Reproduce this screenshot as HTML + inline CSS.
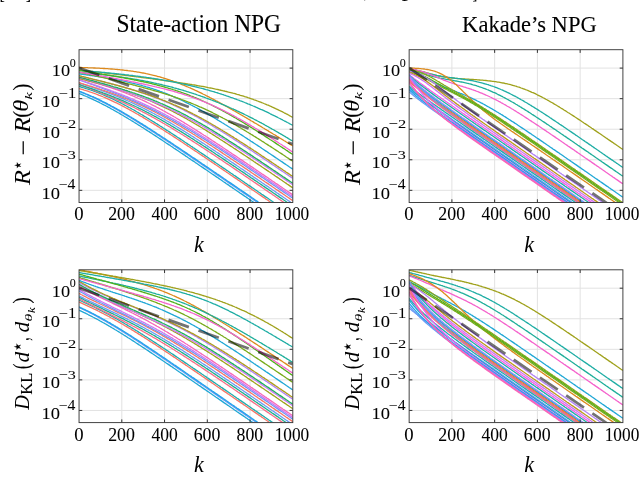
<!DOCTYPE html>
<html lang="en"><head><meta charset="utf-8"><title>NPG convergence</title>
<style>
html,body{margin:0;padding:0;background:#fff;width:640px;height:496px;overflow:hidden}
svg{display:block}
text{font-family:"Liberation Serif","DejaVu Serif",serif;fill:#000;stroke:#000;stroke-width:.15px}
.tk{font-size:16.6px}
.sup{font-size:12px}
.ti{font-size:21.5px}
.it{font-style:italic}
.rm{font-style:normal}
.grid{stroke:#e2e2e2;stroke-width:1;fill:none}
.tick{stroke:#333;stroke-width:1;fill:none}
.frame{stroke:#3a3a3a;stroke-width:.95;fill:none}
.c{fill:none;stroke-width:1.3;stroke-linejoin:round}
.dash{fill:none;stroke:#000;stroke-opacity:.55;stroke-width:2.7;stroke-dasharray:21.6 10.15}
.d2{stroke-dasharray:21.6 10.15}
</style></head><body>
<svg width="640" height="496" viewBox="0 0 640 496">
<defs><clipPath id="clip"><rect x="79.05" y="49.7" width="213.75" height="152.8"/></clipPath></defs>
<rect width="640" height="496" fill="#fff"/>

<text transform="matrix(0.4000 0 0 0.6121 -0.40 -1.51)" font-size="40" style="">[</text><text transform="matrix(0.4000 0 0 0.6121 25.80 -1.51)" font-size="40" style="">]</text><text transform="matrix(0.2833 0 0 0.3800 363.88 -1.48)" font-size="40" style="">,</text><text transform="matrix(0.6085 0 0 0.5486 401.74 -3.71)" font-size="40" style="">p</text><text transform="matrix(0.3657 0 0 0.5909 472.55 -2.10)" font-size="40" style="">]</text>
<g transform="translate(0,0)">
<path d="M121.80 49.7V202.5M164.55 49.7V202.5M207.30 49.7V202.5M250.05 49.7V202.5M79.05 68.10H292.80M79.05 98.66H292.80M79.05 129.22H292.80M79.05 159.78H292.80M79.05 190.34H292.80" class="grid"/>
<g clip-path="url(#clip)"><path class="c" stroke="#dc891c" d="M78.8 67.5L79.9 67.5L81.0 67.5L82.1 67.6L83.1 67.6L84.2 67.6L85.3 67.7L86.3 67.7L87.4 67.7L88.5 67.8L89.5 67.8L90.6 67.8L91.7 67.9L92.8 67.9L93.8 68.0L94.9 68.0L96.0 68.1L97.0 68.1L98.1 68.2L99.2 68.2L100.2 68.3L101.3 68.3L102.4 68.4L103.4 68.5L104.5 68.5L105.6 68.6L106.7 68.7L107.7 68.7L108.8 68.8L109.9 68.9L110.9 69.0L112.0 69.0L113.1 69.1L114.1 69.2L115.2 69.3L116.3 69.4L117.4 69.5L118.4 69.6L119.5 69.7L120.6 69.8L121.6 69.9L122.7 70.0L123.8 70.1L124.8 70.3L125.9 70.4L127.0 70.5L128.0 70.7L129.1 70.8L130.2 70.9L131.3 71.1L132.3 71.2L133.4 71.4L134.5 71.6L135.5 71.7L136.6 71.9L137.7 72.1L138.7 72.2L139.8 72.4L140.9 72.6L142.0 72.8L143.0 73.0L144.1 73.2L145.2 73.4L146.2 73.7L147.3 73.9L148.4 74.1L149.4 74.3L150.5 74.6L151.6 74.8L152.6 75.1L153.7 75.3L154.8 75.6L155.9 75.9L156.9 76.2L158.0 76.5L159.1 76.7L160.1 77.0L161.2 77.3L162.3 77.7L163.3 78.0L164.4 78.3L165.5 78.6L166.5 79.0L167.6 79.3L168.7 79.7L169.8 80.0L170.8 80.4L171.9 80.7L173.0 81.1L174.0 81.5L175.1 81.9L176.2 82.3L177.2 82.7L178.3 83.1L179.4 83.5L180.5 83.9L181.5 84.3L182.6 84.8L183.7 85.2L184.7 85.7L185.8 86.1L186.9 86.6L187.9 87.0L189.0 87.5L190.1 87.9L191.1 88.4L192.2 88.9L193.3 89.4L194.4 89.9L195.4 90.4L196.5 90.9L197.6 91.4L198.6 91.9L199.7 92.4L200.8 92.9L201.8 93.4L202.9 94.0L204.0 94.5L205.1 95.0L206.1 95.6L207.2 96.1L208.3 96.7L209.3 97.2L210.4 97.8L211.5 98.3L212.5 98.9L213.6 99.4L214.7 100.0L215.7 100.6L216.8 101.2L217.9 101.7L219.0 102.3L220.0 102.9L221.1 103.5L222.2 104.1L223.2 104.7L224.3 105.3L225.4 105.8L226.4 106.4L227.5 107.0L228.6 107.6L229.6 108.2L230.7 108.9L231.8 109.5L232.9 110.1L233.9 110.7L235.0 111.3L236.1 111.9L237.1 112.5L238.2 113.1L239.3 113.8L240.3 114.4L241.4 115.0L242.5 115.6L243.6 116.3L244.6 116.9L245.7 117.5L246.8 118.1L247.8 118.8L248.9 119.4L250.0 120.0L251.0 120.7L252.1 121.3L253.2 121.9L254.2 122.6L255.3 123.2L256.4 123.8L257.5 124.5L258.5 125.1L259.6 125.8L260.7 126.4L261.7 127.0L262.8 127.7L263.9 128.3L264.9 129.0L266.0 129.6L267.1 130.3L268.2 130.9L269.2 131.6L270.3 132.2L271.4 132.9L272.4 133.5L273.5 134.2L274.6 134.8L275.6 135.4L276.7 136.1L277.8 136.7L278.8 137.4L279.9 138.1L281.0 138.7L282.1 139.4L283.1 140.0L284.2 140.7L285.3 141.3L286.3 142.0L287.4 142.6L288.5 143.3L289.5 143.9L290.6 144.6L291.7 145.2L292.8 145.9"/><path class="c" stroke="#9fa11b" d="M78.8 69.8L79.9 69.9L81.0 70.1L82.1 70.2L83.1 70.3L84.2 70.4L85.3 70.6L86.3 70.7L87.4 70.8L88.5 71.0L89.5 71.1L90.6 71.2L91.7 71.3L92.8 71.5L93.8 71.6L94.9 71.7L96.0 71.8L97.0 72.0L98.1 72.1L99.2 72.2L100.2 72.4L101.3 72.5L102.4 72.6L103.4 72.7L104.5 72.9L105.6 73.0L106.7 73.1L107.7 73.3L108.8 73.4L109.9 73.5L110.9 73.6L112.0 73.8L113.1 73.9L114.1 74.0L115.2 74.2L116.3 74.3L117.4 74.4L118.4 74.5L119.5 74.7L120.6 74.8L121.6 74.9L122.7 75.1L123.8 75.2L124.8 75.3L125.9 75.5L127.0 75.6L128.0 75.7L129.1 75.9L130.2 76.0L131.3 76.1L132.3 76.3L133.4 76.4L134.5 76.5L135.5 76.7L136.6 76.8L137.7 76.9L138.7 77.1L139.8 77.2L140.9 77.3L142.0 77.5L143.0 77.6L144.1 77.8L145.2 77.9L146.2 78.0L147.3 78.2L148.4 78.3L149.4 78.4L150.5 78.6L151.6 78.7L152.6 78.9L153.7 79.0L154.8 79.2L155.9 79.3L156.9 79.4L158.0 79.6L159.1 79.7L160.1 79.9L161.2 80.0L162.3 80.2L163.3 80.3L164.4 80.5L165.5 80.6L166.5 80.8L167.6 80.9L168.7 81.1L169.8 81.2L170.8 81.4L171.9 81.5L173.0 81.7L174.0 81.8L175.1 82.0L176.2 82.1L177.2 82.3L178.3 82.5L179.4 82.6L180.5 82.8L181.5 83.0L182.6 83.1L183.7 83.3L184.7 83.4L185.8 83.6L186.9 83.8L187.9 84.0L189.0 84.1L190.1 84.3L191.1 84.5L192.2 84.7L193.3 84.8L194.4 85.0L195.4 85.2L196.5 85.4L197.6 85.6L198.6 85.8L199.7 86.0L200.8 86.1L201.8 86.3L202.9 86.5L204.0 86.7L205.1 86.9L206.1 87.1L207.2 87.3L208.3 87.6L209.3 87.8L210.4 88.0L211.5 88.2L212.5 88.4L213.6 88.6L214.7 88.9L215.7 89.1L216.8 89.3L217.9 89.5L219.0 89.8L220.0 90.0L221.1 90.3L222.2 90.5L223.2 90.8L224.3 91.0L225.4 91.3L226.4 91.5L227.5 91.8L228.6 92.1L229.6 92.3L230.7 92.6L231.8 92.9L232.9 93.2L233.9 93.4L235.0 93.7L236.1 94.0L237.1 94.3L238.2 94.6L239.3 94.9L240.3 95.3L241.4 95.6L242.5 95.9L243.6 96.2L244.6 96.6L245.7 96.9L246.8 97.2L247.8 97.6L248.9 97.9L250.0 98.3L251.0 98.7L252.1 99.0L253.2 99.4L254.2 99.8L255.3 100.2L256.4 100.6L257.5 101.0L258.5 101.4L259.6 101.8L260.7 102.2L261.7 102.6L262.8 103.0L263.9 103.5L264.9 103.9L266.0 104.3L267.1 104.8L268.2 105.2L269.2 105.7L270.3 106.2L271.4 106.6L272.4 107.1L273.5 107.6L274.6 108.1L275.6 108.6L276.7 109.1L277.8 109.6L278.8 110.1L279.9 110.6L281.0 111.2L282.1 111.7L283.1 112.2L284.2 112.8L285.3 113.3L286.3 113.9L287.4 114.4L288.5 115.0L289.5 115.6L290.6 116.2L291.7 116.8L292.8 117.3"/><path class="c" stroke="#1eada4" d="M78.8 70.4L79.9 70.5L81.0 70.5L82.1 70.6L83.1 70.7L84.2 70.8L85.3 70.9L86.3 71.0L87.4 71.1L88.5 71.1L89.5 71.2L90.6 71.3L91.7 71.4L92.8 71.5L93.8 71.6L94.9 71.7L96.0 71.8L97.0 71.9L98.1 72.0L99.2 72.1L100.2 72.2L101.3 72.3L102.4 72.3L103.4 72.4L104.5 72.5L105.6 72.6L106.7 72.8L107.7 72.9L108.8 73.0L109.9 73.1L110.9 73.2L112.0 73.3L113.1 73.4L114.1 73.5L115.2 73.6L116.3 73.7L117.4 73.8L118.4 73.9L119.5 74.1L120.6 74.2L121.6 74.3L122.7 74.4L123.8 74.5L124.8 74.7L125.9 74.8L127.0 74.9L128.0 75.0L129.1 75.2L130.2 75.3L131.3 75.4L132.3 75.5L133.4 75.7L134.5 75.8L135.5 76.0L136.6 76.1L137.7 76.2L138.7 76.4L139.8 76.5L140.9 76.7L142.0 76.8L143.0 76.9L144.1 77.1L145.2 77.2L146.2 77.4L147.3 77.6L148.4 77.7L149.4 77.9L150.5 78.0L151.6 78.2L152.6 78.4L153.7 78.5L154.8 78.7L155.9 78.9L156.9 79.0L158.0 79.2L159.1 79.4L160.1 79.6L161.2 79.7L162.3 79.9L163.3 80.1L164.4 80.3L165.5 80.5L166.5 80.7L167.6 80.9L168.7 81.1L169.8 81.3L170.8 81.5L171.9 81.7L173.0 81.9L174.0 82.1L175.1 82.3L176.2 82.5L177.2 82.7L178.3 82.9L179.4 83.1L180.5 83.4L181.5 83.6L182.6 83.8L183.7 84.1L184.7 84.3L185.8 84.5L186.9 84.8L187.9 85.0L189.0 85.3L190.1 85.5L191.1 85.8L192.2 86.0L193.3 86.3L194.4 86.5L195.4 86.8L196.5 87.0L197.6 87.3L198.6 87.6L199.7 87.9L200.8 88.1L201.8 88.4L202.9 88.7L204.0 89.0L205.1 89.3L206.1 89.6L207.2 89.9L208.3 90.2L209.3 90.5L210.4 90.8L211.5 91.1L212.5 91.4L213.6 91.7L214.7 92.0L215.7 92.4L216.8 92.7L217.9 93.0L219.0 93.4L220.0 93.7L221.1 94.0L222.2 94.4L223.2 94.7L224.3 95.1L225.4 95.4L226.4 95.8L227.5 96.2L228.6 96.5L229.6 96.9L230.7 97.3L231.8 97.6L232.9 98.0L233.9 98.4L235.0 98.8L236.1 99.2L237.1 99.6L238.2 100.0L239.3 100.4L240.3 100.8L241.4 101.2L242.5 101.6L243.6 102.0L244.6 102.5L245.7 102.9L246.8 103.3L247.8 103.8L248.9 104.2L250.0 104.6L251.0 105.1L252.1 105.5L253.2 106.0L254.2 106.4L255.3 106.9L256.4 107.4L257.5 107.8L258.5 108.3L259.6 108.8L260.7 109.3L261.7 109.7L262.8 110.2L263.9 110.7L264.9 111.2L266.0 111.7L267.1 112.2L268.2 112.7L269.2 113.2L270.3 113.8L271.4 114.3L272.4 114.8L273.5 115.3L274.6 115.8L275.6 116.4L276.7 116.9L277.8 117.5L278.8 118.0L279.9 118.5L281.0 119.1L282.1 119.6L283.1 120.2L284.2 120.8L285.3 121.3L286.3 121.9L287.4 122.5L288.5 123.0L289.5 123.6L290.6 124.2L291.7 124.8L292.8 125.4"/><path class="c" stroke="#1dae99" d="M78.8 72.4L79.9 72.5L81.0 72.6L82.1 72.7L83.1 72.8L84.2 72.8L85.3 72.9L86.3 73.0L87.4 73.1L88.5 73.2L89.5 73.3L90.6 73.4L91.7 73.5L92.8 73.6L93.8 73.7L94.9 73.9L96.0 74.0L97.0 74.1L98.1 74.2L99.2 74.3L100.2 74.4L101.3 74.5L102.4 74.7L103.4 74.8L104.5 74.9L105.6 75.0L106.7 75.1L107.7 75.3L108.8 75.4L109.9 75.5L110.9 75.7L112.0 75.8L113.1 75.9L114.1 76.1L115.2 76.2L116.3 76.4L117.4 76.5L118.4 76.7L119.5 76.8L120.6 77.0L121.6 77.1L122.7 77.3L123.8 77.4L124.8 77.6L125.9 77.8L127.0 77.9L128.0 78.1L129.1 78.3L130.2 78.4L131.3 78.6L132.3 78.8L133.4 79.0L134.5 79.1L135.5 79.3L136.6 79.5L137.7 79.7L138.7 79.9L139.8 80.1L140.9 80.3L142.0 80.5L143.0 80.7L144.1 80.9L145.2 81.1L146.2 81.3L147.3 81.5L148.4 81.7L149.4 82.0L150.5 82.2L151.6 82.4L152.6 82.6L153.7 82.9L154.8 83.1L155.9 83.3L156.9 83.6L158.0 83.8L159.1 84.0L160.1 84.3L161.2 84.5L162.3 84.8L163.3 85.1L164.4 85.3L165.5 85.6L166.5 85.8L167.6 86.1L168.7 86.4L169.8 86.7L170.8 86.9L171.9 87.2L173.0 87.5L174.0 87.8L175.1 88.1L176.2 88.4L177.2 88.7L178.3 89.0L179.4 89.3L180.5 89.6L181.5 89.9L182.6 90.2L183.7 90.5L184.7 90.8L185.8 91.2L186.9 91.5L187.9 91.8L189.0 92.2L190.1 92.5L191.1 92.8L192.2 93.2L193.3 93.5L194.4 93.9L195.4 94.2L196.5 94.6L197.6 95.0L198.6 95.3L199.7 95.7L200.8 96.1L201.8 96.4L202.9 96.8L204.0 97.2L205.1 97.6L206.1 98.0L207.2 98.4L208.3 98.8L209.3 99.2L210.4 99.6L211.5 100.0L212.5 100.4L213.6 100.8L214.7 101.2L215.7 101.7L216.8 102.1L217.9 102.5L219.0 103.0L220.0 103.4L221.1 103.8L222.2 104.3L223.2 104.7L224.3 105.2L225.4 105.6L226.4 106.1L227.5 106.6L228.6 107.0L229.6 107.5L230.7 108.0L231.8 108.5L232.9 108.9L233.9 109.4L235.0 109.9L236.1 110.4L237.1 110.9L238.2 111.4L239.3 111.9L240.3 112.4L241.4 112.9L242.5 113.4L243.6 113.9L244.6 114.5L245.7 115.0L246.8 115.5L247.8 116.0L248.9 116.6L250.0 117.1L251.0 117.7L252.1 118.2L253.2 118.7L254.2 119.3L255.3 119.9L256.4 120.4L257.5 121.0L258.5 121.5L259.6 122.1L260.7 122.7L261.7 123.2L262.8 123.8L263.9 124.4L264.9 125.0L266.0 125.6L267.1 126.2L268.2 126.8L269.2 127.4L270.3 128.0L271.4 128.6L272.4 129.2L273.5 129.8L274.6 130.4L275.6 131.0L276.7 131.6L277.8 132.2L278.8 132.9L279.9 133.5L281.0 134.1L282.1 134.7L283.1 135.4L284.2 136.0L285.3 136.6L286.3 137.3L287.4 137.9L288.5 138.6L289.5 139.2L290.6 139.9L291.7 140.5L292.8 141.2"/><path class="c" stroke="#1fa7d5" d="M78.8 93.4L79.9 93.8L81.0 94.2L82.1 94.7L83.1 95.1L84.2 95.6L85.3 96.0L86.3 96.5L87.4 96.9L88.5 97.4L89.5 97.9L90.6 98.4L91.7 98.8L92.8 99.3L93.8 99.8L94.9 100.3L96.0 100.9L97.0 101.4L98.1 101.9L99.2 102.4L100.2 103.0L101.3 103.5L102.4 104.1L103.4 104.6L104.5 105.2L105.6 105.7L106.7 106.3L107.7 106.9L108.8 107.4L109.9 108.0L110.9 108.6L112.0 109.2L113.1 109.8L114.1 110.4L115.2 111.0L116.3 111.6L117.4 112.2L118.4 112.8L119.5 113.4L120.6 114.1L121.6 114.7L122.7 115.3L123.8 116.0L124.8 116.6L125.9 117.2L127.0 117.9L128.0 118.5L129.1 119.2L130.2 119.8L131.3 120.5L132.3 121.1L133.4 121.8L134.5 122.5L135.5 123.1L136.6 123.8L137.7 124.5L138.7 125.1L139.8 125.8L140.9 126.5L142.0 127.2L143.0 127.8L144.1 128.5L145.2 129.2L146.2 129.9L147.3 130.6L148.4 131.3L149.4 131.9L150.5 132.6L151.6 133.3L152.6 134.0L153.7 134.7L154.8 135.4L155.9 136.1L156.9 136.8L158.0 137.5L159.1 138.2L160.1 138.9L161.2 139.6L162.3 140.3L163.3 141.0L164.4 141.7L165.5 142.5L166.5 143.2L167.6 143.9L168.7 144.6L169.8 145.3L170.8 146.0L171.9 146.7L173.0 147.4L174.0 148.2L175.1 148.9L176.2 149.6L177.2 150.3L178.3 151.0L179.4 151.7L180.5 152.5L181.5 153.2L182.6 153.9L183.7 154.6L184.7 155.3L185.8 156.1L186.9 156.8L187.9 157.5L189.0 158.2L190.1 158.9L191.1 159.7L192.2 160.4L193.3 161.1L194.4 161.8L195.4 162.6L196.5 163.3L197.6 164.0L198.6 164.7L199.7 165.5L200.8 166.2L201.8 166.9L202.9 167.6L204.0 168.4L205.1 169.1L206.1 169.8L207.2 170.5L208.3 171.3L209.3 172.0L210.4 172.7L211.5 173.5L212.5 174.2L213.6 174.9L214.7 175.6L215.7 176.4L216.8 177.1L217.9 177.8L219.0 178.6L220.0 179.3L221.1 180.0L222.2 180.8L223.2 181.5L224.3 182.2L225.4 182.9L226.4 183.7L227.5 184.4L228.6 185.1L229.6 185.9L230.7 186.6L231.8 187.3L232.9 188.1L233.9 188.8L235.0 189.5L236.1 190.2L237.1 191.0L238.2 191.7L239.3 192.4L240.3 193.2L241.4 193.9L242.5 194.6L243.6 195.4L244.6 196.1L245.7 196.8L246.8 197.6L247.8 198.3L248.9 199.0L250.0 199.8L251.0 200.5L252.1 201.2L253.2 202.0L254.2 202.7L255.3 203.4L256.4 204.2L257.5 204.9L258.5 205.6L259.6 206.3L260.7 207.1L261.7 207.8L262.8 208.5L263.9 209.3L264.9 210.0L266.0 210.7L267.1 211.5L268.2 212.2L269.2 212.9L270.3 213.7L271.4 214.4L272.4 215.1L273.5 215.9L274.6 216.6L275.6 217.3L276.7 218.1L277.8 218.8L278.8 219.5L279.9 220.3L281.0 221.0"/><path class="c" stroke="#6b9bf4" d="M78.8 91.4L79.9 91.8L81.0 92.2L82.1 92.7L83.1 93.1L84.2 93.5L85.3 94.0L86.3 94.4L87.4 94.9L88.5 95.3L89.5 95.8L90.6 96.3L91.7 96.7L92.8 97.2L93.8 97.7L94.9 98.2L96.0 98.7L97.0 99.2L98.1 99.7L99.2 100.3L100.2 100.8L101.3 101.3L102.4 101.9L103.4 102.4L104.5 102.9L105.6 103.5L106.7 104.1L107.7 104.6L108.8 105.2L109.9 105.8L110.9 106.3L112.0 106.9L113.1 107.5L114.1 108.1L115.2 108.7L116.3 109.3L117.4 109.9L118.4 110.5L119.5 111.1L120.6 111.8L121.6 112.4L122.7 113.0L123.8 113.6L124.8 114.3L125.9 114.9L127.0 115.5L128.0 116.2L129.1 116.8L130.2 117.5L131.3 118.1L132.3 118.8L133.4 119.4L134.5 120.1L135.5 120.7L136.6 121.4L137.7 122.1L138.7 122.7L139.8 123.4L140.9 124.1L142.0 124.8L143.0 125.4L144.1 126.1L145.2 126.8L146.2 127.5L147.3 128.2L148.4 128.8L149.4 129.5L150.5 130.2L151.6 130.9L152.6 131.6L153.7 132.3L154.8 133.0L155.9 133.7L156.9 134.4L158.0 135.1L159.1 135.8L160.1 136.5L161.2 137.2L162.3 137.9L163.3 138.6L164.4 139.3L165.5 140.0L166.5 140.7L167.6 141.4L168.7 142.1L169.8 142.8L170.8 143.6L171.9 144.3L173.0 145.0L174.0 145.7L175.1 146.4L176.2 147.1L177.2 147.8L178.3 148.6L179.4 149.3L180.5 150.0L181.5 150.7L182.6 151.4L183.7 152.1L184.7 152.9L185.8 153.6L186.9 154.3L187.9 155.0L189.0 155.7L190.1 156.5L191.1 157.2L192.2 157.9L193.3 158.6L194.4 159.4L195.4 160.1L196.5 160.8L197.6 161.5L198.6 162.3L199.7 163.0L200.8 163.7L201.8 164.4L202.9 165.2L204.0 165.9L205.1 166.6L206.1 167.3L207.2 168.1L208.3 168.8L209.3 169.5L210.4 170.3L211.5 171.0L212.5 171.7L213.6 172.4L214.7 173.2L215.7 173.9L216.8 174.6L217.9 175.4L219.0 176.1L220.0 176.8L221.1 177.5L222.2 178.3L223.2 179.0L224.3 179.7L225.4 180.5L226.4 181.2L227.5 181.9L228.6 182.7L229.6 183.4L230.7 184.1L231.8 184.8L232.9 185.6L233.9 186.3L235.0 187.0L236.1 187.8L237.1 188.5L238.2 189.2L239.3 190.0L240.3 190.7L241.4 191.4L242.5 192.2L243.6 192.9L244.6 193.6L245.7 194.3L246.8 195.1L247.8 195.8L248.9 196.5L250.0 197.3L251.0 198.0L252.1 198.7L253.2 199.5L254.2 200.2L255.3 200.9L256.4 201.7L257.5 202.4L258.5 203.1L259.6 203.9L260.7 204.6L261.7 205.3L262.8 206.1L263.9 206.8L264.9 207.5L266.0 208.3L267.1 209.0L268.2 209.7L269.2 210.5L270.3 211.2L271.4 211.9L272.4 212.7L273.5 213.4L274.6 214.1L275.6 214.9L276.7 215.6L277.8 216.3L278.8 217.1L279.9 217.8L281.0 218.5L282.1 219.2L283.1 220.0L284.2 220.7"/><path class="c" stroke="#20a3ec" d="M78.8 91.1L79.9 91.5L81.0 91.9L82.1 92.3L83.1 92.7L84.2 93.1L85.3 93.6L86.3 94.0L87.4 94.4L88.5 94.9L89.5 95.3L90.6 95.8L91.7 96.3L92.8 96.7L93.8 97.2L94.9 97.7L96.0 98.2L97.0 98.7L98.1 99.2L99.2 99.7L100.2 100.2L101.3 100.7L102.4 101.3L103.4 101.8L104.5 102.3L105.6 102.9L106.7 103.4L107.7 104.0L108.8 104.5L109.9 105.1L110.9 105.7L112.0 106.3L113.1 106.8L114.1 107.4L115.2 108.0L116.3 108.6L117.4 109.2L118.4 109.8L119.5 110.4L120.6 111.0L121.6 111.6L122.7 112.2L123.8 112.9L124.8 113.5L125.9 114.1L127.0 114.7L128.0 115.4L129.1 116.0L130.2 116.7L131.3 117.3L132.3 118.0L133.4 118.6L134.5 119.3L135.5 119.9L136.6 120.6L137.7 121.2L138.7 121.9L139.8 122.6L140.9 123.2L142.0 123.9L143.0 124.6L144.1 125.2L145.2 125.9L146.2 126.6L147.3 127.3L148.4 128.0L149.4 128.6L150.5 129.3L151.6 130.0L152.6 130.7L153.7 131.4L154.8 132.1L155.9 132.8L156.9 133.5L158.0 134.2L159.1 134.9L160.1 135.6L161.2 136.3L162.3 137.0L163.3 137.7L164.4 138.4L165.5 139.1L166.5 139.8L167.6 140.5L168.7 141.2L169.8 141.9L170.8 142.6L171.9 143.3L173.0 144.0L174.0 144.8L175.1 145.5L176.2 146.2L177.2 146.9L178.3 147.6L179.4 148.3L180.5 149.0L181.5 149.8L182.6 150.5L183.7 151.2L184.7 151.9L185.8 152.6L186.9 153.4L187.9 154.1L189.0 154.8L190.1 155.5L191.1 156.2L192.2 157.0L193.3 157.7L194.4 158.4L195.4 159.1L196.5 159.9L197.6 160.6L198.6 161.3L199.7 162.0L200.8 162.8L201.8 163.5L202.9 164.2L204.0 164.9L205.1 165.7L206.1 166.4L207.2 167.1L208.3 167.8L209.3 168.6L210.4 169.3L211.5 170.0L212.5 170.7L213.6 171.5L214.7 172.2L215.7 172.9L216.8 173.7L217.9 174.4L219.0 175.1L220.0 175.8L221.1 176.6L222.2 177.3L223.2 178.0L224.3 178.8L225.4 179.5L226.4 180.2L227.5 181.0L228.6 181.7L229.6 182.4L230.7 183.1L231.8 183.9L232.9 184.6L233.9 185.3L235.0 186.1L236.1 186.8L237.1 187.5L238.2 188.3L239.3 189.0L240.3 189.7L241.4 190.4L242.5 191.2L243.6 191.9L244.6 192.6L245.7 193.4L246.8 194.1L247.8 194.8L248.9 195.6L250.0 196.3L251.0 197.0L252.1 197.8L253.2 198.5L254.2 199.2L255.3 200.0L256.4 200.7L257.5 201.4L258.5 202.2L259.6 202.9L260.7 203.6L261.7 204.4L262.8 205.1L263.9 205.8L264.9 206.6L266.0 207.3L267.1 208.0L268.2 208.7L269.2 209.5L270.3 210.2L271.4 210.9L272.4 211.7L273.5 212.4L274.6 213.1L275.6 213.9L276.7 214.6L277.8 215.3L278.8 216.1L279.9 216.8L281.0 217.5L282.1 218.3L283.1 219.0L284.2 219.7L285.3 220.5L286.3 221.2"/><path class="c" stroke="#f77465" d="M78.8 88.5L79.9 88.8L81.0 89.1L82.1 89.4L83.1 89.7L84.2 90.1L85.3 90.4L86.3 90.7L87.4 91.0L88.5 91.4L89.5 91.8L90.6 92.1L91.7 92.5L92.8 92.9L93.8 93.2L94.9 93.6L96.0 94.0L97.0 94.4L98.1 94.8L99.2 95.3L100.2 95.7L101.3 96.1L102.4 96.5L103.4 97.0L104.5 97.4L105.6 97.9L106.7 98.4L107.7 98.8L108.8 99.3L109.9 99.8L110.9 100.3L112.0 100.8L113.1 101.3L114.1 101.8L115.2 102.3L116.3 102.8L117.4 103.4L118.4 103.9L119.5 104.4L120.6 105.0L121.6 105.5L122.7 106.1L123.8 106.6L124.8 107.2L125.9 107.8L127.0 108.3L128.0 108.9L129.1 109.5L130.2 110.1L131.3 110.7L132.3 111.3L133.4 111.9L134.5 112.5L135.5 113.1L136.6 113.7L137.7 114.3L138.7 114.9L139.8 115.6L140.9 116.2L142.0 116.8L143.0 117.4L144.1 118.1L145.2 118.7L146.2 119.4L147.3 120.0L148.4 120.7L149.4 121.3L150.5 122.0L151.6 122.6L152.6 123.3L153.7 123.9L154.8 124.6L155.9 125.3L156.9 125.9L158.0 126.6L159.1 127.3L160.1 128.0L161.2 128.6L162.3 129.3L163.3 130.0L164.4 130.7L165.5 131.4L166.5 132.1L167.6 132.8L168.7 133.4L169.8 134.1L170.8 134.8L171.9 135.5L173.0 136.2L174.0 136.9L175.1 137.6L176.2 138.3L177.2 139.0L178.3 139.7L179.4 140.4L180.5 141.1L181.5 141.8L182.6 142.5L183.7 143.2L184.7 144.0L185.8 144.7L186.9 145.4L187.9 146.1L189.0 146.8L190.1 147.5L191.1 148.2L192.2 148.9L193.3 149.7L194.4 150.4L195.4 151.1L196.5 151.8L197.6 152.5L198.6 153.2L199.7 154.0L200.8 154.7L201.8 155.4L202.9 156.1L204.0 156.8L205.1 157.6L206.1 158.3L207.2 159.0L208.3 159.7L209.3 160.4L210.4 161.2L211.5 161.9L212.5 162.6L213.6 163.3L214.7 164.1L215.7 164.8L216.8 165.5L217.9 166.2L219.0 167.0L220.0 167.7L221.1 168.4L222.2 169.1L223.2 169.9L224.3 170.6L225.4 171.3L226.4 172.1L227.5 172.8L228.6 173.5L229.6 174.2L230.7 175.0L231.8 175.7L232.9 176.4L233.9 177.2L235.0 177.9L236.1 178.6L237.1 179.3L238.2 180.1L239.3 180.8L240.3 181.5L241.4 182.3L242.5 183.0L243.6 183.7L244.6 184.4L245.7 185.2L246.8 185.9L247.8 186.6L248.9 187.4L250.0 188.1L251.0 188.8L252.1 189.6L253.2 190.3L254.2 191.0L255.3 191.8L256.4 192.5L257.5 193.2L258.5 194.0L259.6 194.7L260.7 195.4L261.7 196.1L262.8 196.9L263.9 197.6L264.9 198.3L266.0 199.1L267.1 199.8L268.2 200.5L269.2 201.3L270.3 202.0L271.4 202.7L272.4 203.5L273.5 204.2L274.6 204.9L275.6 205.7L276.7 206.4L277.8 207.1L278.8 207.9L279.9 208.6L281.0 209.3L282.1 210.1L283.1 210.8L284.2 211.5L285.3 212.3L286.3 213.0L287.4 213.7L288.5 214.4L289.5 215.2L290.6 215.9L291.7 216.6L292.8 217.4"/><path class="c" stroke="#1eacae" d="M78.8 86.4L79.9 86.7L81.0 87.0L82.1 87.3L83.1 87.6L84.2 87.9L85.3 88.3L86.3 88.6L87.4 88.9L88.5 89.3L89.5 89.6L90.6 90.0L91.7 90.4L92.8 90.7L93.8 91.1L94.9 91.5L96.0 91.9L97.0 92.3L98.1 92.7L99.2 93.2L100.2 93.6L101.3 94.0L102.4 94.5L103.4 94.9L104.5 95.4L105.6 95.8L106.7 96.3L107.7 96.8L108.8 97.2L109.9 97.7L110.9 98.2L112.0 98.7L113.1 99.2L114.1 99.7L115.2 100.2L116.3 100.8L117.4 101.3L118.4 101.8L119.5 102.4L120.6 102.9L121.6 103.5L122.7 104.0L123.8 104.6L124.8 105.1L125.9 105.7L127.0 106.3L128.0 106.9L129.1 107.5L130.2 108.0L131.3 108.6L132.3 109.2L133.4 109.8L134.5 110.4L135.5 111.0L136.6 111.7L137.7 112.3L138.7 112.9L139.8 113.5L140.9 114.2L142.0 114.8L143.0 115.4L144.1 116.1L145.2 116.7L146.2 117.3L147.3 118.0L148.4 118.6L149.4 119.3L150.5 120.0L151.6 120.6L152.6 121.3L153.7 121.9L154.8 122.6L155.9 123.3L156.9 123.9L158.0 124.6L159.1 125.3L160.1 126.0L161.2 126.6L162.3 127.3L163.3 128.0L164.4 128.7L165.5 129.4L166.5 130.1L167.6 130.8L168.7 131.4L169.8 132.1L170.8 132.8L171.9 133.5L173.0 134.2L174.0 134.9L175.1 135.6L176.2 136.3L177.2 137.0L178.3 137.7L179.4 138.4L180.5 139.1L181.5 139.8L182.6 140.5L183.7 141.3L184.7 142.0L185.8 142.7L186.9 143.4L187.9 144.1L189.0 144.8L190.1 145.5L191.1 146.2L192.2 146.9L193.3 147.7L194.4 148.4L195.4 149.1L196.5 149.8L197.6 150.5L198.6 151.2L199.7 152.0L200.8 152.7L201.8 153.4L202.9 154.1L204.0 154.8L205.1 155.6L206.1 156.3L207.2 157.0L208.3 157.7L209.3 158.5L210.4 159.2L211.5 159.9L212.5 160.6L213.6 161.3L214.7 162.1L215.7 162.8L216.8 163.5L217.9 164.2L219.0 165.0L220.0 165.7L221.1 166.4L222.2 167.2L223.2 167.9L224.3 168.6L225.4 169.3L226.4 170.1L227.5 170.8L228.6 171.5L229.6 172.2L230.7 173.0L231.8 173.7L232.9 174.4L233.9 175.2L235.0 175.9L236.1 176.6L237.1 177.4L238.2 178.1L239.3 178.8L240.3 179.5L241.4 180.3L242.5 181.0L243.6 181.7L244.6 182.5L245.7 183.2L246.8 183.9L247.8 184.7L248.9 185.4L250.0 186.1L251.0 186.8L252.1 187.6L253.2 188.3L254.2 189.0L255.3 189.8L256.4 190.5L257.5 191.2L258.5 192.0L259.6 192.7L260.7 193.4L261.7 194.2L262.8 194.9L263.9 195.6L264.9 196.4L266.0 197.1L267.1 197.8L268.2 198.5L269.2 199.3L270.3 200.0L271.4 200.7L272.4 201.5L273.5 202.2L274.6 202.9L275.6 203.7L276.7 204.4L277.8 205.1L278.8 205.9L279.9 206.6L281.0 207.3L282.1 208.1L283.1 208.8L284.2 209.5L285.3 210.3L286.3 211.0L287.4 211.7L288.5 212.5L289.5 213.2L290.6 213.9L291.7 214.7L292.8 215.4"/><path class="c" stroke="#f76e89" d="M78.8 84.6L79.9 84.9L81.0 85.3L82.1 85.7L83.1 86.1L84.2 86.5L85.3 86.9L86.3 87.3L87.4 87.7L88.5 88.1L89.5 88.5L90.6 88.9L91.7 89.3L92.8 89.7L93.8 90.2L94.9 90.6L96.0 91.0L97.0 91.4L98.1 91.8L99.2 92.2L100.2 92.7L101.3 93.1L102.4 93.5L103.4 93.9L104.5 94.4L105.6 94.8L106.7 95.3L107.7 95.7L108.8 96.1L109.9 96.6L110.9 97.0L112.0 97.5L113.1 97.9L114.1 98.4L115.2 98.9L116.3 99.3L117.4 99.8L118.4 100.3L119.5 100.7L120.6 101.2L121.6 101.7L122.7 102.2L123.8 102.7L124.8 103.2L125.9 103.7L127.0 104.2L128.0 104.7L129.1 105.2L130.2 105.7L131.3 106.2L132.3 106.7L133.4 107.2L134.5 107.7L135.5 108.3L136.6 108.8L137.7 109.3L138.7 109.9L139.8 110.4L140.9 111.0L142.0 111.5L143.0 112.1L144.1 112.6L145.2 113.2L146.2 113.7L147.3 114.3L148.4 114.9L149.4 115.4L150.5 116.0L151.6 116.6L152.6 117.2L153.7 117.8L154.8 118.4L155.9 119.0L156.9 119.6L158.0 120.2L159.1 120.8L160.1 121.4L161.2 122.0L162.3 122.6L163.3 123.2L164.4 123.8L165.5 124.5L166.5 125.1L167.6 125.7L168.7 126.4L169.8 127.0L170.8 127.6L171.9 128.3L173.0 128.9L174.0 129.6L175.1 130.2L176.2 130.9L177.2 131.5L178.3 132.2L179.4 132.8L180.5 133.5L181.5 134.2L182.6 134.8L183.7 135.5L184.7 136.2L185.8 136.8L186.9 137.5L187.9 138.2L189.0 138.9L190.1 139.5L191.1 140.2L192.2 140.9L193.3 141.6L194.4 142.3L195.4 143.0L196.5 143.6L197.6 144.3L198.6 145.0L199.7 145.7L200.8 146.4L201.8 147.1L202.9 147.8L204.0 148.5L205.1 149.2L206.1 149.9L207.2 150.6L208.3 151.3L209.3 152.0L210.4 152.7L211.5 153.4L212.5 154.1L213.6 154.8L214.7 155.5L215.7 156.3L216.8 157.0L217.9 157.7L219.0 158.4L220.0 159.1L221.1 159.8L222.2 160.5L223.2 161.2L224.3 162.0L225.4 162.7L226.4 163.4L227.5 164.1L228.6 164.8L229.6 165.5L230.7 166.3L231.8 167.0L232.9 167.7L233.9 168.4L235.0 169.1L236.1 169.9L237.1 170.6L238.2 171.3L239.3 172.0L240.3 172.8L241.4 173.5L242.5 174.2L243.6 174.9L244.6 175.7L245.7 176.4L246.8 177.1L247.8 177.8L248.9 178.6L250.0 179.3L251.0 180.0L252.1 180.7L253.2 181.5L254.2 182.2L255.3 182.9L256.4 183.6L257.5 184.4L258.5 185.1L259.6 185.8L260.7 186.6L261.7 187.3L262.8 188.0L263.9 188.7L264.9 189.5L266.0 190.2L267.1 190.9L268.2 191.7L269.2 192.4L270.3 193.1L271.4 193.8L272.4 194.6L273.5 195.3L274.6 196.0L275.6 196.8L276.7 197.5L277.8 198.2L278.8 199.0L279.9 199.7L281.0 200.4L282.1 201.2L283.1 201.9L284.2 202.6L285.3 203.3L286.3 204.1L287.4 204.8L288.5 205.5L289.5 206.3L290.6 207.0L291.7 207.7L292.8 208.5"/><path class="c" stroke="#1daf8c" d="M78.8 84.4L79.9 84.7L81.0 85.1L82.1 85.5L83.1 85.8L84.2 86.2L85.3 86.5L86.3 86.9L87.4 87.2L88.5 87.6L89.5 88.0L90.6 88.3L91.7 88.7L92.8 89.1L93.8 89.5L94.9 89.8L96.0 90.2L97.0 90.6L98.1 91.0L99.2 91.4L100.2 91.8L101.3 92.2L102.4 92.6L103.4 93.0L104.5 93.4L105.6 93.8L106.7 94.2L107.7 94.6L108.8 95.0L109.9 95.4L110.9 95.8L112.0 96.3L113.1 96.7L114.1 97.1L115.2 97.6L116.3 98.0L117.4 98.4L118.4 98.9L119.5 99.3L120.6 99.8L121.6 100.2L122.7 100.7L123.8 101.2L124.8 101.6L125.9 102.1L127.0 102.6L128.0 103.0L129.1 103.5L130.2 104.0L131.3 104.5L132.3 105.0L133.4 105.5L134.5 106.0L135.5 106.5L136.6 107.0L137.7 107.5L138.7 108.1L139.8 108.6L140.9 109.1L142.0 109.6L143.0 110.2L144.1 110.7L145.2 111.3L146.2 111.8L147.3 112.4L148.4 112.9L149.4 113.5L150.5 114.0L151.6 114.6L152.6 115.2L153.7 115.8L154.8 116.3L155.9 116.9L156.9 117.5L158.0 118.1L159.1 118.7L160.1 119.3L161.2 119.9L162.3 120.5L163.3 121.1L164.4 121.7L165.5 122.3L166.5 123.0L167.6 123.6L168.7 124.2L169.8 124.8L170.8 125.5L171.9 126.1L173.0 126.7L174.0 127.4L175.1 128.0L176.2 128.7L177.2 129.3L178.3 130.0L179.4 130.6L180.5 131.3L181.5 131.9L182.6 132.6L183.7 133.3L184.7 133.9L185.8 134.6L186.9 135.3L187.9 135.9L189.0 136.6L190.1 137.3L191.1 138.0L192.2 138.6L193.3 139.3L194.4 140.0L195.4 140.7L196.5 141.4L197.6 142.1L198.6 142.7L199.7 143.4L200.8 144.1L201.8 144.8L202.9 145.5L204.0 146.2L205.1 146.9L206.1 147.6L207.2 148.3L208.3 149.0L209.3 149.7L210.4 150.4L211.5 151.1L212.5 151.8L213.6 152.5L214.7 153.2L215.7 154.0L216.8 154.7L217.9 155.4L219.0 156.1L220.0 156.8L221.1 157.5L222.2 158.2L223.2 158.9L224.3 159.6L225.4 160.4L226.4 161.1L227.5 161.8L228.6 162.5L229.6 163.2L230.7 163.9L231.8 164.7L232.9 165.4L233.9 166.1L235.0 166.8L236.1 167.5L237.1 168.3L238.2 169.0L239.3 169.7L240.3 170.4L241.4 171.2L242.5 171.9L243.6 172.6L244.6 173.3L245.7 174.1L246.8 174.8L247.8 175.5L248.9 176.2L250.0 177.0L251.0 177.7L252.1 178.4L253.2 179.1L254.2 179.9L255.3 180.6L256.4 181.3L257.5 182.0L258.5 182.8L259.6 183.5L260.7 184.2L261.7 184.9L262.8 185.7L263.9 186.4L264.9 187.1L266.0 187.9L267.1 188.6L268.2 189.3L269.2 190.1L270.3 190.8L271.4 191.5L272.4 192.2L273.5 193.0L274.6 193.7L275.6 194.4L276.7 195.2L277.8 195.9L278.8 196.6L279.9 197.4L281.0 198.1L282.1 198.8L283.1 199.5L284.2 200.3L285.3 201.0L286.3 201.7L287.4 202.5L288.5 203.2L289.5 203.9L290.6 204.7L291.7 205.4L292.8 206.1"/><path class="c" stroke="#6b9bf4" d="M78.8 82.9L79.9 83.2L81.0 83.6L82.1 83.9L83.1 84.2L84.2 84.6L85.3 84.9L86.3 85.3L87.4 85.6L88.5 86.0L89.5 86.3L90.6 86.7L91.7 87.1L92.8 87.4L93.8 87.8L94.9 88.1L96.0 88.5L97.0 88.9L98.1 89.3L99.2 89.6L100.2 90.0L101.3 90.4L102.4 90.8L103.4 91.2L104.5 91.6L105.6 92.0L106.7 92.4L107.7 92.7L108.8 93.2L109.9 93.6L110.9 94.0L112.0 94.4L113.1 94.8L114.1 95.2L115.2 95.6L116.3 96.1L117.4 96.5L118.4 96.9L119.5 97.4L120.6 97.8L121.6 98.3L122.7 98.7L123.8 99.2L124.8 99.6L125.9 100.1L127.0 100.5L128.0 101.0L129.1 101.5L130.2 102.0L131.3 102.4L132.3 102.9L133.4 103.4L134.5 103.9L135.5 104.4L136.6 104.9L137.7 105.4L138.7 105.9L139.8 106.4L140.9 107.0L142.0 107.5L143.0 108.0L144.1 108.5L145.2 109.1L146.2 109.6L147.3 110.2L148.4 110.7L149.4 111.3L150.5 111.8L151.6 112.4L152.6 113.0L153.7 113.5L154.8 114.1L155.9 114.7L156.9 115.3L158.0 115.8L159.1 116.4L160.1 117.0L161.2 117.6L162.3 118.2L163.3 118.8L164.4 119.4L165.5 120.0L166.5 120.7L167.6 121.3L168.7 121.9L169.8 122.5L170.8 123.1L171.9 123.8L173.0 124.4L174.0 125.0L175.1 125.7L176.2 126.3L177.2 127.0L178.3 127.6L179.4 128.3L180.5 128.9L181.5 129.6L182.6 130.2L183.7 130.9L184.7 131.5L185.8 132.2L186.9 132.9L187.9 133.5L189.0 134.2L190.1 134.9L191.1 135.6L192.2 136.2L193.3 136.9L194.4 137.6L195.4 138.3L196.5 139.0L197.6 139.6L198.6 140.3L199.7 141.0L200.8 141.7L201.8 142.4L202.9 143.1L204.0 143.8L205.1 144.5L206.1 145.2L207.2 145.9L208.3 146.6L209.3 147.3L210.4 148.0L211.5 148.7L212.5 149.4L213.6 150.1L214.7 150.8L215.7 151.5L216.8 152.2L217.9 152.9L219.0 153.6L220.0 154.3L221.1 155.0L222.2 155.8L223.2 156.5L224.3 157.2L225.4 157.9L226.4 158.6L227.5 159.3L228.6 160.0L229.6 160.8L230.7 161.5L231.8 162.2L232.9 162.9L233.9 163.6L235.0 164.4L236.1 165.1L237.1 165.8L238.2 166.5L239.3 167.2L240.3 168.0L241.4 168.7L242.5 169.4L243.6 170.1L244.6 170.9L245.7 171.6L246.8 172.3L247.8 173.0L248.9 173.7L250.0 174.5L251.0 175.2L252.1 175.9L253.2 176.7L254.2 177.4L255.3 178.1L256.4 178.8L257.5 179.6L258.5 180.3L259.6 181.0L260.7 181.7L261.7 182.5L262.8 183.2L263.9 183.9L264.9 184.7L266.0 185.4L267.1 186.1L268.2 186.8L269.2 187.6L270.3 188.3L271.4 189.0L272.4 189.8L273.5 190.5L274.6 191.2L275.6 191.9L276.7 192.7L277.8 193.4L278.8 194.1L279.9 194.9L281.0 195.6L282.1 196.3L283.1 197.1L284.2 197.8L285.3 198.5L286.3 199.3L287.4 200.0L288.5 200.7L289.5 201.4L290.6 202.2L291.7 202.9L292.8 203.6"/><path class="c" stroke="#f77465" d="M78.8 82.7L79.9 83.0L81.0 83.3L82.1 83.7L83.1 84.0L84.2 84.3L85.3 84.6L86.3 84.9L87.4 85.2L88.5 85.6L89.5 85.9L90.6 86.2L91.7 86.5L92.8 86.9L93.8 87.2L94.9 87.6L96.0 87.9L97.0 88.2L98.1 88.6L99.2 88.9L100.2 89.3L101.3 89.6L102.4 90.0L103.4 90.3L104.5 90.7L105.6 91.1L106.7 91.4L107.7 91.8L108.8 92.2L109.9 92.5L110.9 92.9L112.0 93.3L113.1 93.7L114.1 94.1L115.2 94.5L116.3 94.9L117.4 95.3L118.4 95.7L119.5 96.1L120.6 96.5L121.6 96.9L122.7 97.3L123.8 97.8L124.8 98.2L125.9 98.6L127.0 99.0L128.0 99.5L129.1 99.9L130.2 100.4L131.3 100.8L132.3 101.3L133.4 101.8L134.5 102.2L135.5 102.7L136.6 103.2L137.7 103.6L138.7 104.1L139.8 104.6L140.9 105.1L142.0 105.6L143.0 106.1L144.1 106.6L145.2 107.1L146.2 107.6L147.3 108.2L148.4 108.7L149.4 109.2L150.5 109.7L151.6 110.3L152.6 110.8L153.7 111.4L154.8 111.9L155.9 112.5L156.9 113.0L158.0 113.6L159.1 114.2L160.1 114.7L161.2 115.3L162.3 115.9L163.3 116.5L164.4 117.1L165.5 117.7L166.5 118.3L167.6 118.9L168.7 119.5L169.8 120.1L170.8 120.7L171.9 121.3L173.0 121.9L174.0 122.5L175.1 123.1L176.2 123.8L177.2 124.4L178.3 125.0L179.4 125.7L180.5 126.3L181.5 126.9L182.6 127.6L183.7 128.2L184.7 128.9L185.8 129.5L186.9 130.2L187.9 130.9L189.0 131.5L190.1 132.2L191.1 132.8L192.2 133.5L193.3 134.2L194.4 134.8L195.4 135.5L196.5 136.2L197.6 136.9L198.6 137.5L199.7 138.2L200.8 138.9L201.8 139.6L202.9 140.3L204.0 141.0L205.1 141.7L206.1 142.3L207.2 143.0L208.3 143.7L209.3 144.4L210.4 145.1L211.5 145.8L212.5 146.5L213.6 147.2L214.7 147.9L215.7 148.6L216.8 149.3L217.9 150.0L219.0 150.7L220.0 151.4L221.1 152.1L222.2 152.9L223.2 153.6L224.3 154.3L225.4 155.0L226.4 155.7L227.5 156.4L228.6 157.1L229.6 157.8L230.7 158.6L231.8 159.3L232.9 160.0L233.9 160.7L235.0 161.4L236.1 162.1L237.1 162.9L238.2 163.6L239.3 164.3L240.3 165.0L241.4 165.7L242.5 166.4L243.6 167.2L244.6 167.9L245.7 168.6L246.8 169.3L247.8 170.1L248.9 170.8L250.0 171.5L251.0 172.2L252.1 173.0L253.2 173.7L254.2 174.4L255.3 175.1L256.4 175.9L257.5 176.6L258.5 177.3L259.6 178.0L260.7 178.8L261.7 179.5L262.8 180.2L263.9 180.9L264.9 181.7L266.0 182.4L267.1 183.1L268.2 183.9L269.2 184.6L270.3 185.3L271.4 186.0L272.4 186.8L273.5 187.5L274.6 188.2L275.6 189.0L276.7 189.7L277.8 190.4L278.8 191.1L279.9 191.9L281.0 192.6L282.1 193.3L283.1 194.1L284.2 194.8L285.3 195.5L286.3 196.3L287.4 197.0L288.5 197.7L289.5 198.4L290.6 199.2L291.7 199.9L292.8 200.6"/><path class="c" stroke="#6b9bf4" d="M78.8 79.8L79.9 80.2L81.0 80.6L82.1 80.9L83.1 81.3L84.2 81.7L85.3 82.1L86.3 82.4L87.4 82.8L88.5 83.2L89.5 83.6L90.6 84.0L91.7 84.3L92.8 84.7L93.8 85.1L94.9 85.5L96.0 85.9L97.0 86.3L98.1 86.7L99.2 87.1L100.2 87.5L101.3 87.9L102.4 88.3L103.4 88.7L104.5 89.1L105.6 89.5L106.7 89.9L107.7 90.3L108.8 90.7L109.9 91.1L110.9 91.5L112.0 91.9L113.1 92.3L114.1 92.7L115.2 93.2L116.3 93.6L117.4 94.0L118.4 94.4L119.5 94.9L120.6 95.3L121.6 95.7L122.7 96.2L123.8 96.6L124.8 97.0L125.9 97.5L127.0 97.9L128.0 98.4L129.1 98.8L130.2 99.3L131.3 99.8L132.3 100.2L133.4 100.7L134.5 101.2L135.5 101.6L136.6 102.1L137.7 102.6L138.7 103.1L139.8 103.5L140.9 104.0L142.0 104.5L143.0 105.0L144.1 105.5L145.2 106.0L146.2 106.5L147.3 107.0L148.4 107.6L149.4 108.1L150.5 108.6L151.6 109.1L152.6 109.6L153.7 110.2L154.8 110.7L155.9 111.2L156.9 111.8L158.0 112.3L159.1 112.9L160.1 113.4L161.2 114.0L162.3 114.6L163.3 115.1L164.4 115.7L165.5 116.3L166.5 116.8L167.6 117.4L168.7 118.0L169.8 118.6L170.8 119.2L171.9 119.8L173.0 120.4L174.0 121.0L175.1 121.6L176.2 122.2L177.2 122.8L178.3 123.4L179.4 124.0L180.5 124.6L181.5 125.2L182.6 125.9L183.7 126.5L184.7 127.1L185.8 127.8L186.9 128.4L187.9 129.0L189.0 129.7L190.1 130.3L191.1 131.0L192.2 131.6L193.3 132.3L194.4 132.9L195.4 133.6L196.5 134.2L197.6 134.9L198.6 135.6L199.7 136.2L200.8 136.9L201.8 137.6L202.9 138.2L204.0 138.9L205.1 139.6L206.1 140.3L207.2 140.9L208.3 141.6L209.3 142.3L210.4 143.0L211.5 143.7L212.5 144.4L213.6 145.1L214.7 145.7L215.7 146.4L216.8 147.1L217.9 147.8L219.0 148.5L220.0 149.2L221.1 149.9L222.2 150.6L223.2 151.3L224.3 152.0L225.4 152.7L226.4 153.4L227.5 154.1L228.6 154.8L229.6 155.6L230.7 156.3L231.8 157.0L232.9 157.7L233.9 158.4L235.0 159.1L236.1 159.8L237.1 160.5L238.2 161.2L239.3 162.0L240.3 162.7L241.4 163.4L242.5 164.1L243.6 164.8L244.6 165.5L245.7 166.3L246.8 167.0L247.8 167.7L248.9 168.4L250.0 169.1L251.0 169.9L252.1 170.6L253.2 171.3L254.2 172.0L255.3 172.7L256.4 173.5L257.5 174.2L258.5 174.9L259.6 175.6L260.7 176.4L261.7 177.1L262.8 177.8L263.9 178.5L264.9 179.3L266.0 180.0L267.1 180.7L268.2 181.4L269.2 182.2L270.3 182.9L271.4 183.6L272.4 184.3L273.5 185.1L274.6 185.8L275.6 186.5L276.7 187.3L277.8 188.0L278.8 188.7L279.9 189.4L281.0 190.2L282.1 190.9L283.1 191.6L284.2 192.4L285.3 193.1L286.3 193.8L287.4 194.5L288.5 195.3L289.5 196.0L290.6 196.7L291.7 197.5L292.8 198.2"/><path class="c" stroke="#cc76f4" d="M78.8 79.7L79.9 80.0L81.0 80.4L82.1 80.7L83.1 81.0L84.2 81.4L85.3 81.7L86.3 82.1L87.4 82.4L88.5 82.8L89.5 83.1L90.6 83.5L91.7 83.9L92.8 84.2L93.8 84.6L94.9 84.9L96.0 85.3L97.0 85.7L98.1 86.0L99.2 86.4L100.2 86.8L101.3 87.1L102.4 87.5L103.4 87.9L104.5 88.3L105.6 88.6L106.7 89.0L107.7 89.4L108.8 89.8L109.9 90.2L110.9 90.6L112.0 91.0L113.1 91.4L114.1 91.8L115.2 92.2L116.3 92.6L117.4 93.0L118.4 93.4L119.5 93.8L120.6 94.2L121.6 94.6L122.7 95.0L123.8 95.4L124.8 95.9L125.9 96.3L127.0 96.7L128.0 97.2L129.1 97.6L130.2 98.0L131.3 98.5L132.3 98.9L133.4 99.4L134.5 99.8L135.5 100.3L136.6 100.8L137.7 101.2L138.7 101.7L139.8 102.2L140.9 102.7L142.0 103.1L143.0 103.6L144.1 104.1L145.2 104.6L146.2 105.1L147.3 105.6L148.4 106.1L149.4 106.6L150.5 107.1L151.6 107.6L152.6 108.2L153.7 108.7L154.8 109.2L155.9 109.7L156.9 110.3L158.0 110.8L159.1 111.4L160.1 111.9L161.2 112.5L162.3 113.0L163.3 113.6L164.4 114.2L165.5 114.7L166.5 115.3L167.6 115.9L168.7 116.5L169.8 117.0L170.8 117.6L171.9 118.2L173.0 118.8L174.0 119.4L175.1 120.0L176.2 120.6L177.2 121.2L178.3 121.8L179.4 122.4L180.5 123.1L181.5 123.7L182.6 124.3L183.7 124.9L184.7 125.6L185.8 126.2L186.9 126.8L187.9 127.5L189.0 128.1L190.1 128.8L191.1 129.4L192.2 130.1L193.3 130.7L194.4 131.4L195.4 132.0L196.5 132.7L197.6 133.3L198.6 134.0L199.7 134.7L200.8 135.3L201.8 136.0L202.9 136.7L204.0 137.4L205.1 138.0L206.1 138.7L207.2 139.4L208.3 140.1L209.3 140.8L210.4 141.4L211.5 142.1L212.5 142.8L213.6 143.5L214.7 144.2L215.7 144.9L216.8 145.6L217.9 146.3L219.0 147.0L220.0 147.7L221.1 148.4L222.2 149.1L223.2 149.8L224.3 150.5L225.4 151.2L226.4 151.9L227.5 152.6L228.6 153.3L229.6 154.0L230.7 154.7L231.8 155.4L232.9 156.1L233.9 156.9L235.0 157.6L236.1 158.3L237.1 159.0L238.2 159.7L239.3 160.4L240.3 161.1L241.4 161.9L242.5 162.6L243.6 163.3L244.6 164.0L245.7 164.7L246.8 165.4L247.8 166.2L248.9 166.9L250.0 167.6L251.0 168.3L252.1 169.0L253.2 169.8L254.2 170.5L255.3 171.2L256.4 171.9L257.5 172.7L258.5 173.4L259.6 174.1L260.7 174.8L261.7 175.6L262.8 176.3L263.9 177.0L264.9 177.7L266.0 178.5L267.1 179.2L268.2 179.9L269.2 180.6L270.3 181.4L271.4 182.1L272.4 182.8L273.5 183.5L274.6 184.3L275.6 185.0L276.7 185.7L277.8 186.5L278.8 187.2L279.9 187.9L281.0 188.6L282.1 189.4L283.1 190.1L284.2 190.8L285.3 191.6L286.3 192.3L287.4 193.0L288.5 193.8L289.5 194.5L290.6 195.2L291.7 195.9L292.8 196.7"/><path class="c" stroke="#f667b7" d="M78.8 78.4L79.9 78.7L81.0 79.0L82.1 79.3L83.1 79.5L84.2 79.8L85.3 80.1L86.3 80.4L87.4 80.7L88.5 81.0L89.5 81.3L90.6 81.6L91.7 81.9L92.8 82.2L93.8 82.5L94.9 82.8L96.0 83.1L97.0 83.4L98.1 83.7L99.2 84.0L100.2 84.3L101.3 84.7L102.4 85.0L103.4 85.3L104.5 85.7L105.6 86.0L106.7 86.3L107.7 86.7L108.8 87.0L109.9 87.4L110.9 87.7L112.0 88.1L113.1 88.4L114.1 88.8L115.2 89.2L116.3 89.6L117.4 89.9L118.4 90.3L119.5 90.7L120.6 91.1L121.6 91.5L122.7 91.9L123.8 92.3L124.8 92.7L125.9 93.1L127.0 93.6L128.0 94.0L129.1 94.4L130.2 94.8L131.3 95.3L132.3 95.7L133.4 96.2L134.5 96.6L135.5 97.1L136.6 97.5L137.7 98.0L138.7 98.5L139.8 99.0L140.9 99.5L142.0 99.9L143.0 100.4L144.1 100.9L145.2 101.4L146.2 101.9L147.3 102.5L148.4 103.0L149.4 103.5L150.5 104.0L151.6 104.6L152.6 105.1L153.7 105.6L154.8 106.2L155.9 106.7L156.9 107.3L158.0 107.8L159.1 108.4L160.1 109.0L161.2 109.5L162.3 110.1L163.3 110.7L164.4 111.3L165.5 111.9L166.5 112.5L167.6 113.1L168.7 113.7L169.8 114.3L170.8 114.9L171.9 115.5L173.0 116.1L174.0 116.7L175.1 117.3L176.2 118.0L177.2 118.6L178.3 119.2L179.4 119.9L180.5 120.5L181.5 121.1L182.6 121.8L183.7 122.4L184.7 123.1L185.8 123.7L186.9 124.4L187.9 125.0L189.0 125.7L190.1 126.4L191.1 127.0L192.2 127.7L193.3 128.4L194.4 129.0L195.4 129.7L196.5 130.4L197.6 131.1L198.6 131.7L199.7 132.4L200.8 133.1L201.8 133.8L202.9 134.5L204.0 135.2L205.1 135.8L206.1 136.5L207.2 137.2L208.3 137.9L209.3 138.6L210.4 139.3L211.5 140.0L212.5 140.7L213.6 141.4L214.7 142.1L215.7 142.8L216.8 143.5L217.9 144.2L219.0 144.9L220.0 145.6L221.1 146.3L222.2 147.0L223.2 147.8L224.3 148.5L225.4 149.2L226.4 149.9L227.5 150.6L228.6 151.3L229.6 152.0L230.7 152.7L231.8 153.5L232.9 154.2L233.9 154.9L235.0 155.6L236.1 156.3L237.1 157.0L238.2 157.8L239.3 158.5L240.3 159.2L241.4 159.9L242.5 160.6L243.6 161.4L244.6 162.1L245.7 162.8L246.8 163.5L247.8 164.3L248.9 165.0L250.0 165.7L251.0 166.4L252.1 167.1L253.2 167.9L254.2 168.6L255.3 169.3L256.4 170.1L257.5 170.8L258.5 171.5L259.6 172.2L260.7 173.0L261.7 173.7L262.8 174.4L263.9 175.1L264.9 175.9L266.0 176.6L267.1 177.3L268.2 178.0L269.2 178.8L270.3 179.5L271.4 180.2L272.4 181.0L273.5 181.7L274.6 182.4L275.6 183.2L276.7 183.9L277.8 184.6L278.8 185.3L279.9 186.1L281.0 186.8L282.1 187.5L283.1 188.3L284.2 189.0L285.3 189.7L286.3 190.5L287.4 191.2L288.5 191.9L289.5 192.6L290.6 193.4L291.7 194.1L292.8 194.8"/><path class="c" stroke="#9fa11b" d="M78.8 78.3L79.9 78.6L81.0 78.8L82.1 79.1L83.1 79.4L84.2 79.6L85.3 79.9L86.3 80.2L87.4 80.5L88.5 80.8L89.5 81.0L90.6 81.3L91.7 81.6L92.8 81.9L93.8 82.2L94.9 82.5L96.0 82.7L97.0 83.0L98.1 83.3L99.2 83.6L100.2 83.9L101.3 84.2L102.4 84.5L103.4 84.8L104.5 85.1L105.6 85.4L106.7 85.7L107.7 86.0L108.8 86.4L109.9 86.7L110.9 87.0L112.0 87.3L113.1 87.6L114.1 88.0L115.2 88.3L116.3 88.6L117.4 88.9L118.4 89.3L119.5 89.6L120.6 90.0L121.6 90.3L122.7 90.7L123.8 91.0L124.8 91.4L125.9 91.7L127.0 92.1L128.0 92.4L129.1 92.8L130.2 93.2L131.3 93.6L132.3 93.9L133.4 94.3L134.5 94.7L135.5 95.1L136.6 95.5L137.7 95.9L138.7 96.3L139.8 96.7L140.9 97.1L142.0 97.5L143.0 97.9L144.1 98.4L145.2 98.8L146.2 99.2L147.3 99.7L148.4 100.1L149.4 100.5L150.5 101.0L151.6 101.5L152.6 101.9L153.7 102.4L154.8 102.8L155.9 103.3L156.9 103.8L158.0 104.3L159.1 104.8L160.1 105.3L161.2 105.8L162.3 106.3L163.3 106.8L164.4 107.3L165.5 107.8L166.5 108.3L167.6 108.8L168.7 109.4L169.8 109.9L170.8 110.4L171.9 111.0L173.0 111.5L174.0 112.1L175.1 112.6L176.2 113.2L177.2 113.8L178.3 114.3L179.4 114.9L180.5 115.5L181.5 116.1L182.6 116.7L183.7 117.3L184.7 117.8L185.8 118.4L186.9 119.0L187.9 119.7L189.0 120.3L190.1 120.9L191.1 121.5L192.2 122.1L193.3 122.7L194.4 123.4L195.4 124.0L196.5 124.6L197.6 125.3L198.6 125.9L199.7 126.5L200.8 127.2L201.8 127.8L202.9 128.5L204.0 129.1L205.1 129.8L206.1 130.4L207.2 131.1L208.3 131.8L209.3 132.4L210.4 133.1L211.5 133.8L212.5 134.4L213.6 135.1L214.7 135.8L215.7 136.5L216.8 137.1L217.9 137.8L219.0 138.5L220.0 139.2L221.1 139.9L222.2 140.5L223.2 141.2L224.3 141.9L225.4 142.6L226.4 143.3L227.5 144.0L228.6 144.7L229.6 145.4L230.7 146.1L231.8 146.8L232.9 147.5L233.9 148.2L235.0 148.9L236.1 149.6L237.1 150.3L238.2 151.0L239.3 151.7L240.3 152.4L241.4 153.1L242.5 153.9L243.6 154.6L244.6 155.3L245.7 156.0L246.8 156.7L247.8 157.4L248.9 158.1L250.0 158.8L251.0 159.6L252.1 160.3L253.2 161.0L254.2 161.7L255.3 162.4L256.4 163.2L257.5 163.9L258.5 164.6L259.6 165.3L260.7 166.0L261.7 166.8L262.8 167.5L263.9 168.2L264.9 168.9L266.0 169.6L267.1 170.4L268.2 171.1L269.2 171.8L270.3 172.5L271.4 173.3L272.4 174.0L273.5 174.7L274.6 175.4L275.6 176.2L276.7 176.9L277.8 177.6L278.8 178.3L279.9 179.1L281.0 179.8L282.1 180.5L283.1 181.3L284.2 182.0L285.3 182.7L286.3 183.4L287.4 184.2L288.5 184.9L289.5 185.6L290.6 186.4L291.7 187.1L292.8 187.8"/><path class="c" stroke="#cc76f4" d="M78.8 77.2L79.9 77.5L81.0 77.8L82.1 78.1L83.1 78.5L84.2 78.8L85.3 79.1L86.3 79.4L87.4 79.7L88.5 80.0L89.5 80.3L90.6 80.6L91.7 81.0L92.8 81.3L93.8 81.6L94.9 81.9L96.0 82.2L97.0 82.5L98.1 82.9L99.2 83.2L100.2 83.5L101.3 83.8L102.4 84.1L103.4 84.5L104.5 84.8L105.6 85.1L106.7 85.5L107.7 85.8L108.8 86.1L109.9 86.5L110.9 86.8L112.0 87.1L113.1 87.5L114.1 87.8L115.2 88.1L116.3 88.5L117.4 88.8L118.4 89.2L119.5 89.5L120.6 89.9L121.6 90.2L122.7 90.6L123.8 90.9L124.8 91.3L125.9 91.6L127.0 92.0L128.0 92.4L129.1 92.7L130.2 93.1L131.3 93.5L132.3 93.8L133.4 94.2L134.5 94.6L135.5 95.0L136.6 95.4L137.7 95.8L138.7 96.1L139.8 96.5L140.9 96.9L142.0 97.3L143.0 97.7L144.1 98.1L145.2 98.6L146.2 99.0L147.3 99.4L148.4 99.8L149.4 100.2L150.5 100.6L151.6 101.1L152.6 101.5L153.7 101.9L154.8 102.4L155.9 102.8L156.9 103.3L158.0 103.7L159.1 104.2L160.1 104.6L161.2 105.1L162.3 105.6L163.3 106.0L164.4 106.5L165.5 107.0L166.5 107.5L167.6 108.0L168.7 108.5L169.8 109.0L170.8 109.5L171.9 110.0L173.0 110.5L174.0 111.0L175.1 111.5L176.2 112.0L177.2 112.6L178.3 113.1L179.4 113.6L180.5 114.2L181.5 114.7L182.6 115.3L183.7 115.8L184.7 116.4L185.8 116.9L186.9 117.5L187.9 118.1L189.0 118.6L190.1 119.2L191.1 119.8L192.2 120.4L193.3 121.0L194.4 121.5L195.4 122.1L196.5 122.7L197.6 123.3L198.6 123.9L199.7 124.6L200.8 125.2L201.8 125.8L202.9 126.4L204.0 127.0L205.1 127.6L206.1 128.3L207.2 128.9L208.3 129.5L209.3 130.2L210.4 130.8L211.5 131.5L212.5 132.1L213.6 132.8L214.7 133.4L215.7 134.1L216.8 134.7L217.9 135.4L219.0 136.0L220.0 136.7L221.1 137.4L222.2 138.0L223.2 138.7L224.3 139.4L225.4 140.0L226.4 140.7L227.5 141.4L228.6 142.1L229.6 142.8L230.7 143.4L231.8 144.1L232.9 144.8L233.9 145.5L235.0 146.2L236.1 146.9L237.1 147.6L238.2 148.3L239.3 149.0L240.3 149.7L241.4 150.4L242.5 151.1L243.6 151.8L244.6 152.5L245.7 153.2L246.8 153.9L247.8 154.6L248.9 155.3L250.0 156.0L251.0 156.7L252.1 157.4L253.2 158.1L254.2 158.8L255.3 159.5L256.4 160.2L257.5 160.9L258.5 161.7L259.6 162.4L260.7 163.1L261.7 163.8L262.8 164.5L263.9 165.2L264.9 166.0L266.0 166.7L267.1 167.4L268.2 168.1L269.2 168.8L270.3 169.5L271.4 170.3L272.4 171.0L273.5 171.7L274.6 172.4L275.6 173.2L276.7 173.9L277.8 174.6L278.8 175.3L279.9 176.0L281.0 176.8L282.1 177.5L283.1 178.2L284.2 178.9L285.3 179.7L286.3 180.4L287.4 181.1L288.5 181.8L289.5 182.6L290.6 183.3L291.7 184.0L292.8 184.8"/><path class="c" stroke="#1cb25c" d="M78.8 77.1L79.9 77.3L81.0 77.6L82.1 77.9L83.1 78.2L84.2 78.5L85.3 78.7L86.3 79.0L87.4 79.3L88.5 79.6L89.5 79.9L90.6 80.2L91.7 80.5L92.8 80.7L93.8 81.0L94.9 81.3L96.0 81.6L97.0 81.9L98.1 82.2L99.2 82.5L100.2 82.8L101.3 83.1L102.4 83.4L103.4 83.7L104.5 84.0L105.6 84.3L106.7 84.6L107.7 84.9L108.8 85.2L109.9 85.5L110.9 85.8L112.0 86.1L113.1 86.5L114.1 86.8L115.2 87.1L116.3 87.4L117.4 87.7L118.4 88.1L119.5 88.4L120.6 88.7L121.6 89.0L122.7 89.4L123.8 89.7L124.8 90.1L125.9 90.4L127.0 90.7L128.0 91.1L129.1 91.4L130.2 91.8L131.3 92.1L132.3 92.5L133.4 92.9L134.5 93.2L135.5 93.6L136.6 94.0L137.7 94.3L138.7 94.7L139.8 95.1L140.9 95.5L142.0 95.8L143.0 96.2L144.1 96.6L145.2 97.0L146.2 97.4L147.3 97.8L148.4 98.2L149.4 98.7L150.5 99.1L151.6 99.5L152.6 99.9L153.7 100.3L154.8 100.8L155.9 101.2L156.9 101.7L158.0 102.1L159.1 102.5L160.1 103.0L161.2 103.5L162.3 103.9L163.3 104.4L164.4 104.9L165.5 105.3L166.5 105.8L167.6 106.3L168.7 106.8L169.8 107.3L170.8 107.8L171.9 108.3L173.0 108.8L174.0 109.3L175.1 109.8L176.2 110.4L177.2 110.9L178.3 111.4L179.4 111.9L180.5 112.5L181.5 113.0L182.6 113.6L183.7 114.1L184.7 114.7L185.8 115.2L186.9 115.8L187.9 116.4L189.0 117.0L190.1 117.5L191.1 118.1L192.2 118.7L193.3 119.3L194.4 119.9L195.4 120.5L196.5 121.1L197.6 121.7L198.6 122.3L199.7 122.9L200.8 123.5L201.8 124.1L202.9 124.8L204.0 125.4L205.1 126.0L206.1 126.6L207.2 127.3L208.3 127.9L209.3 128.5L210.4 129.2L211.5 129.8L212.5 130.5L213.6 131.1L214.7 131.8L215.7 132.4L216.8 133.1L217.9 133.8L219.0 134.4L220.0 135.1L221.1 135.8L222.2 136.4L223.2 137.1L224.3 137.8L225.4 138.5L226.4 139.1L227.5 139.8L228.6 140.5L229.6 141.2L230.7 141.9L231.8 142.5L232.9 143.2L233.9 143.9L235.0 144.6L236.1 145.3L237.1 146.0L238.2 146.7L239.3 147.4L240.3 148.1L241.4 148.8L242.5 149.5L243.6 150.2L244.6 150.9L245.7 151.6L246.8 152.3L247.8 153.0L248.9 153.7L250.0 154.4L251.0 155.1L252.1 155.8L253.2 156.6L254.2 157.3L255.3 158.0L256.4 158.7L257.5 159.4L258.5 160.1L259.6 160.8L260.7 161.5L261.7 162.3L262.8 163.0L263.9 163.7L264.9 164.4L266.0 165.1L267.1 165.9L268.2 166.6L269.2 167.3L270.3 168.0L271.4 168.7L272.4 169.5L273.5 170.2L274.6 170.9L275.6 171.6L276.7 172.3L277.8 173.1L278.8 173.8L279.9 174.5L281.0 175.2L282.1 176.0L283.1 176.7L284.2 177.4L285.3 178.1L286.3 178.9L287.4 179.6L288.5 180.3L289.5 181.0L290.6 181.8L291.7 182.5L292.8 183.2"/><path class="c" stroke="#b283f4" d="M78.8 75.9L79.9 76.2L81.0 76.4L82.1 76.7L83.1 76.9L84.2 77.1L85.3 77.4L86.3 77.7L87.4 77.9L88.5 78.2L89.5 78.4L90.6 78.7L91.7 78.9L92.8 79.2L93.8 79.4L94.9 79.7L96.0 80.0L97.0 80.2L98.1 80.5L99.2 80.7L100.2 81.0L101.3 81.3L102.4 81.5L103.4 81.8L104.5 82.1L105.6 82.3L106.7 82.6L107.7 82.9L108.8 83.2L109.9 83.4L110.9 83.7L112.0 84.0L113.1 84.3L114.1 84.6L115.2 84.9L116.3 85.2L117.4 85.4L118.4 85.7L119.5 86.0L120.6 86.3L121.6 86.6L122.7 86.9L123.8 87.2L124.8 87.5L125.9 87.8L127.0 88.2L128.0 88.5L129.1 88.8L130.2 89.1L131.3 89.4L132.3 89.8L133.4 90.1L134.5 90.4L135.5 90.7L136.6 91.1L137.7 91.4L138.7 91.8L139.8 92.1L140.9 92.5L142.0 92.8L143.0 93.2L144.1 93.5L145.2 93.9L146.2 94.3L147.3 94.7L148.4 95.0L149.4 95.4L150.5 95.8L151.6 96.2L152.6 96.6L153.7 97.0L154.8 97.4L155.9 97.8L156.9 98.2L158.0 98.6L159.1 99.0L160.1 99.5L161.2 99.9L162.3 100.3L163.3 100.8L164.4 101.2L165.5 101.7L166.5 102.1L167.6 102.6L168.7 103.0L169.8 103.5L170.8 104.0L171.9 104.5L173.0 104.9L174.0 105.4L175.1 105.9L176.2 106.4L177.2 106.9L178.3 107.4L179.4 107.9L180.5 108.5L181.5 109.0L182.6 109.5L183.7 110.0L184.7 110.6L185.8 111.1L186.9 111.7L187.9 112.2L189.0 112.8L190.1 113.3L191.1 113.9L192.2 114.4L193.3 115.0L194.4 115.6L195.4 116.2L196.5 116.7L197.6 117.3L198.6 117.9L199.7 118.5L200.8 119.1L201.8 119.7L202.9 120.3L204.0 120.9L205.1 121.6L206.1 122.2L207.2 122.8L208.3 123.4L209.3 124.0L210.4 124.7L211.5 125.3L212.5 125.9L213.6 126.6L214.7 127.2L215.7 127.9L216.8 128.5L217.9 129.2L219.0 129.8L220.0 130.5L221.1 131.1L222.2 131.8L223.2 132.5L224.3 133.1L225.4 133.8L226.4 134.5L227.5 135.1L228.6 135.8L229.6 136.5L230.7 137.2L231.8 137.8L232.9 138.5L233.9 139.2L235.0 139.9L236.1 140.6L237.1 141.3L238.2 141.9L239.3 142.6L240.3 143.3L241.4 144.0L242.5 144.7L243.6 145.4L244.6 146.1L245.7 146.8L246.8 147.5L247.8 148.2L248.9 148.9L250.0 149.6L251.0 150.3L252.1 151.0L253.2 151.7L254.2 152.4L255.3 153.2L256.4 153.9L257.5 154.6L258.5 155.3L259.6 156.0L260.7 156.7L261.7 157.4L262.8 158.1L263.9 158.8L264.9 159.6L266.0 160.3L267.1 161.0L268.2 161.7L269.2 162.4L270.3 163.2L271.4 163.9L272.4 164.6L273.5 165.3L274.6 166.0L275.6 166.8L276.7 167.5L277.8 168.2L278.8 168.9L279.9 169.6L281.0 170.4L282.1 171.1L283.1 171.8L284.2 172.5L285.3 173.3L286.3 174.0L287.4 174.7L288.5 175.4L289.5 176.2L290.6 176.9L291.7 177.6L292.8 178.3"/><path class="c" stroke="#ae9d1b" d="M78.8 75.7L79.9 75.9L81.0 76.2L82.1 76.5L83.1 76.7L84.2 77.0L85.3 77.2L86.3 77.5L87.4 77.7L88.5 78.0L89.5 78.3L90.6 78.5L91.7 78.8L92.8 79.1L93.8 79.3L94.9 79.6L96.0 79.8L97.0 80.1L98.1 80.4L99.2 80.7L100.2 80.9L101.3 81.2L102.4 81.5L103.4 81.7L104.5 82.0L105.6 82.3L106.7 82.6L107.7 82.8L108.8 83.1L109.9 83.4L110.9 83.7L112.0 84.0L113.1 84.2L114.1 84.5L115.2 84.8L116.3 85.1L117.4 85.4L118.4 85.7L119.5 86.0L120.6 86.3L121.6 86.6L122.7 86.9L123.8 87.2L124.8 87.5L125.9 87.8L127.0 88.1L128.0 88.4L129.1 88.7L130.2 89.0L131.3 89.3L132.3 89.7L133.4 90.0L134.5 90.3L135.5 90.6L136.6 91.0L137.7 91.3L138.7 91.6L139.8 92.0L140.9 92.3L142.0 92.7L143.0 93.0L144.1 93.4L145.2 93.7L146.2 94.1L147.3 94.4L148.4 94.8L149.4 95.2L150.5 95.5L151.6 95.9L152.6 96.3L153.7 96.7L154.8 97.1L155.9 97.5L156.9 97.8L158.0 98.2L159.1 98.7L160.1 99.1L161.2 99.5L162.3 99.9L163.3 100.3L164.4 100.7L165.5 101.2L166.5 101.6L167.6 102.0L168.7 102.5L169.8 102.9L170.8 103.4L171.9 103.8L173.0 104.3L174.0 104.8L175.1 105.2L176.2 105.7L177.2 106.2L178.3 106.7L179.4 107.2L180.5 107.7L181.5 108.2L182.6 108.7L183.7 109.2L184.7 109.7L185.8 110.2L186.9 110.7L187.9 111.3L189.0 111.8L190.1 112.3L191.1 112.9L192.2 113.4L193.3 114.0L194.4 114.5L195.4 115.1L196.5 115.6L197.6 116.2L198.6 116.8L199.7 117.4L200.8 117.9L201.8 118.5L202.9 119.1L204.0 119.7L205.1 120.3L206.1 120.9L207.2 121.5L208.3 122.1L209.3 122.7L210.4 123.3L211.5 124.0L212.5 124.6L213.6 125.2L214.7 125.8L215.7 126.5L216.8 127.1L217.9 127.7L219.0 128.4L220.0 129.0L221.1 129.7L222.2 130.3L223.2 131.0L224.3 131.6L225.4 132.3L226.4 132.9L227.5 133.6L228.6 134.2L229.6 134.9L230.7 135.6L231.8 136.2L232.9 136.9L233.9 137.6L235.0 138.3L236.1 138.9L237.1 139.6L238.2 140.3L239.3 141.0L240.3 141.7L241.4 142.4L242.5 143.0L243.6 143.7L244.6 144.4L245.7 145.1L246.8 145.8L247.8 146.5L248.9 147.2L250.0 147.9L251.0 148.6L252.1 149.3L253.2 150.0L254.2 150.7L255.3 151.4L256.4 152.1L257.5 152.8L258.5 153.5L259.6 154.2L260.7 154.9L261.7 155.7L262.8 156.4L263.9 157.1L264.9 157.8L266.0 158.5L267.1 159.2L268.2 159.9L269.2 160.6L270.3 161.4L271.4 162.1L272.4 162.8L273.5 163.5L274.6 164.2L275.6 164.9L276.7 165.7L277.8 166.4L278.8 167.1L279.9 167.8L281.0 168.5L282.1 169.3L283.1 170.0L284.2 170.7L285.3 171.4L286.3 172.2L287.4 172.9L288.5 173.6L289.5 174.3L290.6 175.1L291.7 175.8L292.8 176.5"/><path class="c" stroke="#1fa7d5" d="M78.8 73.9L79.9 74.0L81.0 74.1L82.1 74.3L83.1 74.4L84.2 74.6L85.3 74.7L86.3 74.9L87.4 75.0L88.5 75.2L89.5 75.3L90.6 75.5L91.7 75.6L92.8 75.8L93.8 75.9L94.9 76.1L96.0 76.3L97.0 76.4L98.1 76.6L99.2 76.8L100.2 76.9L101.3 77.1L102.4 77.3L103.4 77.4L104.5 77.6L105.6 77.8L106.7 78.0L107.7 78.1L108.8 78.3L109.9 78.5L110.9 78.7L112.0 78.9L113.1 79.1L114.1 79.3L115.2 79.5L116.3 79.7L117.4 79.9L118.4 80.1L119.5 80.3L120.6 80.5L121.6 80.7L122.7 80.9L123.8 81.2L124.8 81.4L125.9 81.6L127.0 81.8L128.0 82.1L129.1 82.3L130.2 82.6L131.3 82.8L132.3 83.1L133.4 83.3L134.5 83.6L135.5 83.9L136.6 84.1L137.7 84.4L138.7 84.7L139.8 85.0L140.9 85.2L142.0 85.5L143.0 85.8L144.1 86.1L145.2 86.4L146.2 86.8L147.3 87.1L148.4 87.4L149.4 87.7L150.5 88.1L151.6 88.4L152.6 88.7L153.7 89.1L154.8 89.4L155.9 89.8L156.9 90.2L158.0 90.5L159.1 90.9L160.1 91.3L161.2 91.7L162.3 92.1L163.3 92.5L164.4 92.9L165.5 93.3L166.5 93.7L167.6 94.2L168.7 94.6L169.8 95.0L170.8 95.5L171.9 95.9L173.0 96.4L174.0 96.8L175.1 97.3L176.2 97.8L177.2 98.2L178.3 98.7L179.4 99.2L180.5 99.7L181.5 100.2L182.6 100.7L183.7 101.2L184.7 101.8L185.8 102.3L186.9 102.8L187.9 103.3L189.0 103.9L190.1 104.4L191.1 105.0L192.2 105.5L193.3 106.1L194.4 106.6L195.4 107.2L196.5 107.8L197.6 108.4L198.6 108.9L199.7 109.5L200.8 110.1L201.8 110.7L202.9 111.3L204.0 111.9L205.1 112.5L206.1 113.1L207.2 113.7L208.3 114.4L209.3 115.0L210.4 115.6L211.5 116.2L212.5 116.9L213.6 117.5L214.7 118.1L215.7 118.8L216.8 119.4L217.9 120.1L219.0 120.7L220.0 121.4L221.1 122.0L222.2 122.7L223.2 123.3L224.3 124.0L225.4 124.7L226.4 125.3L227.5 126.0L228.6 126.7L229.6 127.3L230.7 128.0L231.8 128.7L232.9 129.4L233.9 130.1L235.0 130.7L236.1 131.4L237.1 132.1L238.2 132.8L239.3 133.5L240.3 134.2L241.4 134.9L242.5 135.6L243.6 136.3L244.6 137.0L245.7 137.7L246.8 138.4L247.8 139.1L248.9 139.8L250.0 140.5L251.0 141.2L252.1 141.9L253.2 142.6L254.2 143.3L255.3 144.0L256.4 144.7L257.5 145.4L258.5 146.1L259.6 146.8L260.7 147.5L261.7 148.3L262.8 149.0L263.9 149.7L264.9 150.4L266.0 151.1L267.1 151.8L268.2 152.6L269.2 153.3L270.3 154.0L271.4 154.7L272.4 155.4L273.5 156.1L274.6 156.9L275.6 157.6L276.7 158.3L277.8 159.0L278.8 159.8L279.9 160.5L281.0 161.2L282.1 161.9L283.1 162.6L284.2 163.4L285.3 164.1L286.3 164.8L287.4 165.5L288.5 166.3L289.5 167.0L290.6 167.7L291.7 168.4L292.8 169.2"/><path class="c" stroke="#77ab1b" d="M78.8 72.0L79.9 72.3L81.0 72.5L82.1 72.8L83.1 73.0L84.2 73.2L85.3 73.5L86.3 73.7L87.4 74.0L88.5 74.2L89.5 74.5L90.6 74.7L91.7 75.0L92.8 75.2L93.8 75.4L94.9 75.7L96.0 75.9L97.0 76.2L98.1 76.4L99.2 76.7L100.2 76.9L101.3 77.2L102.4 77.4L103.4 77.7L104.5 77.9L105.6 78.2L106.7 78.4L107.7 78.7L108.8 78.9L109.9 79.2L110.9 79.4L112.0 79.7L113.1 80.0L114.1 80.2L115.2 80.5L116.3 80.7L117.4 81.0L118.4 81.2L119.5 81.5L120.6 81.8L121.6 82.0L122.7 82.3L123.8 82.5L124.8 82.8L125.9 83.1L127.0 83.3L128.0 83.6L129.1 83.9L130.2 84.1L131.3 84.4L132.3 84.7L133.4 85.0L134.5 85.2L135.5 85.5L136.6 85.8L137.7 86.1L138.7 86.4L139.8 86.6L140.9 86.9L142.0 87.2L143.0 87.5L144.1 87.8L145.2 88.1L146.2 88.4L147.3 88.7L148.4 89.0L149.4 89.2L150.5 89.5L151.6 89.9L152.6 90.2L153.7 90.5L154.8 90.8L155.9 91.1L156.9 91.4L158.0 91.7L159.1 92.0L160.1 92.4L161.2 92.7L162.3 93.0L163.3 93.3L164.4 93.7L165.5 94.0L166.5 94.3L167.6 94.7L168.7 95.0L169.8 95.4L170.8 95.7L171.9 96.1L173.0 96.5L174.0 96.8L175.1 97.2L176.2 97.6L177.2 97.9L178.3 98.3L179.4 98.7L180.5 99.1L181.5 99.5L182.6 99.9L183.7 100.3L184.7 100.7L185.8 101.1L186.9 101.5L187.9 101.9L189.0 102.3L190.1 102.7L191.1 103.2L192.2 103.6L193.3 104.0L194.4 104.5L195.4 104.9L196.5 105.4L197.6 105.8L198.6 106.3L199.7 106.8L200.8 107.2L201.8 107.7L202.9 108.2L204.0 108.7L205.1 109.2L206.1 109.7L207.2 110.2L208.3 110.7L209.3 111.2L210.4 111.7L211.5 112.2L212.5 112.7L213.6 113.3L214.7 113.8L215.7 114.3L216.8 114.9L217.9 115.4L219.0 116.0L220.0 116.5L221.1 117.1L222.2 117.6L223.2 118.2L224.3 118.8L225.4 119.4L226.4 119.9L227.5 120.5L228.6 121.1L229.6 121.7L230.7 122.3L231.8 122.9L232.9 123.5L233.9 124.1L235.0 124.7L236.1 125.3L237.1 126.0L238.2 126.6L239.3 127.2L240.3 127.8L241.4 128.5L242.5 129.1L243.6 129.7L244.6 130.4L245.7 131.0L246.8 131.7L247.8 132.3L248.9 133.0L250.0 133.6L251.0 134.3L252.1 134.9L253.2 135.6L254.2 136.3L255.3 136.9L256.4 137.6L257.5 138.3L258.5 138.9L259.6 139.6L260.7 140.3L261.7 141.0L262.8 141.6L263.9 142.3L264.9 143.0L266.0 143.7L267.1 144.4L268.2 145.1L269.2 145.8L270.3 146.4L271.4 147.1L272.4 147.8L273.5 148.5L274.6 149.2L275.6 149.9L276.7 150.6L277.8 151.3L278.8 152.0L279.9 152.7L281.0 153.4L282.1 154.1L283.1 154.8L284.2 155.5L285.3 156.3L286.3 157.0L287.4 157.7L288.5 158.4L289.5 159.1L290.6 159.8L291.7 160.5L292.8 161.2"/><path class="c" stroke="#50b11b" d="M78.8 70.4L79.9 70.6L81.0 70.7L82.1 70.9L83.1 71.1L84.2 71.2L85.3 71.4L86.3 71.6L87.4 71.7L88.5 71.9L89.5 72.1L90.6 72.3L91.7 72.4L92.8 72.6L93.8 72.8L94.9 72.9L96.0 73.1L97.0 73.3L98.1 73.5L99.2 73.6L100.2 73.8L101.3 74.0L102.4 74.2L103.4 74.3L104.5 74.5L105.6 74.7L106.7 74.9L107.7 75.1L108.8 75.2L109.9 75.4L110.9 75.6L112.0 75.8L113.1 76.0L114.1 76.2L115.2 76.3L116.3 76.5L117.4 76.7L118.4 76.9L119.5 77.1L120.6 77.3L121.6 77.5L122.7 77.7L123.8 77.9L124.8 78.1L125.9 78.3L127.0 78.5L128.0 78.7L129.1 78.9L130.2 79.1L131.3 79.3L132.3 79.5L133.4 79.7L134.5 80.0L135.5 80.2L136.6 80.4L137.7 80.6L138.7 80.8L139.8 81.1L140.9 81.3L142.0 81.5L143.0 81.7L144.1 82.0L145.2 82.2L146.2 82.5L147.3 82.7L148.4 82.9L149.4 83.2L150.5 83.4L151.6 83.7L152.6 84.0L153.7 84.2L154.8 84.5L155.9 84.7L156.9 85.0L158.0 85.3L159.1 85.6L160.1 85.9L161.2 86.1L162.3 86.4L163.3 86.7L164.4 87.0L165.5 87.3L166.5 87.6L167.6 87.9L168.7 88.3L169.8 88.6L170.8 88.9L171.9 89.2L173.0 89.6L174.0 89.9L175.1 90.2L176.2 90.6L177.2 90.9L178.3 91.3L179.4 91.7L180.5 92.0L181.5 92.4L182.6 92.8L183.7 93.2L184.7 93.5L185.8 93.9L186.9 94.3L187.9 94.7L189.0 95.1L190.1 95.6L191.1 96.0L192.2 96.4L193.3 96.8L194.4 97.3L195.4 97.7L196.5 98.2L197.6 98.6L198.6 99.1L199.7 99.5L200.8 100.0L201.8 100.5L202.9 101.0L204.0 101.5L205.1 102.0L206.1 102.4L207.2 103.0L208.3 103.5L209.3 104.0L210.4 104.5L211.5 105.0L212.5 105.5L213.6 106.1L214.7 106.6L215.7 107.2L216.8 107.7L217.9 108.3L219.0 108.8L220.0 109.4L221.1 109.9L222.2 110.5L223.2 111.1L224.3 111.7L225.4 112.3L226.4 112.9L227.5 113.4L228.6 114.0L229.6 114.6L230.7 115.2L231.8 115.9L232.9 116.5L233.9 117.1L235.0 117.7L236.1 118.3L237.1 119.0L238.2 119.6L239.3 120.2L240.3 120.9L241.4 121.5L242.5 122.1L243.6 122.8L244.6 123.4L245.7 124.1L246.8 124.7L247.8 125.4L248.9 126.0L250.0 126.7L251.0 127.4L252.1 128.0L253.2 128.7L254.2 129.4L255.3 130.0L256.4 130.7L257.5 131.4L258.5 132.1L259.6 132.8L260.7 133.4L261.7 134.1L262.8 134.8L263.9 135.5L264.9 136.2L266.0 136.9L267.1 137.6L268.2 138.3L269.2 139.0L270.3 139.7L271.4 140.3L272.4 141.0L273.5 141.7L274.6 142.4L275.6 143.1L276.7 143.9L277.8 144.6L278.8 145.3L279.9 146.0L281.0 146.7L282.1 147.4L283.1 148.1L284.2 148.8L285.3 149.5L286.3 150.2L287.4 150.9L288.5 151.7L289.5 152.4L290.6 153.1L291.7 153.8L292.8 154.5"/><path class="c" stroke="#f562cc" d="M78.8 72.0L79.9 72.2L81.0 72.4L82.1 72.6L83.1 72.8L84.2 73.0L85.3 73.1L86.3 73.3L87.4 73.5L88.5 73.7L89.5 73.9L90.6 74.1L91.7 74.3L92.8 74.4L93.8 74.6L94.9 74.8L96.0 75.0L97.0 75.2L98.1 75.4L99.2 75.6L100.2 75.8L101.3 76.0L102.4 76.2L103.4 76.3L104.5 76.5L105.6 76.7L106.7 76.9L107.7 77.1L108.8 77.3L109.9 77.5L110.9 77.7L112.0 77.9L113.1 78.1L114.1 78.3L115.2 78.5L116.3 78.7L117.4 78.9L118.4 79.1L119.5 79.3L120.6 79.5L121.6 79.7L122.7 79.9L123.8 80.1L124.8 80.3L125.9 80.5L127.0 80.7L128.0 80.9L129.1 81.1L130.2 81.3L131.3 81.6L132.3 81.8L133.4 82.0L134.5 82.2L135.5 82.4L136.6 82.6L137.7 82.8L138.7 83.1L139.8 83.3L140.9 83.5L142.0 83.7L143.0 84.0L144.1 84.2L145.2 84.4L146.2 84.7L147.3 84.9L148.4 85.1L149.4 85.4L150.5 85.6L151.6 85.8L152.6 86.1L153.7 86.3L154.8 86.6L155.9 86.8L156.9 87.1L158.0 87.3L159.1 87.6L160.1 87.9L161.2 88.1L162.3 88.4L163.3 88.7L164.4 88.9L165.5 89.2L166.5 89.5L167.6 89.8L168.7 90.0L169.8 90.3L170.8 90.6L171.9 90.9L173.0 91.2L174.0 91.5L175.1 91.8L176.2 92.1L177.2 92.4L178.3 92.8L179.4 93.1L180.5 93.4L181.5 93.7L182.6 94.1L183.7 94.4L184.7 94.8L185.8 95.1L186.9 95.5L187.9 95.8L189.0 96.2L190.1 96.5L191.1 96.9L192.2 97.3L193.3 97.7L194.4 98.0L195.4 98.4L196.5 98.8L197.6 99.2L198.6 99.6L199.7 100.0L200.8 100.5L201.8 100.9L202.9 101.3L204.0 101.7L205.1 102.2L206.1 102.6L207.2 103.1L208.3 103.5L209.3 104.0L210.4 104.4L211.5 104.9L212.5 105.4L213.6 105.9L214.7 106.3L215.7 106.8L216.8 107.3L217.9 107.8L219.0 108.3L220.0 108.8L221.1 109.4L222.2 109.9L223.2 110.4L224.3 110.9L225.4 111.5L226.4 112.0L227.5 112.6L228.6 113.1L229.6 113.7L230.7 114.2L231.8 114.8L232.9 115.3L233.9 115.9L235.0 116.5L236.1 117.1L237.1 117.7L238.2 118.3L239.3 118.8L240.3 119.4L241.4 120.0L242.5 120.6L243.6 121.3L244.6 121.9L245.7 122.5L246.8 123.1L247.8 123.7L248.9 124.4L250.0 125.0L251.0 125.6L252.1 126.3L253.2 126.9L254.2 127.5L255.3 128.2L256.4 128.8L257.5 129.5L258.5 130.1L259.6 130.8L260.7 131.4L261.7 132.1L262.8 132.8L263.9 133.4L264.9 134.1L266.0 134.8L267.1 135.4L268.2 136.1L269.2 136.8L270.3 137.5L271.4 138.2L272.4 138.8L273.5 139.5L274.6 140.2L275.6 140.9L276.7 141.6L277.8 142.3L278.8 143.0L279.9 143.7L281.0 144.3L282.1 145.0L283.1 145.7L284.2 146.4L285.3 147.1L286.3 147.8L287.4 148.5L288.5 149.2L289.5 149.9L290.6 150.7L291.7 151.4L292.8 152.1"/><path class="dash" d="M78.8 67.8L292.8 144.1"/></g>
<path d="M121.80 202.5v-3.2M121.80 49.7v3.2M164.55 202.5v-3.2M164.55 49.7v3.2M207.30 202.5v-3.2M207.30 49.7v3.2M250.05 202.5v-3.2M250.05 49.7v3.2M79.05 68.10h3.2M292.80 68.10h-3.2M79.05 98.66h3.2M292.80 98.66h-3.2M79.05 129.22h3.2M292.80 129.22h-3.2M79.05 159.78h3.2M292.80 159.78h-3.2M79.05 190.34h3.2M292.80 190.34h-3.2" class="tick"/>
<rect x="79.05" y="49.7" width="213.75" height="152.8" class="frame"/>
<text transform="matrix(0.4676 0 0 0.4561 74.22 220.44)" font-size="40" style="">0</text>
<text transform="matrix(0.4458 0 0 0.4561 108.22 220.44)" font-size="40" style="">200</text>
<text transform="matrix(0.4381 0 0 0.4561 151.42 220.44)" font-size="40" style="">400</text>
<text transform="matrix(0.4458 0 0 0.4561 193.72 220.44)" font-size="40" style="">600</text>
<text transform="matrix(0.4439 0 0 0.4561 236.58 220.44)" font-size="40" style="">800</text>
<text transform="matrix(0.4320 0 0 0.4561 274.64 220.44)" font-size="40" style="">1000</text>
<text transform="matrix(0.4571 0 0 0.4411 51.80 76.44)" font-size="40" style="">10</text>
<text transform="matrix(0.3000 0 0 0.3327 69.65 67.17)" font-size="40" style="">0</text>
<text transform="matrix(0.4629 0 0 0.4411 41.48 107.00)" font-size="40" style="">10</text>
<text transform="matrix(0.4105 0 0 0.3390 58.68 97.81)" font-size="40" style="">−1</text>
<text transform="matrix(0.4629 0 0 0.4411 41.48 137.56)" font-size="40" style="">10</text>
<text transform="matrix(0.4105 0 0 0.3358 58.68 128.37)" font-size="40" style="">−2</text>
<text transform="matrix(0.4629 0 0 0.4411 41.48 168.12)" font-size="40" style="">10</text>
<text transform="matrix(0.4026 0 0 0.3327 58.69 158.85)" font-size="40" style="">−3</text>
<text transform="matrix(0.4629 0 0 0.4411 41.48 198.68)" font-size="40" style="">10</text>
<text transform="matrix(0.3925 0 0 0.3390 58.72 189.49)" font-size="40" style="">−4</text>
<text transform="matrix(0.5529 0 0 0.5838 194.11 251.70)" font-size="40" style="font-style:italic;stroke:none;">k</text>
<text transform="matrix(0.5859 0 0 0.6224 116.49 31.79)" font-size="40" style="">State-action NPG</text>
<g transform="rotate(-90)"><text transform="matrix(0.6083 0 0 0.5867 -184.95 30.00)" font-size="40" style="font-style:italic;stroke:none;">R</text><text transform="matrix(0.3800 0 0 0.4772 -170.10 23.56)" font-size="40" style="">⋆</text><text transform="matrix(0.6973 0 0 0.6000 -155.39 31.35)" font-size="40" style="">−</text><text transform="matrix(0.6292 0 0 0.5867 -132.84 30.00)" font-size="40" style="font-style:italic;stroke:none;">R</text><text transform="matrix(0.4976 0 0 0.5903 -117.57 29.18)" font-size="40" style="">(</text><text transform="matrix(0.6090 0 0 0.5204 -111.72 28.47)" font-size="40" style="font-style:italic;stroke:none;">θ</text><text transform="matrix(0.4324 0 0 0.2432 -99.74 31.95)" font-size="40" style="font-style:italic;stroke:none;">k</text><text transform="matrix(0.5463 0 0 0.5903 -90.78 29.18)" font-size="40" style="">)</text></g>
</g>
<g transform="translate(330.1,0)">
<path d="M121.80 49.7V202.5M164.55 49.7V202.5M207.30 49.7V202.5M250.05 49.7V202.5M79.05 68.10H292.80M79.05 98.66H292.80M79.05 129.22H292.80M79.05 159.78H292.80M79.05 190.34H292.80" class="grid"/>
<g clip-path="url(#clip)"><path class="c" stroke="#9fa11b" d="M78.8 69.1L79.9 69.2L81.0 69.3L82.1 69.5L83.1 69.7L84.2 69.8L85.3 70.0L86.3 70.2L87.4 70.5L88.5 70.7L89.5 70.9L90.6 71.2L91.7 71.5L92.8 71.7L93.8 72.0L94.9 72.3L96.0 72.6L97.0 72.9L98.1 73.2L99.2 73.5L100.2 73.8L101.3 74.1L102.4 74.4L103.4 74.7L104.5 75.0L105.6 75.3L106.7 75.5L107.7 75.8L108.8 76.0L109.9 76.2L110.9 76.5L112.0 76.7L113.1 76.8L114.1 77.0L115.2 77.2L116.3 77.4L117.4 77.5L118.4 77.6L119.5 77.8L120.6 77.9L121.6 78.0L122.7 78.1L123.8 78.2L124.8 78.3L125.9 78.4L127.0 78.5L128.0 78.6L129.1 78.6L130.2 78.7L131.3 78.8L132.3 78.9L133.4 78.9L134.5 79.0L135.5 79.1L136.6 79.1L137.7 79.2L138.7 79.2L139.8 79.3L140.9 79.4L142.0 79.4L143.0 79.5L144.1 79.6L145.2 79.7L146.2 79.7L147.3 79.8L148.4 79.9L149.4 80.0L150.5 80.1L151.6 80.1L152.6 80.2L153.7 80.3L154.8 80.4L155.9 80.5L156.9 80.6L158.0 80.8L159.1 80.9L160.1 81.0L161.2 81.1L162.3 81.3L163.3 81.4L164.4 81.6L165.5 81.7L166.5 81.9L167.6 82.1L168.7 82.2L169.8 82.4L170.8 82.6L171.9 82.8L173.0 83.0L174.0 83.2L175.1 83.5L176.2 83.7L177.2 83.9L178.3 84.2L179.4 84.4L180.5 84.7L181.5 85.0L182.6 85.3L183.7 85.6L184.7 85.9L185.8 86.2L186.9 86.6L187.9 86.9L189.0 87.2L190.1 87.6L191.1 88.0L192.2 88.4L193.3 88.8L194.4 89.2L195.4 89.6L196.5 90.0L197.6 90.4L198.6 90.9L199.7 91.3L200.8 91.8L201.8 92.3L202.9 92.7L204.0 93.2L205.1 93.7L206.1 94.2L207.2 94.8L208.3 95.3L209.3 95.8L210.4 96.4L211.5 96.9L212.5 97.5L213.6 98.0L214.7 98.6L215.7 99.2L216.8 99.8L217.9 100.4L219.0 101.0L220.0 101.6L221.1 102.2L222.2 102.8L223.2 103.4L224.3 104.1L225.4 104.7L226.4 105.3L227.5 106.0L228.6 106.6L229.6 107.3L230.7 108.0L231.8 108.6L232.9 109.3L233.9 110.0L235.0 110.6L236.1 111.3L237.1 112.0L238.2 112.7L239.3 113.3L240.3 114.0L241.4 114.7L242.5 115.4L243.6 116.1L244.6 116.8L245.7 117.5L246.8 118.2L247.8 118.9L248.9 119.6L250.0 120.3L251.0 121.0L252.1 121.8L253.2 122.5L254.2 123.2L255.3 123.9L256.4 124.6L257.5 125.3L258.5 126.1L259.6 126.8L260.7 127.5L261.7 128.2L262.8 128.9L263.9 129.7L264.9 130.4L266.0 131.1L267.1 131.9L268.2 132.6L269.2 133.3L270.3 134.0L271.4 134.8L272.4 135.5L273.5 136.2L274.6 137.0L275.6 137.7L276.7 138.4L277.8 139.2L278.8 139.9L279.9 140.6L281.0 141.4L282.1 142.1L283.1 142.8L284.2 143.6L285.3 144.3L286.3 145.0L287.4 145.8L288.5 146.5L289.5 147.2L290.6 148.0L291.7 148.7L292.8 149.5"/><path class="c" stroke="#1eada4" d="M78.8 69.3L79.9 69.4L81.0 69.6L82.1 69.8L83.1 69.9L84.2 70.1L85.3 70.3L86.3 70.5L87.4 70.8L88.5 71.0L89.5 71.2L90.6 71.5L91.7 71.7L92.8 72.0L93.8 72.3L94.9 72.5L96.0 72.8L97.0 73.1L98.1 73.4L99.2 73.6L100.2 73.9L101.3 74.2L102.4 74.4L103.4 74.7L104.5 74.9L105.6 75.1L106.7 75.4L107.7 75.6L108.8 75.8L109.9 76.0L110.9 76.2L112.0 76.3L113.1 76.5L114.1 76.7L115.2 76.9L116.3 77.0L117.4 77.2L118.4 77.3L119.5 77.5L120.6 77.6L121.6 77.7L122.7 77.9L123.8 78.0L124.8 78.2L125.9 78.3L127.0 78.4L128.0 78.6L129.1 78.7L130.2 78.9L131.3 79.0L132.3 79.2L133.4 79.3L134.5 79.5L135.5 79.6L136.6 79.8L137.7 80.0L138.7 80.2L139.8 80.4L140.9 80.5L142.0 80.7L143.0 80.9L144.1 81.2L145.2 81.4L146.2 81.6L147.3 81.9L148.4 82.1L149.4 82.4L150.5 82.6L151.6 82.9L152.6 83.2L153.7 83.5L154.8 83.8L155.9 84.1L156.9 84.4L158.0 84.7L159.1 85.1L160.1 85.4L161.2 85.8L162.3 86.1L163.3 86.5L164.4 86.9L165.5 87.3L166.5 87.7L167.6 88.2L168.7 88.6L169.8 89.0L170.8 89.5L171.9 89.9L173.0 90.4L174.0 90.9L175.1 91.4L176.2 91.9L177.2 92.4L178.3 92.9L179.4 93.4L180.5 94.0L181.5 94.5L182.6 95.1L183.7 95.6L184.7 96.2L185.8 96.7L186.9 97.3L187.9 97.9L189.0 98.5L190.1 99.1L191.1 99.7L192.2 100.3L193.3 100.9L194.4 101.6L195.4 102.2L196.5 102.8L197.6 103.5L198.6 104.1L199.7 104.8L200.8 105.4L201.8 106.1L202.9 106.7L204.0 107.4L205.1 108.1L206.1 108.7L207.2 109.4L208.3 110.1L209.3 110.8L210.4 111.5L211.5 112.1L212.5 112.8L213.6 113.5L214.7 114.2L215.7 114.9L216.8 115.6L217.9 116.3L219.0 117.0L220.0 117.7L221.1 118.4L222.2 119.2L223.2 119.9L224.3 120.6L225.4 121.3L226.4 122.0L227.5 122.7L228.6 123.4L229.6 124.2L230.7 124.9L231.8 125.6L232.9 126.3L233.9 127.1L235.0 127.8L236.1 128.5L237.1 129.2L238.2 130.0L239.3 130.7L240.3 131.4L241.4 132.1L242.5 132.9L243.6 133.6L244.6 134.3L245.7 135.1L246.8 135.8L247.8 136.5L248.9 137.3L250.0 138.0L251.0 138.7L252.1 139.5L253.2 140.2L254.2 140.9L255.3 141.7L256.4 142.4L257.5 143.1L258.5 143.9L259.6 144.6L260.7 145.3L261.7 146.1L262.8 146.8L263.9 147.6L264.9 148.3L266.0 149.0L267.1 149.8L268.2 150.5L269.2 151.2L270.3 152.0L271.4 152.7L272.4 153.5L273.5 154.2L274.6 154.9L275.6 155.7L276.7 156.4L277.8 157.2L278.8 157.9L279.9 158.6L281.0 159.4L282.1 160.1L283.1 160.8L284.2 161.6L285.3 162.3L286.3 163.1L287.4 163.8L288.5 164.5L289.5 165.3L290.6 166.0L291.7 166.8L292.8 167.5"/><path class="c" stroke="#1dae99" d="M78.8 70.0L79.9 70.2L81.0 70.4L82.1 70.7L83.1 70.9L84.2 71.2L85.3 71.4L86.3 71.7L87.4 72.0L88.5 72.3L89.5 72.6L90.6 72.9L91.7 73.2L92.8 73.5L93.8 73.9L94.9 74.2L96.0 74.5L97.0 74.8L98.1 75.1L99.2 75.4L100.2 75.7L101.3 76.0L102.4 76.3L103.4 76.6L104.5 76.9L105.6 77.1L106.7 77.4L107.7 77.6L108.8 77.8L109.9 78.1L110.9 78.3L112.0 78.5L113.1 78.7L114.1 78.9L115.2 79.1L116.3 79.3L117.4 79.5L118.4 79.7L119.5 79.9L120.6 80.0L121.6 80.2L122.7 80.4L123.8 80.6L124.8 80.8L125.9 81.0L127.0 81.2L128.0 81.4L129.1 81.6L130.2 81.8L131.3 82.0L132.3 82.2L133.4 82.4L134.5 82.7L135.5 82.9L136.6 83.2L137.7 83.4L138.7 83.7L139.8 83.9L140.9 84.2L142.0 84.5L143.0 84.8L144.1 85.1L145.2 85.4L146.2 85.7L147.3 86.1L148.4 86.4L149.4 86.8L150.5 87.1L151.6 87.5L152.6 87.9L153.7 88.3L154.8 88.7L155.9 89.1L156.9 89.5L158.0 89.9L159.1 90.4L160.1 90.8L161.2 91.3L162.3 91.8L163.3 92.3L164.4 92.7L165.5 93.2L166.5 93.7L167.6 94.3L168.7 94.8L169.8 95.3L170.8 95.9L171.9 96.4L173.0 97.0L174.0 97.5L175.1 98.1L176.2 98.7L177.2 99.3L178.3 99.9L179.4 100.5L180.5 101.1L181.5 101.7L182.6 102.3L183.7 102.9L184.7 103.5L185.8 104.2L186.9 104.8L187.9 105.5L189.0 106.1L190.1 106.8L191.1 107.4L192.2 108.1L193.3 108.7L194.4 109.4L195.4 110.1L196.5 110.8L197.6 111.4L198.6 112.1L199.7 112.8L200.8 113.5L201.8 114.2L202.9 114.9L204.0 115.6L205.1 116.3L206.1 117.0L207.2 117.7L208.3 118.4L209.3 119.1L210.4 119.8L211.5 120.5L212.5 121.2L213.6 121.9L214.7 122.6L215.7 123.3L216.8 124.1L217.9 124.8L219.0 125.5L220.0 126.2L221.1 126.9L222.2 127.7L223.2 128.4L224.3 129.1L225.4 129.8L226.4 130.6L227.5 131.3L228.6 132.0L229.6 132.7L230.7 133.5L231.8 134.2L232.9 134.9L233.9 135.7L235.0 136.4L236.1 137.1L237.1 137.9L238.2 138.6L239.3 139.3L240.3 140.1L241.4 140.8L242.5 141.5L243.6 142.3L244.6 143.0L245.7 143.7L246.8 144.5L247.8 145.2L248.9 145.9L250.0 146.7L251.0 147.4L252.1 148.2L253.2 148.9L254.2 149.6L255.3 150.4L256.4 151.1L257.5 151.8L258.5 152.6L259.6 153.3L260.7 154.1L261.7 154.8L262.8 155.5L263.9 156.3L264.9 157.0L266.0 157.8L267.1 158.5L268.2 159.2L269.2 160.0L270.3 160.7L271.4 161.4L272.4 162.2L273.5 162.9L274.6 163.7L275.6 164.4L276.7 165.1L277.8 165.9L278.8 166.6L279.9 167.4L281.0 168.1L282.1 168.8L283.1 169.6L284.2 170.3L285.3 171.1L286.3 171.8L287.4 172.5L288.5 173.3L289.5 174.0L290.6 174.8L291.7 175.5L292.8 176.2"/><path class="c" stroke="#f562cc" d="M78.8 69.0L79.9 69.1L81.0 69.2L82.1 69.4L83.1 69.5L84.2 69.7L85.3 69.9L86.3 70.1L87.4 70.3L88.5 70.6L89.5 70.8L90.6 71.1L91.7 71.4L92.8 71.7L93.8 72.1L94.9 72.4L96.0 72.8L97.0 73.2L98.1 73.6L99.2 74.0L100.2 74.4L101.3 74.8L102.4 75.3L103.4 75.7L104.5 76.2L105.6 76.7L106.7 77.1L107.7 77.6L108.8 78.0L109.9 78.5L110.9 79.0L112.0 79.4L113.1 79.8L114.1 80.3L115.2 80.7L116.3 81.1L117.4 81.5L118.4 81.9L119.5 82.3L120.6 82.7L121.6 83.0L122.7 83.4L123.8 83.7L124.8 84.1L125.9 84.4L127.0 84.8L128.0 85.1L129.1 85.4L130.2 85.8L131.3 86.1L132.3 86.4L133.4 86.8L134.5 87.1L135.5 87.4L136.6 87.8L137.7 88.1L138.7 88.5L139.8 88.8L140.9 89.2L142.0 89.6L143.0 89.9L144.1 90.3L145.2 90.7L146.2 91.1L147.3 91.5L148.4 91.9L149.4 92.4L150.5 92.8L151.6 93.2L152.6 93.7L153.7 94.1L154.8 94.6L155.9 95.1L156.9 95.5L158.0 96.0L159.1 96.5L160.1 97.0L161.2 97.5L162.3 98.1L163.3 98.6L164.4 99.1L165.5 99.7L166.5 100.2L167.6 100.8L168.7 101.4L169.8 101.9L170.8 102.5L171.9 103.1L173.0 103.7L174.0 104.3L175.1 104.9L176.2 105.5L177.2 106.2L178.3 106.8L179.4 107.4L180.5 108.0L181.5 108.7L182.6 109.3L183.7 110.0L184.7 110.6L185.8 111.3L186.9 112.0L187.9 112.6L189.0 113.3L190.1 114.0L191.1 114.6L192.2 115.3L193.3 116.0L194.4 116.7L195.4 117.4L196.5 118.1L197.6 118.8L198.6 119.5L199.7 120.2L200.8 120.9L201.8 121.6L202.9 122.3L204.0 123.0L205.1 123.7L206.1 124.4L207.2 125.1L208.3 125.8L209.3 126.5L210.4 127.2L211.5 128.0L212.5 128.7L213.6 129.4L214.7 130.1L215.7 130.8L216.8 131.6L217.9 132.3L219.0 133.0L220.0 133.7L221.1 134.5L222.2 135.2L223.2 135.9L224.3 136.6L225.4 137.4L226.4 138.1L227.5 138.8L228.6 139.6L229.6 140.3L230.7 141.0L231.8 141.8L232.9 142.5L233.9 143.2L235.0 144.0L236.1 144.7L237.1 145.4L238.2 146.2L239.3 146.9L240.3 147.6L241.4 148.4L242.5 149.1L243.6 149.8L244.6 150.6L245.7 151.3L246.8 152.1L247.8 152.8L248.9 153.5L250.0 154.3L251.0 155.0L252.1 155.7L253.2 156.5L254.2 157.2L255.3 158.0L256.4 158.7L257.5 159.4L258.5 160.2L259.6 160.9L260.7 161.6L261.7 162.4L262.8 163.1L263.9 163.9L264.9 164.6L266.0 165.3L267.1 166.1L268.2 166.8L269.2 167.6L270.3 168.3L271.4 169.0L272.4 169.8L273.5 170.5L274.6 171.3L275.6 172.0L276.7 172.7L277.8 173.5L278.8 174.2L279.9 175.0L281.0 175.7L282.1 176.4L283.1 177.2L284.2 177.9L285.3 178.7L286.3 179.4L287.4 180.1L288.5 180.9L289.5 181.6L290.6 182.4L291.7 183.1L292.8 183.8"/><path class="c" stroke="#1fa7d5" d="M78.8 70.8L79.9 71.1L81.0 71.4L82.1 71.7L83.1 72.1L84.2 72.4L85.3 72.8L86.3 73.2L87.4 73.7L88.5 74.1L89.5 74.6L90.6 75.1L91.7 75.6L92.8 76.1L93.8 76.7L94.9 77.2L96.0 77.8L97.0 78.4L98.1 78.9L99.2 79.5L100.2 80.1L101.3 80.6L102.4 81.2L103.4 81.7L104.5 82.3L105.6 82.8L106.7 83.4L107.7 83.9L108.8 84.4L109.9 84.9L110.9 85.4L112.0 85.9L113.1 86.3L114.1 86.8L115.2 87.2L116.3 87.7L117.4 88.1L118.4 88.6L119.5 89.0L120.6 89.4L121.6 89.9L122.7 90.3L123.8 90.7L124.8 91.1L125.9 91.5L127.0 92.0L128.0 92.4L129.1 92.8L130.2 93.3L131.3 93.7L132.3 94.1L133.4 94.6L134.5 95.0L135.5 95.5L136.6 96.0L137.7 96.4L138.7 96.9L139.8 97.4L140.9 97.9L142.0 98.4L143.0 98.9L144.1 99.4L145.2 99.9L146.2 100.4L147.3 101.0L148.4 101.5L149.4 102.0L150.5 102.6L151.6 103.2L152.6 103.7L153.7 104.3L154.8 104.9L155.9 105.5L156.9 106.1L158.0 106.7L159.1 107.3L160.1 107.9L161.2 108.5L162.3 109.1L163.3 109.7L164.4 110.4L165.5 111.0L166.5 111.7L167.6 112.3L168.7 113.0L169.8 113.6L170.8 114.3L171.9 114.9L173.0 115.6L174.0 116.3L175.1 116.9L176.2 117.6L177.2 118.3L178.3 119.0L179.4 119.7L180.5 120.4L181.5 121.1L182.6 121.7L183.7 122.4L184.7 123.1L185.8 123.8L186.9 124.5L187.9 125.3L189.0 126.0L190.1 126.7L191.1 127.4L192.2 128.1L193.3 128.8L194.4 129.5L195.4 130.2L196.5 130.9L197.6 131.7L198.6 132.4L199.7 133.1L200.8 133.8L201.8 134.6L202.9 135.3L204.0 136.0L205.1 136.7L206.1 137.5L207.2 138.2L208.3 138.9L209.3 139.6L210.4 140.4L211.5 141.1L212.5 141.8L213.6 142.6L214.7 143.3L215.7 144.0L216.8 144.8L217.9 145.5L219.0 146.2L220.0 147.0L221.1 147.7L222.2 148.4L223.2 149.2L224.3 149.9L225.4 150.6L226.4 151.4L227.5 152.1L228.6 152.8L229.6 153.6L230.7 154.3L231.8 155.0L232.9 155.8L233.9 156.5L235.0 157.3L236.1 158.0L237.1 158.7L238.2 159.5L239.3 160.2L240.3 160.9L241.4 161.7L242.5 162.4L243.6 163.2L244.6 163.9L245.7 164.6L246.8 165.4L247.8 166.1L248.9 166.9L250.0 167.6L251.0 168.3L252.1 169.1L253.2 169.8L254.2 170.6L255.3 171.3L256.4 172.0L257.5 172.8L258.5 173.5L259.6 174.3L260.7 175.0L261.7 175.7L262.8 176.5L263.9 177.2L264.9 178.0L266.0 178.7L267.1 179.4L268.2 180.2L269.2 180.9L270.3 181.7L271.4 182.4L272.4 183.1L273.5 183.9L274.6 184.6L275.6 185.4L276.7 186.1L277.8 186.8L278.8 187.6L279.9 188.3L281.0 189.1L282.1 189.8L283.1 190.5L284.2 191.3L285.3 192.0L286.3 192.8L287.4 193.5L288.5 194.2L289.5 195.0L290.6 195.7L291.7 196.5L292.8 197.2"/><path class="c" stroke="#dc891c" d="M78.8 68.0L79.9 68.1L81.0 68.1L82.1 68.1L83.1 68.2L84.2 68.2L85.3 68.3L86.3 68.4L87.4 68.4L88.5 68.5L89.5 68.6L90.6 68.7L91.7 68.8L92.8 68.9L93.8 69.0L94.9 69.2L96.0 69.3L97.0 69.5L98.1 69.7L99.2 69.9L100.2 70.1L101.3 70.4L102.4 70.6L103.4 70.9L104.5 71.2L105.6 71.6L106.7 72.0L107.7 72.4L108.8 72.8L109.9 73.3L110.9 73.8L112.0 74.4L113.1 75.0L114.1 75.6L115.2 76.2L116.3 76.9L117.4 77.7L118.4 78.4L119.5 79.2L120.6 80.1L121.6 80.9L122.7 81.8L123.8 82.7L124.8 83.7L125.9 84.6L127.0 85.6L128.0 86.6L129.1 87.7L130.2 88.7L131.3 89.7L132.3 90.8L133.4 91.9L134.5 92.9L135.5 94.0L136.6 95.0L137.7 96.1L138.7 97.2L139.8 98.2L140.9 99.3L142.0 100.3L143.0 101.3L144.1 102.3L145.2 103.3L146.2 104.3L147.3 105.3L148.4 106.3L149.4 107.2L150.5 108.1L151.6 109.1L152.6 110.0L153.7 110.9L154.8 111.7L155.9 112.6L156.9 113.5L158.0 114.3L159.1 115.1L160.1 116.0L161.2 116.8L162.3 117.6L163.3 118.4L164.4 119.2L165.5 120.0L166.5 120.7L167.6 121.5L168.7 122.3L169.8 123.0L170.8 123.8L171.9 124.5L173.0 125.3L174.0 126.0L175.1 126.8L176.2 127.5L177.2 128.2L178.3 129.0L179.4 129.7L180.5 130.4L181.5 131.2L182.6 131.9L183.7 132.6L184.7 133.4L185.8 134.1L186.9 134.8L187.9 135.5L189.0 136.3L190.1 137.0L191.1 137.7L192.2 138.4L193.3 139.2L194.4 139.9L195.4 140.6L196.5 141.3L197.6 142.1L198.6 142.8L199.7 143.5L200.8 144.3L201.8 145.0L202.9 145.7L204.0 146.4L205.1 147.2L206.1 147.9L207.2 148.6L208.3 149.4L209.3 150.1L210.4 150.8L211.5 151.6L212.5 152.3L213.6 153.0L214.7 153.8L215.7 154.5L216.8 155.2L217.9 156.0L219.0 156.7L220.0 157.4L221.1 158.2L222.2 158.9L223.2 159.7L224.3 160.4L225.4 161.1L226.4 161.9L227.5 162.6L228.6 163.3L229.6 164.1L230.7 164.8L231.8 165.5L232.9 166.3L233.9 167.0L235.0 167.8L236.1 168.5L237.1 169.2L238.2 170.0L239.3 170.7L240.3 171.5L241.4 172.2L242.5 172.9L243.6 173.7L244.6 174.4L245.7 175.1L246.8 175.9L247.8 176.6L248.9 177.4L250.0 178.1L251.0 178.8L252.1 179.6L253.2 180.3L254.2 181.1L255.3 181.8L256.4 182.5L257.5 183.3L258.5 184.0L259.6 184.8L260.7 185.5L261.7 186.2L262.8 187.0L263.9 187.7L264.9 188.5L266.0 189.2L267.1 189.9L268.2 190.7L269.2 191.4L270.3 192.2L271.4 192.9L272.4 193.6L273.5 194.4L274.6 195.1L275.6 195.9L276.7 196.6L277.8 197.4L278.8 198.1L279.9 198.8L281.0 199.6L282.1 200.3L283.1 201.1L284.2 201.8L285.3 202.5L286.3 203.3L287.4 204.0L288.5 204.8L289.5 205.5L290.6 206.2L291.7 207.0L292.8 207.7"/><path class="c" stroke="#8ea61b" d="M78.8 69.6L79.9 69.8L81.0 69.9L82.1 70.2L83.1 70.4L84.2 70.6L85.3 70.9L86.3 71.2L87.4 71.5L88.5 71.8L89.5 72.2L90.6 72.5L91.7 72.9L92.8 73.4L93.8 73.8L94.9 74.3L96.0 74.8L97.0 75.3L98.1 75.8L99.2 76.4L100.2 77.0L101.3 77.5L102.4 78.1L103.4 78.8L104.5 79.4L105.6 80.0L106.7 80.7L107.7 81.3L108.8 81.9L109.9 82.6L110.9 83.2L112.0 83.9L113.1 84.5L114.1 85.2L115.2 85.8L116.3 86.5L117.4 87.1L118.4 87.7L119.5 88.4L120.6 89.0L121.6 89.6L122.7 90.2L123.8 90.8L124.8 91.4L125.9 92.0L127.0 92.6L128.0 93.2L129.1 93.8L130.2 94.4L131.3 95.0L132.3 95.6L133.4 96.2L134.5 96.9L135.5 97.5L136.6 98.1L137.7 98.7L138.7 99.3L139.8 99.9L140.9 100.5L142.0 101.1L143.0 101.8L144.1 102.4L145.2 103.0L146.2 103.6L147.3 104.3L148.4 104.9L149.4 105.6L150.5 106.2L151.6 106.9L152.6 107.5L153.7 108.2L154.8 108.8L155.9 109.5L156.9 110.2L158.0 110.8L159.1 111.5L160.1 112.2L161.2 112.9L162.3 113.5L163.3 114.2L164.4 114.9L165.5 115.6L166.5 116.3L167.6 117.0L168.7 117.7L169.8 118.4L170.8 119.1L171.9 119.8L173.0 120.5L174.0 121.2L175.1 121.9L176.2 122.6L177.2 123.3L178.3 124.0L179.4 124.7L180.5 125.5L181.5 126.2L182.6 126.9L183.7 127.6L184.7 128.3L185.8 129.0L186.9 129.8L187.9 130.5L189.0 131.2L190.1 131.9L191.1 132.7L192.2 133.4L193.3 134.1L194.4 134.8L195.4 135.6L196.5 136.3L197.6 137.0L198.6 137.8L199.7 138.5L200.8 139.2L201.8 140.0L202.9 140.7L204.0 141.4L205.1 142.2L206.1 142.9L207.2 143.6L208.3 144.4L209.3 145.1L210.4 145.8L211.5 146.6L212.5 147.3L213.6 148.0L214.7 148.8L215.7 149.5L216.8 150.2L217.9 151.0L219.0 151.7L220.0 152.5L221.1 153.2L222.2 153.9L223.2 154.7L224.3 155.4L225.4 156.1L226.4 156.9L227.5 157.6L228.6 158.4L229.6 159.1L230.7 159.8L231.8 160.6L232.9 161.3L233.9 162.1L235.0 162.8L236.1 163.5L237.1 164.3L238.2 165.0L239.3 165.7L240.3 166.5L241.4 167.2L242.5 168.0L243.6 168.7L244.6 169.4L245.7 170.2L246.8 170.9L247.8 171.7L248.9 172.4L250.0 173.1L251.0 173.9L252.1 174.6L253.2 175.4L254.2 176.1L255.3 176.8L256.4 177.6L257.5 178.3L258.5 179.1L259.6 179.8L260.7 180.5L261.7 181.3L262.8 182.0L263.9 182.8L264.9 183.5L266.0 184.3L267.1 185.0L268.2 185.7L269.2 186.5L270.3 187.2L271.4 188.0L272.4 188.7L273.5 189.4L274.6 190.2L275.6 190.9L276.7 191.7L277.8 192.4L278.8 193.1L279.9 193.9L281.0 194.6L282.1 195.4L283.1 196.1L284.2 196.8L285.3 197.6L286.3 198.3L287.4 199.1L288.5 199.8L289.5 200.5L290.6 201.3L291.7 202.0L292.8 202.8"/><path class="c" stroke="#50b11b" d="M78.8 70.5L79.9 70.8L81.0 71.0L82.1 71.3L83.1 71.6L84.2 72.0L85.3 72.3L86.3 72.7L87.4 73.1L88.5 73.5L89.5 74.0L90.6 74.5L91.7 74.9L92.8 75.5L93.8 76.0L94.9 76.5L96.0 77.1L97.0 77.6L98.1 78.2L99.2 78.8L100.2 79.4L101.3 80.0L102.4 80.6L103.4 81.2L104.5 81.8L105.6 82.4L106.7 83.0L107.7 83.6L108.8 84.2L109.9 84.8L110.9 85.4L112.0 86.0L113.1 86.6L114.1 87.2L115.2 87.8L116.3 88.3L117.4 88.9L118.4 89.5L119.5 90.0L120.6 90.6L121.6 91.2L122.7 91.7L123.8 92.3L124.8 92.9L125.9 93.4L127.0 94.0L128.0 94.6L129.1 95.1L130.2 95.7L131.3 96.3L132.3 96.9L133.4 97.4L134.5 98.0L135.5 98.6L136.6 99.2L137.7 99.8L138.7 100.4L139.8 101.0L140.9 101.6L142.0 102.2L143.0 102.8L144.1 103.5L145.2 104.1L146.2 104.7L147.3 105.4L148.4 106.0L149.4 106.6L150.5 107.3L151.6 107.9L152.6 108.6L153.7 109.3L154.8 109.9L155.9 110.6L156.9 111.3L158.0 111.9L159.1 112.6L160.1 113.3L161.2 114.0L162.3 114.6L163.3 115.3L164.4 116.0L165.5 116.7L166.5 117.4L167.6 118.1L168.7 118.8L169.8 119.5L170.8 120.2L171.9 120.9L173.0 121.6L174.0 122.3L175.1 123.0L176.2 123.7L177.2 124.5L178.3 125.2L179.4 125.9L180.5 126.6L181.5 127.3L182.6 128.0L183.7 128.8L184.7 129.5L185.8 130.2L186.9 130.9L187.9 131.6L189.0 132.4L190.1 133.1L191.1 133.8L192.2 134.6L193.3 135.3L194.4 136.0L195.4 136.7L196.5 137.5L197.6 138.2L198.6 138.9L199.7 139.7L200.8 140.4L201.8 141.1L202.9 141.9L204.0 142.6L205.1 143.3L206.1 144.1L207.2 144.8L208.3 145.5L209.3 146.3L210.4 147.0L211.5 147.7L212.5 148.5L213.6 149.2L214.7 149.9L215.7 150.7L216.8 151.4L217.9 152.2L219.0 152.9L220.0 153.6L221.1 154.4L222.2 155.1L223.2 155.8L224.3 156.6L225.4 157.3L226.4 158.1L227.5 158.8L228.6 159.5L229.6 160.3L230.7 161.0L231.8 161.8L232.9 162.5L233.9 163.2L235.0 164.0L236.1 164.7L237.1 165.5L238.2 166.2L239.3 166.9L240.3 167.7L241.4 168.4L242.5 169.2L243.6 169.9L244.6 170.6L245.7 171.4L246.8 172.1L247.8 172.9L248.9 173.6L250.0 174.3L251.0 175.1L252.1 175.8L253.2 176.6L254.2 177.3L255.3 178.0L256.4 178.8L257.5 179.5L258.5 180.3L259.6 181.0L260.7 181.7L261.7 182.5L262.8 183.2L263.9 184.0L264.9 184.7L266.0 185.4L267.1 186.2L268.2 186.9L269.2 187.7L270.3 188.4L271.4 189.1L272.4 189.9L273.5 190.6L274.6 191.4L275.6 192.1L276.7 192.8L277.8 193.6L278.8 194.3L279.9 195.1L281.0 195.8L282.1 196.5L283.1 197.3L284.2 198.0L285.3 198.8L286.3 199.5L287.4 200.3L288.5 201.0L289.5 201.7L290.6 202.5L291.7 203.2L292.8 204.0"/><path class="c" stroke="#77ab1b" d="M78.8 71.4L79.9 71.7L81.0 72.1L82.1 72.4L83.1 72.8L84.2 73.2L85.3 73.6L86.3 74.1L87.4 74.6L88.5 75.0L89.5 75.5L90.6 76.0L91.7 76.6L92.8 77.1L93.8 77.7L94.9 78.2L96.0 78.8L97.0 79.4L98.1 79.9L99.2 80.5L100.2 81.1L101.3 81.7L102.4 82.3L103.4 82.8L104.5 83.4L105.6 84.0L106.7 84.5L107.7 85.1L108.8 85.7L109.9 86.2L110.9 86.8L112.0 87.3L113.1 87.9L114.1 88.4L115.2 88.9L116.3 89.5L117.4 90.0L118.4 90.6L119.5 91.1L120.6 91.6L121.6 92.2L122.7 92.7L123.8 93.3L124.8 93.8L125.9 94.4L127.0 94.9L128.0 95.5L129.1 96.1L130.2 96.6L131.3 97.2L132.3 97.8L133.4 98.4L134.5 98.9L135.5 99.5L136.6 100.1L137.7 100.7L138.7 101.3L139.8 101.9L140.9 102.6L142.0 103.2L143.0 103.8L144.1 104.4L145.2 105.1L146.2 105.7L147.3 106.3L148.4 107.0L149.4 107.6L150.5 108.3L151.6 109.0L152.6 109.6L153.7 110.3L154.8 110.9L155.9 111.6L156.9 112.3L158.0 113.0L159.1 113.7L160.1 114.3L161.2 115.0L162.3 115.7L163.3 116.4L164.4 117.1L165.5 117.8L166.5 118.5L167.6 119.2L168.7 119.9L169.8 120.6L170.8 121.3L171.9 122.0L173.0 122.7L174.0 123.4L175.1 124.1L176.2 124.9L177.2 125.6L178.3 126.3L179.4 127.0L180.5 127.7L181.5 128.5L182.6 129.2L183.7 129.9L184.7 130.6L185.8 131.3L186.9 132.1L187.9 132.8L189.0 133.5L190.1 134.3L191.1 135.0L192.2 135.7L193.3 136.4L194.4 137.2L195.4 137.9L196.5 138.6L197.6 139.4L198.6 140.1L199.7 140.8L200.8 141.6L201.8 142.3L202.9 143.0L204.0 143.8L205.1 144.5L206.1 145.2L207.2 146.0L208.3 146.7L209.3 147.4L210.4 148.2L211.5 148.9L212.5 149.6L213.6 150.4L214.7 151.1L215.7 151.9L216.8 152.6L217.9 153.3L219.0 154.1L220.0 154.8L221.1 155.5L222.2 156.3L223.2 157.0L224.3 157.8L225.4 158.5L226.4 159.2L227.5 160.0L228.6 160.7L229.6 161.5L230.7 162.2L231.8 162.9L232.9 163.7L233.9 164.4L235.0 165.2L236.1 165.9L237.1 166.6L238.2 167.4L239.3 168.1L240.3 168.9L241.4 169.6L242.5 170.3L243.6 171.1L244.6 171.8L245.7 172.6L246.8 173.3L247.8 174.0L248.9 174.8L250.0 175.5L251.0 176.3L252.1 177.0L253.2 177.7L254.2 178.5L255.3 179.2L256.4 180.0L257.5 180.7L258.5 181.4L259.6 182.2L260.7 182.9L261.7 183.7L262.8 184.4L263.9 185.1L264.9 185.9L266.0 186.6L267.1 187.4L268.2 188.1L269.2 188.8L270.3 189.6L271.4 190.3L272.4 191.1L273.5 191.8L274.6 192.5L275.6 193.3L276.7 194.0L277.8 194.8L278.8 195.5L279.9 196.3L281.0 197.0L282.1 197.7L283.1 198.5L284.2 199.2L285.3 200.0L286.3 200.7L287.4 201.4L288.5 202.2L289.5 202.9L290.6 203.7L291.7 204.4L292.8 205.1"/><path class="c" stroke="#b283f4" d="M78.8 70.8L79.9 71.1L81.0 71.3L82.1 71.6L83.1 71.9L84.2 72.2L85.3 72.6L86.3 73.0L87.4 73.4L88.5 73.8L89.5 74.3L90.6 74.8L91.7 75.3L92.8 75.8L93.8 76.4L94.9 77.0L96.0 77.6L97.0 78.3L98.1 79.0L99.2 79.7L100.2 80.4L101.3 81.1L102.4 81.9L103.4 82.6L104.5 83.4L105.6 84.2L106.7 85.0L107.7 85.8L108.8 86.6L109.9 87.5L110.9 88.3L112.0 89.1L113.1 90.0L114.1 90.8L115.2 91.6L116.3 92.5L117.4 93.3L118.4 94.1L119.5 95.0L120.6 95.8L121.6 96.6L122.7 97.4L123.8 98.2L124.8 99.1L125.9 99.9L127.0 100.7L128.0 101.5L129.1 102.3L130.2 103.1L131.3 103.8L132.3 104.6L133.4 105.4L134.5 106.2L135.5 107.0L136.6 107.8L137.7 108.5L138.7 109.3L139.8 110.1L140.9 110.8L142.0 111.6L143.0 112.4L144.1 113.1L145.2 113.9L146.2 114.6L147.3 115.4L148.4 116.2L149.4 116.9L150.5 117.7L151.6 118.4L152.6 119.2L153.7 119.9L154.8 120.7L155.9 121.4L156.9 122.2L158.0 122.9L159.1 123.7L160.1 124.4L161.2 125.2L162.3 125.9L163.3 126.7L164.4 127.4L165.5 128.2L166.5 128.9L167.6 129.7L168.7 130.4L169.8 131.1L170.8 131.9L171.9 132.6L173.0 133.4L174.0 134.1L175.1 134.9L176.2 135.6L177.2 136.3L178.3 137.1L179.4 137.8L180.5 138.6L181.5 139.3L182.6 140.1L183.7 140.8L184.7 141.5L185.8 142.3L186.9 143.0L187.9 143.8L189.0 144.5L190.1 145.3L191.1 146.0L192.2 146.7L193.3 147.5L194.4 148.2L195.4 149.0L196.5 149.7L197.6 150.5L198.6 151.2L199.7 151.9L200.8 152.7L201.8 153.4L202.9 154.2L204.0 154.9L205.1 155.6L206.1 156.4L207.2 157.1L208.3 157.9L209.3 158.6L210.4 159.3L211.5 160.1L212.5 160.8L213.6 161.6L214.7 162.3L215.7 163.1L216.8 163.8L217.9 164.5L219.0 165.3L220.0 166.0L221.1 166.8L222.2 167.5L223.2 168.2L224.3 169.0L225.4 169.7L226.4 170.5L227.5 171.2L228.6 171.9L229.6 172.7L230.7 173.4L231.8 174.2L232.9 174.9L233.9 175.7L235.0 176.4L236.1 177.1L237.1 177.9L238.2 178.6L239.3 179.4L240.3 180.1L241.4 180.8L242.5 181.6L243.6 182.3L244.6 183.1L245.7 183.8L246.8 184.5L247.8 185.3L248.9 186.0L250.0 186.8L251.0 187.5L252.1 188.2L253.2 189.0L254.2 189.7L255.3 190.5L256.4 191.2L257.5 192.0L258.5 192.7L259.6 193.4L260.7 194.2L261.7 194.9L262.8 195.7L263.9 196.4L264.9 197.1L266.0 197.9L267.1 198.6L268.2 199.4L269.2 200.1L270.3 200.8L271.4 201.6L272.4 202.3L273.5 203.1L274.6 203.8L275.6 204.5L276.7 205.3L277.8 206.0L278.8 206.8L279.9 207.5L281.0 208.2L282.1 209.0L283.1 209.7L284.2 210.5L285.3 211.2L286.3 212.0L287.4 212.7L288.5 213.4L289.5 214.2L290.6 214.9L291.7 215.7L292.8 216.4"/><path class="c" stroke="#bb981c" d="M78.8 72.3L79.9 72.7L81.0 73.0L82.1 73.4L83.1 73.9L84.2 74.3L85.3 74.8L86.3 75.3L87.4 75.8L88.5 76.4L89.5 76.9L90.6 77.5L91.7 78.2L92.8 78.8L93.8 79.5L94.9 80.2L96.0 80.9L97.0 81.6L98.1 82.4L99.2 83.2L100.2 83.9L101.3 84.7L102.4 85.5L103.4 86.3L104.5 87.1L105.6 88.0L106.7 88.8L107.7 89.6L108.8 90.4L109.9 91.2L110.9 92.1L112.0 92.9L113.1 93.7L114.1 94.5L115.2 95.4L116.3 96.2L117.4 97.0L118.4 97.8L119.5 98.6L120.6 99.4L121.6 100.2L122.7 101.0L123.8 101.8L124.8 102.6L125.9 103.4L127.0 104.2L128.0 104.9L129.1 105.7L130.2 106.5L131.3 107.3L132.3 108.1L133.4 108.8L134.5 109.6L135.5 110.4L136.6 111.1L137.7 111.9L138.7 112.7L139.8 113.4L140.9 114.2L142.0 114.9L143.0 115.7L144.1 116.4L145.2 117.2L146.2 118.0L147.3 118.7L148.4 119.5L149.4 120.2L150.5 121.0L151.6 121.7L152.6 122.5L153.7 123.2L154.8 124.0L155.9 124.7L156.9 125.5L158.0 126.2L159.1 127.0L160.1 127.7L161.2 128.5L162.3 129.2L163.3 129.9L164.4 130.7L165.5 131.4L166.5 132.2L167.6 132.9L168.7 133.7L169.8 134.4L170.8 135.2L171.9 135.9L173.0 136.6L174.0 137.4L175.1 138.1L176.2 138.9L177.2 139.6L178.3 140.4L179.4 141.1L180.5 141.8L181.5 142.6L182.6 143.3L183.7 144.1L184.7 144.8L185.8 145.6L186.9 146.3L187.9 147.0L189.0 147.8L190.1 148.5L191.1 149.3L192.2 150.0L193.3 150.7L194.4 151.5L195.4 152.2L196.5 153.0L197.6 153.7L198.6 154.5L199.7 155.2L200.8 155.9L201.8 156.7L202.9 157.4L204.0 158.2L205.1 158.9L206.1 159.6L207.2 160.4L208.3 161.1L209.3 161.9L210.4 162.6L211.5 163.3L212.5 164.1L213.6 164.8L214.7 165.6L215.7 166.3L216.8 167.1L217.9 167.8L219.0 168.5L220.0 169.3L221.1 170.0L222.2 170.8L223.2 171.5L224.3 172.2L225.4 173.0L226.4 173.7L227.5 174.5L228.6 175.2L229.6 175.9L230.7 176.7L231.8 177.4L232.9 178.2L233.9 178.9L235.0 179.7L236.1 180.4L237.1 181.1L238.2 181.9L239.3 182.6L240.3 183.4L241.4 184.1L242.5 184.8L243.6 185.6L244.6 186.3L245.7 187.1L246.8 187.8L247.8 188.5L248.9 189.3L250.0 190.0L251.0 190.8L252.1 191.5L253.2 192.2L254.2 193.0L255.3 193.7L256.4 194.5L257.5 195.2L258.5 196.0L259.6 196.7L260.7 197.4L261.7 198.2L262.8 198.9L263.9 199.7L264.9 200.4L266.0 201.1L267.1 201.9L268.2 202.6L269.2 203.4L270.3 204.1L271.4 204.8L272.4 205.6L273.5 206.3L274.6 207.1L275.6 207.8L276.7 208.5L277.8 209.3L278.8 210.0L279.9 210.8L281.0 211.5L282.1 212.2L283.1 213.0L284.2 213.7L285.3 214.5L286.3 215.2L287.4 216.0L288.5 216.7L289.5 217.4L290.6 218.2L291.7 218.9L292.8 219.7"/><path class="c" stroke="#cc76f4" d="M78.8 73.2L79.9 73.7L81.0 74.1L82.1 74.5L83.1 75.0L84.2 75.5L85.3 76.1L86.3 76.6L87.4 77.2L88.5 77.9L89.5 78.5L90.6 79.2L91.7 79.9L92.8 80.6L93.8 81.3L94.9 82.0L96.0 82.8L97.0 83.6L98.1 84.4L99.2 85.2L100.2 86.0L101.3 86.8L102.4 87.6L103.4 88.4L104.5 89.3L105.6 90.1L106.7 90.9L107.7 91.8L108.8 92.6L109.9 93.4L110.9 94.2L112.0 95.1L113.1 95.9L114.1 96.7L115.2 97.5L116.3 98.4L117.4 99.2L118.4 100.0L119.5 100.8L120.6 101.6L121.6 102.4L122.7 103.2L123.8 104.0L124.8 104.8L125.9 105.6L127.0 106.4L128.0 107.1L129.1 107.9L130.2 108.7L131.3 109.5L132.3 110.2L133.4 111.0L134.5 111.8L135.5 112.6L136.6 113.3L137.7 114.1L138.7 114.9L139.8 115.6L140.9 116.4L142.0 117.1L143.0 117.9L144.1 118.6L145.2 119.4L146.2 120.2L147.3 120.9L148.4 121.7L149.4 122.4L150.5 123.2L151.6 123.9L152.6 124.7L153.7 125.4L154.8 126.2L155.9 126.9L156.9 127.7L158.0 128.4L159.1 129.2L160.1 129.9L161.2 130.7L162.3 131.4L163.3 132.2L164.4 132.9L165.5 133.6L166.5 134.4L167.6 135.1L168.7 135.9L169.8 136.6L170.8 137.4L171.9 138.1L173.0 138.9L174.0 139.6L175.1 140.3L176.2 141.1L177.2 141.8L178.3 142.6L179.4 143.3L180.5 144.1L181.5 144.8L182.6 145.5L183.7 146.3L184.7 147.0L185.8 147.8L186.9 148.5L187.9 149.3L189.0 150.0L190.1 150.7L191.1 151.5L192.2 152.2L193.3 153.0L194.4 153.7L195.4 154.4L196.5 155.2L197.6 155.9L198.6 156.7L199.7 157.4L200.8 158.2L201.8 158.9L202.9 159.6L204.0 160.4L205.1 161.1L206.1 161.9L207.2 162.6L208.3 163.3L209.3 164.1L210.4 164.8L211.5 165.6L212.5 166.3L213.6 167.1L214.7 167.8L215.7 168.5L216.8 169.3L217.9 170.0L219.0 170.8L220.0 171.5L221.1 172.2L222.2 173.0L223.2 173.7L224.3 174.5L225.4 175.2L226.4 175.9L227.5 176.7L228.6 177.4L229.6 178.2L230.7 178.9L231.8 179.7L232.9 180.4L233.9 181.1L235.0 181.9L236.1 182.6L237.1 183.4L238.2 184.1L239.3 184.8L240.3 185.6L241.4 186.3L242.5 187.1L243.6 187.8L244.6 188.5L245.7 189.3L246.8 190.0L247.8 190.8L248.9 191.5L250.0 192.2L251.0 193.0L252.1 193.7L253.2 194.5L254.2 195.2L255.3 196.0L256.4 196.7L257.5 197.4L258.5 198.2L259.6 198.9L260.7 199.7L261.7 200.4L262.8 201.1L263.9 201.9L264.9 202.6L266.0 203.4L267.1 204.1L268.2 204.8L269.2 205.6L270.3 206.3L271.4 207.1L272.4 207.8L273.5 208.5L274.6 209.3L275.6 210.0L276.7 210.8L277.8 211.5L278.8 212.2L279.9 213.0L281.0 213.7L282.1 214.5L283.1 215.2L284.2 216.0L285.3 216.7L286.3 217.4L287.4 218.2L288.5 218.9L289.5 219.7L290.6 220.4L291.7 221.1"/><path class="c" stroke="#f55de4" d="M78.8 74.5L79.9 75.3L81.0 76.2L82.1 77.0L83.1 77.8L84.2 78.7L85.3 79.5L86.3 80.3L87.4 81.1L88.5 81.9L89.5 82.7L90.6 83.5L91.7 84.3L92.8 85.1L93.8 85.8L94.9 86.6L96.0 87.4L97.0 88.2L98.1 88.9L99.2 89.7L100.2 90.5L101.3 91.2L102.4 92.0L103.4 92.8L104.5 93.5L105.6 94.3L106.7 95.0L107.7 95.8L108.8 96.5L109.9 97.3L110.9 98.0L112.0 98.8L113.1 99.5L114.1 100.3L115.2 101.0L116.3 101.8L117.4 102.5L118.4 103.3L119.5 104.0L120.6 104.8L121.6 105.5L122.7 106.3L123.8 107.0L124.8 107.7L125.9 108.5L127.0 109.2L128.0 110.0L129.1 110.7L130.2 111.5L131.3 112.2L132.3 113.0L133.4 113.7L134.5 114.4L135.5 115.2L136.6 115.9L137.7 116.7L138.7 117.4L139.8 118.2L140.9 118.9L142.0 119.6L143.0 120.4L144.1 121.1L145.2 121.9L146.2 122.6L147.3 123.3L148.4 124.1L149.4 124.8L150.5 125.6L151.6 126.3L152.6 127.0L153.7 127.8L154.8 128.5L155.9 129.3L156.9 130.0L158.0 130.8L159.1 131.5L160.1 132.2L161.2 133.0L162.3 133.7L163.3 134.5L164.4 135.2L165.5 135.9L166.5 136.7L167.6 137.4L168.7 138.2L169.8 138.9L170.8 139.6L171.9 140.4L173.0 141.1L174.0 141.9L175.1 142.6L176.2 143.4L177.2 144.1L178.3 144.8L179.4 145.6L180.5 146.3L181.5 147.1L182.6 147.8L183.7 148.5L184.7 149.3L185.8 150.0L186.9 150.8L187.9 151.5L189.0 152.2L190.1 153.0L191.1 153.7L192.2 154.5L193.3 155.2L194.4 155.9L195.4 156.7L196.5 157.4L197.6 158.2L198.6 158.9L199.7 159.7L200.8 160.4L201.8 161.1L202.9 161.9L204.0 162.6L205.1 163.4L206.1 164.1L207.2 164.8L208.3 165.6L209.3 166.3L210.4 167.1L211.5 167.8L212.5 168.5L213.6 169.3L214.7 170.0L215.7 170.8L216.8 171.5L217.9 172.2L219.0 173.0L220.0 173.7L221.1 174.5L222.2 175.2L223.2 175.9L224.3 176.7L225.4 177.4L226.4 178.2L227.5 178.9L228.6 179.7L229.6 180.4L230.7 181.1L231.8 181.9L232.9 182.6L233.9 183.4L235.0 184.1L236.1 184.8L237.1 185.6L238.2 186.3L239.3 187.1L240.3 187.8L241.4 188.5L242.5 189.3L243.6 190.0L244.6 190.8L245.7 191.5L246.8 192.2L247.8 193.0L248.9 193.7L250.0 194.5L251.0 195.2L252.1 196.0L253.2 196.7L254.2 197.4L255.3 198.2L256.4 198.9L257.5 199.7L258.5 200.4L259.6 201.1L260.7 201.9L261.7 202.6L262.8 203.4L263.9 204.1L264.9 204.8L266.0 205.6L267.1 206.3L268.2 207.1L269.2 207.8L270.3 208.5L271.4 209.3L272.4 210.0L273.5 210.8L274.6 211.5L275.6 212.2L276.7 213.0L277.8 213.7L278.8 214.5L279.9 215.2L281.0 216.0L282.1 216.7L283.1 217.4L284.2 218.2L285.3 218.9L286.3 219.7L287.4 220.4L288.5 221.1"/><path class="c" stroke="#1eada4" d="M78.8 75.4L79.9 76.3L81.0 77.2L82.1 78.1L83.1 79.0L84.2 79.9L85.3 80.8L86.3 81.7L87.4 82.5L88.5 83.4L89.5 84.2L90.6 85.1L91.7 85.9L92.8 86.7L93.8 87.5L94.9 88.3L96.0 89.1L97.0 89.9L98.1 90.7L99.2 91.5L100.2 92.3L101.3 93.1L102.4 93.9L103.4 94.6L104.5 95.4L105.6 96.2L106.7 96.9L107.7 97.7L108.8 98.5L109.9 99.2L110.9 100.0L112.0 100.8L113.1 101.5L114.1 102.3L115.2 103.0L116.3 103.8L117.4 104.5L118.4 105.3L119.5 106.0L120.6 106.8L121.6 107.5L122.7 108.3L123.8 109.0L124.8 109.8L125.9 110.5L127.0 111.3L128.0 112.0L129.1 112.8L130.2 113.5L131.3 114.3L132.3 115.0L133.4 115.8L134.5 116.5L135.5 117.2L136.6 118.0L137.7 118.7L138.7 119.5L139.8 120.2L140.9 121.0L142.0 121.7L143.0 122.4L144.1 123.2L145.2 123.9L146.2 124.7L147.3 125.4L148.4 126.2L149.4 126.9L150.5 127.6L151.6 128.4L152.6 129.1L153.7 129.9L154.8 130.6L155.9 131.3L156.9 132.1L158.0 132.8L159.1 133.6L160.1 134.3L161.2 135.1L162.3 135.8L163.3 136.5L164.4 137.3L165.5 138.0L166.5 138.8L167.6 139.5L168.7 140.2L169.8 141.0L170.8 141.7L171.9 142.5L173.0 143.2L174.0 143.9L175.1 144.7L176.2 145.4L177.2 146.2L178.3 146.9L179.4 147.6L180.5 148.4L181.5 149.1L182.6 149.9L183.7 150.6L184.7 151.4L185.8 152.1L186.9 152.8L187.9 153.6L189.0 154.3L190.1 155.1L191.1 155.8L192.2 156.5L193.3 157.3L194.4 158.0L195.4 158.8L196.5 159.5L197.6 160.2L198.6 161.0L199.7 161.7L200.8 162.5L201.8 163.2L202.9 163.9L204.0 164.7L205.1 165.4L206.1 166.2L207.2 166.9L208.3 167.7L209.3 168.4L210.4 169.1L211.5 169.9L212.5 170.6L213.6 171.4L214.7 172.1L215.7 172.8L216.8 173.6L217.9 174.3L219.0 175.1L220.0 175.8L221.1 176.5L222.2 177.3L223.2 178.0L224.3 178.8L225.4 179.5L226.4 180.2L227.5 181.0L228.6 181.7L229.6 182.5L230.7 183.2L231.8 183.9L232.9 184.7L233.9 185.4L235.0 186.2L236.1 186.9L237.1 187.7L238.2 188.4L239.3 189.1L240.3 189.9L241.4 190.6L242.5 191.4L243.6 192.1L244.6 192.8L245.7 193.6L246.8 194.3L247.8 195.1L248.9 195.8L250.0 196.5L251.0 197.3L252.1 198.0L253.2 198.8L254.2 199.5L255.3 200.2L256.4 201.0L257.5 201.7L258.5 202.5L259.6 203.2L260.7 204.0L261.7 204.7L262.8 205.4L263.9 206.2L264.9 206.9L266.0 207.7L267.1 208.4L268.2 209.1L269.2 209.9L270.3 210.6L271.4 211.4L272.4 212.1L273.5 212.8L274.6 213.6L275.6 214.3L276.7 215.1L277.8 215.8L278.8 216.5L279.9 217.3L281.0 218.0L282.1 218.8L283.1 219.5L284.2 220.3L285.3 221.0"/><path class="c" stroke="#958df4" d="M78.8 76.9L79.9 77.9L81.0 78.9L82.1 79.9L83.1 80.8L84.2 81.8L85.3 82.7L86.3 83.6L87.4 84.5L88.5 85.4L89.5 86.3L90.6 87.2L91.7 88.1L92.8 88.9L93.8 89.8L94.9 90.6L96.0 91.4L97.0 92.3L98.1 93.1L99.2 93.9L100.2 94.7L101.3 95.5L102.4 96.3L103.4 97.1L104.5 97.9L105.6 98.7L106.7 99.5L107.7 100.2L108.8 101.0L109.9 101.8L110.9 102.6L112.0 103.3L113.1 104.1L114.1 104.9L115.2 105.6L116.3 106.4L117.4 107.1L118.4 107.9L119.5 108.6L120.6 109.4L121.6 110.2L122.7 110.9L123.8 111.7L124.8 112.4L125.9 113.2L127.0 113.9L128.0 114.7L129.1 115.4L130.2 116.2L131.3 116.9L132.3 117.7L133.4 118.4L134.5 119.1L135.5 119.9L136.6 120.6L137.7 121.4L138.7 122.1L139.8 122.9L140.9 123.6L142.0 124.4L143.0 125.1L144.1 125.8L145.2 126.6L146.2 127.3L147.3 128.1L148.4 128.8L149.4 129.6L150.5 130.3L151.6 131.0L152.6 131.8L153.7 132.5L154.8 133.3L155.9 134.0L156.9 134.7L158.0 135.5L159.1 136.2L160.1 137.0L161.2 137.7L162.3 138.5L163.3 139.2L164.4 139.9L165.5 140.7L166.5 141.4L167.6 142.2L168.7 142.9L169.8 143.6L170.8 144.4L171.9 145.1L173.0 145.9L174.0 146.6L175.1 147.4L176.2 148.1L177.2 148.8L178.3 149.6L179.4 150.3L180.5 151.1L181.5 151.8L182.6 152.5L183.7 153.3L184.7 154.0L185.8 154.8L186.9 155.5L187.9 156.2L189.0 157.0L190.1 157.7L191.1 158.5L192.2 159.2L193.3 159.9L194.4 160.7L195.4 161.4L196.5 162.2L197.6 162.9L198.6 163.7L199.7 164.4L200.8 165.1L201.8 165.9L202.9 166.6L204.0 167.4L205.1 168.1L206.1 168.8L207.2 169.6L208.3 170.3L209.3 171.1L210.4 171.8L211.5 172.5L212.5 173.3L213.6 174.0L214.7 174.8L215.7 175.5L216.8 176.2L217.9 177.0L219.0 177.7L220.0 178.5L221.1 179.2L222.2 179.9L223.2 180.7L224.3 181.4L225.4 182.2L226.4 182.9L227.5 183.7L228.6 184.4L229.6 185.1L230.7 185.9L231.8 186.6L232.9 187.4L233.9 188.1L235.0 188.8L236.1 189.6L237.1 190.3L238.2 191.1L239.3 191.8L240.3 192.5L241.4 193.3L242.5 194.0L243.6 194.8L244.6 195.5L245.7 196.2L246.8 197.0L247.8 197.7L248.9 198.5L250.0 199.2L251.0 200.0L252.1 200.7L253.2 201.4L254.2 202.2L255.3 202.9L256.4 203.7L257.5 204.4L258.5 205.1L259.6 205.9L260.7 206.6L261.7 207.4L262.8 208.1L263.9 208.8L264.9 209.6L266.0 210.3L267.1 211.1L268.2 211.8L269.2 212.5L270.3 213.3L271.4 214.0L272.4 214.8L273.5 215.5L274.6 216.3L275.6 217.0L276.7 217.7L277.8 218.5L278.8 219.2L279.9 220.0L281.0 220.7"/><path class="c" stroke="#20a3ec" d="M78.8 78.4L79.9 79.4L81.0 80.4L82.1 81.4L83.1 82.3L84.2 83.3L85.3 84.2L86.3 85.1L87.4 86.0L88.5 86.9L89.5 87.8L90.6 88.6L91.7 89.5L92.8 90.3L93.8 91.2L94.9 92.0L96.0 92.8L97.0 93.7L98.1 94.5L99.2 95.3L100.2 96.1L101.3 96.9L102.4 97.7L103.4 98.5L104.5 99.3L105.6 100.0L106.7 100.8L107.7 101.6L108.8 102.4L109.9 103.1L110.9 103.9L112.0 104.7L113.1 105.4L114.1 106.2L115.2 107.0L116.3 107.7L117.4 108.5L118.4 109.2L119.5 110.0L120.6 110.7L121.6 111.5L122.7 112.3L123.8 113.0L124.8 113.8L125.9 114.5L127.0 115.3L128.0 116.0L129.1 116.8L130.2 117.5L131.3 118.2L132.3 119.0L133.4 119.7L134.5 120.5L135.5 121.2L136.6 122.0L137.7 122.7L138.7 123.5L139.8 124.2L140.9 124.9L142.0 125.7L143.0 126.4L144.1 127.2L145.2 127.9L146.2 128.7L147.3 129.4L148.4 130.1L149.4 130.9L150.5 131.6L151.6 132.4L152.6 133.1L153.7 133.9L154.8 134.6L155.9 135.3L156.9 136.1L158.0 136.8L159.1 137.6L160.1 138.3L161.2 139.0L162.3 139.8L163.3 140.5L164.4 141.3L165.5 142.0L166.5 142.8L167.6 143.5L168.7 144.2L169.8 145.0L170.8 145.7L171.9 146.5L173.0 147.2L174.0 147.9L175.1 148.7L176.2 149.4L177.2 150.2L178.3 150.9L179.4 151.6L180.5 152.4L181.5 153.1L182.6 153.9L183.7 154.6L184.7 155.4L185.8 156.1L186.9 156.8L187.9 157.6L189.0 158.3L190.1 159.1L191.1 159.8L192.2 160.5L193.3 161.3L194.4 162.0L195.4 162.8L196.5 163.5L197.6 164.2L198.6 165.0L199.7 165.7L200.8 166.5L201.8 167.2L202.9 167.9L204.0 168.7L205.1 169.4L206.1 170.2L207.2 170.9L208.3 171.7L209.3 172.4L210.4 173.1L211.5 173.9L212.5 174.6L213.6 175.4L214.7 176.1L215.7 176.8L216.8 177.6L217.9 178.3L219.0 179.1L220.0 179.8L221.1 180.5L222.2 181.3L223.2 182.0L224.3 182.8L225.4 183.5L226.4 184.2L227.5 185.0L228.6 185.7L229.6 186.5L230.7 187.2L231.8 188.0L232.9 188.7L233.9 189.4L235.0 190.2L236.1 190.9L237.1 191.7L238.2 192.4L239.3 193.1L240.3 193.9L241.4 194.6L242.5 195.4L243.6 196.1L244.6 196.8L245.7 197.6L246.8 198.3L247.8 199.1L248.9 199.8L250.0 200.5L251.0 201.3L252.1 202.0L253.2 202.8L254.2 203.5L255.3 204.2L256.4 205.0L257.5 205.7L258.5 206.5L259.6 207.2L260.7 208.0L261.7 208.7L262.8 209.4L263.9 210.2L264.9 210.9L266.0 211.7L267.1 212.4L268.2 213.1L269.2 213.9L270.3 214.6L271.4 215.4L272.4 216.1L273.5 216.8L274.6 217.6L275.6 218.3L276.7 219.1L277.8 219.8L278.8 220.5L279.9 221.3"/><path class="c" stroke="#f37a1c" d="M78.8 81.5L79.9 82.4L81.0 83.2L82.1 84.1L83.1 84.9L84.2 85.8L85.3 86.6L86.3 87.4L87.4 88.2L88.5 89.0L89.5 89.8L90.6 90.6L91.7 91.4L92.8 92.2L93.8 93.0L94.9 93.8L96.0 94.6L97.0 95.4L98.1 96.1L99.2 96.9L100.2 97.7L101.3 98.4L102.4 99.2L103.4 100.0L104.5 100.7L105.6 101.5L106.7 102.3L107.7 103.0L108.8 103.8L109.9 104.5L110.9 105.3L112.0 106.0L113.1 106.8L114.1 107.5L115.2 108.3L116.3 109.0L117.4 109.8L118.4 110.5L119.5 111.3L120.6 112.0L121.6 112.8L122.7 113.5L123.8 114.3L124.8 115.0L125.9 115.7L127.0 116.5L128.0 117.2L129.1 118.0L130.2 118.7L131.3 119.5L132.3 120.2L133.4 121.0L134.5 121.7L135.5 122.4L136.6 123.2L137.7 123.9L138.7 124.7L139.8 125.4L140.9 126.2L142.0 126.9L143.0 127.6L144.1 128.4L145.2 129.1L146.2 129.9L147.3 130.6L148.4 131.3L149.4 132.1L150.5 132.8L151.6 133.6L152.6 134.3L153.7 135.0L154.8 135.8L155.9 136.5L156.9 137.3L158.0 138.0L159.1 138.8L160.1 139.5L161.2 140.2L162.3 141.0L163.3 141.7L164.4 142.5L165.5 143.2L166.5 143.9L167.6 144.7L168.7 145.4L169.8 146.2L170.8 146.9L171.9 147.6L173.0 148.4L174.0 149.1L175.1 149.9L176.2 150.6L177.2 151.4L178.3 152.1L179.4 152.8L180.5 153.6L181.5 154.3L182.6 155.1L183.7 155.8L184.7 156.5L185.8 157.3L186.9 158.0L187.9 158.8L189.0 159.5L190.1 160.2L191.1 161.0L192.2 161.7L193.3 162.5L194.4 163.2L195.4 163.9L196.5 164.7L197.6 165.4L198.6 166.2L199.7 166.9L200.8 167.7L201.8 168.4L202.9 169.1L204.0 169.9L205.1 170.6L206.1 171.4L207.2 172.1L208.3 172.8L209.3 173.6L210.4 174.3L211.5 175.1L212.5 175.8L213.6 176.5L214.7 177.3L215.7 178.0L216.8 178.8L217.9 179.5L219.0 180.2L220.0 181.0L221.1 181.7L222.2 182.5L223.2 183.2L224.3 183.9L225.4 184.7L226.4 185.4L227.5 186.2L228.6 186.9L229.6 187.7L230.7 188.4L231.8 189.1L232.9 189.9L233.9 190.6L235.0 191.4L236.1 192.1L237.1 192.8L238.2 193.6L239.3 194.3L240.3 195.1L241.4 195.8L242.5 196.5L243.6 197.3L244.6 198.0L245.7 198.8L246.8 199.5L247.8 200.2L248.9 201.0L250.0 201.7L251.0 202.5L252.1 203.2L253.2 204.0L254.2 204.7L255.3 205.4L256.4 206.2L257.5 206.9L258.5 207.7L259.6 208.4L260.7 209.1L261.7 209.9L262.8 210.6L263.9 211.4L264.9 212.1L266.0 212.8L267.1 213.6L268.2 214.3L269.2 215.1L270.3 215.8L271.4 216.5L272.4 217.3L273.5 218.0L274.6 218.8L275.6 219.5L276.7 220.3L277.8 221.0"/><path class="c" stroke="#f77465" d="M78.8 79.2L79.9 80.3L81.0 81.4L82.1 82.4L83.1 83.4L84.2 84.4L85.3 85.4L86.3 86.4L87.4 87.4L88.5 88.3L89.5 89.2L90.6 90.2L91.7 91.1L92.8 92.0L93.8 92.8L94.9 93.7L96.0 94.6L97.0 95.4L98.1 96.3L99.2 97.1L100.2 98.0L101.3 98.8L102.4 99.6L103.4 100.4L104.5 101.2L105.6 102.0L106.7 102.8L107.7 103.6L108.8 104.4L109.9 105.2L110.9 106.0L112.0 106.8L113.1 107.5L114.1 108.3L115.2 109.1L116.3 109.8L117.4 110.6L118.4 111.4L119.5 112.1L120.6 112.9L121.6 113.7L122.7 114.4L123.8 115.2L124.8 115.9L125.9 116.7L127.0 117.4L128.0 118.2L129.1 118.9L130.2 119.7L131.3 120.4L132.3 121.2L133.4 121.9L134.5 122.7L135.5 123.4L136.6 124.2L137.7 124.9L138.7 125.7L139.8 126.4L140.9 127.2L142.0 127.9L143.0 128.6L144.1 129.4L145.2 130.1L146.2 130.9L147.3 131.6L148.4 132.4L149.4 133.1L150.5 133.8L151.6 134.6L152.6 135.3L153.7 136.1L154.8 136.8L155.9 137.6L156.9 138.3L158.0 139.0L159.1 139.8L160.1 140.5L161.2 141.3L162.3 142.0L163.3 142.8L164.4 143.5L165.5 144.2L166.5 145.0L167.6 145.7L168.7 146.5L169.8 147.2L170.8 147.9L171.9 148.7L173.0 149.4L174.0 150.2L175.1 150.9L176.2 151.6L177.2 152.4L178.3 153.1L179.4 153.9L180.5 154.6L181.5 155.4L182.6 156.1L183.7 156.8L184.7 157.6L185.8 158.3L186.9 159.1L187.9 159.8L189.0 160.5L190.1 161.3L191.1 162.0L192.2 162.8L193.3 163.5L194.4 164.2L195.4 165.0L196.5 165.7L197.6 166.5L198.6 167.2L199.7 167.9L200.8 168.7L201.8 169.4L202.9 170.2L204.0 170.9L205.1 171.7L206.1 172.4L207.2 173.1L208.3 173.9L209.3 174.6L210.4 175.4L211.5 176.1L212.5 176.8L213.6 177.6L214.7 178.3L215.7 179.1L216.8 179.8L217.9 180.5L219.0 181.3L220.0 182.0L221.1 182.8L222.2 183.5L223.2 184.2L224.3 185.0L225.4 185.7L226.4 186.5L227.5 187.2L228.6 188.0L229.6 188.7L230.7 189.4L231.8 190.2L232.9 190.9L233.9 191.7L235.0 192.4L236.1 193.1L237.1 193.9L238.2 194.6L239.3 195.4L240.3 196.1L241.4 196.8L242.5 197.6L243.6 198.3L244.6 199.1L245.7 199.8L246.8 200.5L247.8 201.3L248.9 202.0L250.0 202.8L251.0 203.5L252.1 204.2L253.2 205.0L254.2 205.7L255.3 206.5L256.4 207.2L257.5 208.0L258.5 208.7L259.6 209.4L260.7 210.2L261.7 210.9L262.8 211.7L263.9 212.4L264.9 213.1L266.0 213.9L267.1 214.6L268.2 215.4L269.2 216.1L270.3 216.8L271.4 217.6L272.4 218.3L273.5 219.1L274.6 219.8L275.6 220.5L276.7 221.3"/><path class="c" stroke="#6b9bf4" d="M78.8 74.5L79.9 75.8L81.0 77.1L82.1 78.4L83.1 79.7L84.2 81.0L85.3 82.2L86.3 83.4L87.4 84.6L88.5 85.8L89.5 86.9L90.6 88.0L91.7 89.1L92.8 90.2L93.8 91.3L94.9 92.3L96.0 93.3L97.0 94.4L98.1 95.3L99.2 96.3L100.2 97.3L101.3 98.2L102.4 99.2L103.4 100.1L104.5 101.0L105.6 101.9L106.7 102.8L107.7 103.6L108.8 104.5L109.9 105.4L110.9 106.2L112.0 107.0L113.1 107.9L114.1 108.7L115.2 109.5L116.3 110.3L117.4 111.1L118.4 111.9L119.5 112.7L120.6 113.5L121.6 114.3L122.7 115.1L123.8 115.9L124.8 116.7L125.9 117.5L127.0 118.2L128.0 119.0L129.1 119.8L130.2 120.5L131.3 121.3L132.3 122.1L133.4 122.8L134.5 123.6L135.5 124.3L136.6 125.1L137.7 125.9L138.7 126.6L139.8 127.4L140.9 128.1L142.0 128.9L143.0 129.6L144.1 130.4L145.2 131.1L146.2 131.9L147.3 132.6L148.4 133.4L149.4 134.1L150.5 134.8L151.6 135.6L152.6 136.3L153.7 137.1L154.8 137.8L155.9 138.6L156.9 139.3L158.0 140.1L159.1 140.8L160.1 141.5L161.2 142.3L162.3 143.0L163.3 143.8L164.4 144.5L165.5 145.3L166.5 146.0L167.6 146.7L168.7 147.5L169.8 148.2L170.8 149.0L171.9 149.7L173.0 150.5L174.0 151.2L175.1 151.9L176.2 152.7L177.2 153.4L178.3 154.2L179.4 154.9L180.5 155.6L181.5 156.4L182.6 157.1L183.7 157.9L184.7 158.6L185.8 159.4L186.9 160.1L187.9 160.8L189.0 161.6L190.1 162.3L191.1 163.1L192.2 163.8L193.3 164.5L194.4 165.3L195.4 166.0L196.5 166.8L197.6 167.5L198.6 168.2L199.7 169.0L200.8 169.7L201.8 170.5L202.9 171.2L204.0 171.9L205.1 172.7L206.1 173.4L207.2 174.2L208.3 174.9L209.3 175.7L210.4 176.4L211.5 177.1L212.5 177.9L213.6 178.6L214.7 179.4L215.7 180.1L216.8 180.8L217.9 181.6L219.0 182.3L220.0 183.1L221.1 183.8L222.2 184.5L223.2 185.3L224.3 186.0L225.4 186.8L226.4 187.5L227.5 188.2L228.6 189.0L229.6 189.7L230.7 190.5L231.8 191.2L232.9 192.0L233.9 192.7L235.0 193.4L236.1 194.2L237.1 194.9L238.2 195.7L239.3 196.4L240.3 197.1L241.4 197.9L242.5 198.6L243.6 199.4L244.6 200.1L245.7 200.8L246.8 201.6L247.8 202.3L248.9 203.1L250.0 203.8L251.0 204.5L252.1 205.3L253.2 206.0L254.2 206.8L255.3 207.5L256.4 208.2L257.5 209.0L258.5 209.7L259.6 210.5L260.7 211.2L261.7 212.0L262.8 212.7L263.9 213.4L264.9 214.2L266.0 214.9L267.1 215.7L268.2 216.4L269.2 217.1L270.3 217.9L271.4 218.6L272.4 219.4L273.5 220.1L274.6 220.8"/><path class="c" stroke="#f76e89" d="M78.8 80.0L79.9 81.1L81.0 82.2L82.1 83.2L83.1 84.3L84.2 85.3L85.3 86.3L86.3 87.3L87.4 88.3L88.5 89.2L89.5 90.2L90.6 91.1L91.7 92.0L92.8 93.0L93.8 93.9L94.9 94.7L96.0 95.6L97.0 96.5L98.1 97.3L99.2 98.2L100.2 99.0L101.3 99.9L102.4 100.7L103.4 101.5L104.5 102.3L105.6 103.1L106.7 103.9L107.7 104.7L108.8 105.5L109.9 106.3L110.9 107.1L112.0 107.9L113.1 108.7L114.1 109.4L115.2 110.2L116.3 111.0L117.4 111.8L118.4 112.5L119.5 113.3L120.6 114.1L121.6 114.8L122.7 115.6L123.8 116.3L124.8 117.1L125.9 117.8L127.0 118.6L128.0 119.4L129.1 120.1L130.2 120.9L131.3 121.6L132.3 122.4L133.4 123.1L134.5 123.9L135.5 124.6L136.6 125.4L137.7 126.1L138.7 126.8L139.8 127.6L140.9 128.3L142.0 129.1L143.0 129.8L144.1 130.6L145.2 131.3L146.2 132.1L147.3 132.8L148.4 133.5L149.4 134.3L150.5 135.0L151.6 135.8L152.6 136.5L153.7 137.3L154.8 138.0L155.9 138.7L156.9 139.5L158.0 140.2L159.1 141.0L160.1 141.7L161.2 142.5L162.3 143.2L163.3 143.9L164.4 144.7L165.5 145.4L166.5 146.2L167.6 146.9L168.7 147.6L169.8 148.4L170.8 149.1L171.9 149.9L173.0 150.6L174.0 151.3L175.1 152.1L176.2 152.8L177.2 153.6L178.3 154.3L179.4 155.1L180.5 155.8L181.5 156.5L182.6 157.3L183.7 158.0L184.7 158.8L185.8 159.5L186.9 160.2L187.9 161.0L189.0 161.7L190.1 162.5L191.1 163.2L192.2 163.9L193.3 164.7L194.4 165.4L195.4 166.2L196.5 166.9L197.6 167.7L198.6 168.4L199.7 169.1L200.8 169.9L201.8 170.6L202.9 171.4L204.0 172.1L205.1 172.8L206.1 173.6L207.2 174.3L208.3 175.1L209.3 175.8L210.4 176.5L211.5 177.3L212.5 178.0L213.6 178.8L214.7 179.5L215.7 180.2L216.8 181.0L217.9 181.7L219.0 182.5L220.0 183.2L221.1 183.9L222.2 184.7L223.2 185.4L224.3 186.2L225.4 186.9L226.4 187.7L227.5 188.4L228.6 189.1L229.6 189.9L230.7 190.6L231.8 191.4L232.9 192.1L233.9 192.8L235.0 193.6L236.1 194.3L237.1 195.1L238.2 195.8L239.3 196.5L240.3 197.3L241.4 198.0L242.5 198.8L243.6 199.5L244.6 200.2L245.7 201.0L246.8 201.7L247.8 202.5L248.9 203.2L250.0 204.0L251.0 204.7L252.1 205.4L253.2 206.2L254.2 206.9L255.3 207.7L256.4 208.4L257.5 209.1L258.5 209.9L259.6 210.6L260.7 211.4L261.7 212.1L262.8 212.8L263.9 213.6L264.9 214.3L266.0 215.1L267.1 215.8L268.2 216.5L269.2 217.3L270.3 218.0L271.4 218.8L272.4 219.5L273.5 220.3L274.6 221.0"/><path class="c" stroke="#1eacae" d="M78.8 86.1L79.9 86.9L81.0 87.7L82.1 88.5L83.1 89.4L84.2 90.2L85.3 91.0L86.3 91.7L87.4 92.5L88.5 93.3L89.5 94.1L90.6 94.9L91.7 95.7L92.8 96.4L93.8 97.2L94.9 98.0L96.0 98.7L97.0 99.5L98.1 100.3L99.2 101.0L100.2 101.8L101.3 102.6L102.4 103.3L103.4 104.1L104.5 104.8L105.6 105.6L106.7 106.3L107.7 107.1L108.8 107.8L109.9 108.6L110.9 109.3L112.0 110.1L113.1 110.8L114.1 111.6L115.2 112.3L116.3 113.1L117.4 113.8L118.4 114.6L119.5 115.3L120.6 116.0L121.6 116.8L122.7 117.5L123.8 118.3L124.8 119.0L125.9 119.8L127.0 120.5L128.0 121.3L129.1 122.0L130.2 122.7L131.3 123.5L132.3 124.2L133.4 125.0L134.5 125.7L135.5 126.4L136.6 127.2L137.7 127.9L138.7 128.7L139.8 129.4L140.9 130.2L142.0 130.9L143.0 131.6L144.1 132.4L145.2 133.1L146.2 133.9L147.3 134.6L148.4 135.3L149.4 136.1L150.5 136.8L151.6 137.6L152.6 138.3L153.7 139.1L154.8 139.8L155.9 140.5L156.9 141.3L158.0 142.0L159.1 142.8L160.1 143.5L161.2 144.2L162.3 145.0L163.3 145.7L164.4 146.5L165.5 147.2L166.5 147.9L167.6 148.7L168.7 149.4L169.8 150.2L170.8 150.9L171.9 151.6L173.0 152.4L174.0 153.1L175.1 153.9L176.2 154.6L177.2 155.4L178.3 156.1L179.4 156.8L180.5 157.6L181.5 158.3L182.6 159.1L183.7 159.8L184.7 160.5L185.8 161.3L186.9 162.0L187.9 162.8L189.0 163.5L190.1 164.2L191.1 165.0L192.2 165.7L193.3 166.5L194.4 167.2L195.4 167.9L196.5 168.7L197.6 169.4L198.6 170.2L199.7 170.9L200.8 171.7L201.8 172.4L202.9 173.1L204.0 173.9L205.1 174.6L206.1 175.4L207.2 176.1L208.3 176.8L209.3 177.6L210.4 178.3L211.5 179.1L212.5 179.8L213.6 180.5L214.7 181.3L215.7 182.0L216.8 182.8L217.9 183.5L219.0 184.2L220.0 185.0L221.1 185.7L222.2 186.5L223.2 187.2L224.3 188.0L225.4 188.7L226.4 189.4L227.5 190.2L228.6 190.9L229.6 191.7L230.7 192.4L231.8 193.1L232.9 193.9L233.9 194.6L235.0 195.4L236.1 196.1L237.1 196.8L238.2 197.6L239.3 198.3L240.3 199.1L241.4 199.8L242.5 200.5L243.6 201.3L244.6 202.0L245.7 202.8L246.8 203.5L247.8 204.2L248.9 205.0L250.0 205.7L251.0 206.5L252.1 207.2L253.2 208.0L254.2 208.7L255.3 209.4L256.4 210.2L257.5 210.9L258.5 211.7L259.6 212.4L260.7 213.1L261.7 213.9L262.8 214.6L263.9 215.4L264.9 216.1L266.0 216.8L267.1 217.6L268.2 218.3L269.2 219.1L270.3 219.8L271.4 220.5L272.4 221.3"/><path class="c" stroke="#6b9bf4" d="M78.8 89.1L79.9 89.9L81.0 90.7L82.1 91.5L83.1 92.2L84.2 93.0L85.3 93.8L86.3 94.5L87.4 95.3L88.5 96.0L89.5 96.8L90.6 97.6L91.7 98.3L92.8 99.1L93.8 99.8L94.9 100.6L96.0 101.3L97.0 102.1L98.1 102.8L99.2 103.5L100.2 104.3L101.3 105.0L102.4 105.8L103.4 106.5L104.5 107.2L105.6 108.0L106.7 108.7L107.7 109.5L108.8 110.2L109.9 110.9L110.9 111.7L112.0 112.4L113.1 113.1L114.1 113.9L115.2 114.6L116.3 115.3L117.4 116.1L118.4 116.8L119.5 117.6L120.6 118.3L121.6 119.0L122.7 119.8L123.8 120.5L124.8 121.2L125.9 122.0L127.0 122.7L128.0 123.4L129.1 124.2L130.2 124.9L131.3 125.7L132.3 126.4L133.4 127.1L134.5 127.9L135.5 128.6L136.6 129.3L137.7 130.1L138.7 130.8L139.8 131.6L140.9 132.3L142.0 133.0L143.0 133.8L144.1 134.5L145.2 135.2L146.2 136.0L147.3 136.7L148.4 137.5L149.4 138.2L150.5 138.9L151.6 139.7L152.6 140.4L153.7 141.2L154.8 141.9L155.9 142.6L156.9 143.4L158.0 144.1L159.1 144.9L160.1 145.6L161.2 146.3L162.3 147.1L163.3 147.8L164.4 148.6L165.5 149.3L166.5 150.0L167.6 150.8L168.7 151.5L169.8 152.3L170.8 153.0L171.9 153.7L173.0 154.5L174.0 155.2L175.1 156.0L176.2 156.7L177.2 157.4L178.3 158.2L179.4 158.9L180.5 159.7L181.5 160.4L182.6 161.1L183.7 161.9L184.7 162.6L185.8 163.4L186.9 164.1L187.9 164.8L189.0 165.6L190.1 166.3L191.1 167.1L192.2 167.8L193.3 168.5L194.4 169.3L195.4 170.0L196.5 170.8L197.6 171.5L198.6 172.2L199.7 173.0L200.8 173.7L201.8 174.5L202.9 175.2L204.0 176.0L205.1 176.7L206.1 177.4L207.2 178.2L208.3 178.9L209.3 179.7L210.4 180.4L211.5 181.1L212.5 181.9L213.6 182.6L214.7 183.4L215.7 184.1L216.8 184.8L217.9 185.6L219.0 186.3L220.0 187.1L221.1 187.8L222.2 188.5L223.2 189.3L224.3 190.0L225.4 190.8L226.4 191.5L227.5 192.2L228.6 193.0L229.6 193.7L230.7 194.5L231.8 195.2L232.9 196.0L233.9 196.7L235.0 197.4L236.1 198.2L237.1 198.9L238.2 199.7L239.3 200.4L240.3 201.1L241.4 201.9L242.5 202.6L243.6 203.4L244.6 204.1L245.7 204.8L246.8 205.6L247.8 206.3L248.9 207.1L250.0 207.8L251.0 208.5L252.1 209.3L253.2 210.0L254.2 210.8L255.3 211.5L256.4 212.3L257.5 213.0L258.5 213.7L259.6 214.5L260.7 215.2L261.7 216.0L262.8 216.7L263.9 217.4L264.9 218.2L266.0 218.9L267.1 219.7L268.2 220.4L269.2 221.1"/><path class="c" stroke="#1fa7d5" d="M78.8 87.3L79.9 88.3L81.0 89.2L82.1 90.2L83.1 91.1L84.2 92.0L85.3 92.9L86.3 93.8L87.4 94.7L88.5 95.5L89.5 96.4L90.6 97.3L91.7 98.1L92.8 98.9L93.8 99.8L94.9 100.6L96.0 101.4L97.0 102.2L98.1 103.0L99.2 103.8L100.2 104.6L101.3 105.4L102.4 106.2L103.4 107.0L104.5 107.8L105.6 108.5L106.7 109.3L107.7 110.1L108.8 110.9L109.9 111.6L110.9 112.4L112.0 113.2L113.1 113.9L114.1 114.7L115.2 115.4L116.3 116.2L117.4 117.0L118.4 117.7L119.5 118.5L120.6 119.2L121.6 120.0L122.7 120.7L123.8 121.5L124.8 122.2L125.9 123.0L127.0 123.7L128.0 124.5L129.1 125.2L130.2 126.0L131.3 126.7L132.3 127.4L133.4 128.2L134.5 128.9L135.5 129.7L136.6 130.4L137.7 131.2L138.7 131.9L139.8 132.7L140.9 133.4L142.0 134.1L143.0 134.9L144.1 135.6L145.2 136.4L146.2 137.1L147.3 137.9L148.4 138.6L149.4 139.3L150.5 140.1L151.6 140.8L152.6 141.6L153.7 142.3L154.8 143.0L155.9 143.8L156.9 144.5L158.0 145.3L159.1 146.0L160.1 146.8L161.2 147.5L162.3 148.2L163.3 149.0L164.4 149.7L165.5 150.5L166.5 151.2L167.6 151.9L168.7 152.7L169.8 153.4L170.8 154.2L171.9 154.9L173.0 155.6L174.0 156.4L175.1 157.1L176.2 157.9L177.2 158.6L178.3 159.4L179.4 160.1L180.5 160.8L181.5 161.6L182.6 162.3L183.7 163.1L184.7 163.8L185.8 164.5L186.9 165.3L187.9 166.0L189.0 166.8L190.1 167.5L191.1 168.2L192.2 169.0L193.3 169.7L194.4 170.5L195.4 171.2L196.5 171.9L197.6 172.7L198.6 173.4L199.7 174.2L200.8 174.9L201.8 175.7L202.9 176.4L204.0 177.1L205.1 177.9L206.1 178.6L207.2 179.4L208.3 180.1L209.3 180.8L210.4 181.6L211.5 182.3L212.5 183.1L213.6 183.8L214.7 184.5L215.7 185.3L216.8 186.0L217.9 186.8L219.0 187.5L220.0 188.2L221.1 189.0L222.2 189.7L223.2 190.5L224.3 191.2L225.4 192.0L226.4 192.7L227.5 193.4L228.6 194.2L229.6 194.9L230.7 195.7L231.8 196.4L232.9 197.1L233.9 197.9L235.0 198.6L236.1 199.4L237.1 200.1L238.2 200.8L239.3 201.6L240.3 202.3L241.4 203.1L242.5 203.8L243.6 204.5L244.6 205.3L245.7 206.0L246.8 206.8L247.8 207.5L248.9 208.2L250.0 209.0L251.0 209.7L252.1 210.5L253.2 211.2L254.2 212.0L255.3 212.7L256.4 213.4L257.5 214.2L258.5 214.9L259.6 215.7L260.7 216.4L261.7 217.1L262.8 217.9L263.9 218.6L264.9 219.4L266.0 220.1L267.1 220.8"/><path class="c" stroke="#e863f4" d="M78.8 76.9L79.9 78.4L81.0 79.9L82.1 81.3L83.1 82.7L84.2 84.1L85.3 85.5L86.3 86.8L87.4 88.2L88.5 89.5L89.5 90.8L90.6 92.0L91.7 93.3L92.8 94.5L93.8 95.7L94.9 96.8L96.0 98.0L97.0 99.1L98.1 100.2L99.2 101.3L100.2 102.3L101.3 103.4L102.4 104.4L103.4 105.4L104.5 106.4L105.6 107.4L106.7 108.4L107.7 109.3L108.8 110.2L109.9 111.2L110.9 112.1L112.0 113.0L113.1 113.9L114.1 114.7L115.2 115.6L116.3 116.5L117.4 117.3L118.4 118.1L119.5 119.0L120.6 119.8L121.6 120.6L122.7 121.4L123.8 122.3L124.8 123.1L125.9 123.9L127.0 124.6L128.0 125.4L129.1 126.2L130.2 127.0L131.3 127.8L132.3 128.6L133.4 129.3L134.5 130.1L135.5 130.9L136.6 131.6L137.7 132.4L138.7 133.2L139.8 133.9L140.9 134.7L142.0 135.4L143.0 136.2L144.1 137.0L145.2 137.7L146.2 138.5L147.3 139.2L148.4 140.0L149.4 140.7L150.5 141.5L151.6 142.2L152.6 143.0L153.7 143.7L154.8 144.5L155.9 145.2L156.9 146.0L158.0 146.7L159.1 147.4L160.1 148.2L161.2 148.9L162.3 149.7L163.3 150.4L164.4 151.2L165.5 151.9L166.5 152.7L167.6 153.4L168.7 154.1L169.8 154.9L170.8 155.6L171.9 156.4L173.0 157.1L174.0 157.9L175.1 158.6L176.2 159.3L177.2 160.1L178.3 160.8L179.4 161.6L180.5 162.3L181.5 163.0L182.6 163.8L183.7 164.5L184.7 165.3L185.8 166.0L186.9 166.8L187.9 167.5L189.0 168.2L190.1 169.0L191.1 169.7L192.2 170.5L193.3 171.2L194.4 171.9L195.4 172.7L196.5 173.4L197.6 174.2L198.6 174.9L199.7 175.7L200.8 176.4L201.8 177.1L202.9 177.9L204.0 178.6L205.1 179.4L206.1 180.1L207.2 180.8L208.3 181.6L209.3 182.3L210.4 183.1L211.5 183.8L212.5 184.5L213.6 185.3L214.7 186.0L215.7 186.8L216.8 187.5L217.9 188.2L219.0 189.0L220.0 189.7L221.1 190.5L222.2 191.2L223.2 192.0L224.3 192.7L225.4 193.4L226.4 194.2L227.5 194.9L228.6 195.7L229.6 196.4L230.7 197.1L231.8 197.9L232.9 198.6L233.9 199.4L235.0 200.1L236.1 200.8L237.1 201.6L238.2 202.3L239.3 203.1L240.3 203.8L241.4 204.5L242.5 205.3L243.6 206.0L244.6 206.8L245.7 207.5L246.8 208.2L247.8 209.0L248.9 209.7L250.0 210.5L251.0 211.2L252.1 212.0L253.2 212.7L254.2 213.4L255.3 214.2L256.4 214.9L257.5 215.7L258.5 216.4L259.6 217.1L260.7 217.9L261.7 218.6L262.8 219.4L263.9 220.1L264.9 220.8"/><path class="c" stroke="#20a3ec" d="M78.8 89.7L79.9 90.7L81.0 91.6L82.1 92.6L83.1 93.5L84.2 94.4L85.3 95.3L86.3 96.2L87.4 97.0L88.5 97.9L89.5 98.7L90.6 99.6L91.7 100.4L92.8 101.2L93.8 102.1L94.9 102.9L96.0 103.7L97.0 104.5L98.1 105.3L99.2 106.1L100.2 106.9L101.3 107.7L102.4 108.5L103.4 109.2L104.5 110.0L105.6 110.8L106.7 111.6L107.7 112.3L108.8 113.1L109.9 113.9L110.9 114.6L112.0 115.4L113.1 116.2L114.1 116.9L115.2 117.7L116.3 118.4L117.4 119.2L118.4 119.9L119.5 120.7L120.6 121.4L121.6 122.2L122.7 122.9L123.8 123.7L124.8 124.4L125.9 125.2L127.0 125.9L128.0 126.7L129.1 127.4L130.2 128.2L131.3 128.9L132.3 129.7L133.4 130.4L134.5 131.2L135.5 131.9L136.6 132.6L137.7 133.4L138.7 134.1L139.8 134.9L140.9 135.6L142.0 136.4L143.0 137.1L144.1 137.9L145.2 138.6L146.2 139.3L147.3 140.1L148.4 140.8L149.4 141.6L150.5 142.3L151.6 143.0L152.6 143.8L153.7 144.5L154.8 145.3L155.9 146.0L156.9 146.8L158.0 147.5L159.1 148.2L160.1 149.0L161.2 149.7L162.3 150.5L163.3 151.2L164.4 151.9L165.5 152.7L166.5 153.4L167.6 154.2L168.7 154.9L169.8 155.6L170.8 156.4L171.9 157.1L173.0 157.9L174.0 158.6L175.1 159.4L176.2 160.1L177.2 160.8L178.3 161.6L179.4 162.3L180.5 163.1L181.5 163.8L182.6 164.5L183.7 165.3L184.7 166.0L185.8 166.8L186.9 167.5L187.9 168.2L189.0 169.0L190.1 169.7L191.1 170.5L192.2 171.2L193.3 171.9L194.4 172.7L195.4 173.4L196.5 174.2L197.6 174.9L198.6 175.7L199.7 176.4L200.8 177.1L201.8 177.9L202.9 178.6L204.0 179.4L205.1 180.1L206.1 180.8L207.2 181.6L208.3 182.3L209.3 183.1L210.4 183.8L211.5 184.5L212.5 185.3L213.6 186.0L214.7 186.8L215.7 187.5L216.8 188.2L217.9 189.0L219.0 189.7L220.0 190.5L221.1 191.2L222.2 192.0L223.2 192.7L224.3 193.4L225.4 194.2L226.4 194.9L227.5 195.7L228.6 196.4L229.6 197.1L230.7 197.9L231.8 198.6L232.9 199.4L233.9 200.1L235.0 200.8L236.1 201.6L237.1 202.3L238.2 203.1L239.3 203.8L240.3 204.5L241.4 205.3L242.5 206.0L243.6 206.8L244.6 207.5L245.7 208.2L246.8 209.0L247.8 209.7L248.9 210.5L250.0 211.2L251.0 212.0L252.1 212.7L253.2 213.4L254.2 214.2L255.3 214.9L256.4 215.7L257.5 216.4L258.5 217.1L259.6 217.9L260.7 218.6L261.7 219.4L262.8 220.1L263.9 220.8"/><path class="c" stroke="#6b9bf4" d="M78.8 91.8L79.9 92.6L81.0 93.5L82.1 94.4L83.1 95.3L84.2 96.1L85.3 96.9L86.3 97.8L87.4 98.6L88.5 99.4L89.5 100.2L90.6 101.1L91.7 101.9L92.8 102.7L93.8 103.5L94.9 104.2L96.0 105.0L97.0 105.8L98.1 106.6L99.2 107.4L100.2 108.1L101.3 108.9L102.4 109.7L103.4 110.5L104.5 111.2L105.6 112.0L106.7 112.7L107.7 113.5L108.8 114.3L109.9 115.0L110.9 115.8L112.0 116.5L113.1 117.3L114.1 118.0L115.2 118.8L116.3 119.5L117.4 120.3L118.4 121.0L119.5 121.8L120.6 122.5L121.6 123.3L122.7 124.0L123.8 124.8L124.8 125.5L125.9 126.3L127.0 127.0L128.0 127.7L129.1 128.5L130.2 129.2L131.3 130.0L132.3 130.7L133.4 131.5L134.5 132.2L135.5 133.0L136.6 133.7L137.7 134.4L138.7 135.2L139.8 135.9L140.9 136.7L142.0 137.4L143.0 138.2L144.1 138.9L145.2 139.6L146.2 140.4L147.3 141.1L148.4 141.9L149.4 142.6L150.5 143.3L151.6 144.1L152.6 144.8L153.7 145.6L154.8 146.3L155.9 147.1L156.9 147.8L158.0 148.5L159.1 149.3L160.1 150.0L161.2 150.8L162.3 151.5L163.3 152.2L164.4 153.0L165.5 153.7L166.5 154.5L167.6 155.2L168.7 155.9L169.8 156.7L170.8 157.4L171.9 158.2L173.0 158.9L174.0 159.6L175.1 160.4L176.2 161.1L177.2 161.9L178.3 162.6L179.4 163.4L180.5 164.1L181.5 164.8L182.6 165.6L183.7 166.3L184.7 167.1L185.8 167.8L186.9 168.5L187.9 169.3L189.0 170.0L190.1 170.8L191.1 171.5L192.2 172.2L193.3 173.0L194.4 173.7L195.4 174.5L196.5 175.2L197.6 175.9L198.6 176.7L199.7 177.4L200.8 178.2L201.8 178.9L202.9 179.7L204.0 180.4L205.1 181.1L206.1 181.9L207.2 182.6L208.3 183.4L209.3 184.1L210.4 184.8L211.5 185.6L212.5 186.3L213.6 187.1L214.7 187.8L215.7 188.5L216.8 189.3L217.9 190.0L219.0 190.8L220.0 191.5L221.1 192.2L222.2 193.0L223.2 193.7L224.3 194.5L225.4 195.2L226.4 196.0L227.5 196.7L228.6 197.4L229.6 198.2L230.7 198.9L231.8 199.7L232.9 200.4L233.9 201.1L235.0 201.9L236.1 202.6L237.1 203.4L238.2 204.1L239.3 204.8L240.3 205.6L241.4 206.3L242.5 207.1L243.6 207.8L244.6 208.5L245.7 209.3L246.8 210.0L247.8 210.8L248.9 211.5L250.0 212.2L251.0 213.0L252.1 213.7L253.2 214.5L254.2 215.2L255.3 216.0L256.4 216.7L257.5 217.4L258.5 218.2L259.6 218.9L260.7 219.7L261.7 220.4L262.8 221.1"/><path class="c" stroke="#f562cc" d="M78.8 83.0L79.9 84.4L81.0 85.7L82.1 87.1L83.1 88.4L84.2 89.7L85.3 90.9L86.3 92.1L87.4 93.3L88.5 94.5L89.5 95.7L90.6 96.8L91.7 98.0L92.8 99.1L93.8 100.1L94.9 101.2L96.0 102.3L97.0 103.3L98.1 104.3L99.2 105.3L100.2 106.2L101.3 107.2L102.4 108.2L103.4 109.1L104.5 110.0L105.6 110.9L106.7 111.8L107.7 112.7L108.8 113.6L109.9 114.4L110.9 115.3L112.0 116.1L113.1 117.0L114.1 117.8L115.2 118.6L116.3 119.5L117.4 120.3L118.4 121.1L119.5 121.9L120.6 122.7L121.6 123.5L122.7 124.3L123.8 125.0L124.8 125.8L125.9 126.6L127.0 127.4L128.0 128.2L129.1 128.9L130.2 129.7L131.3 130.5L132.3 131.2L133.4 132.0L134.5 132.7L135.5 133.5L136.6 134.3L137.7 135.0L138.7 135.8L139.8 136.5L140.9 137.3L142.0 138.0L143.0 138.8L144.1 139.5L145.2 140.3L146.2 141.0L147.3 141.8L148.4 142.5L149.4 143.3L150.5 144.0L151.6 144.8L152.6 145.5L153.7 146.3L154.8 147.0L155.9 147.8L156.9 148.5L158.0 149.2L159.1 150.0L160.1 150.7L161.2 151.5L162.3 152.2L163.3 153.0L164.4 153.7L165.5 154.4L166.5 155.2L167.6 155.9L168.7 156.7L169.8 157.4L170.8 158.2L171.9 158.9L173.0 159.6L174.0 160.4L175.1 161.1L176.2 161.9L177.2 162.6L178.3 163.3L179.4 164.1L180.5 164.8L181.5 165.6L182.6 166.3L183.7 167.1L184.7 167.8L185.8 168.5L186.9 169.3L187.9 170.0L189.0 170.8L190.1 171.5L191.1 172.2L192.2 173.0L193.3 173.7L194.4 174.5L195.4 175.2L196.5 175.9L197.6 176.7L198.6 177.4L199.7 178.2L200.8 178.9L201.8 179.7L202.9 180.4L204.0 181.1L205.1 181.9L206.1 182.6L207.2 183.4L208.3 184.1L209.3 184.8L210.4 185.6L211.5 186.3L212.5 187.1L213.6 187.8L214.7 188.5L215.7 189.3L216.8 190.0L217.9 190.8L219.0 191.5L220.0 192.2L221.1 193.0L222.2 193.7L223.2 194.5L224.3 195.2L225.4 196.0L226.4 196.7L227.5 197.4L228.6 198.2L229.6 198.9L230.7 199.7L231.8 200.4L232.9 201.1L233.9 201.9L235.0 202.6L236.1 203.4L237.1 204.1L238.2 204.8L239.3 205.6L240.3 206.3L241.4 207.1L242.5 207.8L243.6 208.5L244.6 209.3L245.7 210.0L246.8 210.8L247.8 211.5L248.9 212.2L250.0 213.0L251.0 213.7L252.1 214.5L253.2 215.2L254.2 216.0L255.3 216.7L256.4 217.4L257.5 218.2L258.5 218.9L259.6 219.7L260.7 220.4L261.7 221.1"/><path class="c" stroke="#f667b7" d="M78.8 81.5L79.9 82.9L81.0 84.4L82.1 85.8L83.1 87.2L84.2 88.5L85.3 89.9L86.3 91.2L87.4 92.5L88.5 93.7L89.5 95.0L90.6 96.2L91.7 97.4L92.8 98.6L93.8 99.7L94.9 100.9L96.0 102.0L97.0 103.1L98.1 104.1L99.2 105.2L100.2 106.2L101.3 107.3L102.4 108.3L103.4 109.2L104.5 110.2L105.6 111.2L106.7 112.1L107.7 113.0L108.8 113.9L109.9 114.8L110.9 115.7L112.0 116.6L113.1 117.5L114.1 118.3L115.2 119.2L116.3 120.0L117.4 120.9L118.4 121.7L119.5 122.5L120.6 123.3L121.6 124.1L122.7 125.0L123.8 125.8L124.8 126.6L125.9 127.3L127.0 128.1L128.0 128.9L129.1 129.7L130.2 130.5L131.3 131.2L132.3 132.0L133.4 132.8L134.5 133.6L135.5 134.3L136.6 135.1L137.7 135.9L138.7 136.6L139.8 137.4L140.9 138.1L142.0 138.9L143.0 139.6L144.1 140.4L145.2 141.1L146.2 141.9L147.3 142.6L148.4 143.4L149.4 144.1L150.5 144.9L151.6 145.6L152.6 146.4L153.7 147.1L154.8 147.9L155.9 148.6L156.9 149.4L158.0 150.1L159.1 150.9L160.1 151.6L161.2 152.4L162.3 153.1L163.3 153.8L164.4 154.6L165.5 155.3L166.5 156.1L167.6 156.8L168.7 157.6L169.8 158.3L170.8 159.0L171.9 159.8L173.0 160.5L174.0 161.3L175.1 162.0L176.2 162.8L177.2 163.5L178.3 164.2L179.4 165.0L180.5 165.7L181.5 166.5L182.6 167.2L183.7 167.9L184.7 168.7L185.8 169.4L186.9 170.2L187.9 170.9L189.0 171.6L190.1 172.4L191.1 173.1L192.2 173.9L193.3 174.6L194.4 175.4L195.4 176.1L196.5 176.8L197.6 177.6L198.6 178.3L199.7 179.1L200.8 179.8L201.8 180.5L202.9 181.3L204.0 182.0L205.1 182.8L206.1 183.5L207.2 184.2L208.3 185.0L209.3 185.7L210.4 186.5L211.5 187.2L212.5 187.9L213.6 188.7L214.7 189.4L215.7 190.2L216.8 190.9L217.9 191.7L219.0 192.4L220.0 193.1L221.1 193.9L222.2 194.6L223.2 195.4L224.3 196.1L225.4 196.8L226.4 197.6L227.5 198.3L228.6 199.1L229.6 199.8L230.7 200.5L231.8 201.3L232.9 202.0L233.9 202.8L235.0 203.5L236.1 204.2L237.1 205.0L238.2 205.7L239.3 206.5L240.3 207.2L241.4 208.0L242.5 208.7L243.6 209.4L244.6 210.2L245.7 210.9L246.8 211.7L247.8 212.4L248.9 213.1L250.0 213.9L251.0 214.6L252.1 215.4L253.2 216.1L254.2 216.8L255.3 217.6L256.4 218.3L257.5 219.1L258.5 219.8L259.6 220.5L260.7 221.3"/><path class="dash d2" d="M78.8 67.8L292.8 214.1"/></g>
<path d="M121.80 202.5v-3.2M121.80 49.7v3.2M164.55 202.5v-3.2M164.55 49.7v3.2M207.30 202.5v-3.2M207.30 49.7v3.2M250.05 202.5v-3.2M250.05 49.7v3.2M79.05 68.10h3.2M292.80 68.10h-3.2M79.05 98.66h3.2M292.80 98.66h-3.2M79.05 129.22h3.2M292.80 129.22h-3.2M79.05 159.78h3.2M292.80 159.78h-3.2M79.05 190.34h3.2M292.80 190.34h-3.2" class="tick"/>
<rect x="79.05" y="49.7" width="213.75" height="152.8" class="frame"/>
<text transform="matrix(0.4676 0 0 0.4561 74.22 220.44)" font-size="40" style="">0</text>
<text transform="matrix(0.4458 0 0 0.4561 108.22 220.44)" font-size="40" style="">200</text>
<text transform="matrix(0.4381 0 0 0.4561 151.42 220.44)" font-size="40" style="">400</text>
<text transform="matrix(0.4458 0 0 0.4561 193.72 220.44)" font-size="40" style="">600</text>
<text transform="matrix(0.4439 0 0 0.4561 236.58 220.44)" font-size="40" style="">800</text>
<text transform="matrix(0.4320 0 0 0.4561 274.64 220.44)" font-size="40" style="">1000</text>
<text transform="matrix(0.4571 0 0 0.4411 51.80 76.44)" font-size="40" style="">10</text>
<text transform="matrix(0.3000 0 0 0.3327 69.65 67.17)" font-size="40" style="">0</text>
<text transform="matrix(0.4629 0 0 0.4411 41.48 107.00)" font-size="40" style="">10</text>
<text transform="matrix(0.4105 0 0 0.3390 58.68 97.81)" font-size="40" style="">−1</text>
<text transform="matrix(0.4629 0 0 0.4411 41.48 137.56)" font-size="40" style="">10</text>
<text transform="matrix(0.4105 0 0 0.3358 58.68 128.37)" font-size="40" style="">−2</text>
<text transform="matrix(0.4629 0 0 0.4411 41.48 168.12)" font-size="40" style="">10</text>
<text transform="matrix(0.4026 0 0 0.3327 58.69 158.85)" font-size="40" style="">−3</text>
<text transform="matrix(0.4629 0 0 0.4411 41.48 198.68)" font-size="40" style="">10</text>
<text transform="matrix(0.3925 0 0 0.3390 58.72 189.49)" font-size="40" style="">−4</text>
<text transform="matrix(0.5529 0 0 0.5838 194.11 251.70)" font-size="40" style="font-style:italic;stroke:none;">k</text>
<text transform="matrix(0.5638 0 0 0.5625 132.00 31.81)" font-size="40" style="">Kakade’s NPG</text>
<g transform="rotate(-90)"><text transform="matrix(0.6083 0 0 0.5867 -184.95 30.00)" font-size="40" style="font-style:italic;stroke:none;">R</text><text transform="matrix(0.3800 0 0 0.4772 -170.10 23.56)" font-size="40" style="">⋆</text><text transform="matrix(0.6973 0 0 0.6000 -155.39 31.35)" font-size="40" style="">−</text><text transform="matrix(0.6292 0 0 0.5867 -132.84 30.00)" font-size="40" style="font-style:italic;stroke:none;">R</text><text transform="matrix(0.4976 0 0 0.5903 -117.57 29.18)" font-size="40" style="">(</text><text transform="matrix(0.6090 0 0 0.5204 -111.72 28.47)" font-size="40" style="font-style:italic;stroke:none;">θ</text><text transform="matrix(0.4324 0 0 0.2432 -99.74 31.95)" font-size="40" style="font-style:italic;stroke:none;">k</text><text transform="matrix(0.5463 0 0 0.5903 -90.78 29.18)" font-size="40" style="">)</text></g>
</g>
<g transform="translate(0,220.1)">
<path d="M121.80 49.7V202.5M164.55 49.7V202.5M207.30 49.7V202.5M250.05 49.7V202.5M79.05 68.10H292.80M79.05 98.66H292.80M79.05 129.22H292.80M79.05 159.78H292.80M79.05 190.34H292.80" class="grid"/>
<g clip-path="url(#clip)"><path class="c" stroke="#dc891c" d="M78.8 49.5L79.9 49.7L81.0 49.9L82.1 50.1L83.1 50.3L84.2 50.5L85.3 50.8L86.3 51.0L87.4 51.2L88.5 51.4L89.5 51.6L90.6 51.8L91.7 52.0L92.8 52.3L93.8 52.5L94.9 52.7L96.0 52.9L97.0 53.1L98.1 53.4L99.2 53.6L100.2 53.8L101.3 54.0L102.4 54.3L103.4 54.5L104.5 54.7L105.6 54.9L106.7 55.2L107.7 55.4L108.8 55.6L109.9 55.9L110.9 56.1L112.0 56.3L113.1 56.6L114.1 56.8L115.2 57.1L116.3 57.3L117.4 57.6L118.4 57.8L119.5 58.1L120.6 58.3L121.6 58.6L122.7 58.8L123.8 59.1L124.8 59.4L125.9 59.6L127.0 59.9L128.0 60.2L129.1 60.4L130.2 60.7L131.3 61.0L132.3 61.3L133.4 61.6L134.5 61.9L135.5 62.2L136.6 62.5L137.7 62.8L138.7 63.1L139.8 63.4L140.9 63.7L142.0 64.0L143.0 64.3L144.1 64.6L145.2 65.0L146.2 65.3L147.3 65.6L148.4 66.0L149.4 66.3L150.5 66.7L151.6 67.1L152.6 67.4L153.7 67.8L154.8 68.2L155.9 68.5L156.9 68.9L158.0 69.3L159.1 69.7L160.1 70.1L161.2 70.5L162.3 70.9L163.3 71.3L164.4 71.8L165.5 72.2L166.5 72.6L167.6 73.1L168.7 73.5L169.8 74.0L170.8 74.4L171.9 74.9L173.0 75.4L174.0 75.8L175.1 76.3L176.2 76.8L177.2 77.3L178.3 77.8L179.4 78.3L180.5 78.8L181.5 79.3L182.6 79.8L183.7 80.4L184.7 80.9L185.8 81.4L186.9 82.0L187.9 82.5L189.0 83.1L190.1 83.6L191.1 84.2L192.2 84.8L193.3 85.3L194.4 85.9L195.4 86.5L196.5 87.1L197.6 87.7L198.6 88.3L199.7 88.9L200.8 89.5L201.8 90.1L202.9 90.7L204.0 91.3L205.1 91.9L206.1 92.5L207.2 93.2L208.3 93.8L209.3 94.4L210.4 95.1L211.5 95.7L212.5 96.3L213.6 97.0L214.7 97.6L215.7 98.3L216.8 98.9L217.9 99.6L219.0 100.2L220.0 100.9L221.1 101.6L222.2 102.2L223.2 102.9L224.3 103.6L225.4 104.2L226.4 104.9L227.5 105.6L228.6 106.2L229.6 106.9L230.7 107.6L231.8 108.3L232.9 109.0L233.9 109.6L235.0 110.3L236.1 111.0L237.1 111.7L238.2 112.4L239.3 113.1L240.3 113.8L241.4 114.5L242.5 115.1L243.6 115.8L244.6 116.5L245.7 117.2L246.8 117.9L247.8 118.6L248.9 119.3L250.0 120.0L251.0 120.7L252.1 121.4L253.2 122.1L254.2 122.8L255.3 123.5L256.4 124.2L257.5 124.9L258.5 125.6L259.6 126.3L260.7 127.0L261.7 127.7L262.8 128.4L263.9 129.2L264.9 129.9L266.0 130.6L267.1 131.3L268.2 132.0L269.2 132.7L270.3 133.4L271.4 134.1L272.4 134.8L273.5 135.5L274.6 136.2L275.6 136.9L276.7 137.6L277.8 138.4L278.8 139.1L279.9 139.8L281.0 140.5L282.1 141.2L283.1 141.9L284.2 142.6L285.3 143.3L286.3 144.0L287.4 144.8L288.5 145.5L289.5 146.2L290.6 146.9L291.7 147.6L292.8 148.3"/><path class="c" stroke="#9fa11b" d="M78.8 50.4L79.9 50.6L81.0 50.8L82.1 51.0L83.1 51.1L84.2 51.3L85.3 51.5L86.3 51.6L87.4 51.8L88.5 52.0L89.5 52.2L90.6 52.3L91.7 52.5L92.8 52.7L93.8 52.9L94.9 53.0L96.0 53.2L97.0 53.4L98.1 53.6L99.2 53.7L100.2 53.9L101.3 54.1L102.4 54.3L103.4 54.4L104.5 54.6L105.6 54.8L106.7 55.0L107.7 55.2L108.8 55.3L109.9 55.5L110.9 55.7L112.0 55.9L113.1 56.1L114.1 56.2L115.2 56.4L116.3 56.6L117.4 56.8L118.4 57.0L119.5 57.2L120.6 57.3L121.6 57.5L122.7 57.7L123.8 57.9L124.8 58.1L125.9 58.3L127.0 58.5L128.0 58.6L129.1 58.8L130.2 59.0L131.3 59.2L132.3 59.4L133.4 59.6L134.5 59.8L135.5 60.0L136.6 60.2L137.7 60.4L138.7 60.6L139.8 60.8L140.9 61.0L142.0 61.2L143.0 61.4L144.1 61.6L145.2 61.8L146.2 62.0L147.3 62.2L148.4 62.4L149.4 62.6L150.5 62.8L151.6 63.0L152.6 63.2L153.7 63.5L154.8 63.7L155.9 63.9L156.9 64.1L158.0 64.3L159.1 64.5L160.1 64.8L161.2 65.0L162.3 65.2L163.3 65.4L164.4 65.7L165.5 65.9L166.5 66.1L167.6 66.4L168.7 66.6L169.8 66.8L170.8 67.1L171.9 67.3L173.0 67.6L174.0 67.8L175.1 68.0L176.2 68.3L177.2 68.5L178.3 68.8L179.4 69.1L180.5 69.3L181.5 69.6L182.6 69.8L183.7 70.1L184.7 70.4L185.8 70.6L186.9 70.9L187.9 71.2L189.0 71.5L190.1 71.8L191.1 72.0L192.2 72.3L193.3 72.6L194.4 72.9L195.4 73.2L196.5 73.5L197.6 73.8L198.6 74.1L199.7 74.4L200.8 74.7L201.8 75.1L202.9 75.4L204.0 75.7L205.1 76.0L206.1 76.4L207.2 76.7L208.3 77.0L209.3 77.4L210.4 77.7L211.5 78.1L212.5 78.4L213.6 78.8L214.7 79.1L215.7 79.5L216.8 79.9L217.9 80.3L219.0 80.6L220.0 81.0L221.1 81.4L222.2 81.8L223.2 82.2L224.3 82.6L225.4 83.0L226.4 83.4L227.5 83.8L228.6 84.3L229.6 84.7L230.7 85.1L231.8 85.5L232.9 86.0L233.9 86.4L235.0 86.9L236.1 87.3L237.1 87.8L238.2 88.3L239.3 88.7L240.3 89.2L241.4 89.7L242.5 90.2L243.6 90.6L244.6 91.1L245.7 91.6L246.8 92.1L247.8 92.7L248.9 93.2L250.0 93.7L251.0 94.2L252.1 94.7L253.2 95.3L254.2 95.8L255.3 96.4L256.4 96.9L257.5 97.5L258.5 98.0L259.6 98.6L260.7 99.2L261.7 99.7L262.8 100.3L263.9 100.9L264.9 101.5L266.0 102.1L267.1 102.7L268.2 103.3L269.2 103.9L270.3 104.5L271.4 105.1L272.4 105.7L273.5 106.4L274.6 107.0L275.6 107.6L276.7 108.3L277.8 108.9L278.8 109.6L279.9 110.2L281.0 110.9L282.1 111.5L283.1 112.2L284.2 112.9L285.3 113.5L286.3 114.2L287.4 114.9L288.5 115.6L289.5 116.3L290.6 117.0L291.7 117.7L292.8 118.4"/><path class="c" stroke="#1eada4" d="M78.8 52.4L79.9 52.6L81.0 52.8L82.1 53.0L83.1 53.2L84.2 53.3L85.3 53.5L86.3 53.7L87.4 53.9L88.5 54.1L89.5 54.3L90.6 54.4L91.7 54.6L92.8 54.8L93.8 55.0L94.9 55.2L96.0 55.4L97.0 55.5L98.1 55.7L99.2 55.9L100.2 56.1L101.3 56.3L102.4 56.5L103.4 56.6L104.5 56.8L105.6 57.0L106.7 57.2L107.7 57.4L108.8 57.6L109.9 57.8L110.9 57.9L112.0 58.1L113.1 58.3L114.1 58.5L115.2 58.7L116.3 58.9L117.4 59.1L118.4 59.3L119.5 59.4L120.6 59.6L121.6 59.8L122.7 60.0L123.8 60.2L124.8 60.4L125.9 60.6L127.0 60.8L128.0 61.0L129.1 61.2L130.2 61.4L131.3 61.6L132.3 61.7L133.4 61.9L134.5 62.1L135.5 62.3L136.6 62.5L137.7 62.7L138.7 62.9L139.8 63.1L140.9 63.3L142.0 63.5L143.0 63.7L144.1 64.0L145.2 64.2L146.2 64.4L147.3 64.6L148.4 64.8L149.4 65.0L150.5 65.2L151.6 65.4L152.6 65.6L153.7 65.9L154.8 66.1L155.9 66.3L156.9 66.5L158.0 66.8L159.1 67.0L160.1 67.2L161.2 67.4L162.3 67.7L163.3 67.9L164.4 68.2L165.5 68.4L166.5 68.6L167.6 68.9L168.7 69.1L169.8 69.4L170.8 69.7L171.9 69.9L173.0 70.2L174.0 70.4L175.1 70.7L176.2 71.0L177.2 71.3L178.3 71.6L179.4 71.8L180.5 72.1L181.5 72.4L182.6 72.7L183.7 73.0L184.7 73.3L185.8 73.6L186.9 74.0L187.9 74.3L189.0 74.6L190.1 74.9L191.1 75.3L192.2 75.6L193.3 76.0L194.4 76.3L195.4 76.7L196.5 77.1L197.6 77.4L198.6 77.8L199.7 78.2L200.8 78.6L201.8 79.0L202.9 79.4L204.0 79.8L205.1 80.2L206.1 80.6L207.2 81.0L208.3 81.4L209.3 81.9L210.4 82.3L211.5 82.8L212.5 83.2L213.6 83.7L214.7 84.1L215.7 84.6L216.8 85.1L217.9 85.6L219.0 86.0L220.0 86.5L221.1 87.0L222.2 87.5L223.2 88.0L224.3 88.5L225.4 89.1L226.4 89.6L227.5 90.1L228.6 90.6L229.6 91.2L230.7 91.7L231.8 92.2L232.9 92.8L233.9 93.3L235.0 93.9L236.1 94.5L237.1 95.0L238.2 95.6L239.3 96.1L240.3 96.7L241.4 97.3L242.5 97.9L243.6 98.5L244.6 99.0L245.7 99.6L246.8 100.2L247.8 100.8L248.9 101.4L250.0 102.0L251.0 102.6L252.1 103.2L253.2 103.8L254.2 104.4L255.3 105.0L256.4 105.6L257.5 106.2L258.5 106.8L259.6 107.5L260.7 108.1L261.7 108.7L262.8 109.3L263.9 109.9L264.9 110.6L266.0 111.2L267.1 111.8L268.2 112.4L269.2 113.1L270.3 113.7L271.4 114.3L272.4 114.9L273.5 115.6L274.6 116.2L275.6 116.8L276.7 117.5L277.8 118.1L278.8 118.7L279.9 119.4L281.0 120.0L282.1 120.6L283.1 121.3L284.2 121.9L285.3 122.5L286.3 123.2L287.4 123.8L288.5 124.5L289.5 125.1L290.6 125.7L291.7 126.4L292.8 127.0"/><path class="c" stroke="#1dae99" d="M78.8 55.9L79.9 56.1L81.0 56.3L82.1 56.5L83.1 56.7L84.2 56.9L85.3 57.2L86.3 57.4L87.4 57.6L88.5 57.8L89.5 58.0L90.6 58.2L91.7 58.5L92.8 58.7L93.8 58.9L94.9 59.1L96.0 59.3L97.0 59.6L98.1 59.8L99.2 60.0L100.2 60.2L101.3 60.4L102.4 60.7L103.4 60.9L104.5 61.1L105.6 61.3L106.7 61.6L107.7 61.8L108.8 62.0L109.9 62.3L110.9 62.5L112.0 62.7L113.1 63.0L114.1 63.2L115.2 63.4L116.3 63.7L117.4 63.9L118.4 64.1L119.5 64.4L120.6 64.6L121.6 64.9L122.7 65.1L123.8 65.4L124.8 65.6L125.9 65.9L127.0 66.1L128.0 66.4L129.1 66.6L130.2 66.9L131.3 67.1L132.3 67.4L133.4 67.6L134.5 67.9L135.5 68.2L136.6 68.4L137.7 68.7L138.7 69.0L139.8 69.3L140.9 69.5L142.0 69.8L143.0 70.1L144.1 70.4L145.2 70.7L146.2 70.9L147.3 71.2L148.4 71.5L149.4 71.8L150.5 72.1L151.6 72.4L152.6 72.7L153.7 73.0L154.8 73.3L155.9 73.7L156.9 74.0L158.0 74.3L159.1 74.6L160.1 74.9L161.2 75.3L162.3 75.6L163.3 75.9L164.4 76.3L165.5 76.6L166.5 77.0L167.6 77.3L168.7 77.7L169.8 78.1L170.8 78.4L171.9 78.8L173.0 79.2L174.0 79.5L175.1 79.9L176.2 80.3L177.2 80.7L178.3 81.1L179.4 81.5L180.5 81.9L181.5 82.3L182.6 82.7L183.7 83.1L184.7 83.5L185.8 83.9L186.9 84.4L187.9 84.8L189.0 85.2L190.1 85.7L191.1 86.1L192.2 86.6L193.3 87.0L194.4 87.5L195.4 88.0L196.5 88.4L197.6 88.9L198.6 89.4L199.7 89.8L200.8 90.3L201.8 90.8L202.9 91.3L204.0 91.8L205.1 92.3L206.1 92.8L207.2 93.3L208.3 93.8L209.3 94.4L210.4 94.9L211.5 95.4L212.5 95.9L213.6 96.5L214.7 97.0L215.7 97.5L216.8 98.1L217.9 98.6L219.0 99.2L220.0 99.7L221.1 100.3L222.2 100.9L223.2 101.4L224.3 102.0L225.4 102.6L226.4 103.1L227.5 103.7L228.6 104.3L229.6 104.9L230.7 105.4L231.8 106.0L232.9 106.6L233.9 107.2L235.0 107.8L236.1 108.4L237.1 109.0L238.2 109.6L239.3 110.2L240.3 110.8L241.4 111.4L242.5 112.0L243.6 112.7L244.6 113.3L245.7 113.9L246.8 114.5L247.8 115.1L248.9 115.7L250.0 116.4L251.0 117.0L252.1 117.6L253.2 118.3L254.2 118.9L255.3 119.5L256.4 120.1L257.5 120.8L258.5 121.4L259.6 122.1L260.7 122.7L261.7 123.3L262.8 124.0L263.9 124.6L264.9 125.3L266.0 125.9L267.1 126.6L268.2 127.2L269.2 127.8L270.3 128.5L271.4 129.1L272.4 129.8L273.5 130.4L274.6 131.1L275.6 131.7L276.7 132.4L277.8 133.1L278.8 133.7L279.9 134.4L281.0 135.0L282.1 135.7L283.1 136.3L284.2 137.0L285.3 137.7L286.3 138.3L287.4 139.0L288.5 139.6L289.5 140.3L290.6 141.0L291.7 141.6L292.8 142.3"/><path class="c" stroke="#1fa7d5" d="M78.8 90.1L79.9 90.5L81.0 91.0L82.1 91.5L83.1 92.0L84.2 92.6L85.3 93.1L86.3 93.6L87.4 94.1L88.5 94.7L89.5 95.2L90.6 95.8L91.7 96.3L92.8 96.9L93.8 97.4L94.9 98.0L96.0 98.6L97.0 99.1L98.1 99.7L99.2 100.3L100.2 100.9L101.3 101.5L102.4 102.1L103.4 102.7L104.5 103.3L105.6 103.9L106.7 104.5L107.7 105.1L108.8 105.8L109.9 106.4L110.9 107.0L112.0 107.7L113.1 108.3L114.1 108.9L115.2 109.6L116.3 110.2L117.4 110.9L118.4 111.5L119.5 112.2L120.6 112.9L121.6 113.5L122.7 114.2L123.8 114.9L124.8 115.5L125.9 116.2L127.0 116.9L128.0 117.6L129.1 118.2L130.2 118.9L131.3 119.6L132.3 120.3L133.4 121.0L134.5 121.7L135.5 122.4L136.6 123.1L137.7 123.8L138.7 124.5L139.8 125.2L140.9 125.9L142.0 126.6L143.0 127.3L144.1 128.0L145.2 128.7L146.2 129.4L147.3 130.1L148.4 130.8L149.4 131.5L150.5 132.3L151.6 133.0L152.6 133.7L153.7 134.4L154.8 135.1L155.9 135.9L156.9 136.6L158.0 137.3L159.1 138.0L160.1 138.7L161.2 139.5L162.3 140.2L163.3 140.9L164.4 141.6L165.5 142.4L166.5 143.1L167.6 143.8L168.7 144.5L169.8 145.3L170.8 146.0L171.9 146.7L173.0 147.5L174.0 148.2L175.1 148.9L176.2 149.7L177.2 150.4L178.3 151.1L179.4 151.9L180.5 152.6L181.5 153.3L182.6 154.0L183.7 154.8L184.7 155.5L185.8 156.3L186.9 157.0L187.9 157.7L189.0 158.5L190.1 159.2L191.1 159.9L192.2 160.7L193.3 161.4L194.4 162.1L195.4 162.9L196.5 163.6L197.6 164.3L198.6 165.1L199.7 165.8L200.8 166.5L201.8 167.3L202.9 168.0L204.0 168.8L205.1 169.5L206.1 170.2L207.2 171.0L208.3 171.7L209.3 172.4L210.4 173.2L211.5 173.9L212.5 174.6L213.6 175.4L214.7 176.1L215.7 176.9L216.8 177.6L217.9 178.3L219.0 179.1L220.0 179.8L221.1 180.5L222.2 181.3L223.2 182.0L224.3 182.8L225.4 183.5L226.4 184.2L227.5 185.0L228.6 185.7L229.6 186.4L230.7 187.2L231.8 187.9L232.9 188.6L233.9 189.4L235.0 190.1L236.1 190.9L237.1 191.6L238.2 192.3L239.3 193.1L240.3 193.8L241.4 194.5L242.5 195.3L243.6 196.0L244.6 196.7L245.7 197.5L246.8 198.2L247.8 199.0L248.9 199.7L250.0 200.4L251.0 201.2L252.1 201.9L253.2 202.6L254.2 203.4L255.3 204.1L256.4 204.8L257.5 205.6L258.5 206.3L259.6 207.1L260.7 207.8L261.7 208.5L262.8 209.3L263.9 210.0L264.9 210.7L266.0 211.5L267.1 212.2L268.2 212.9L269.2 213.7L270.3 214.4L271.4 215.2L272.4 215.9L273.5 216.6L274.6 217.4L275.6 218.1L276.7 218.8L277.8 219.6L278.8 220.3L279.9 221.0"/><path class="c" stroke="#6b9bf4" d="M78.8 87.3L79.9 87.8L81.0 88.3L82.1 88.8L83.1 89.3L84.2 89.8L85.3 90.3L86.3 90.9L87.4 91.4L88.5 91.9L89.5 92.5L90.6 93.0L91.7 93.6L92.8 94.1L93.8 94.7L94.9 95.3L96.0 95.8L97.0 96.4L98.1 97.0L99.2 97.6L100.2 98.2L101.3 98.8L102.4 99.4L103.4 100.0L104.5 100.6L105.6 101.2L106.7 101.8L107.7 102.4L108.8 103.1L109.9 103.7L110.9 104.3L112.0 105.0L113.1 105.6L114.1 106.2L115.2 106.9L116.3 107.5L117.4 108.2L118.4 108.8L119.5 109.5L120.6 110.2L121.6 110.8L122.7 111.5L123.8 112.2L124.8 112.8L125.9 113.5L127.0 114.2L128.0 114.9L129.1 115.6L130.2 116.2L131.3 116.9L132.3 117.6L133.4 118.3L134.5 119.0L135.5 119.7L136.6 120.4L137.7 121.1L138.7 121.8L139.8 122.5L140.9 123.2L142.0 123.9L143.0 124.6L144.1 125.3L145.2 126.0L146.2 126.8L147.3 127.5L148.4 128.2L149.4 128.9L150.5 129.6L151.6 130.3L152.6 131.0L153.7 131.8L154.8 132.5L155.9 133.2L156.9 133.9L158.0 134.7L159.1 135.4L160.1 136.1L161.2 136.8L162.3 137.6L163.3 138.3L164.4 139.0L165.5 139.7L166.5 140.5L167.6 141.2L168.7 141.9L169.8 142.7L170.8 143.4L171.9 144.1L173.0 144.8L174.0 145.6L175.1 146.3L176.2 147.0L177.2 147.8L178.3 148.5L179.4 149.2L180.5 150.0L181.5 150.7L182.6 151.4L183.7 152.2L184.7 152.9L185.8 153.7L186.9 154.4L187.9 155.1L189.0 155.9L190.1 156.6L191.1 157.3L192.2 158.1L193.3 158.8L194.4 159.5L195.4 160.3L196.5 161.0L197.6 161.8L198.6 162.5L199.7 163.2L200.8 164.0L201.8 164.7L202.9 165.4L204.0 166.2L205.1 166.9L206.1 167.7L207.2 168.4L208.3 169.1L209.3 169.9L210.4 170.6L211.5 171.3L212.5 172.1L213.6 172.8L214.7 173.6L215.7 174.3L216.8 175.0L217.9 175.8L219.0 176.5L220.0 177.2L221.1 178.0L222.2 178.7L223.2 179.5L224.3 180.2L225.4 180.9L226.4 181.7L227.5 182.4L228.6 183.2L229.6 183.9L230.7 184.6L231.8 185.4L232.9 186.1L233.9 186.8L235.0 187.6L236.1 188.3L237.1 189.1L238.2 189.8L239.3 190.5L240.3 191.3L241.4 192.0L242.5 192.7L243.6 193.5L244.6 194.2L245.7 195.0L246.8 195.7L247.8 196.4L248.9 197.2L250.0 197.9L251.0 198.6L252.1 199.4L253.2 200.1L254.2 200.9L255.3 201.6L256.4 202.3L257.5 203.1L258.5 203.8L259.6 204.5L260.7 205.3L261.7 206.0L262.8 206.7L263.9 207.5L264.9 208.2L266.0 209.0L267.1 209.7L268.2 210.4L269.2 211.2L270.3 211.9L271.4 212.6L272.4 213.4L273.5 214.1L274.6 214.8L275.6 215.6L276.7 216.3L277.8 217.1L278.8 217.8L279.9 218.5L281.0 219.3L282.1 220.0L283.1 220.7"/><path class="c" stroke="#20a3ec" d="M78.8 86.7L79.9 87.2L81.0 87.7L82.1 88.2L83.1 88.7L84.2 89.2L85.3 89.7L86.3 90.2L87.4 90.7L88.5 91.3L89.5 91.8L90.6 92.3L91.7 92.9L92.8 93.4L93.8 94.0L94.9 94.5L96.0 95.1L97.0 95.7L98.1 96.2L99.2 96.8L100.2 97.4L101.3 98.0L102.4 98.6L103.4 99.2L104.5 99.8L105.6 100.4L106.7 101.0L107.7 101.6L108.8 102.2L109.9 102.8L110.9 103.5L112.0 104.1L113.1 104.7L114.1 105.4L115.2 106.0L116.3 106.7L117.4 107.3L118.4 108.0L119.5 108.6L120.6 109.3L121.6 109.9L122.7 110.6L123.8 111.3L124.8 111.9L125.9 112.6L127.0 113.3L128.0 113.9L129.1 114.6L130.2 115.3L131.3 116.0L132.3 116.7L133.4 117.4L134.5 118.1L135.5 118.8L136.6 119.4L137.7 120.1L138.7 120.8L139.8 121.5L140.9 122.2L142.0 122.9L143.0 123.7L144.1 124.4L145.2 125.1L146.2 125.8L147.3 126.5L148.4 127.2L149.4 127.9L150.5 128.6L151.6 129.3L152.6 130.1L153.7 130.8L154.8 131.5L155.9 132.2L156.9 132.9L158.0 133.7L159.1 134.4L160.1 135.1L161.2 135.8L162.3 136.6L163.3 137.3L164.4 138.0L165.5 138.7L166.5 139.5L167.6 140.2L168.7 140.9L169.8 141.7L170.8 142.4L171.9 143.1L173.0 143.9L174.0 144.6L175.1 145.3L176.2 146.0L177.2 146.8L178.3 147.5L179.4 148.2L180.5 149.0L181.5 149.7L182.6 150.4L183.7 151.2L184.7 151.9L185.8 152.7L186.9 153.4L187.9 154.1L189.0 154.9L190.1 155.6L191.1 156.3L192.2 157.1L193.3 157.8L194.4 158.5L195.4 159.3L196.5 160.0L197.6 160.8L198.6 161.5L199.7 162.2L200.8 163.0L201.8 163.7L202.9 164.4L204.0 165.2L205.1 165.9L206.1 166.7L207.2 167.4L208.3 168.1L209.3 168.9L210.4 169.6L211.5 170.3L212.5 171.1L213.6 171.8L214.7 172.6L215.7 173.3L216.8 174.0L217.9 174.8L219.0 175.5L220.0 176.3L221.1 177.0L222.2 177.7L223.2 178.5L224.3 179.2L225.4 179.9L226.4 180.7L227.5 181.4L228.6 182.2L229.6 182.9L230.7 183.6L231.8 184.4L232.9 185.1L233.9 185.8L235.0 186.6L236.1 187.3L237.1 188.1L238.2 188.8L239.3 189.5L240.3 190.3L241.4 191.0L242.5 191.7L243.6 192.5L244.6 193.2L245.7 194.0L246.8 194.7L247.8 195.4L248.9 196.2L250.0 196.9L251.0 197.6L252.1 198.4L253.2 199.1L254.2 199.9L255.3 200.6L256.4 201.3L257.5 202.1L258.5 202.8L259.6 203.5L260.7 204.3L261.7 205.0L262.8 205.8L263.9 206.5L264.9 207.2L266.0 208.0L267.1 208.7L268.2 209.4L269.2 210.2L270.3 210.9L271.4 211.6L272.4 212.4L273.5 213.1L274.6 213.9L275.6 214.6L276.7 215.3L277.8 216.1L278.8 216.8L279.9 217.5L281.0 218.3L282.1 219.0L283.1 219.7L284.2 220.5L285.3 221.2"/><path class="c" stroke="#f77465" d="M78.8 81.8L79.9 82.3L81.0 82.8L82.1 83.3L83.1 83.7L84.2 84.2L85.3 84.7L86.3 85.2L87.4 85.7L88.5 86.2L89.5 86.7L90.6 87.2L91.7 87.7L92.8 88.3L93.8 88.8L94.9 89.3L96.0 89.8L97.0 90.3L98.1 90.9L99.2 91.4L100.2 92.0L101.3 92.5L102.4 93.1L103.4 93.6L104.5 94.2L105.6 94.7L106.7 95.3L107.7 95.9L108.8 96.4L109.9 97.0L110.9 97.6L112.0 98.2L113.1 98.8L114.1 99.4L115.2 100.0L116.3 100.6L117.4 101.2L118.4 101.8L119.5 102.4L120.6 103.0L121.6 103.6L122.7 104.2L123.8 104.9L124.8 105.5L125.9 106.1L127.0 106.8L128.0 107.4L129.1 108.0L130.2 108.7L131.3 109.3L132.3 110.0L133.4 110.6L134.5 111.3L135.5 112.0L136.6 112.6L137.7 113.3L138.7 114.0L139.8 114.6L140.9 115.3L142.0 116.0L143.0 116.7L144.1 117.3L145.2 118.0L146.2 118.7L147.3 119.4L148.4 120.1L149.4 120.8L150.5 121.5L151.6 122.1L152.6 122.8L153.7 123.5L154.8 124.2L155.9 124.9L156.9 125.6L158.0 126.3L159.1 127.0L160.1 127.7L161.2 128.5L162.3 129.2L163.3 129.9L164.4 130.6L165.5 131.3L166.5 132.0L167.6 132.7L168.7 133.4L169.8 134.1L170.8 134.9L171.9 135.6L173.0 136.3L174.0 137.0L175.1 137.7L176.2 138.4L177.2 139.2L178.3 139.9L179.4 140.6L180.5 141.3L181.5 142.1L182.6 142.8L183.7 143.5L184.7 144.2L185.8 145.0L186.9 145.7L187.9 146.4L189.0 147.1L190.1 147.9L191.1 148.6L192.2 149.3L193.3 150.0L194.4 150.8L195.4 151.5L196.5 152.2L197.6 153.0L198.6 153.7L199.7 154.4L200.8 155.1L201.8 155.9L202.9 156.6L204.0 157.3L205.1 158.1L206.1 158.8L207.2 159.5L208.3 160.3L209.3 161.0L210.4 161.7L211.5 162.5L212.5 163.2L213.6 163.9L214.7 164.7L215.7 165.4L216.8 166.1L217.9 166.9L219.0 167.6L220.0 168.3L221.1 169.1L222.2 169.8L223.2 170.5L224.3 171.3L225.4 172.0L226.4 172.7L227.5 173.5L228.6 174.2L229.6 174.9L230.7 175.7L231.8 176.4L232.9 177.1L233.9 177.9L235.0 178.6L236.1 179.3L237.1 180.1L238.2 180.8L239.3 181.5L240.3 182.3L241.4 183.0L242.5 183.7L243.6 184.5L244.6 185.2L245.7 185.9L246.8 186.7L247.8 187.4L248.9 188.1L250.0 188.9L251.0 189.6L252.1 190.3L253.2 191.1L254.2 191.8L255.3 192.5L256.4 193.3L257.5 194.0L258.5 194.8L259.6 195.5L260.7 196.2L261.7 197.0L262.8 197.7L263.9 198.4L264.9 199.2L266.0 199.9L267.1 200.6L268.2 201.4L269.2 202.1L270.3 202.8L271.4 203.6L272.4 204.3L273.5 205.0L274.6 205.8L275.6 206.5L276.7 207.2L277.8 208.0L278.8 208.7L279.9 209.4L281.0 210.2L282.1 210.9L283.1 211.6L284.2 212.4L285.3 213.1L286.3 213.8L287.4 214.6L288.5 215.3L289.5 216.0L290.6 216.8L291.7 217.5L292.8 218.2"/><path class="c" stroke="#1eacae" d="M78.8 80.0L79.9 80.4L81.0 80.9L82.1 81.4L83.1 81.9L84.2 82.4L85.3 82.9L86.3 83.3L87.4 83.8L88.5 84.3L89.5 84.8L90.6 85.3L91.7 85.9L92.8 86.4L93.8 86.9L94.9 87.4L96.0 87.9L97.0 88.5L98.1 89.0L99.2 89.5L100.2 90.1L101.3 90.6L102.4 91.1L103.4 91.7L104.5 92.3L105.6 92.8L106.7 93.4L107.7 93.9L108.8 94.5L109.9 95.1L110.9 95.7L112.0 96.3L113.1 96.8L114.1 97.4L115.2 98.0L116.3 98.6L117.4 99.2L118.4 99.8L119.5 100.4L120.6 101.1L121.6 101.7L122.7 102.3L123.8 102.9L124.8 103.6L125.9 104.2L127.0 104.8L128.0 105.5L129.1 106.1L130.2 106.7L131.3 107.4L132.3 108.0L133.4 108.7L134.5 109.4L135.5 110.0L136.6 110.7L137.7 111.3L138.7 112.0L139.8 112.7L140.9 113.4L142.0 114.0L143.0 114.7L144.1 115.4L145.2 116.1L146.2 116.7L147.3 117.4L148.4 118.1L149.4 118.8L150.5 119.5L151.6 120.2L152.6 120.9L153.7 121.6L154.8 122.3L155.9 123.0L156.9 123.7L158.0 124.4L159.1 125.1L160.1 125.8L161.2 126.5L162.3 127.2L163.3 127.9L164.4 128.6L165.5 129.3L166.5 130.0L167.6 130.7L168.7 131.5L169.8 132.2L170.8 132.9L171.9 133.6L173.0 134.3L174.0 135.0L175.1 135.8L176.2 136.5L177.2 137.2L178.3 137.9L179.4 138.6L180.5 139.4L181.5 140.1L182.6 140.8L183.7 141.5L184.7 142.3L185.8 143.0L186.9 143.7L187.9 144.4L189.0 145.2L190.1 145.9L191.1 146.6L192.2 147.3L193.3 148.1L194.4 148.8L195.4 149.5L196.5 150.3L197.6 151.0L198.6 151.7L199.7 152.4L200.8 153.2L201.8 153.9L202.9 154.6L204.0 155.4L205.1 156.1L206.1 156.8L207.2 157.6L208.3 158.3L209.3 159.0L210.4 159.8L211.5 160.5L212.5 161.2L213.6 162.0L214.7 162.7L215.7 163.4L216.8 164.1L217.9 164.9L219.0 165.6L220.0 166.3L221.1 167.1L222.2 167.8L223.2 168.5L224.3 169.3L225.4 170.0L226.4 170.7L227.5 171.5L228.6 172.2L229.6 172.9L230.7 173.7L231.8 174.4L232.9 175.1L233.9 175.9L235.0 176.6L236.1 177.4L237.1 178.1L238.2 178.8L239.3 179.6L240.3 180.3L241.4 181.0L242.5 181.8L243.6 182.5L244.6 183.2L245.7 184.0L246.8 184.7L247.8 185.4L248.9 186.2L250.0 186.9L251.0 187.6L252.1 188.4L253.2 189.1L254.2 189.8L255.3 190.6L256.4 191.3L257.5 192.0L258.5 192.8L259.6 193.5L260.7 194.2L261.7 195.0L262.8 195.7L263.9 196.4L264.9 197.2L266.0 197.9L267.1 198.6L268.2 199.4L269.2 200.1L270.3 200.8L271.4 201.6L272.4 202.3L273.5 203.0L274.6 203.8L275.6 204.5L276.7 205.2L277.8 206.0L278.8 206.7L279.9 207.5L281.0 208.2L282.1 208.9L283.1 209.7L284.2 210.4L285.3 211.1L286.3 211.9L287.4 212.6L288.5 213.3L289.5 214.1L290.6 214.8L291.7 215.5L292.8 216.3"/><path class="c" stroke="#f76e89" d="M78.8 78.4L79.9 79.0L81.0 79.6L82.1 80.1L83.1 80.7L84.2 81.2L85.3 81.8L86.3 82.3L87.4 82.9L88.5 83.4L89.5 84.0L90.6 84.5L91.7 85.0L92.8 85.6L93.8 86.1L94.9 86.7L96.0 87.2L97.0 87.7L98.1 88.3L99.2 88.8L100.2 89.3L101.3 89.8L102.4 90.4L103.4 90.9L104.5 91.4L105.6 92.0L106.7 92.5L107.7 93.0L108.8 93.6L109.9 94.1L110.9 94.6L112.0 95.2L113.1 95.7L114.1 96.2L115.2 96.8L116.3 97.3L117.4 97.9L118.4 98.4L119.5 98.9L120.6 99.5L121.6 100.0L122.7 100.6L123.8 101.1L124.8 101.7L125.9 102.2L127.0 102.8L128.0 103.4L129.1 103.9L130.2 104.5L131.3 105.0L132.3 105.6L133.4 106.2L134.5 106.7L135.5 107.3L136.6 107.9L137.7 108.5L138.7 109.1L139.8 109.6L140.9 110.2L142.0 110.8L143.0 111.4L144.1 112.0L145.2 112.6L146.2 113.2L147.3 113.8L148.4 114.4L149.4 115.0L150.5 115.6L151.6 116.2L152.6 116.9L153.7 117.5L154.8 118.1L155.9 118.7L156.9 119.3L158.0 120.0L159.1 120.6L160.1 121.2L161.2 121.9L162.3 122.5L163.3 123.2L164.4 123.8L165.5 124.5L166.5 125.1L167.6 125.8L168.7 126.4L169.8 127.1L170.8 127.7L171.9 128.4L173.0 129.1L174.0 129.7L175.1 130.4L176.2 131.1L177.2 131.7L178.3 132.4L179.4 133.1L180.5 133.8L181.5 134.4L182.6 135.1L183.7 135.8L184.7 136.5L185.8 137.2L186.9 137.9L187.9 138.5L189.0 139.2L190.1 139.9L191.1 140.6L192.2 141.3L193.3 142.0L194.4 142.7L195.4 143.4L196.5 144.1L197.6 144.8L198.6 145.5L199.7 146.2L200.8 146.9L201.8 147.6L202.9 148.3L204.0 149.0L205.1 149.8L206.1 150.5L207.2 151.2L208.3 151.9L209.3 152.6L210.4 153.3L211.5 154.0L212.5 154.7L213.6 155.5L214.7 156.2L215.7 156.9L216.8 157.6L217.9 158.3L219.0 159.0L220.0 159.8L221.1 160.5L222.2 161.2L223.2 161.9L224.3 162.6L225.4 163.4L226.4 164.1L227.5 164.8L228.6 165.5L229.6 166.3L230.7 167.0L231.8 167.7L232.9 168.4L233.9 169.2L235.0 169.9L236.1 170.6L237.1 171.3L238.2 172.1L239.3 172.8L240.3 173.5L241.4 174.2L242.5 175.0L243.6 175.7L244.6 176.4L245.7 177.2L246.8 177.9L247.8 178.6L248.9 179.3L250.0 180.1L251.0 180.8L252.1 181.5L253.2 182.3L254.2 183.0L255.3 183.7L256.4 184.5L257.5 185.2L258.5 185.9L259.6 186.6L260.7 187.4L261.7 188.1L262.8 188.8L263.9 189.6L264.9 190.3L266.0 191.0L267.1 191.8L268.2 192.5L269.2 193.2L270.3 194.0L271.4 194.7L272.4 195.4L273.5 196.2L274.6 196.9L275.6 197.6L276.7 198.3L277.8 199.1L278.8 199.8L279.9 200.5L281.0 201.3L282.1 202.0L283.1 202.7L284.2 203.5L285.3 204.2L286.3 204.9L287.4 205.7L288.5 206.4L289.5 207.1L290.6 207.9L291.7 208.6L292.8 209.3"/><path class="c" stroke="#1daf8c" d="M78.8 76.9L79.9 77.5L81.0 78.0L82.1 78.6L83.1 79.1L84.2 79.7L85.3 80.2L86.3 80.8L87.4 81.3L88.5 81.8L89.5 82.4L90.6 82.9L91.7 83.4L92.8 83.9L93.8 84.5L94.9 85.0L96.0 85.5L97.0 86.0L98.1 86.6L99.2 87.1L100.2 87.6L101.3 88.1L102.4 88.6L103.4 89.2L104.5 89.7L105.6 90.2L106.7 90.7L107.7 91.2L108.8 91.7L109.9 92.3L110.9 92.8L112.0 93.3L113.1 93.8L114.1 94.4L115.2 94.9L116.3 95.4L117.4 95.9L118.4 96.5L119.5 97.0L120.6 97.5L121.6 98.1L122.7 98.6L123.8 99.1L124.8 99.7L125.9 100.2L127.0 100.8L128.0 101.3L129.1 101.8L130.2 102.4L131.3 103.0L132.3 103.5L133.4 104.1L134.5 104.6L135.5 105.2L136.6 105.8L137.7 106.3L138.7 106.9L139.8 107.5L140.9 108.1L142.0 108.6L143.0 109.2L144.1 109.8L145.2 110.4L146.2 111.0L147.3 111.6L148.4 112.2L149.4 112.8L150.5 113.4L151.6 114.0L152.6 114.6L153.7 115.2L154.8 115.8L155.9 116.5L156.9 117.1L158.0 117.7L159.1 118.3L160.1 119.0L161.2 119.6L162.3 120.2L163.3 120.9L164.4 121.5L165.5 122.2L166.5 122.8L167.6 123.4L168.7 124.1L169.8 124.8L170.8 125.4L171.9 126.1L173.0 126.7L174.0 127.4L175.1 128.1L176.2 128.7L177.2 129.4L178.3 130.1L179.4 130.7L180.5 131.4L181.5 132.1L182.6 132.8L183.7 133.5L184.7 134.1L185.8 134.8L186.9 135.5L187.9 136.2L189.0 136.9L190.1 137.6L191.1 138.3L192.2 139.0L193.3 139.7L194.4 140.4L195.4 141.1L196.5 141.8L197.6 142.5L198.6 143.2L199.7 143.9L200.8 144.6L201.8 145.3L202.9 146.0L204.0 146.7L205.1 147.4L206.1 148.1L207.2 148.8L208.3 149.5L209.3 150.2L210.4 150.9L211.5 151.7L212.5 152.4L213.6 153.1L214.7 153.8L215.7 154.5L216.8 155.2L217.9 156.0L219.0 156.7L220.0 157.4L221.1 158.1L222.2 158.8L223.2 159.6L224.3 160.3L225.4 161.0L226.4 161.7L227.5 162.4L228.6 163.2L229.6 163.9L230.7 164.6L231.8 165.3L232.9 166.1L233.9 166.8L235.0 167.5L236.1 168.2L237.1 169.0L238.2 169.7L239.3 170.4L240.3 171.2L241.4 171.9L242.5 172.6L243.6 173.3L244.6 174.1L245.7 174.8L246.8 175.5L247.8 176.3L248.9 177.0L250.0 177.7L251.0 178.4L252.1 179.2L253.2 179.9L254.2 180.6L255.3 181.4L256.4 182.1L257.5 182.8L258.5 183.6L259.6 184.3L260.7 185.0L261.7 185.7L262.8 186.5L263.9 187.2L264.9 187.9L266.0 188.7L267.1 189.4L268.2 190.1L269.2 190.9L270.3 191.6L271.4 192.3L272.4 193.1L273.5 193.8L274.6 194.5L275.6 195.3L276.7 196.0L277.8 196.7L278.8 197.5L279.9 198.2L281.0 198.9L282.1 199.7L283.1 200.4L284.2 201.1L285.3 201.9L286.3 202.6L287.4 203.3L288.5 204.1L289.5 204.8L290.6 205.5L291.7 206.3L292.8 207.0"/><path class="c" stroke="#6b9bf4" d="M78.8 75.7L79.9 76.2L81.0 76.8L82.1 77.3L83.1 77.8L84.2 78.4L85.3 78.9L86.3 79.4L87.4 79.9L88.5 80.4L89.5 80.9L90.6 81.5L91.7 82.0L92.8 82.5L93.8 83.0L94.9 83.5L96.0 84.0L97.0 84.5L98.1 85.0L99.2 85.5L100.2 86.0L101.3 86.5L102.4 87.0L103.4 87.5L104.5 88.0L105.6 88.5L106.7 89.0L107.7 89.5L108.8 90.0L109.9 90.6L110.9 91.1L112.0 91.6L113.1 92.1L114.1 92.6L115.2 93.1L116.3 93.6L117.4 94.1L118.4 94.6L119.5 95.2L120.6 95.7L121.6 96.2L122.7 96.7L123.8 97.2L124.8 97.8L125.9 98.3L127.0 98.8L128.0 99.4L129.1 99.9L130.2 100.4L131.3 101.0L132.3 101.5L133.4 102.1L134.5 102.6L135.5 103.2L136.6 103.7L137.7 104.3L138.7 104.8L139.8 105.4L140.9 106.0L142.0 106.6L143.0 107.1L144.1 107.7L145.2 108.3L146.2 108.9L147.3 109.5L148.4 110.0L149.4 110.6L150.5 111.2L151.6 111.8L152.6 112.4L153.7 113.0L154.8 113.6L155.9 114.3L156.9 114.9L158.0 115.5L159.1 116.1L160.1 116.7L161.2 117.4L162.3 118.0L163.3 118.6L164.4 119.2L165.5 119.9L166.5 120.5L167.6 121.2L168.7 121.8L169.8 122.5L170.8 123.1L171.9 123.8L173.0 124.4L174.0 125.1L175.1 125.7L176.2 126.4L177.2 127.1L178.3 127.7L179.4 128.4L180.5 129.1L181.5 129.7L182.6 130.4L183.7 131.1L184.7 131.8L185.8 132.5L186.9 133.1L187.9 133.8L189.0 134.5L190.1 135.2L191.1 135.9L192.2 136.6L193.3 137.3L194.4 138.0L195.4 138.7L196.5 139.4L197.6 140.0L198.6 140.7L199.7 141.4L200.8 142.2L201.8 142.9L202.9 143.6L204.0 144.3L205.1 145.0L206.1 145.7L207.2 146.4L208.3 147.1L209.3 147.8L210.4 148.5L211.5 149.2L212.5 149.9L213.6 150.7L214.7 151.4L215.7 152.1L216.8 152.8L217.9 153.5L219.0 154.2L220.0 155.0L221.1 155.7L222.2 156.4L223.2 157.1L224.3 157.8L225.4 158.6L226.4 159.3L227.5 160.0L228.6 160.7L229.6 161.4L230.7 162.2L231.8 162.9L232.9 163.6L233.9 164.3L235.0 165.1L236.1 165.8L237.1 166.5L238.2 167.2L239.3 168.0L240.3 168.7L241.4 169.4L242.5 170.1L243.6 170.9L244.6 171.6L245.7 172.3L246.8 173.1L247.8 173.8L248.9 174.5L250.0 175.2L251.0 176.0L252.1 176.7L253.2 177.4L254.2 178.2L255.3 178.9L256.4 179.6L257.5 180.3L258.5 181.1L259.6 181.8L260.7 182.5L261.7 183.3L262.8 184.0L263.9 184.7L264.9 185.5L266.0 186.2L267.1 186.9L268.2 187.7L269.2 188.4L270.3 189.1L271.4 189.9L272.4 190.6L273.5 191.3L274.6 192.0L275.6 192.8L276.7 193.5L277.8 194.2L278.8 195.0L279.9 195.7L281.0 196.4L282.1 197.2L283.1 197.9L284.2 198.6L285.3 199.4L286.3 200.1L287.4 200.8L288.5 201.6L289.5 202.3L290.6 203.0L291.7 203.8L292.8 204.5"/><path class="c" stroke="#f77465" d="M78.8 73.2L79.9 73.8L81.0 74.4L82.1 74.9L83.1 75.5L84.2 76.0L85.3 76.6L86.3 77.1L87.4 77.7L88.5 78.2L89.5 78.7L90.6 79.2L91.7 79.8L92.8 80.3L93.8 80.8L94.9 81.3L96.0 81.8L97.0 82.4L98.1 82.9L99.2 83.4L100.2 83.9L101.3 84.4L102.4 84.9L103.4 85.4L104.5 85.9L105.6 86.4L106.7 86.9L107.7 87.4L108.8 87.9L109.9 88.4L110.9 88.9L112.0 89.4L113.1 89.9L114.1 90.4L115.2 91.0L116.3 91.5L117.4 92.0L118.4 92.5L119.5 93.0L120.6 93.5L121.6 94.0L122.7 94.5L123.8 95.0L124.8 95.6L125.9 96.1L127.0 96.6L128.0 97.1L129.1 97.6L130.2 98.2L131.3 98.7L132.3 99.2L133.4 99.8L134.5 100.3L135.5 100.8L136.6 101.4L137.7 101.9L138.7 102.5L139.8 103.0L140.9 103.6L142.0 104.1L143.0 104.7L144.1 105.3L145.2 105.8L146.2 106.4L147.3 107.0L148.4 107.6L149.4 108.1L150.5 108.7L151.6 109.3L152.6 109.9L153.7 110.5L154.8 111.1L155.9 111.7L156.9 112.3L158.0 112.9L159.1 113.5L160.1 114.1L161.2 114.7L162.3 115.3L163.3 116.0L164.4 116.6L165.5 117.2L166.5 117.8L167.6 118.5L168.7 119.1L169.8 119.7L170.8 120.4L171.9 121.0L173.0 121.7L174.0 122.3L175.1 123.0L176.2 123.6L177.2 124.3L178.3 124.9L179.4 125.6L180.5 126.3L181.5 126.9L182.6 127.6L183.7 128.3L184.7 128.9L185.8 129.6L186.9 130.3L187.9 131.0L189.0 131.6L190.1 132.3L191.1 133.0L192.2 133.7L193.3 134.4L194.4 135.1L195.4 135.8L196.5 136.4L197.6 137.1L198.6 137.8L199.7 138.5L200.8 139.2L201.8 139.9L202.9 140.6L204.0 141.3L205.1 142.0L206.1 142.7L207.2 143.4L208.3 144.1L209.3 144.9L210.4 145.6L211.5 146.3L212.5 147.0L213.6 147.7L214.7 148.4L215.7 149.1L216.8 149.8L217.9 150.5L219.0 151.3L220.0 152.0L221.1 152.7L222.2 153.4L223.2 154.1L224.3 154.8L225.4 155.6L226.4 156.3L227.5 157.0L228.6 157.7L229.6 158.4L230.7 159.2L231.8 159.9L232.9 160.6L233.9 161.3L235.0 162.1L236.1 162.8L237.1 163.5L238.2 164.2L239.3 165.0L240.3 165.7L241.4 166.4L242.5 167.1L243.6 167.9L244.6 168.6L245.7 169.3L246.8 170.0L247.8 170.8L248.9 171.5L250.0 172.2L251.0 173.0L252.1 173.7L253.2 174.4L254.2 175.1L255.3 175.9L256.4 176.6L257.5 177.3L258.5 178.1L259.6 178.8L260.7 179.5L261.7 180.3L262.8 181.0L263.9 181.7L264.9 182.5L266.0 183.2L267.1 183.9L268.2 184.6L269.2 185.4L270.3 186.1L271.4 186.8L272.4 187.6L273.5 188.3L274.6 189.0L275.6 189.8L276.7 190.5L277.8 191.2L278.8 192.0L279.9 192.7L281.0 193.4L282.1 194.2L283.1 194.9L284.2 195.6L285.3 196.4L286.3 197.1L287.4 197.8L288.5 198.6L289.5 199.3L290.6 200.0L291.7 200.8L292.8 201.5"/><path class="c" stroke="#6b9bf4" d="M78.8 70.8L79.9 71.4L81.0 72.0L82.1 72.6L83.1 73.2L84.2 73.8L85.3 74.4L86.3 75.0L87.4 75.6L88.5 76.2L89.5 76.8L90.6 77.3L91.7 77.9L92.8 78.5L93.8 79.0L94.9 79.6L96.0 80.2L97.0 80.7L98.1 81.3L99.2 81.8L100.2 82.4L101.3 82.9L102.4 83.4L103.4 84.0L104.5 84.5L105.6 85.1L106.7 85.6L107.7 86.1L108.8 86.7L109.9 87.2L110.9 87.7L112.0 88.3L113.1 88.8L114.1 89.3L115.2 89.8L116.3 90.4L117.4 90.9L118.4 91.4L119.5 91.9L120.6 92.5L121.6 93.0L122.7 93.5L123.8 94.0L124.8 94.6L125.9 95.1L127.0 95.6L128.0 96.2L129.1 96.7L130.2 97.2L131.3 97.8L132.3 98.3L133.4 98.8L134.5 99.4L135.5 99.9L136.6 100.4L137.7 101.0L138.7 101.5L139.8 102.1L140.9 102.6L142.0 103.2L143.0 103.7L144.1 104.3L145.2 104.8L146.2 105.4L147.3 106.0L148.4 106.5L149.4 107.1L150.5 107.6L151.6 108.2L152.6 108.8L153.7 109.4L154.8 109.9L155.9 110.5L156.9 111.1L158.0 111.7L159.1 112.3L160.1 112.9L161.2 113.5L162.3 114.1L163.3 114.7L164.4 115.3L165.5 115.9L166.5 116.5L167.6 117.1L168.7 117.7L169.8 118.3L170.8 118.9L171.9 119.5L173.0 120.2L174.0 120.8L175.1 121.4L176.2 122.1L177.2 122.7L178.3 123.3L179.4 124.0L180.5 124.6L181.5 125.3L182.6 125.9L183.7 126.6L184.7 127.2L185.8 127.9L186.9 128.5L187.9 129.2L189.0 129.8L190.1 130.5L191.1 131.2L192.2 131.8L193.3 132.5L194.4 133.2L195.4 133.8L196.5 134.5L197.6 135.2L198.6 135.9L199.7 136.6L200.8 137.2L201.8 137.9L202.9 138.6L204.0 139.3L205.1 140.0L206.1 140.7L207.2 141.4L208.3 142.1L209.3 142.8L210.4 143.5L211.5 144.2L212.5 144.8L213.6 145.5L214.7 146.3L215.7 147.0L216.8 147.7L217.9 148.4L219.0 149.1L220.0 149.8L221.1 150.5L222.2 151.2L223.2 151.9L224.3 152.6L225.4 153.3L226.4 154.0L227.5 154.7L228.6 155.5L229.6 156.2L230.7 156.9L231.8 157.6L232.9 158.3L233.9 159.0L235.0 159.8L236.1 160.5L237.1 161.2L238.2 161.9L239.3 162.6L240.3 163.4L241.4 164.1L242.5 164.8L243.6 165.5L244.6 166.2L245.7 167.0L246.8 167.7L247.8 168.4L248.9 169.1L250.0 169.9L251.0 170.6L252.1 171.3L253.2 172.0L254.2 172.8L255.3 173.5L256.4 174.2L257.5 175.0L258.5 175.7L259.6 176.4L260.7 177.1L261.7 177.9L262.8 178.6L263.9 179.3L264.9 180.0L266.0 180.8L267.1 181.5L268.2 182.2L269.2 183.0L270.3 183.7L271.4 184.4L272.4 185.2L273.5 185.9L274.6 186.6L275.6 187.3L276.7 188.1L277.8 188.8L278.8 189.5L279.9 190.3L281.0 191.0L282.1 191.7L283.1 192.5L284.2 193.2L285.3 193.9L286.3 194.7L287.4 195.4L288.5 196.1L289.5 196.9L290.6 197.6L291.7 198.3L292.8 199.0"/><path class="c" stroke="#cc76f4" d="M78.8 69.3L79.9 69.9L81.0 70.5L82.1 71.1L83.1 71.7L84.2 72.3L85.3 72.9L86.3 73.5L87.4 74.1L88.5 74.7L89.5 75.3L90.6 75.8L91.7 76.4L92.8 77.0L93.8 77.5L94.9 78.1L96.0 78.6L97.0 79.2L98.1 79.7L99.2 80.3L100.2 80.8L101.3 81.4L102.4 81.9L103.4 82.4L104.5 83.0L105.6 83.5L106.7 84.0L107.7 84.6L108.8 85.1L109.9 85.6L110.9 86.1L112.0 86.7L113.1 87.2L114.1 87.7L115.2 88.2L116.3 88.8L117.4 89.3L118.4 89.8L119.5 90.3L120.6 90.8L121.6 91.4L122.7 91.9L123.8 92.4L124.8 92.9L125.9 93.5L127.0 94.0L128.0 94.5L129.1 95.0L130.2 95.6L131.3 96.1L132.3 96.6L133.4 97.1L134.5 97.7L135.5 98.2L136.6 98.8L137.7 99.3L138.7 99.8L139.8 100.4L140.9 100.9L142.0 101.5L143.0 102.0L144.1 102.6L145.2 103.1L146.2 103.7L147.3 104.2L148.4 104.8L149.4 105.4L150.5 105.9L151.6 106.5L152.6 107.1L153.7 107.6L154.8 108.2L155.9 108.8L156.9 109.4L158.0 110.0L159.1 110.6L160.1 111.1L161.2 111.7L162.3 112.3L163.3 112.9L164.4 113.5L165.5 114.1L166.5 114.8L167.6 115.4L168.7 116.0L169.8 116.6L170.8 117.2L171.9 117.8L173.0 118.5L174.0 119.1L175.1 119.7L176.2 120.4L177.2 121.0L178.3 121.6L179.4 122.3L180.5 122.9L181.5 123.6L182.6 124.2L183.7 124.9L184.7 125.5L185.8 126.2L186.9 126.8L187.9 127.5L189.0 128.2L190.1 128.8L191.1 129.5L192.2 130.2L193.3 130.8L194.4 131.5L195.4 132.2L196.5 132.9L197.6 133.6L198.6 134.2L199.7 134.9L200.8 135.6L201.8 136.3L202.9 137.0L204.0 137.7L205.1 138.4L206.1 139.1L207.2 139.7L208.3 140.4L209.3 141.1L210.4 141.8L211.5 142.5L212.5 143.2L213.6 143.9L214.7 144.6L215.7 145.3L216.8 146.1L217.9 146.8L219.0 147.5L220.0 148.2L221.1 148.9L222.2 149.6L223.2 150.3L224.3 151.0L225.4 151.7L226.4 152.4L227.5 153.2L228.6 153.9L229.6 154.6L230.7 155.3L231.8 156.0L232.9 156.7L233.9 157.5L235.0 158.2L236.1 158.9L237.1 159.6L238.2 160.3L239.3 161.1L240.3 161.8L241.4 162.5L242.5 163.2L243.6 164.0L244.6 164.7L245.7 165.4L246.8 166.1L247.8 166.9L248.9 167.6L250.0 168.3L251.0 169.0L252.1 169.8L253.2 170.5L254.2 171.2L255.3 171.9L256.4 172.7L257.5 173.4L258.5 174.1L259.6 174.9L260.7 175.6L261.7 176.3L262.8 177.0L263.9 177.8L264.9 178.5L266.0 179.2L267.1 180.0L268.2 180.7L269.2 181.4L270.3 182.1L271.4 182.9L272.4 183.6L273.5 184.3L274.6 185.1L275.6 185.8L276.7 186.5L277.8 187.3L278.8 188.0L279.9 188.7L281.0 189.5L282.1 190.2L283.1 190.9L284.2 191.7L285.3 192.4L286.3 193.1L287.4 193.9L288.5 194.6L289.5 195.3L290.6 196.0L291.7 196.8L292.8 197.5"/><path class="c" stroke="#f667b7" d="M78.8 66.2L79.9 66.8L81.0 67.4L82.1 68.0L83.1 68.6L84.2 69.2L85.3 69.7L86.3 70.3L87.4 70.8L88.5 71.4L89.5 72.0L90.6 72.5L91.7 73.0L92.8 73.6L93.8 74.1L94.9 74.7L96.0 75.2L97.0 75.7L98.1 76.2L99.2 76.8L100.2 77.3L101.3 77.8L102.4 78.3L103.4 78.8L104.5 79.4L105.6 79.9L106.7 80.4L107.7 80.9L108.8 81.4L109.9 81.9L110.9 82.4L112.0 82.9L113.1 83.5L114.1 84.0L115.2 84.5L116.3 85.0L117.4 85.5L118.4 86.0L119.5 86.5L120.6 87.1L121.6 87.6L122.7 88.1L123.8 88.6L124.8 89.2L125.9 89.7L127.0 90.2L128.0 90.7L129.1 91.3L130.2 91.8L131.3 92.3L132.3 92.9L133.4 93.4L134.5 94.0L135.5 94.5L136.6 95.1L137.7 95.6L138.7 96.2L139.8 96.7L140.9 97.3L142.0 97.8L143.0 98.4L144.1 99.0L145.2 99.6L146.2 100.1L147.3 100.7L148.4 101.3L149.4 101.9L150.5 102.5L151.6 103.1L152.6 103.7L153.7 104.3L154.8 104.9L155.9 105.5L156.9 106.1L158.0 106.7L159.1 107.3L160.1 107.9L161.2 108.5L162.3 109.2L163.3 109.8L164.4 110.4L165.5 111.1L166.5 111.7L167.6 112.3L168.7 113.0L169.8 113.6L170.8 114.3L171.9 114.9L173.0 115.6L174.0 116.2L175.1 116.9L176.2 117.5L177.2 118.2L178.3 118.9L179.4 119.5L180.5 120.2L181.5 120.9L182.6 121.5L183.7 122.2L184.7 122.9L185.8 123.6L186.9 124.2L187.9 124.9L189.0 125.6L190.1 126.3L191.1 127.0L192.2 127.7L193.3 128.4L194.4 129.1L195.4 129.8L196.5 130.5L197.6 131.2L198.6 131.9L199.7 132.6L200.8 133.3L201.8 134.0L202.9 134.7L204.0 135.4L205.1 136.1L206.1 136.8L207.2 137.5L208.3 138.2L209.3 138.9L210.4 139.6L211.5 140.3L212.5 141.0L213.6 141.8L214.7 142.5L215.7 143.2L216.8 143.9L217.9 144.6L219.0 145.3L220.0 146.1L221.1 146.8L222.2 147.5L223.2 148.2L224.3 148.9L225.4 149.7L226.4 150.4L227.5 151.1L228.6 151.8L229.6 152.6L230.7 153.3L231.8 154.0L232.9 154.7L233.9 155.5L235.0 156.2L236.1 156.9L237.1 157.6L238.2 158.4L239.3 159.1L240.3 159.8L241.4 160.5L242.5 161.3L243.6 162.0L244.6 162.7L245.7 163.5L246.8 164.2L247.8 164.9L248.9 165.6L250.0 166.4L251.0 167.1L252.1 167.8L253.2 168.6L254.2 169.3L255.3 170.0L256.4 170.8L257.5 171.5L258.5 172.2L259.6 173.0L260.7 173.7L261.7 174.4L262.8 175.1L263.9 175.9L264.9 176.6L266.0 177.3L267.1 178.1L268.2 178.8L269.2 179.5L270.3 180.3L271.4 181.0L272.4 181.7L273.5 182.5L274.6 183.2L275.6 183.9L276.7 184.7L277.8 185.4L278.8 186.1L279.9 186.9L281.0 187.6L282.1 188.3L283.1 189.1L284.2 189.8L285.3 190.5L286.3 191.3L287.4 192.0L288.5 192.7L289.5 193.5L290.6 194.2L291.7 194.9L292.8 195.7"/><path class="c" stroke="#9fa11b" d="M78.8 65.3L79.9 65.9L81.0 66.5L82.1 67.1L83.1 67.7L84.2 68.3L85.3 68.9L86.3 69.4L87.4 70.0L88.5 70.6L89.5 71.1L90.6 71.7L91.7 72.2L92.8 72.8L93.8 73.3L94.9 73.8L96.0 74.3L97.0 74.9L98.1 75.4L99.2 75.9L100.2 76.4L101.3 76.9L102.4 77.4L103.4 77.9L104.5 78.4L105.6 78.9L106.7 79.4L107.7 79.9L108.8 80.4L109.9 80.9L110.9 81.3L112.0 81.8L113.1 82.3L114.1 82.8L115.2 83.3L116.3 83.7L117.4 84.2L118.4 84.7L119.5 85.2L120.6 85.6L121.6 86.1L122.7 86.6L123.8 87.1L124.8 87.5L125.9 88.0L127.0 88.5L128.0 89.0L129.1 89.4L130.2 89.9L131.3 90.4L132.3 90.9L133.4 91.3L134.5 91.8L135.5 92.3L136.6 92.8L137.7 93.3L138.7 93.8L139.8 94.3L140.9 94.8L142.0 95.3L143.0 95.8L144.1 96.3L145.2 96.8L146.2 97.3L147.3 97.8L148.4 98.3L149.4 98.8L150.5 99.3L151.6 99.8L152.6 100.4L153.7 100.9L154.8 101.4L155.9 101.9L156.9 102.5L158.0 103.0L159.1 103.6L160.1 104.1L161.2 104.6L162.3 105.2L163.3 105.8L164.4 106.3L165.5 106.9L166.5 107.4L167.6 108.0L168.7 108.6L169.8 109.2L170.8 109.7L171.9 110.3L173.0 110.9L174.0 111.5L175.1 112.1L176.2 112.7L177.2 113.3L178.3 113.9L179.4 114.5L180.5 115.1L181.5 115.7L182.6 116.4L183.7 117.0L184.7 117.6L185.8 118.2L186.9 118.9L187.9 119.5L189.0 120.1L190.1 120.8L191.1 121.4L192.2 122.0L193.3 122.7L194.4 123.3L195.4 124.0L196.5 124.6L197.6 125.3L198.6 126.0L199.7 126.6L200.8 127.3L201.8 128.0L202.9 128.6L204.0 129.3L205.1 130.0L206.1 130.6L207.2 131.3L208.3 132.0L209.3 132.7L210.4 133.4L211.5 134.0L212.5 134.7L213.6 135.4L214.7 136.1L215.7 136.8L216.8 137.5L217.9 138.2L219.0 138.9L220.0 139.6L221.1 140.3L222.2 141.0L223.2 141.7L224.3 142.4L225.4 143.1L226.4 143.8L227.5 144.5L228.6 145.2L229.6 145.9L230.7 146.6L231.8 147.3L232.9 148.0L233.9 148.7L235.0 149.5L236.1 150.2L237.1 150.9L238.2 151.6L239.3 152.3L240.3 153.0L241.4 153.8L242.5 154.5L243.6 155.2L244.6 155.9L245.7 156.6L246.8 157.3L247.8 158.1L248.9 158.8L250.0 159.5L251.0 160.2L252.1 161.0L253.2 161.7L254.2 162.4L255.3 163.1L256.4 163.9L257.5 164.6L258.5 165.3L259.6 166.0L260.7 166.8L261.7 167.5L262.8 168.2L263.9 168.9L264.9 169.7L266.0 170.4L267.1 171.1L268.2 171.8L269.2 172.6L270.3 173.3L271.4 174.0L272.4 174.8L273.5 175.5L274.6 176.2L275.6 176.9L276.7 177.7L277.8 178.4L278.8 179.1L279.9 179.9L281.0 180.6L282.1 181.3L283.1 182.1L284.2 182.8L285.3 183.5L286.3 184.2L287.4 185.0L288.5 185.7L289.5 186.4L290.6 187.2L291.7 187.9L292.8 188.6"/><path class="c" stroke="#cc76f4" d="M78.8 64.7L79.9 65.3L81.0 66.0L82.1 66.6L83.1 67.2L84.2 67.8L85.3 68.4L86.3 69.0L87.4 69.6L88.5 70.2L89.5 70.8L90.6 71.3L91.7 71.9L92.8 72.5L93.8 73.0L94.9 73.6L96.0 74.1L97.0 74.7L98.1 75.2L99.2 75.7L100.2 76.3L101.3 76.8L102.4 77.3L103.4 77.8L104.5 78.3L105.6 78.8L106.7 79.4L107.7 79.9L108.8 80.4L109.9 80.9L110.9 81.4L112.0 81.8L113.1 82.3L114.1 82.8L115.2 83.3L116.3 83.8L117.4 84.3L118.4 84.8L119.5 85.2L120.6 85.7L121.6 86.2L122.7 86.7L123.8 87.1L124.8 87.6L125.9 88.1L127.0 88.6L128.0 89.0L129.1 89.5L130.2 90.0L131.3 90.4L132.3 90.9L133.4 91.4L134.5 91.9L135.5 92.3L136.6 92.8L137.7 93.3L138.7 93.7L139.8 94.2L140.9 94.7L142.0 95.2L143.0 95.7L144.1 96.1L145.2 96.6L146.2 97.1L147.3 97.6L148.4 98.1L149.4 98.6L150.5 99.0L151.6 99.5L152.6 100.0L153.7 100.5L154.8 101.0L155.9 101.5L156.9 102.0L158.0 102.5L159.1 103.0L160.1 103.6L161.2 104.1L162.3 104.6L163.3 105.1L164.4 105.6L165.5 106.1L166.5 106.7L167.6 107.2L168.7 107.7L169.8 108.3L170.8 108.8L171.9 109.4L173.0 109.9L174.0 110.5L175.1 111.0L176.2 111.6L177.2 112.1L178.3 112.7L179.4 113.3L180.5 113.8L181.5 114.4L182.6 115.0L183.7 115.6L184.7 116.2L185.8 116.7L186.9 117.3L187.9 117.9L189.0 118.5L190.1 119.1L191.1 119.7L192.2 120.3L193.3 120.9L194.4 121.6L195.4 122.2L196.5 122.8L197.6 123.4L198.6 124.0L199.7 124.7L200.8 125.3L201.8 125.9L202.9 126.6L204.0 127.2L205.1 127.9L206.1 128.5L207.2 129.2L208.3 129.8L209.3 130.5L210.4 131.1L211.5 131.8L212.5 132.4L213.6 133.1L214.7 133.8L215.7 134.4L216.8 135.1L217.9 135.8L219.0 136.4L220.0 137.1L221.1 137.8L222.2 138.5L223.2 139.2L224.3 139.8L225.4 140.5L226.4 141.2L227.5 141.9L228.6 142.6L229.6 143.3L230.7 144.0L231.8 144.7L232.9 145.4L233.9 146.1L235.0 146.8L236.1 147.5L237.1 148.2L238.2 148.9L239.3 149.6L240.3 150.3L241.4 151.0L242.5 151.7L243.6 152.4L244.6 153.1L245.7 153.8L246.8 154.5L247.8 155.2L248.9 155.9L250.0 156.6L251.0 157.4L252.1 158.1L253.2 158.8L254.2 159.5L255.3 160.2L256.4 160.9L257.5 161.7L258.5 162.4L259.6 163.1L260.7 163.8L261.7 164.5L262.8 165.3L263.9 166.0L264.9 166.7L266.0 167.4L267.1 168.1L268.2 168.9L269.2 169.6L270.3 170.3L271.4 171.0L272.4 171.8L273.5 172.5L274.6 173.2L275.6 173.9L276.7 174.7L277.8 175.4L278.8 176.1L279.9 176.8L281.0 177.6L282.1 178.3L283.1 179.0L284.2 179.8L285.3 180.5L286.3 181.2L287.4 181.9L288.5 182.7L289.5 183.4L290.6 184.1L291.7 184.9L292.8 185.6"/><path class="c" stroke="#1cb25c" d="M78.8 64.1L79.9 64.7L81.0 65.3L82.1 65.9L83.1 66.5L84.2 67.1L85.3 67.7L86.3 68.3L87.4 68.9L88.5 69.4L89.5 70.0L90.6 70.5L91.7 71.1L92.8 71.6L93.8 72.2L94.9 72.7L96.0 73.2L97.0 73.7L98.1 74.3L99.2 74.8L100.2 75.3L101.3 75.8L102.4 76.3L103.4 76.8L104.5 77.3L105.6 77.8L106.7 78.3L107.7 78.7L108.8 79.2L109.9 79.7L110.9 80.2L112.0 80.7L113.1 81.1L114.1 81.6L115.2 82.1L116.3 82.5L117.4 83.0L118.4 83.5L119.5 83.9L120.6 84.4L121.6 84.8L122.7 85.3L123.8 85.8L124.8 86.2L125.9 86.7L127.0 87.1L128.0 87.6L129.1 88.1L130.2 88.5L131.3 89.0L132.3 89.4L133.4 89.9L134.5 90.3L135.5 90.8L136.6 91.3L137.7 91.7L138.7 92.2L139.8 92.7L140.9 93.1L142.0 93.6L143.0 94.1L144.1 94.5L145.2 95.0L146.2 95.5L147.3 95.9L148.4 96.4L149.4 96.9L150.5 97.4L151.6 97.9L152.6 98.4L153.7 98.8L154.8 99.3L155.9 99.8L156.9 100.3L158.0 100.8L159.1 101.3L160.1 101.8L161.2 102.3L162.3 102.9L163.3 103.4L164.4 103.9L165.5 104.4L166.5 104.9L167.6 105.5L168.7 106.0L169.8 106.5L170.8 107.1L171.9 107.6L173.0 108.2L174.0 108.7L175.1 109.3L176.2 109.8L177.2 110.4L178.3 111.0L179.4 111.5L180.5 112.1L181.5 112.7L182.6 113.3L183.7 113.8L184.7 114.4L185.8 115.0L186.9 115.6L187.9 116.2L189.0 116.8L190.1 117.4L191.1 118.0L192.2 118.6L193.3 119.2L194.4 119.9L195.4 120.5L196.5 121.1L197.6 121.7L198.6 122.4L199.7 123.0L200.8 123.6L201.8 124.3L202.9 124.9L204.0 125.5L205.1 126.2L206.1 126.8L207.2 127.5L208.3 128.2L209.3 128.8L210.4 129.5L211.5 130.1L212.5 130.8L213.6 131.5L214.7 132.1L215.7 132.8L216.8 133.5L217.9 134.1L219.0 134.8L220.0 135.5L221.1 136.2L222.2 136.9L223.2 137.5L224.3 138.2L225.4 138.9L226.4 139.6L227.5 140.3L228.6 141.0L229.6 141.7L230.7 142.4L231.8 143.1L232.9 143.8L233.9 144.5L235.0 145.2L236.1 145.9L237.1 146.6L238.2 147.3L239.3 148.0L240.3 148.7L241.4 149.4L242.5 150.1L243.6 150.8L244.6 151.5L245.7 152.2L246.8 152.9L247.8 153.7L248.9 154.4L250.0 155.1L251.0 155.8L252.1 156.5L253.2 157.2L254.2 157.9L255.3 158.7L256.4 159.4L257.5 160.1L258.5 160.8L259.6 161.5L260.7 162.3L261.7 163.0L262.8 163.7L263.9 164.4L264.9 165.2L266.0 165.9L267.1 166.6L268.2 167.3L269.2 168.0L270.3 168.8L271.4 169.5L272.4 170.2L273.5 170.9L274.6 171.7L275.6 172.4L276.7 173.1L277.8 173.9L278.8 174.6L279.9 175.3L281.0 176.0L282.1 176.8L283.1 177.5L284.2 178.2L285.3 178.9L286.3 179.7L287.4 180.4L288.5 181.1L289.5 181.9L290.6 182.6L291.7 183.3L292.8 184.1"/><path class="c" stroke="#b283f4" d="M78.8 62.3L79.9 62.9L81.0 63.5L82.1 64.0L83.1 64.6L84.2 65.2L85.3 65.8L86.3 66.3L87.4 66.9L88.5 67.4L89.5 68.0L90.6 68.5L91.7 69.0L92.8 69.6L93.8 70.1L94.9 70.6L96.0 71.1L97.0 71.6L98.1 72.1L99.2 72.6L100.2 73.1L101.3 73.6L102.4 74.0L103.4 74.5L104.5 75.0L105.6 75.5L106.7 75.9L107.7 76.4L108.8 76.9L109.9 77.3L110.9 77.8L112.0 78.2L113.1 78.7L114.1 79.1L115.2 79.6L116.3 80.0L117.4 80.4L118.4 80.9L119.5 81.3L120.6 81.7L121.6 82.2L122.7 82.6L123.8 83.0L124.8 83.5L125.9 83.9L127.0 84.3L128.0 84.8L129.1 85.2L130.2 85.6L131.3 86.1L132.3 86.5L133.4 86.9L134.5 87.4L135.5 87.8L136.6 88.2L137.7 88.7L138.7 89.1L139.8 89.5L140.9 90.0L142.0 90.4L143.0 90.8L144.1 91.3L145.2 91.7L146.2 92.2L147.3 92.6L148.4 93.1L149.4 93.5L150.5 94.0L151.6 94.4L152.6 94.9L153.7 95.4L154.8 95.8L155.9 96.3L156.9 96.8L158.0 97.3L159.1 97.7L160.1 98.2L161.2 98.7L162.3 99.2L163.3 99.7L164.4 100.2L165.5 100.7L166.5 101.2L167.6 101.7L168.7 102.2L169.8 102.7L170.8 103.2L171.9 103.7L173.0 104.2L174.0 104.8L175.1 105.3L176.2 105.8L177.2 106.4L178.3 106.9L179.4 107.5L180.5 108.0L181.5 108.6L182.6 109.1L183.7 109.7L184.7 110.3L185.8 110.8L186.9 111.4L187.9 112.0L189.0 112.6L190.1 113.1L191.1 113.7L192.2 114.3L193.3 114.9L194.4 115.5L195.4 116.1L196.5 116.7L197.6 117.3L198.6 118.0L199.7 118.6L200.8 119.2L201.8 119.8L202.9 120.4L204.0 121.1L205.1 121.7L206.1 122.3L207.2 123.0L208.3 123.6L209.3 124.3L210.4 124.9L211.5 125.6L212.5 126.2L213.6 126.9L214.7 127.5L215.7 128.2L216.8 128.8L217.9 129.5L219.0 130.2L220.0 130.8L221.1 131.5L222.2 132.2L223.2 132.9L224.3 133.5L225.4 134.2L226.4 134.9L227.5 135.6L228.6 136.3L229.6 137.0L230.7 137.6L231.8 138.3L232.9 139.0L233.9 139.7L235.0 140.4L236.1 141.1L237.1 141.8L238.2 142.5L239.3 143.2L240.3 143.9L241.4 144.6L242.5 145.3L243.6 146.0L244.6 146.7L245.7 147.4L246.8 148.1L247.8 148.8L248.9 149.6L250.0 150.3L251.0 151.0L252.1 151.7L253.2 152.4L254.2 153.1L255.3 153.8L256.4 154.5L257.5 155.3L258.5 156.0L259.6 156.7L260.7 157.4L261.7 158.1L262.8 158.9L263.9 159.6L264.9 160.3L266.0 161.0L267.1 161.7L268.2 162.5L269.2 163.2L270.3 163.9L271.4 164.6L272.4 165.3L273.5 166.1L274.6 166.8L275.6 167.5L276.7 168.2L277.8 169.0L278.8 169.7L279.9 170.4L281.0 171.2L282.1 171.9L283.1 172.6L284.2 173.3L285.3 174.1L286.3 174.8L287.4 175.5L288.5 176.2L289.5 177.0L290.6 177.7L291.7 178.4L292.8 179.2"/><path class="c" stroke="#ae9d1b" d="M78.8 61.0L79.9 61.7L81.0 62.3L82.1 62.9L83.1 63.5L84.2 64.1L85.3 64.7L86.3 65.3L87.4 65.9L88.5 66.5L89.5 67.1L90.6 67.6L91.7 68.2L92.8 68.7L93.8 69.3L94.9 69.8L96.0 70.3L97.0 70.8L98.1 71.4L99.2 71.9L100.2 72.4L101.3 72.9L102.4 73.4L103.4 73.9L104.5 74.4L105.6 74.9L106.7 75.3L107.7 75.8L108.8 76.3L109.9 76.8L110.9 77.2L112.0 77.7L113.1 78.2L114.1 78.6L115.2 79.1L116.3 79.5L117.4 80.0L118.4 80.4L119.5 80.9L120.6 81.3L121.6 81.8L122.7 82.2L123.8 82.6L124.8 83.1L125.9 83.5L127.0 83.9L128.0 84.4L129.1 84.8L130.2 85.2L131.3 85.7L132.3 86.1L133.4 86.5L134.5 87.0L135.5 87.4L136.6 87.8L137.7 88.3L138.7 88.7L139.8 89.1L140.9 89.6L142.0 90.0L143.0 90.4L144.1 90.9L145.2 91.3L146.2 91.8L147.3 92.2L148.4 92.6L149.4 93.1L150.5 93.5L151.6 94.0L152.6 94.4L153.7 94.9L154.8 95.3L155.9 95.8L156.9 96.3L158.0 96.7L159.1 97.2L160.1 97.6L161.2 98.1L162.3 98.6L163.3 99.1L164.4 99.5L165.5 100.0L166.5 100.5L167.6 101.0L168.7 101.5L169.8 102.0L170.8 102.5L171.9 103.0L173.0 103.5L174.0 104.0L175.1 104.5L176.2 105.0L177.2 105.6L178.3 106.1L179.4 106.6L180.5 107.1L181.5 107.7L182.6 108.2L183.7 108.8L184.7 109.3L185.8 109.9L186.9 110.4L187.9 111.0L189.0 111.5L190.1 112.1L191.1 112.7L192.2 113.2L193.3 113.8L194.4 114.4L195.4 115.0L196.5 115.6L197.6 116.2L198.6 116.8L199.7 117.4L200.8 118.0L201.8 118.6L202.9 119.2L204.0 119.8L205.1 120.4L206.1 121.0L207.2 121.6L208.3 122.3L209.3 122.9L210.4 123.5L211.5 124.2L212.5 124.8L213.6 125.4L214.7 126.1L215.7 126.7L216.8 127.4L217.9 128.0L219.0 128.7L220.0 129.4L221.1 130.0L222.2 130.7L223.2 131.3L224.3 132.0L225.4 132.7L226.4 133.3L227.5 134.0L228.6 134.7L229.6 135.4L230.7 136.0L231.8 136.7L232.9 137.4L233.9 138.1L235.0 138.8L236.1 139.5L237.1 140.2L238.2 140.8L239.3 141.5L240.3 142.2L241.4 142.9L242.5 143.6L243.6 144.3L244.6 145.0L245.7 145.7L246.8 146.4L247.8 147.1L248.9 147.8L250.0 148.5L251.0 149.2L252.1 150.0L253.2 150.7L254.2 151.4L255.3 152.1L256.4 152.8L257.5 153.5L258.5 154.2L259.6 154.9L260.7 155.6L261.7 156.4L262.8 157.1L263.9 157.8L264.9 158.5L266.0 159.2L267.1 159.9L268.2 160.7L269.2 161.4L270.3 162.1L271.4 162.8L272.4 163.5L273.5 164.3L274.6 165.0L275.6 165.7L276.7 166.4L277.8 167.2L278.8 167.9L279.9 168.6L281.0 169.3L282.1 170.1L283.1 170.8L284.2 171.5L285.3 172.2L286.3 173.0L287.4 173.7L288.5 174.4L289.5 175.1L290.6 175.9L291.7 176.6L292.8 177.3"/><path class="c" stroke="#1fa7d5" d="M78.8 60.1L79.9 60.5L81.0 61.0L82.1 61.4L83.1 61.8L84.2 62.2L85.3 62.6L86.3 63.0L87.4 63.4L88.5 63.8L89.5 64.2L90.6 64.6L91.7 65.0L92.8 65.3L93.8 65.7L94.9 66.1L96.0 66.5L97.0 66.8L98.1 67.2L99.2 67.6L100.2 67.9L101.3 68.3L102.4 68.6L103.4 69.0L104.5 69.4L105.6 69.7L106.7 70.1L107.7 70.4L108.8 70.8L109.9 71.1L110.9 71.5L112.0 71.8L113.1 72.2L114.1 72.5L115.2 72.9L116.3 73.2L117.4 73.6L118.4 73.9L119.5 74.2L120.6 74.6L121.6 74.9L122.7 75.3L123.8 75.6L124.8 76.0L125.9 76.3L127.0 76.7L128.0 77.1L129.1 77.4L130.2 77.8L131.3 78.1L132.3 78.5L133.4 78.8L134.5 79.2L135.5 79.6L136.6 79.9L137.7 80.3L138.7 80.7L139.8 81.1L140.9 81.5L142.0 81.8L143.0 82.2L144.1 82.6L145.2 83.0L146.2 83.4L147.3 83.8L148.4 84.2L149.4 84.6L150.5 85.0L151.6 85.4L152.6 85.9L153.7 86.3L154.8 86.7L155.9 87.1L156.9 87.6L158.0 88.0L159.1 88.5L160.1 88.9L161.2 89.4L162.3 89.8L163.3 90.3L164.4 90.8L165.5 91.2L166.5 91.7L167.6 92.2L168.7 92.7L169.8 93.2L170.8 93.7L171.9 94.2L173.0 94.7L174.0 95.2L175.1 95.7L176.2 96.2L177.2 96.8L178.3 97.3L179.4 97.8L180.5 98.4L181.5 98.9L182.6 99.5L183.7 100.0L184.7 100.6L185.8 101.1L186.9 101.7L187.9 102.3L189.0 102.8L190.1 103.4L191.1 104.0L192.2 104.6L193.3 105.2L194.4 105.8L195.4 106.4L196.5 107.0L197.6 107.6L198.6 108.2L199.7 108.8L200.8 109.5L201.8 110.1L202.9 110.7L204.0 111.3L205.1 112.0L206.1 112.6L207.2 113.3L208.3 113.9L209.3 114.6L210.4 115.2L211.5 115.9L212.5 116.5L213.6 117.2L214.7 117.8L215.7 118.5L216.8 119.2L217.9 119.8L219.0 120.5L220.0 121.2L221.1 121.9L222.2 122.5L223.2 123.2L224.3 123.9L225.4 124.6L226.4 125.3L227.5 126.0L228.6 126.6L229.6 127.3L230.7 128.0L231.8 128.7L232.9 129.4L233.9 130.1L235.0 130.8L236.1 131.5L237.1 132.2L238.2 132.9L239.3 133.6L240.3 134.3L241.4 135.0L242.5 135.8L243.6 136.5L244.6 137.2L245.7 137.9L246.8 138.6L247.8 139.3L248.9 140.0L250.0 140.7L251.0 141.5L252.1 142.2L253.2 142.9L254.2 143.6L255.3 144.3L256.4 145.1L257.5 145.8L258.5 146.5L259.6 147.2L260.7 147.9L261.7 148.7L262.8 149.4L263.9 150.1L264.9 150.8L266.0 151.6L267.1 152.3L268.2 153.0L269.2 153.7L270.3 154.5L271.4 155.2L272.4 155.9L273.5 156.7L274.6 157.4L275.6 158.1L276.7 158.8L277.8 159.6L278.8 160.3L279.9 161.0L281.0 161.8L282.1 162.5L283.1 163.2L284.2 163.9L285.3 164.7L286.3 165.4L287.4 166.1L288.5 166.9L289.5 167.6L290.6 168.3L291.7 169.1L292.8 169.8"/><path class="c" stroke="#77ab1b" d="M78.8 57.3L79.9 57.6L81.0 58.0L82.1 58.3L83.1 58.6L84.2 58.9L85.3 59.2L86.3 59.6L87.4 59.9L88.5 60.2L89.5 60.5L90.6 60.9L91.7 61.2L92.8 61.5L93.8 61.8L94.9 62.1L96.0 62.5L97.0 62.8L98.1 63.1L99.2 63.4L100.2 63.8L101.3 64.1L102.4 64.4L103.4 64.8L104.5 65.1L105.6 65.4L106.7 65.7L107.7 66.1L108.8 66.4L109.9 66.7L110.9 67.1L112.0 67.4L113.1 67.7L114.1 68.1L115.2 68.4L116.3 68.7L117.4 69.1L118.4 69.4L119.5 69.8L120.6 70.1L121.6 70.4L122.7 70.8L123.8 71.1L124.8 71.5L125.9 71.8L127.0 72.2L128.0 72.5L129.1 72.9L130.2 73.2L131.3 73.6L132.3 73.9L133.4 74.3L134.5 74.7L135.5 75.0L136.6 75.4L137.7 75.7L138.7 76.1L139.8 76.5L140.9 76.9L142.0 77.2L143.0 77.6L144.1 78.0L145.2 78.4L146.2 78.7L147.3 79.1L148.4 79.5L149.4 79.9L150.5 80.3L151.6 80.7L152.6 81.1L153.7 81.5L154.8 81.9L155.9 82.3L156.9 82.7L158.0 83.2L159.1 83.6L160.1 84.0L161.2 84.4L162.3 84.9L163.3 85.3L164.4 85.7L165.5 86.2L166.5 86.6L167.6 87.1L168.7 87.5L169.8 88.0L170.8 88.4L171.9 88.9L173.0 89.4L174.0 89.9L175.1 90.3L176.2 90.8L177.2 91.3L178.3 91.8L179.4 92.3L180.5 92.8L181.5 93.3L182.6 93.8L183.7 94.3L184.7 94.9L185.8 95.4L186.9 95.9L187.9 96.4L189.0 97.0L190.1 97.5L191.1 98.1L192.2 98.6L193.3 99.2L194.4 99.8L195.4 100.3L196.5 100.9L197.6 101.5L198.6 102.0L199.7 102.6L200.8 103.2L201.8 103.8L202.9 104.4L204.0 105.0L205.1 105.6L206.1 106.2L207.2 106.8L208.3 107.4L209.3 108.1L210.4 108.7L211.5 109.3L212.5 109.9L213.6 110.6L214.7 111.2L215.7 111.8L216.8 112.5L217.9 113.1L219.0 113.8L220.0 114.4L221.1 115.1L222.2 115.7L223.2 116.4L224.3 117.1L225.4 117.7L226.4 118.4L227.5 119.1L228.6 119.7L229.6 120.4L230.7 121.1L231.8 121.8L232.9 122.4L233.9 123.1L235.0 123.8L236.1 124.5L237.1 125.2L238.2 125.9L239.3 126.6L240.3 127.2L241.4 127.9L242.5 128.6L243.6 129.3L244.6 130.0L245.7 130.7L246.8 131.4L247.8 132.1L248.9 132.8L250.0 133.5L251.0 134.2L252.1 134.9L253.2 135.6L254.2 136.4L255.3 137.1L256.4 137.8L257.5 138.5L258.5 139.2L259.6 139.9L260.7 140.6L261.7 141.3L262.8 142.0L263.9 142.8L264.9 143.5L266.0 144.2L267.1 144.9L268.2 145.6L269.2 146.3L270.3 147.1L271.4 147.8L272.4 148.5L273.5 149.2L274.6 149.9L275.6 150.7L276.7 151.4L277.8 152.1L278.8 152.8L279.9 153.5L281.0 154.3L282.1 155.0L283.1 155.7L284.2 156.4L285.3 157.2L286.3 157.9L287.4 158.6L288.5 159.3L289.5 160.0L290.6 160.8L291.7 161.5L292.8 162.2"/><path class="c" stroke="#50b11b" d="M78.8 53.9L79.9 54.2L81.0 54.5L82.1 54.8L83.1 55.1L84.2 55.4L85.3 55.7L86.3 56.0L87.4 56.3L88.5 56.6L89.5 56.9L90.6 57.2L91.7 57.5L92.8 57.8L93.8 58.1L94.9 58.4L96.0 58.7L97.0 59.0L98.1 59.2L99.2 59.5L100.2 59.8L101.3 60.1L102.4 60.4L103.4 60.7L104.5 61.0L105.6 61.3L106.7 61.6L107.7 61.9L108.8 62.2L109.9 62.5L110.9 62.8L112.0 63.1L113.1 63.4L114.1 63.7L115.2 64.0L116.3 64.3L117.4 64.6L118.4 64.9L119.5 65.2L120.6 65.5L121.6 65.8L122.7 66.1L123.8 66.4L124.8 66.7L125.9 67.0L127.0 67.3L128.0 67.7L129.1 68.0L130.2 68.3L131.3 68.6L132.3 68.9L133.4 69.2L134.5 69.5L135.5 69.8L136.6 70.1L137.7 70.5L138.7 70.8L139.8 71.1L140.9 71.4L142.0 71.7L143.0 72.1L144.1 72.4L145.2 72.7L146.2 73.0L147.3 73.4L148.4 73.7L149.4 74.0L150.5 74.4L151.6 74.7L152.6 75.0L153.7 75.4L154.8 75.7L155.9 76.1L156.9 76.4L158.0 76.8L159.1 77.1L160.1 77.5L161.2 77.8L162.3 78.2L163.3 78.6L164.4 79.0L165.5 79.3L166.5 79.7L167.6 80.1L168.7 80.5L169.8 80.9L170.8 81.3L171.9 81.7L173.0 82.1L174.0 82.5L175.1 82.9L176.2 83.3L177.2 83.8L178.3 84.2L179.4 84.6L180.5 85.1L181.5 85.5L182.6 86.0L183.7 86.4L184.7 86.9L185.8 87.4L186.9 87.9L187.9 88.4L189.0 88.8L190.1 89.3L191.1 89.9L192.2 90.4L193.3 90.9L194.4 91.4L195.4 91.9L196.5 92.5L197.6 93.0L198.6 93.6L199.7 94.1L200.8 94.7L201.8 95.3L202.9 95.9L204.0 96.4L205.1 97.0L206.1 97.6L207.2 98.2L208.3 98.8L209.3 99.4L210.4 100.1L211.5 100.7L212.5 101.3L213.6 102.0L214.7 102.6L215.7 103.2L216.8 103.9L217.9 104.5L219.0 105.2L220.0 105.9L221.1 106.5L222.2 107.2L223.2 107.9L224.3 108.5L225.4 109.2L226.4 109.9L227.5 110.6L228.6 111.3L229.6 112.0L230.7 112.7L231.8 113.4L232.9 114.1L233.9 114.8L235.0 115.5L236.1 116.2L237.1 116.9L238.2 117.6L239.3 118.4L240.3 119.1L241.4 119.8L242.5 120.5L243.6 121.2L244.6 122.0L245.7 122.7L246.8 123.4L247.8 124.2L248.9 124.9L250.0 125.6L251.0 126.4L252.1 127.1L253.2 127.8L254.2 128.6L255.3 129.3L256.4 130.0L257.5 130.8L258.5 131.5L259.6 132.3L260.7 133.0L261.7 133.8L262.8 134.5L263.9 135.2L264.9 136.0L266.0 136.7L267.1 137.5L268.2 138.2L269.2 139.0L270.3 139.7L271.4 140.5L272.4 141.2L273.5 142.0L274.6 142.7L275.6 143.5L276.7 144.2L277.8 145.0L278.8 145.7L279.9 146.5L281.0 147.2L282.1 148.0L283.1 148.7L284.2 149.5L285.3 150.2L286.3 151.0L287.4 151.7L288.5 152.5L289.5 153.2L290.6 154.0L291.7 154.7L292.8 155.5"/><path class="c" stroke="#f562cc" d="M78.8 58.5L79.9 58.8L81.0 59.1L82.1 59.3L83.1 59.6L84.2 59.9L85.3 60.2L86.3 60.5L87.4 60.8L88.5 61.1L89.5 61.4L90.6 61.6L91.7 61.9L92.8 62.2L93.8 62.5L94.9 62.8L96.0 63.1L97.0 63.4L98.1 63.7L99.2 64.0L100.2 64.3L101.3 64.5L102.4 64.8L103.4 65.1L104.5 65.4L105.6 65.7L106.7 66.0L107.7 66.3L108.8 66.6L109.9 66.9L110.9 67.2L112.0 67.5L113.1 67.7L114.1 68.0L115.2 68.3L116.3 68.6L117.4 68.9L118.4 69.2L119.5 69.5L120.6 69.8L121.6 70.1L122.7 70.4L123.8 70.7L124.8 71.0L125.9 71.3L127.0 71.6L128.0 71.9L129.1 72.2L130.2 72.5L131.3 72.8L132.3 73.1L133.4 73.4L134.5 73.7L135.5 74.0L136.6 74.3L137.7 74.6L138.7 74.9L139.8 75.2L140.9 75.5L142.0 75.8L143.0 76.1L144.1 76.5L145.2 76.8L146.2 77.1L147.3 77.4L148.4 77.7L149.4 78.0L150.5 78.3L151.6 78.7L152.6 79.0L153.7 79.3L154.8 79.6L155.9 80.0L156.9 80.3L158.0 80.6L159.1 81.0L160.1 81.3L161.2 81.6L162.3 82.0L163.3 82.3L164.4 82.7L165.5 83.0L166.5 83.4L167.6 83.7L168.7 84.1L169.8 84.4L170.8 84.8L171.9 85.2L173.0 85.5L174.0 85.9L175.1 86.3L176.2 86.7L177.2 87.1L178.3 87.5L179.4 87.8L180.5 88.2L181.5 88.6L182.6 89.1L183.7 89.5L184.7 89.9L185.8 90.3L186.9 90.7L187.9 91.2L189.0 91.6L190.1 92.0L191.1 92.5L192.2 92.9L193.3 93.4L194.4 93.8L195.4 94.3L196.5 94.8L197.6 95.3L198.6 95.7L199.7 96.2L200.8 96.7L201.8 97.2L202.9 97.7L204.0 98.2L205.1 98.8L206.1 99.3L207.2 99.8L208.3 100.4L209.3 100.9L210.4 101.4L211.5 102.0L212.5 102.5L213.6 103.1L214.7 103.7L215.7 104.2L216.8 104.8L217.9 105.4L219.0 106.0L220.0 106.6L221.1 107.2L222.2 107.8L223.2 108.4L224.3 109.0L225.4 109.6L226.4 110.2L227.5 110.9L228.6 111.5L229.6 112.1L230.7 112.8L231.8 113.4L232.9 114.0L233.9 114.7L235.0 115.3L236.1 116.0L237.1 116.6L238.2 117.3L239.3 118.0L240.3 118.6L241.4 119.3L242.5 120.0L243.6 120.6L244.6 121.3L245.7 122.0L246.8 122.7L247.8 123.3L248.9 124.0L250.0 124.7L251.0 125.4L252.1 126.1L253.2 126.8L254.2 127.5L255.3 128.2L256.4 128.9L257.5 129.6L258.5 130.2L259.6 130.9L260.7 131.6L261.7 132.3L262.8 133.1L263.9 133.8L264.9 134.5L266.0 135.2L267.1 135.9L268.2 136.6L269.2 137.3L270.3 138.0L271.4 138.7L272.4 139.4L273.5 140.1L274.6 140.8L275.6 141.6L276.7 142.3L277.8 143.0L278.8 143.7L279.9 144.4L281.0 145.1L282.1 145.9L283.1 146.6L284.2 147.3L285.3 148.0L286.3 148.7L287.4 149.4L288.5 150.2L289.5 150.9L290.6 151.6L291.7 152.3L292.8 153.0"/><path class="dash" d="M78.8 67.8L292.8 144.1"/></g>
<path d="M121.80 202.5v-3.2M121.80 49.7v3.2M164.55 202.5v-3.2M164.55 49.7v3.2M207.30 202.5v-3.2M207.30 49.7v3.2M250.05 202.5v-3.2M250.05 49.7v3.2M79.05 68.10h3.2M292.80 68.10h-3.2M79.05 98.66h3.2M292.80 98.66h-3.2M79.05 129.22h3.2M292.80 129.22h-3.2M79.05 159.78h3.2M292.80 159.78h-3.2M79.05 190.34h3.2M292.80 190.34h-3.2" class="tick"/>
<rect x="79.05" y="49.7" width="213.75" height="152.8" class="frame"/>
<text transform="matrix(0.4676 0 0 0.4561 74.22 220.44)" font-size="40" style="">0</text>
<text transform="matrix(0.4458 0 0 0.4561 108.22 220.44)" font-size="40" style="">200</text>
<text transform="matrix(0.4381 0 0 0.4561 151.42 220.44)" font-size="40" style="">400</text>
<text transform="matrix(0.4458 0 0 0.4561 193.72 220.44)" font-size="40" style="">600</text>
<text transform="matrix(0.4439 0 0 0.4561 236.58 220.44)" font-size="40" style="">800</text>
<text transform="matrix(0.4320 0 0 0.4561 274.64 220.44)" font-size="40" style="">1000</text>
<text transform="matrix(0.4571 0 0 0.4411 51.80 76.44)" font-size="40" style="">10</text>
<text transform="matrix(0.3000 0 0 0.3327 69.65 67.17)" font-size="40" style="">0</text>
<text transform="matrix(0.4629 0 0 0.4411 41.48 107.00)" font-size="40" style="">10</text>
<text transform="matrix(0.4105 0 0 0.3390 58.68 97.81)" font-size="40" style="">−1</text>
<text transform="matrix(0.4629 0 0 0.4411 41.48 137.56)" font-size="40" style="">10</text>
<text transform="matrix(0.4105 0 0 0.3358 58.68 128.37)" font-size="40" style="">−2</text>
<text transform="matrix(0.4629 0 0 0.4411 41.48 168.12)" font-size="40" style="">10</text>
<text transform="matrix(0.4026 0 0 0.3327 58.69 158.85)" font-size="40" style="">−3</text>
<text transform="matrix(0.4629 0 0 0.4411 41.48 198.68)" font-size="40" style="">10</text>
<text transform="matrix(0.3925 0 0 0.3390 58.72 189.49)" font-size="40" style="">−4</text>
<text transform="matrix(0.5529 0 0 0.5838 194.11 251.70)" font-size="40" style="font-style:italic;stroke:none;">k</text>
<g transform="rotate(-90)"><text transform="matrix(0.5043 0 0 0.5410 -189.55 28.80)" font-size="40" style="font-style:italic;stroke:none;">D</text><text transform="matrix(0.4141 0 0 0.4381 -174.62 32.10)" font-size="40" style="">KL</text><text transform="matrix(0.4341 0 0 0.5666 -149.16 28.68)" font-size="40" style="">(</text><text transform="matrix(0.5307 0 0 0.5204 -142.31 28.64)" font-size="40" style="font-style:italic;stroke:none;">d</text><text transform="matrix(0.4100 0 0 0.4912 -132.25 23.75)" font-size="40" style="">⋆</text><text transform="matrix(0.3333 0 0 0.6200 -120.60 28.98)" font-size="40" style="">,</text><text transform="matrix(0.5333 0 0 0.5204 -112.37 28.64)" font-size="40" style="font-style:italic;stroke:none;">d</text><text transform="matrix(0.3940 0 0 0.2637 -101.49 32.18)" font-size="40" style="font-style:italic;stroke:none;">θ</text><text transform="matrix(0.3382 0 0 0.2685 -93.07 34.80)" font-size="40" style="font-style:italic;stroke:none;">k</text><text transform="matrix(0.4780 0 0 0.5666 -83.50 28.68)" font-size="40" style="">)</text></g>
</g>
<g transform="translate(330.1,220.1)">
<path d="M121.80 49.7V202.5M164.55 49.7V202.5M207.30 49.7V202.5M250.05 49.7V202.5M79.05 68.10H292.80M79.05 98.66H292.80M79.05 129.22H292.80M79.05 159.78H292.80M79.05 190.34H292.80" class="grid"/>
<g clip-path="url(#clip)"><path class="c" stroke="#9fa11b" d="M78.8 50.0L79.9 50.2L81.0 50.5L82.1 50.7L83.1 50.9L84.2 51.2L85.3 51.4L86.3 51.7L87.4 51.9L88.5 52.2L89.5 52.4L90.6 52.6L91.7 52.9L92.8 53.1L93.8 53.4L94.9 53.6L96.0 53.8L97.0 54.1L98.1 54.3L99.2 54.5L100.2 54.8L101.3 55.0L102.4 55.2L103.4 55.4L104.5 55.7L105.6 55.9L106.7 56.1L107.7 56.3L108.8 56.5L109.9 56.7L110.9 56.9L112.0 57.2L113.1 57.4L114.1 57.6L115.2 57.8L116.3 58.0L117.4 58.2L118.4 58.4L119.5 58.6L120.6 58.9L121.6 59.1L122.7 59.3L123.8 59.5L124.8 59.7L125.9 60.0L127.0 60.2L128.0 60.4L129.1 60.7L130.2 60.9L131.3 61.1L132.3 61.4L133.4 61.6L134.5 61.9L135.5 62.1L136.6 62.4L137.7 62.6L138.7 62.9L139.8 63.2L140.9 63.4L142.0 63.7L143.0 64.0L144.1 64.3L145.2 64.5L146.2 64.8L147.3 65.1L148.4 65.4L149.4 65.8L150.5 66.1L151.6 66.4L152.6 66.7L153.7 67.0L154.8 67.4L155.9 67.7L156.9 68.1L158.0 68.4L159.1 68.8L160.1 69.2L161.2 69.5L162.3 69.9L163.3 70.3L164.4 70.7L165.5 71.1L166.5 71.5L167.6 71.9L168.7 72.3L169.8 72.8L170.8 73.2L171.9 73.7L173.0 74.1L174.0 74.6L175.1 75.0L176.2 75.5L177.2 76.0L178.3 76.5L179.4 77.0L180.5 77.5L181.5 78.0L182.6 78.6L183.7 79.1L184.7 79.6L185.8 80.2L186.9 80.7L187.9 81.3L189.0 81.8L190.1 82.4L191.1 83.0L192.2 83.6L193.3 84.2L194.4 84.8L195.4 85.4L196.5 86.0L197.6 86.6L198.6 87.2L199.7 87.9L200.8 88.5L201.8 89.1L202.9 89.8L204.0 90.4L205.1 91.1L206.1 91.8L207.2 92.4L208.3 93.1L209.3 93.8L210.4 94.4L211.5 95.1L212.5 95.8L213.6 96.5L214.7 97.2L215.7 97.9L216.8 98.5L217.9 99.2L219.0 99.9L220.0 100.6L221.1 101.3L222.2 102.1L223.2 102.8L224.3 103.5L225.4 104.2L226.4 104.9L227.5 105.6L228.6 106.3L229.6 107.0L230.7 107.8L231.8 108.5L232.9 109.2L233.9 109.9L235.0 110.6L236.1 111.4L237.1 112.1L238.2 112.8L239.3 113.5L240.3 114.3L241.4 115.0L242.5 115.7L243.6 116.5L244.6 117.2L245.7 117.9L246.8 118.7L247.8 119.4L248.9 120.1L250.0 120.9L251.0 121.6L252.1 122.3L253.2 123.1L254.2 123.8L255.3 124.5L256.4 125.3L257.5 126.0L258.5 126.7L259.6 127.5L260.7 128.2L261.7 128.9L262.8 129.7L263.9 130.4L264.9 131.2L266.0 131.9L267.1 132.6L268.2 133.4L269.2 134.1L270.3 134.8L271.4 135.6L272.4 136.3L273.5 137.1L274.6 137.8L275.6 138.5L276.7 139.3L277.8 140.0L278.8 140.8L279.9 141.5L281.0 142.2L282.1 143.0L283.1 143.7L284.2 144.4L285.3 145.2L286.3 145.9L287.4 146.7L288.5 147.4L289.5 148.1L290.6 148.9L291.7 149.6L292.8 150.4"/><path class="c" stroke="#1eada4" d="M78.8 52.4L79.9 52.7L81.0 52.9L82.1 53.2L83.1 53.5L84.2 53.8L85.3 54.1L86.3 54.4L87.4 54.6L88.5 54.9L89.5 55.2L90.6 55.5L91.7 55.8L92.8 56.1L93.8 56.4L94.9 56.7L96.0 57.0L97.0 57.3L98.1 57.5L99.2 57.8L100.2 58.1L101.3 58.4L102.4 58.7L103.4 59.0L104.5 59.3L105.6 59.6L106.7 59.8L107.7 60.1L108.8 60.4L109.9 60.7L110.9 61.0L112.0 61.3L113.1 61.6L114.1 61.9L115.2 62.2L116.3 62.5L117.4 62.8L118.4 63.1L119.5 63.5L120.6 63.8L121.6 64.1L122.7 64.4L123.8 64.8L124.8 65.1L125.9 65.5L127.0 65.8L128.0 66.2L129.1 66.5L130.2 66.9L131.3 67.3L132.3 67.6L133.4 68.0L134.5 68.4L135.5 68.8L136.6 69.2L137.7 69.6L138.7 70.1L139.8 70.5L140.9 70.9L142.0 71.4L143.0 71.8L144.1 72.3L145.2 72.7L146.2 73.2L147.3 73.7L148.4 74.1L149.4 74.6L150.5 75.1L151.6 75.6L152.6 76.2L153.7 76.7L154.8 77.2L155.9 77.8L156.9 78.3L158.0 78.8L159.1 79.4L160.1 80.0L161.2 80.5L162.3 81.1L163.3 81.7L164.4 82.3L165.5 82.9L166.5 83.5L167.6 84.1L168.7 84.7L169.8 85.4L170.8 86.0L171.9 86.6L173.0 87.3L174.0 87.9L175.1 88.6L176.2 89.2L177.2 89.9L178.3 90.5L179.4 91.2L180.5 91.9L181.5 92.5L182.6 93.2L183.7 93.9L184.7 94.6L185.8 95.3L186.9 96.0L187.9 96.7L189.0 97.4L190.1 98.1L191.1 98.8L192.2 99.5L193.3 100.2L194.4 100.9L195.4 101.6L196.5 102.3L197.6 103.0L198.6 103.7L199.7 104.4L200.8 105.1L201.8 105.9L202.9 106.6L204.0 107.3L205.1 108.0L206.1 108.7L207.2 109.5L208.3 110.2L209.3 110.9L210.4 111.6L211.5 112.4L212.5 113.1L213.6 113.8L214.7 114.6L215.7 115.3L216.8 116.0L217.9 116.8L219.0 117.5L220.0 118.2L221.1 119.0L222.2 119.7L223.2 120.4L224.3 121.2L225.4 121.9L226.4 122.6L227.5 123.4L228.6 124.1L229.6 124.8L230.7 125.6L231.8 126.3L232.9 127.0L233.9 127.8L235.0 128.5L236.1 129.3L237.1 130.0L238.2 130.7L239.3 131.5L240.3 132.2L241.4 132.9L242.5 133.7L243.6 134.4L244.6 135.2L245.7 135.9L246.8 136.6L247.8 137.4L248.9 138.1L250.0 138.9L251.0 139.6L252.1 140.3L253.2 141.1L254.2 141.8L255.3 142.5L256.4 143.3L257.5 144.0L258.5 144.8L259.6 145.5L260.7 146.2L261.7 147.0L262.8 147.7L263.9 148.5L264.9 149.2L266.0 149.9L267.1 150.7L268.2 151.4L269.2 152.2L270.3 152.9L271.4 153.6L272.4 154.4L273.5 155.1L274.6 155.9L275.6 156.6L276.7 157.4L277.8 158.1L278.8 158.8L279.9 159.6L281.0 160.3L282.1 161.1L283.1 161.8L284.2 162.5L285.3 163.3L286.3 164.0L287.4 164.8L288.5 165.5L289.5 166.2L290.6 167.0L291.7 167.7L292.8 168.5"/><path class="c" stroke="#1dae99" d="M78.8 55.2L79.9 55.5L81.0 55.8L82.1 56.2L83.1 56.5L84.2 56.8L85.3 57.2L86.3 57.5L87.4 57.8L88.5 58.2L89.5 58.5L90.6 58.9L91.7 59.2L92.8 59.5L93.8 59.9L94.9 60.2L96.0 60.5L97.0 60.9L98.1 61.2L99.2 61.5L100.2 61.9L101.3 62.2L102.4 62.5L103.4 62.9L104.5 63.2L105.6 63.5L106.7 63.9L107.7 64.2L108.8 64.6L109.9 64.9L110.9 65.3L112.0 65.6L113.1 66.0L114.1 66.3L115.2 66.7L116.3 67.0L117.4 67.4L118.4 67.8L119.5 68.1L120.6 68.5L121.6 68.9L122.7 69.3L123.8 69.7L124.8 70.1L125.9 70.5L127.0 70.9L128.0 71.4L129.1 71.8L130.2 72.2L131.3 72.7L132.3 73.1L133.4 73.6L134.5 74.0L135.5 74.5L136.6 75.0L137.7 75.5L138.7 76.0L139.8 76.5L140.9 77.0L142.0 77.5L143.0 78.0L144.1 78.6L145.2 79.1L146.2 79.6L147.3 80.2L148.4 80.8L149.4 81.3L150.5 81.9L151.6 82.5L152.6 83.1L153.7 83.7L154.8 84.3L155.9 84.9L156.9 85.5L158.0 86.1L159.1 86.7L160.1 87.3L161.2 88.0L162.3 88.6L163.3 89.3L164.4 89.9L165.5 90.6L166.5 91.2L167.6 91.9L168.7 92.5L169.8 93.2L170.8 93.9L171.9 94.6L173.0 95.2L174.0 95.9L175.1 96.6L176.2 97.3L177.2 98.0L178.3 98.7L179.4 99.4L180.5 100.1L181.5 100.8L182.6 101.5L183.7 102.2L184.7 102.9L185.8 103.6L186.9 104.3L187.9 105.1L189.0 105.8L190.1 106.5L191.1 107.2L192.2 107.9L193.3 108.6L194.4 109.4L195.4 110.1L196.5 110.8L197.6 111.5L198.6 112.3L199.7 113.0L200.8 113.7L201.8 114.4L202.9 115.2L204.0 115.9L205.1 116.6L206.1 117.4L207.2 118.1L208.3 118.8L209.3 119.6L210.4 120.3L211.5 121.0L212.5 121.8L213.6 122.5L214.7 123.2L215.7 124.0L216.8 124.7L217.9 125.4L219.0 126.2L220.0 126.9L221.1 127.6L222.2 128.4L223.2 129.1L224.3 129.9L225.4 130.6L226.4 131.3L227.5 132.1L228.6 132.8L229.6 133.5L230.7 134.3L231.8 135.0L232.9 135.8L233.9 136.5L235.0 137.2L236.1 138.0L237.1 138.7L238.2 139.5L239.3 140.2L240.3 140.9L241.4 141.7L242.5 142.4L243.6 143.1L244.6 143.9L245.7 144.6L246.8 145.4L247.8 146.1L248.9 146.8L250.0 147.6L251.0 148.3L252.1 149.1L253.2 149.8L254.2 150.5L255.3 151.3L256.4 152.0L257.5 152.8L258.5 153.5L259.6 154.2L260.7 155.0L261.7 155.7L262.8 156.5L263.9 157.2L264.9 157.9L266.0 158.7L267.1 159.4L268.2 160.2L269.2 160.9L270.3 161.7L271.4 162.4L272.4 163.1L273.5 163.9L274.6 164.6L275.6 165.4L276.7 166.1L277.8 166.8L278.8 167.6L279.9 168.3L281.0 169.1L282.1 169.8L283.1 170.5L284.2 171.3L285.3 172.0L286.3 172.8L287.4 173.5L288.5 174.2L289.5 175.0L290.6 175.7L291.7 176.5L292.8 177.2"/><path class="c" stroke="#f562cc" d="M78.8 55.8L79.9 56.1L81.0 56.5L82.1 56.9L83.1 57.3L84.2 57.7L85.3 58.2L86.3 58.6L87.4 59.0L88.5 59.5L89.5 59.9L90.6 60.4L91.7 60.8L92.8 61.3L93.8 61.7L94.9 62.2L96.0 62.7L97.0 63.2L98.1 63.6L99.2 64.1L100.2 64.6L101.3 65.1L102.4 65.6L103.4 66.0L104.5 66.5L105.6 67.0L106.7 67.5L107.7 67.9L108.8 68.4L109.9 68.9L110.9 69.4L112.0 69.8L113.1 70.3L114.1 70.8L115.2 71.2L116.3 71.7L117.4 72.2L118.4 72.6L119.5 73.1L120.6 73.6L121.6 74.1L122.7 74.5L123.8 75.0L124.8 75.5L125.9 76.0L127.0 76.5L128.0 77.0L129.1 77.5L130.2 78.0L131.3 78.5L132.3 79.0L133.4 79.5L134.5 80.1L135.5 80.6L136.6 81.1L137.7 81.7L138.7 82.2L139.8 82.8L140.9 83.3L142.0 83.9L143.0 84.5L144.1 85.0L145.2 85.6L146.2 86.2L147.3 86.8L148.4 87.4L149.4 88.0L150.5 88.6L151.6 89.3L152.6 89.9L153.7 90.5L154.8 91.1L155.9 91.8L156.9 92.4L158.0 93.1L159.1 93.7L160.1 94.4L161.2 95.0L162.3 95.7L163.3 96.4L164.4 97.1L165.5 97.7L166.5 98.4L167.6 99.1L168.7 99.8L169.8 100.5L170.8 101.2L171.9 101.9L173.0 102.6L174.0 103.3L175.1 104.0L176.2 104.7L177.2 105.4L178.3 106.1L179.4 106.8L180.5 107.5L181.5 108.2L182.6 108.9L183.7 109.6L184.7 110.4L185.8 111.1L186.9 111.8L187.9 112.5L189.0 113.2L190.1 114.0L191.1 114.7L192.2 115.4L193.3 116.1L194.4 116.9L195.4 117.6L196.5 118.3L197.6 119.1L198.6 119.8L199.7 120.5L200.8 121.3L201.8 122.0L202.9 122.7L204.0 123.4L205.1 124.2L206.1 124.9L207.2 125.7L208.3 126.4L209.3 127.1L210.4 127.9L211.5 128.6L212.5 129.3L213.6 130.1L214.7 130.8L215.7 131.5L216.8 132.3L217.9 133.0L219.0 133.7L220.0 134.5L221.1 135.2L222.2 136.0L223.2 136.7L224.3 137.4L225.4 138.2L226.4 138.9L227.5 139.7L228.6 140.4L229.6 141.1L230.7 141.9L231.8 142.6L232.9 143.3L233.9 144.1L235.0 144.8L236.1 145.6L237.1 146.3L238.2 147.0L239.3 147.8L240.3 148.5L241.4 149.3L242.5 150.0L243.6 150.7L244.6 151.5L245.7 152.2L246.8 153.0L247.8 153.7L248.9 154.4L250.0 155.2L251.0 155.9L252.1 156.7L253.2 157.4L254.2 158.1L255.3 158.9L256.4 159.6L257.5 160.4L258.5 161.1L259.6 161.8L260.7 162.6L261.7 163.3L262.8 164.1L263.9 164.8L264.9 165.5L266.0 166.3L267.1 167.0L268.2 167.8L269.2 168.5L270.3 169.2L271.4 170.0L272.4 170.7L273.5 171.5L274.6 172.2L275.6 173.0L276.7 173.7L277.8 174.4L278.8 175.2L279.9 175.9L281.0 176.7L282.1 177.4L283.1 178.1L284.2 178.9L285.3 179.6L286.3 180.4L287.4 181.1L288.5 181.8L289.5 182.6L290.6 183.3L291.7 184.1L292.8 184.8"/><path class="c" stroke="#1fa7d5" d="M78.8 61.4L79.9 61.9L81.0 62.4L82.1 63.0L83.1 63.5L84.2 64.0L85.3 64.6L86.3 65.1L87.4 65.7L88.5 66.3L89.5 66.8L90.6 67.4L91.7 68.0L92.8 68.6L93.8 69.1L94.9 69.7L96.0 70.3L97.0 70.9L98.1 71.4L99.2 72.0L100.2 72.6L101.3 73.1L102.4 73.7L103.4 74.2L104.5 74.8L105.6 75.4L106.7 75.9L107.7 76.5L108.8 77.0L109.9 77.6L110.9 78.1L112.0 78.7L113.1 79.2L114.1 79.8L115.2 80.3L116.3 80.9L117.4 81.4L118.4 82.0L119.5 82.6L120.6 83.1L121.6 83.7L122.7 84.3L123.8 84.8L124.8 85.4L125.9 86.0L127.0 86.6L128.0 87.2L129.1 87.8L130.2 88.4L131.3 89.0L132.3 89.6L133.4 90.2L134.5 90.8L135.5 91.5L136.6 92.1L137.7 92.7L138.7 93.4L139.8 94.0L140.9 94.7L142.0 95.3L143.0 96.0L144.1 96.6L145.2 97.3L146.2 98.0L147.3 98.6L148.4 99.3L149.4 100.0L150.5 100.7L151.6 101.3L152.6 102.0L153.7 102.7L154.8 103.4L155.9 104.1L156.9 104.8L158.0 105.5L159.1 106.2L160.1 106.9L161.2 107.6L162.3 108.3L163.3 109.0L164.4 109.8L165.5 110.5L166.5 111.2L167.6 111.9L168.7 112.6L169.8 113.3L170.8 114.1L171.9 114.8L173.0 115.5L174.0 116.2L175.1 116.9L176.2 117.7L177.2 118.4L178.3 119.1L179.4 119.9L180.5 120.6L181.5 121.3L182.6 122.0L183.7 122.8L184.7 123.5L185.8 124.2L186.9 125.0L187.9 125.7L189.0 126.4L190.1 127.2L191.1 127.9L192.2 128.6L193.3 129.4L194.4 130.1L195.4 130.8L196.5 131.6L197.6 132.3L198.6 133.1L199.7 133.8L200.8 134.5L201.8 135.3L202.9 136.0L204.0 136.7L205.1 137.5L206.1 138.2L207.2 139.0L208.3 139.7L209.3 140.4L210.4 141.2L211.5 141.9L212.5 142.6L213.6 143.4L214.7 144.1L215.7 144.9L216.8 145.6L217.9 146.3L219.0 147.1L220.0 147.8L221.1 148.6L222.2 149.3L223.2 150.0L224.3 150.8L225.4 151.5L226.4 152.3L227.5 153.0L228.6 153.7L229.6 154.5L230.7 155.2L231.8 156.0L232.9 156.7L233.9 157.4L235.0 158.2L236.1 158.9L237.1 159.7L238.2 160.4L239.3 161.1L240.3 161.9L241.4 162.6L242.5 163.4L243.6 164.1L244.6 164.8L245.7 165.6L246.8 166.3L247.8 167.1L248.9 167.8L250.0 168.5L251.0 169.3L252.1 170.0L253.2 170.8L254.2 171.5L255.3 172.2L256.4 173.0L257.5 173.7L258.5 174.5L259.6 175.2L260.7 175.9L261.7 176.7L262.8 177.4L263.9 178.2L264.9 178.9L266.0 179.7L267.1 180.4L268.2 181.1L269.2 181.9L270.3 182.6L271.4 183.4L272.4 184.1L273.5 184.8L274.6 185.6L275.6 186.3L276.7 187.1L277.8 187.8L278.8 188.5L279.9 189.3L281.0 190.0L282.1 190.8L283.1 191.5L284.2 192.2L285.3 193.0L286.3 193.7L287.4 194.5L288.5 195.2L289.5 195.9L290.6 196.7L291.7 197.4L292.8 198.2"/><path class="c" stroke="#dc891c" d="M78.8 53.4L79.9 53.8L81.0 54.2L82.1 54.6L83.1 55.0L84.2 55.4L85.3 55.8L86.3 56.2L87.4 56.7L88.5 57.1L89.5 57.6L90.6 58.1L91.7 58.6L92.8 59.1L93.8 59.6L94.9 60.2L96.0 60.7L97.0 61.3L98.1 61.9L99.2 62.5L100.2 63.1L101.3 63.8L102.4 64.5L103.4 65.2L104.5 65.9L105.6 66.6L106.7 67.4L107.7 68.2L108.8 69.0L109.9 69.8L110.9 70.6L112.0 71.5L113.1 72.4L114.1 73.3L115.2 74.2L116.3 75.2L117.4 76.1L118.4 77.1L119.5 78.1L120.6 79.1L121.6 80.1L122.7 81.1L123.8 82.2L124.8 83.2L125.9 84.2L127.0 85.3L128.0 86.3L129.1 87.4L130.2 88.4L131.3 89.5L132.3 90.5L133.4 91.6L134.5 92.6L135.5 93.6L136.6 94.6L137.7 95.6L138.7 96.7L139.8 97.6L140.9 98.6L142.0 99.6L143.0 100.6L144.1 101.5L145.2 102.5L146.2 103.4L147.3 104.4L148.4 105.3L149.4 106.2L150.5 107.1L151.6 108.0L152.6 108.9L153.7 109.8L154.8 110.7L155.9 111.5L156.9 112.4L158.0 113.2L159.1 114.1L160.1 114.9L161.2 115.8L162.3 116.6L163.3 117.4L164.4 118.3L165.5 119.1L166.5 119.9L167.6 120.7L168.7 121.5L169.8 122.3L170.8 123.1L171.9 123.9L173.0 124.7L174.0 125.5L175.1 126.3L176.2 127.1L177.2 127.9L178.3 128.7L179.4 129.4L180.5 130.2L181.5 131.0L182.6 131.8L183.7 132.5L184.7 133.3L185.8 134.1L186.9 134.8L187.9 135.6L189.0 136.4L190.1 137.1L191.1 137.9L192.2 138.7L193.3 139.4L194.4 140.2L195.4 140.9L196.5 141.7L197.6 142.5L198.6 143.2L199.7 144.0L200.8 144.7L201.8 145.5L202.9 146.2L204.0 147.0L205.1 147.7L206.1 148.5L207.2 149.2L208.3 150.0L209.3 150.7L210.4 151.5L211.5 152.2L212.5 153.0L213.6 153.7L214.7 154.5L215.7 155.2L216.8 156.0L217.9 156.7L219.0 157.5L220.0 158.2L221.1 159.0L222.2 159.7L223.2 160.4L224.3 161.2L225.4 161.9L226.4 162.7L227.5 163.4L228.6 164.2L229.6 164.9L230.7 165.7L231.8 166.4L232.9 167.1L233.9 167.9L235.0 168.6L236.1 169.4L237.1 170.1L238.2 170.9L239.3 171.6L240.3 172.3L241.4 173.1L242.5 173.8L243.6 174.6L244.6 175.3L245.7 176.1L246.8 176.8L247.8 177.5L248.9 178.3L250.0 179.0L251.0 179.8L252.1 180.5L253.2 181.3L254.2 182.0L255.3 182.7L256.4 183.5L257.5 184.2L258.5 185.0L259.6 185.7L260.7 186.4L261.7 187.2L262.8 187.9L263.9 188.7L264.9 189.4L266.0 190.2L267.1 190.9L268.2 191.6L269.2 192.4L270.3 193.1L271.4 193.9L272.4 194.6L273.5 195.3L274.6 196.1L275.6 196.8L276.7 197.6L277.8 198.3L278.8 199.0L279.9 199.8L281.0 200.5L282.1 201.3L283.1 202.0L284.2 202.7L285.3 203.5L286.3 204.2L287.4 205.0L288.5 205.7L289.5 206.5L290.6 207.2L291.7 207.9L292.8 208.7"/><path class="c" stroke="#8ea61b" d="M78.8 59.8L79.9 60.3L81.0 60.8L82.1 61.3L83.1 61.9L84.2 62.4L85.3 63.0L86.3 63.6L87.4 64.2L88.5 64.8L89.5 65.4L90.6 66.0L91.7 66.6L92.8 67.3L93.8 68.0L94.9 68.6L96.0 69.3L97.0 70.0L98.1 70.7L99.2 71.3L100.2 72.0L101.3 72.7L102.4 73.4L103.4 74.2L104.5 74.9L105.6 75.6L106.7 76.3L107.7 77.0L108.8 77.7L109.9 78.4L110.9 79.1L112.0 79.8L113.1 80.5L114.1 81.3L115.2 82.0L116.3 82.7L117.4 83.4L118.4 84.1L119.5 84.8L120.6 85.5L121.6 86.2L122.7 86.9L123.8 87.6L124.8 88.3L125.9 89.0L127.0 89.7L128.0 90.4L129.1 91.1L130.2 91.8L131.3 92.5L132.3 93.3L133.4 94.0L134.5 94.7L135.5 95.4L136.6 96.1L137.7 96.8L138.7 97.5L139.8 98.2L140.9 99.0L142.0 99.7L143.0 100.4L144.1 101.1L145.2 101.8L146.2 102.6L147.3 103.3L148.4 104.0L149.4 104.7L150.5 105.5L151.6 106.2L152.6 106.9L153.7 107.6L154.8 108.4L155.9 109.1L156.9 109.8L158.0 110.6L159.1 111.3L160.1 112.0L161.2 112.7L162.3 113.5L163.3 114.2L164.4 114.9L165.5 115.7L166.5 116.4L167.6 117.2L168.7 117.9L169.8 118.6L170.8 119.4L171.9 120.1L173.0 120.8L174.0 121.6L175.1 122.3L176.2 123.0L177.2 123.8L178.3 124.5L179.4 125.3L180.5 126.0L181.5 126.7L182.6 127.5L183.7 128.2L184.7 128.9L185.8 129.7L186.9 130.4L187.9 131.2L189.0 131.9L190.1 132.6L191.1 133.4L192.2 134.1L193.3 134.9L194.4 135.6L195.4 136.3L196.5 137.1L197.6 137.8L198.6 138.6L199.7 139.3L200.8 140.0L201.8 140.8L202.9 141.5L204.0 142.3L205.1 143.0L206.1 143.7L207.2 144.5L208.3 145.2L209.3 146.0L210.4 146.7L211.5 147.4L212.5 148.2L213.6 148.9L214.7 149.7L215.7 150.4L216.8 151.1L217.9 151.9L219.0 152.6L220.0 153.4L221.1 154.1L222.2 154.8L223.2 155.6L224.3 156.3L225.4 157.1L226.4 157.8L227.5 158.5L228.6 159.3L229.6 160.0L230.7 160.8L231.8 161.5L232.9 162.2L233.9 163.0L235.0 163.7L236.1 164.5L237.1 165.2L238.2 165.9L239.3 166.7L240.3 167.4L241.4 168.2L242.5 168.9L243.6 169.7L244.6 170.4L245.7 171.1L246.8 171.9L247.8 172.6L248.9 173.4L250.0 174.1L251.0 174.8L252.1 175.6L253.2 176.3L254.2 177.1L255.3 177.8L256.4 178.5L257.5 179.3L258.5 180.0L259.6 180.8L260.7 181.5L261.7 182.2L262.8 183.0L263.9 183.7L264.9 184.5L266.0 185.2L267.1 186.0L268.2 186.7L269.2 187.4L270.3 188.2L271.4 188.9L272.4 189.7L273.5 190.4L274.6 191.1L275.6 191.9L276.7 192.6L277.8 193.4L278.8 194.1L279.9 194.8L281.0 195.6L282.1 196.3L283.1 197.1L284.2 197.8L285.3 198.5L286.3 199.3L287.4 200.0L288.5 200.8L289.5 201.5L290.6 202.2L291.7 203.0L292.8 203.7"/><path class="c" stroke="#50b11b" d="M78.8 61.8L79.9 62.3L81.0 62.9L82.1 63.5L83.1 64.0L84.2 64.6L85.3 65.2L86.3 65.8L87.4 66.4L88.5 67.1L89.5 67.7L90.6 68.3L91.7 69.0L92.8 69.6L93.8 70.3L94.9 70.9L96.0 71.6L97.0 72.3L98.1 72.9L99.2 73.6L100.2 74.3L101.3 74.9L102.4 75.6L103.4 76.3L104.5 77.0L105.6 77.6L106.7 78.3L107.7 79.0L108.8 79.6L109.9 80.3L110.9 81.0L112.0 81.7L113.1 82.3L114.1 83.0L115.2 83.7L116.3 84.4L117.4 85.0L118.4 85.7L119.5 86.4L120.6 87.1L121.6 87.7L122.7 88.4L123.8 89.1L124.8 89.8L125.9 90.5L127.0 91.1L128.0 91.8L129.1 92.5L130.2 93.2L131.3 93.9L132.3 94.6L133.4 95.3L134.5 96.0L135.5 96.7L136.6 97.4L137.7 98.1L138.7 98.8L139.8 99.5L140.9 100.2L142.0 101.0L143.0 101.7L144.1 102.4L145.2 103.1L146.2 103.8L147.3 104.5L148.4 105.3L149.4 106.0L150.5 106.7L151.6 107.4L152.6 108.1L153.7 108.9L154.8 109.6L155.9 110.3L156.9 111.1L158.0 111.8L159.1 112.5L160.1 113.2L161.2 114.0L162.3 114.7L163.3 115.4L164.4 116.2L165.5 116.9L166.5 117.6L167.6 118.4L168.7 119.1L169.8 119.8L170.8 120.6L171.9 121.3L173.0 122.0L174.0 122.8L175.1 123.5L176.2 124.2L177.2 125.0L178.3 125.7L179.4 126.5L180.5 127.2L181.5 127.9L182.6 128.7L183.7 129.4L184.7 130.1L185.8 130.9L186.9 131.6L187.9 132.4L189.0 133.1L190.1 133.8L191.1 134.6L192.2 135.3L193.3 136.0L194.4 136.8L195.4 137.5L196.5 138.3L197.6 139.0L198.6 139.7L199.7 140.5L200.8 141.2L201.8 142.0L202.9 142.7L204.0 143.4L205.1 144.2L206.1 144.9L207.2 145.7L208.3 146.4L209.3 147.1L210.4 147.9L211.5 148.6L212.5 149.4L213.6 150.1L214.7 150.8L215.7 151.6L216.8 152.3L217.9 153.1L219.0 153.8L220.0 154.5L221.1 155.3L222.2 156.0L223.2 156.8L224.3 157.5L225.4 158.2L226.4 159.0L227.5 159.7L228.6 160.5L229.6 161.2L230.7 162.0L231.8 162.7L232.9 163.4L233.9 164.2L235.0 164.9L236.1 165.7L237.1 166.4L238.2 167.1L239.3 167.9L240.3 168.6L241.4 169.4L242.5 170.1L243.6 170.8L244.6 171.6L245.7 172.3L246.8 173.1L247.8 173.8L248.9 174.5L250.0 175.3L251.0 176.0L252.1 176.8L253.2 177.5L254.2 178.2L255.3 179.0L256.4 179.7L257.5 180.5L258.5 181.2L259.6 182.0L260.7 182.7L261.7 183.4L262.8 184.2L263.9 184.9L264.9 185.7L266.0 186.4L267.1 187.1L268.2 187.9L269.2 188.6L270.3 189.4L271.4 190.1L272.4 190.8L273.5 191.6L274.6 192.3L275.6 193.1L276.7 193.8L277.8 194.5L278.8 195.3L279.9 196.0L281.0 196.8L282.1 197.5L283.1 198.2L284.2 199.0L285.3 199.7L286.3 200.5L287.4 201.2L288.5 202.0L289.5 202.7L290.6 203.4L291.7 204.2L292.8 204.9"/><path class="c" stroke="#77ab1b" d="M78.8 63.4L79.9 63.9L81.0 64.5L82.1 65.1L83.1 65.7L84.2 66.3L85.3 66.9L86.3 67.5L87.4 68.1L88.5 68.7L89.5 69.4L90.6 70.0L91.7 70.6L92.8 71.3L93.8 71.9L94.9 72.6L96.0 73.2L97.0 73.9L98.1 74.5L99.2 75.2L100.2 75.8L101.3 76.5L102.4 77.1L103.4 77.8L104.5 78.4L105.6 79.1L106.7 79.7L107.7 80.4L108.8 81.0L109.9 81.7L110.9 82.3L112.0 83.0L113.1 83.6L114.1 84.3L115.2 84.9L116.3 85.6L117.4 86.3L118.4 86.9L119.5 87.6L120.6 88.3L121.6 88.9L122.7 89.6L123.8 90.3L124.8 91.0L125.9 91.6L127.0 92.3L128.0 93.0L129.1 93.7L130.2 94.4L131.3 95.1L132.3 95.8L133.4 96.5L134.5 97.2L135.5 97.9L136.6 98.6L137.7 99.3L138.7 100.0L139.8 100.7L140.9 101.4L142.0 102.1L143.0 102.8L144.1 103.6L145.2 104.3L146.2 105.0L147.3 105.7L148.4 106.4L149.4 107.2L150.5 107.9L151.6 108.6L152.6 109.3L153.7 110.0L154.8 110.8L155.9 111.5L156.9 112.2L158.0 113.0L159.1 113.7L160.1 114.4L161.2 115.1L162.3 115.9L163.3 116.6L164.4 117.3L165.5 118.1L166.5 118.8L167.6 119.5L168.7 120.3L169.8 121.0L170.8 121.7L171.9 122.5L173.0 123.2L174.0 124.0L175.1 124.7L176.2 125.4L177.2 126.2L178.3 126.9L179.4 127.6L180.5 128.4L181.5 129.1L182.6 129.8L183.7 130.6L184.7 131.3L185.8 132.1L186.9 132.8L187.9 133.5L189.0 134.3L190.1 135.0L191.1 135.8L192.2 136.5L193.3 137.2L194.4 138.0L195.4 138.7L196.5 139.5L197.6 140.2L198.6 140.9L199.7 141.7L200.8 142.4L201.8 143.1L202.9 143.9L204.0 144.6L205.1 145.4L206.1 146.1L207.2 146.8L208.3 147.6L209.3 148.3L210.4 149.1L211.5 149.8L212.5 150.5L213.6 151.3L214.7 152.0L215.7 152.8L216.8 153.5L217.9 154.3L219.0 155.0L220.0 155.7L221.1 156.5L222.2 157.2L223.2 158.0L224.3 158.7L225.4 159.4L226.4 160.2L227.5 160.9L228.6 161.7L229.6 162.4L230.7 163.1L231.8 163.9L232.9 164.6L233.9 165.4L235.0 166.1L236.1 166.8L237.1 167.6L238.2 168.3L239.3 169.1L240.3 169.8L241.4 170.5L242.5 171.3L243.6 172.0L244.6 172.8L245.7 173.5L246.8 174.2L247.8 175.0L248.9 175.7L250.0 176.5L251.0 177.2L252.1 178.0L253.2 178.7L254.2 179.4L255.3 180.2L256.4 180.9L257.5 181.7L258.5 182.4L259.6 183.1L260.7 183.9L261.7 184.6L262.8 185.4L263.9 186.1L264.9 186.8L266.0 187.6L267.1 188.3L268.2 189.1L269.2 189.8L270.3 190.5L271.4 191.3L272.4 192.0L273.5 192.8L274.6 193.5L275.6 194.2L276.7 195.0L277.8 195.7L278.8 196.5L279.9 197.2L281.0 198.0L282.1 198.7L283.1 199.4L284.2 200.2L285.3 200.9L286.3 201.7L287.4 202.4L288.5 203.1L289.5 203.9L290.6 204.6L291.7 205.4L292.8 206.1"/><path class="c" stroke="#b283f4" d="M78.8 63.6L79.9 64.2L81.0 64.8L82.1 65.5L83.1 66.1L84.2 66.8L85.3 67.5L86.3 68.2L87.4 68.9L88.5 69.7L89.5 70.4L90.6 71.2L91.7 72.0L92.8 72.8L93.8 73.6L94.9 74.4L96.0 75.3L97.0 76.1L98.1 77.0L99.2 77.9L100.2 78.7L101.3 79.6L102.4 80.5L103.4 81.4L104.5 82.3L105.6 83.2L106.7 84.1L107.7 85.0L108.8 85.9L109.9 86.7L110.9 87.6L112.0 88.5L113.1 89.4L114.1 90.3L115.2 91.2L116.3 92.1L117.4 92.9L118.4 93.8L119.5 94.7L120.6 95.5L121.6 96.4L122.7 97.3L123.8 98.1L124.8 98.9L125.9 99.8L127.0 100.6L128.0 101.5L129.1 102.3L130.2 103.1L131.3 103.9L132.3 104.8L133.4 105.6L134.5 106.4L135.5 107.2L136.6 108.0L137.7 108.8L138.7 109.6L139.8 110.4L140.9 111.2L142.0 112.0L143.0 112.8L144.1 113.6L145.2 114.3L146.2 115.1L147.3 115.9L148.4 116.7L149.4 117.5L150.5 118.2L151.6 119.0L152.6 119.8L153.7 120.5L154.8 121.3L155.9 122.1L156.9 122.8L158.0 123.6L159.1 124.4L160.1 125.1L161.2 125.9L162.3 126.6L163.3 127.4L164.4 128.2L165.5 128.9L166.5 129.7L167.6 130.4L168.7 131.2L169.8 131.9L170.8 132.7L171.9 133.4L173.0 134.2L174.0 134.9L175.1 135.7L176.2 136.4L177.2 137.2L178.3 137.9L179.4 138.7L180.5 139.4L181.5 140.2L182.6 140.9L183.7 141.7L184.7 142.4L185.8 143.2L186.9 143.9L187.9 144.7L189.0 145.4L190.1 146.2L191.1 146.9L192.2 147.7L193.3 148.4L194.4 149.1L195.4 149.9L196.5 150.6L197.6 151.4L198.6 152.1L199.7 152.9L200.8 153.6L201.8 154.3L202.9 155.1L204.0 155.8L205.1 156.6L206.1 157.3L207.2 158.1L208.3 158.8L209.3 159.5L210.4 160.3L211.5 161.0L212.5 161.8L213.6 162.5L214.7 163.3L215.7 164.0L216.8 164.7L217.9 165.5L219.0 166.2L220.0 167.0L221.1 167.7L222.2 168.5L223.2 169.2L224.3 169.9L225.4 170.7L226.4 171.4L227.5 172.2L228.6 172.9L229.6 173.6L230.7 174.4L231.8 175.1L232.9 175.9L233.9 176.6L235.0 177.3L236.1 178.1L237.1 178.8L238.2 179.6L239.3 180.3L240.3 181.1L241.4 181.8L242.5 182.5L243.6 183.3L244.6 184.0L245.7 184.8L246.8 185.5L247.8 186.2L248.9 187.0L250.0 187.7L251.0 188.5L252.1 189.2L253.2 189.9L254.2 190.7L255.3 191.4L256.4 192.2L257.5 192.9L258.5 193.7L259.6 194.4L260.7 195.1L261.7 195.9L262.8 196.6L263.9 197.4L264.9 198.1L266.0 198.8L267.1 199.6L268.2 200.3L269.2 201.1L270.3 201.8L271.4 202.5L272.4 203.3L273.5 204.0L274.6 204.8L275.6 205.5L276.7 206.2L277.8 207.0L278.8 207.7L279.9 208.5L281.0 209.2L282.1 210.0L283.1 210.7L284.2 211.4L285.3 212.2L286.3 212.9L287.4 213.7L288.5 214.4L289.5 215.1L290.6 215.9L291.7 216.6L292.8 217.4"/><path class="c" stroke="#bb981c" d="M78.8 66.8L79.9 67.5L81.0 68.2L82.1 68.9L83.1 69.6L84.2 70.4L85.3 71.1L86.3 71.9L87.4 72.7L88.5 73.5L89.5 74.3L90.6 75.1L91.7 76.0L92.8 76.8L93.8 77.7L94.9 78.5L96.0 79.4L97.0 80.3L98.1 81.1L99.2 82.0L100.2 82.9L101.3 83.8L102.4 84.7L103.4 85.6L104.5 86.4L105.6 87.3L106.7 88.2L107.7 89.1L108.8 90.0L109.9 90.9L110.9 91.7L112.0 92.6L113.1 93.5L114.1 94.3L115.2 95.2L116.3 96.0L117.4 96.9L118.4 97.7L119.5 98.6L120.6 99.4L121.6 100.2L122.7 101.1L123.8 101.9L124.8 102.7L125.9 103.5L127.0 104.4L128.0 105.2L129.1 106.0L130.2 106.8L131.3 107.6L132.3 108.4L133.4 109.2L134.5 110.0L135.5 110.8L136.6 111.6L137.7 112.4L138.7 113.1L139.8 113.9L140.9 114.7L142.0 115.5L143.0 116.3L144.1 117.0L145.2 117.8L146.2 118.6L147.3 119.3L148.4 120.1L149.4 120.9L150.5 121.6L151.6 122.4L152.6 123.2L153.7 123.9L154.8 124.7L155.9 125.5L156.9 126.2L158.0 127.0L159.1 127.7L160.1 128.5L161.2 129.2L162.3 130.0L163.3 130.8L164.4 131.5L165.5 132.3L166.5 133.0L167.6 133.8L168.7 134.5L169.8 135.3L170.8 136.0L171.9 136.8L173.0 137.5L174.0 138.3L175.1 139.0L176.2 139.8L177.2 140.5L178.3 141.2L179.4 142.0L180.5 142.7L181.5 143.5L182.6 144.2L183.7 145.0L184.7 145.7L185.8 146.5L186.9 147.2L187.9 148.0L189.0 148.7L190.1 149.4L191.1 150.2L192.2 150.9L193.3 151.7L194.4 152.4L195.4 153.2L196.5 153.9L197.6 154.6L198.6 155.4L199.7 156.1L200.8 156.9L201.8 157.6L202.9 158.4L204.0 159.1L205.1 159.8L206.1 160.6L207.2 161.3L208.3 162.1L209.3 162.8L210.4 163.6L211.5 164.3L212.5 165.0L213.6 165.8L214.7 166.5L215.7 167.3L216.8 168.0L217.9 168.7L219.0 169.5L220.0 170.2L221.1 171.0L222.2 171.7L223.2 172.5L224.3 173.2L225.4 173.9L226.4 174.7L227.5 175.4L228.6 176.2L229.6 176.9L230.7 177.6L231.8 178.4L232.9 179.1L233.9 179.9L235.0 180.6L236.1 181.4L237.1 182.1L238.2 182.8L239.3 183.6L240.3 184.3L241.4 185.1L242.5 185.8L243.6 186.5L244.6 187.3L245.7 188.0L246.8 188.8L247.8 189.5L248.9 190.2L250.0 191.0L251.0 191.7L252.1 192.5L253.2 193.2L254.2 193.9L255.3 194.7L256.4 195.4L257.5 196.2L258.5 196.9L259.6 197.7L260.7 198.4L261.7 199.1L262.8 199.9L263.9 200.6L264.9 201.4L266.0 202.1L267.1 202.8L268.2 203.6L269.2 204.3L270.3 205.1L271.4 205.8L272.4 206.5L273.5 207.3L274.6 208.0L275.6 208.8L276.7 209.5L277.8 210.2L278.8 211.0L279.9 211.7L281.0 212.5L282.1 213.2L283.1 214.0L284.2 214.7L285.3 215.4L286.3 216.2L287.4 216.9L288.5 217.7L289.5 218.4L290.6 219.1L291.7 219.9L292.8 220.6"/><path class="c" stroke="#cc76f4" d="M78.8 68.6L79.9 69.3L81.0 70.0L82.1 70.8L83.1 71.6L84.2 72.3L85.3 73.1L86.3 73.9L87.4 74.8L88.5 75.6L89.5 76.5L90.6 77.3L91.7 78.2L92.8 79.0L93.8 79.9L94.9 80.8L96.0 81.7L97.0 82.6L98.1 83.5L99.2 84.4L100.2 85.3L101.3 86.1L102.4 87.0L103.4 87.9L104.5 88.8L105.6 89.7L106.7 90.6L107.7 91.5L108.8 92.4L109.9 93.2L110.9 94.1L112.0 95.0L113.1 95.8L114.1 96.7L115.2 97.5L116.3 98.4L117.4 99.2L118.4 100.1L119.5 100.9L120.6 101.7L121.6 102.6L122.7 103.4L123.8 104.2L124.8 105.0L125.9 105.9L127.0 106.7L128.0 107.5L129.1 108.3L130.2 109.1L131.3 109.9L132.3 110.7L133.4 111.5L134.5 112.3L135.5 113.1L136.6 113.8L137.7 114.6L138.7 115.4L139.8 116.2L140.9 117.0L142.0 117.7L143.0 118.5L144.1 119.3L145.2 120.1L146.2 120.8L147.3 121.6L148.4 122.4L149.4 123.1L150.5 123.9L151.6 124.7L152.6 125.4L153.7 126.2L154.8 126.9L155.9 127.7L156.9 128.5L158.0 129.2L159.1 130.0L160.1 130.7L161.2 131.5L162.3 132.2L163.3 133.0L164.4 133.7L165.5 134.5L166.5 135.2L167.6 136.0L168.7 136.7L169.8 137.5L170.8 138.2L171.9 139.0L173.0 139.7L174.0 140.5L175.1 141.2L176.2 142.0L177.2 142.7L178.3 143.5L179.4 144.2L180.5 145.0L181.5 145.7L182.6 146.5L183.7 147.2L184.7 147.9L185.8 148.7L186.9 149.4L187.9 150.2L189.0 150.9L190.1 151.7L191.1 152.4L192.2 153.2L193.3 153.9L194.4 154.6L195.4 155.4L196.5 156.1L197.6 156.9L198.6 157.6L199.7 158.4L200.8 159.1L201.8 159.8L202.9 160.6L204.0 161.3L205.1 162.1L206.1 162.8L207.2 163.6L208.3 164.3L209.3 165.0L210.4 165.8L211.5 166.5L212.5 167.3L213.6 168.0L214.7 168.7L215.7 169.5L216.8 170.2L217.9 171.0L219.0 171.7L220.0 172.5L221.1 173.2L222.2 173.9L223.2 174.7L224.3 175.4L225.4 176.2L226.4 176.9L227.5 177.6L228.6 178.4L229.6 179.1L230.7 179.9L231.8 180.6L232.9 181.4L233.9 182.1L235.0 182.8L236.1 183.6L237.1 184.3L238.2 185.1L239.3 185.8L240.3 186.5L241.4 187.3L242.5 188.0L243.6 188.8L244.6 189.5L245.7 190.2L246.8 191.0L247.8 191.7L248.9 192.5L250.0 193.2L251.0 193.9L252.1 194.7L253.2 195.4L254.2 196.2L255.3 196.9L256.4 197.7L257.5 198.4L258.5 199.1L259.6 199.9L260.7 200.6L261.7 201.4L262.8 202.1L263.9 202.8L264.9 203.6L266.0 204.3L267.1 205.1L268.2 205.8L269.2 206.5L270.3 207.3L271.4 208.0L272.4 208.8L273.5 209.5L274.6 210.2L275.6 211.0L276.7 211.7L277.8 212.5L278.8 213.2L279.9 214.0L281.0 214.7L282.1 215.4L283.1 216.2L284.2 216.9L285.3 217.7L286.3 218.4L287.4 219.1L288.5 219.9L289.5 220.6L290.6 221.4"/><path class="c" stroke="#f55de4" d="M78.8 60.9L79.9 62.5L81.0 64.0L82.1 65.5L83.1 66.9L84.2 68.3L85.3 69.7L86.3 71.0L87.4 72.3L88.5 73.6L89.5 74.8L90.6 76.1L91.7 77.3L92.8 78.4L93.8 79.6L94.9 80.7L96.0 81.8L97.0 82.9L98.1 84.0L99.2 85.0L100.2 86.1L101.3 87.1L102.4 88.1L103.4 89.1L104.5 90.1L105.6 91.0L106.7 92.0L107.7 93.0L108.8 93.9L109.9 94.8L110.9 95.7L112.0 96.6L113.1 97.5L114.1 98.4L115.2 99.3L116.3 100.2L117.4 101.1L118.4 101.9L119.5 102.8L120.6 103.6L121.6 104.5L122.7 105.3L123.8 106.2L124.8 107.0L125.9 107.8L127.0 108.6L128.0 109.5L129.1 110.3L130.2 111.1L131.3 111.9L132.3 112.7L133.4 113.5L134.5 114.3L135.5 115.1L136.6 115.9L137.7 116.7L138.7 117.4L139.8 118.2L140.9 119.0L142.0 119.8L143.0 120.6L144.1 121.4L145.2 122.1L146.2 122.9L147.3 123.7L148.4 124.4L149.4 125.2L150.5 126.0L151.6 126.7L152.6 127.5L153.7 128.3L154.8 129.0L155.9 129.8L156.9 130.6L158.0 131.3L159.1 132.1L160.1 132.8L161.2 133.6L162.3 134.3L163.3 135.1L164.4 135.9L165.5 136.6L166.5 137.4L167.6 138.1L168.7 138.9L169.8 139.6L170.8 140.4L171.9 141.1L173.0 141.9L174.0 142.6L175.1 143.4L176.2 144.1L177.2 144.9L178.3 145.6L179.4 146.4L180.5 147.1L181.5 147.9L182.6 148.6L183.7 149.3L184.7 150.1L185.8 150.8L186.9 151.6L187.9 152.3L189.0 153.1L190.1 153.8L191.1 154.6L192.2 155.3L193.3 156.1L194.4 156.8L195.4 157.5L196.5 158.3L197.6 159.0L198.6 159.8L199.7 160.5L200.8 161.3L201.8 162.0L202.9 162.7L204.0 163.5L205.1 164.2L206.1 165.0L207.2 165.7L208.3 166.5L209.3 167.2L210.4 167.9L211.5 168.7L212.5 169.4L213.6 170.2L214.7 170.9L215.7 171.7L216.8 172.4L217.9 173.1L219.0 173.9L220.0 174.6L221.1 175.4L222.2 176.1L223.2 176.8L224.3 177.6L225.4 178.3L226.4 179.1L227.5 179.8L228.6 180.6L229.6 181.3L230.7 182.0L231.8 182.8L232.9 183.5L233.9 184.3L235.0 185.0L236.1 185.7L237.1 186.5L238.2 187.2L239.3 188.0L240.3 188.7L241.4 189.5L242.5 190.2L243.6 190.9L244.6 191.7L245.7 192.4L246.8 193.2L247.8 193.9L248.9 194.6L250.0 195.4L251.0 196.1L252.1 196.9L253.2 197.6L254.2 198.3L255.3 199.1L256.4 199.8L257.5 200.6L258.5 201.3L259.6 202.1L260.7 202.8L261.7 203.5L262.8 204.3L263.9 205.0L264.9 205.8L266.0 206.5L267.1 207.2L268.2 208.0L269.2 208.7L270.3 209.5L271.4 210.2L272.4 210.9L273.5 211.7L274.6 212.4L275.6 213.2L276.7 213.9L277.8 214.6L278.8 215.4L279.9 216.1L281.0 216.9L282.1 217.6L283.1 218.4L284.2 219.1L285.3 219.8L286.3 220.6L287.4 221.3"/><path class="c" stroke="#1eada4" d="M78.8 62.4L79.9 64.0L81.0 65.6L82.1 67.1L83.1 68.6L84.2 70.0L85.3 71.4L86.3 72.8L87.4 74.1L88.5 75.4L89.5 76.7L90.6 78.0L91.7 79.2L92.8 80.4L93.8 81.5L94.9 82.7L96.0 83.8L97.0 84.9L98.1 86.0L99.2 87.1L100.2 88.1L101.3 89.1L102.4 90.1L103.4 91.2L104.5 92.1L105.6 93.1L106.7 94.1L107.7 95.0L108.8 96.0L109.9 96.9L110.9 97.8L112.0 98.7L113.1 99.6L114.1 100.5L115.2 101.4L116.3 102.3L117.4 103.2L118.4 104.0L119.5 104.9L120.6 105.7L121.6 106.6L122.7 107.4L123.8 108.3L124.8 109.1L125.9 109.9L127.0 110.7L128.0 111.6L129.1 112.4L130.2 113.2L131.3 114.0L132.3 114.8L133.4 115.6L134.5 116.4L135.5 117.2L136.6 118.0L137.7 118.8L138.7 119.5L139.8 120.3L140.9 121.1L142.0 121.9L143.0 122.7L144.1 123.4L145.2 124.2L146.2 125.0L147.3 125.8L148.4 126.5L149.4 127.3L150.5 128.1L151.6 128.8L152.6 129.6L153.7 130.4L154.8 131.1L155.9 131.9L156.9 132.6L158.0 133.4L159.1 134.2L160.1 134.9L161.2 135.7L162.3 136.4L163.3 137.2L164.4 137.9L165.5 138.7L166.5 139.4L167.6 140.2L168.7 140.9L169.8 141.7L170.8 142.4L171.9 143.2L173.0 143.9L174.0 144.7L175.1 145.4L176.2 146.2L177.2 146.9L178.3 147.7L179.4 148.4L180.5 149.2L181.5 149.9L182.6 150.7L183.7 151.4L184.7 152.2L185.8 152.9L186.9 153.7L187.9 154.4L189.0 155.2L190.1 155.9L191.1 156.6L192.2 157.4L193.3 158.1L194.4 158.9L195.4 159.6L196.5 160.4L197.6 161.1L198.6 161.8L199.7 162.6L200.8 163.3L201.8 164.1L202.9 164.8L204.0 165.6L205.1 166.3L206.1 167.1L207.2 167.8L208.3 168.5L209.3 169.3L210.4 170.0L211.5 170.8L212.5 171.5L213.6 172.2L214.7 173.0L215.7 173.7L216.8 174.5L217.9 175.2L219.0 176.0L220.0 176.7L221.1 177.4L222.2 178.2L223.2 178.9L224.3 179.7L225.4 180.4L226.4 181.1L227.5 181.9L228.6 182.6L229.6 183.4L230.7 184.1L231.8 184.9L232.9 185.6L233.9 186.3L235.0 187.1L236.1 187.8L237.1 188.6L238.2 189.3L239.3 190.0L240.3 190.8L241.4 191.5L242.5 192.3L243.6 193.0L244.6 193.8L245.7 194.5L246.8 195.2L247.8 196.0L248.9 196.7L250.0 197.5L251.0 198.2L252.1 198.9L253.2 199.7L254.2 200.4L255.3 201.2L256.4 201.9L257.5 202.6L258.5 203.4L259.6 204.1L260.7 204.9L261.7 205.6L262.8 206.3L263.9 207.1L264.9 207.8L266.0 208.6L267.1 209.3L268.2 210.1L269.2 210.8L270.3 211.5L271.4 212.3L272.4 213.0L273.5 213.8L274.6 214.5L275.6 215.2L276.7 216.0L277.8 216.7L278.8 217.5L279.9 218.2L281.0 218.9L282.1 219.7L283.1 220.4L284.2 221.2"/><path class="c" stroke="#958df4" d="M78.8 64.8L79.9 66.4L81.0 68.0L82.1 69.6L83.1 71.1L84.2 72.6L85.3 74.0L86.3 75.4L87.4 76.7L88.5 78.1L89.5 79.3L90.6 80.6L91.7 81.8L92.8 83.0L93.8 84.2L94.9 85.4L96.0 86.5L97.0 87.6L98.1 88.7L99.2 89.8L100.2 90.8L101.3 91.9L102.4 92.9L103.4 93.9L104.5 94.9L105.6 95.9L106.7 96.8L107.7 97.8L108.8 98.7L109.9 99.6L110.9 100.6L112.0 101.5L113.1 102.4L114.1 103.3L115.2 104.2L116.3 105.0L117.4 105.9L118.4 106.8L119.5 107.6L120.6 108.5L121.6 109.3L122.7 110.2L123.8 111.0L124.8 111.8L125.9 112.6L127.0 113.5L128.0 114.3L129.1 115.1L130.2 115.9L131.3 116.7L132.3 117.5L133.4 118.3L134.5 119.1L135.5 119.9L136.6 120.7L137.7 121.5L138.7 122.2L139.8 123.0L140.9 123.8L142.0 124.6L143.0 125.4L144.1 126.1L145.2 126.9L146.2 127.7L147.3 128.5L148.4 129.2L149.4 130.0L150.5 130.8L151.6 131.5L152.6 132.3L153.7 133.0L154.8 133.8L155.9 134.6L156.9 135.3L158.0 136.1L159.1 136.8L160.1 137.6L161.2 138.4L162.3 139.1L163.3 139.9L164.4 140.6L165.5 141.4L166.5 142.1L167.6 142.9L168.7 143.6L169.8 144.4L170.8 145.1L171.9 145.9L173.0 146.6L174.0 147.4L175.1 148.1L176.2 148.9L177.2 149.6L178.3 150.4L179.4 151.1L180.5 151.9L181.5 152.6L182.6 153.4L183.7 154.1L184.7 154.8L185.8 155.6L186.9 156.3L187.9 157.1L189.0 157.8L190.1 158.6L191.1 159.3L192.2 160.1L193.3 160.8L194.4 161.5L195.4 162.3L196.5 163.0L197.6 163.8L198.6 164.5L199.7 165.3L200.8 166.0L201.8 166.7L202.9 167.5L204.0 168.2L205.1 169.0L206.1 169.7L207.2 170.5L208.3 171.2L209.3 171.9L210.4 172.7L211.5 173.4L212.5 174.2L213.6 174.9L214.7 175.7L215.7 176.4L216.8 177.1L217.9 177.9L219.0 178.6L220.0 179.4L221.1 180.1L222.2 180.8L223.2 181.6L224.3 182.3L225.4 183.1L226.4 183.8L227.5 184.6L228.6 185.3L229.6 186.0L230.7 186.8L231.8 187.5L232.9 188.3L233.9 189.0L235.0 189.7L236.1 190.5L237.1 191.2L238.2 192.0L239.3 192.7L240.3 193.5L241.4 194.2L242.5 194.9L243.6 195.7L244.6 196.4L245.7 197.2L246.8 197.9L247.8 198.6L248.9 199.4L250.0 200.1L251.0 200.9L252.1 201.6L253.2 202.3L254.2 203.1L255.3 203.8L256.4 204.6L257.5 205.3L258.5 206.1L259.6 206.8L260.7 207.5L261.7 208.3L262.8 209.0L263.9 209.8L264.9 210.5L266.0 211.2L267.1 212.0L268.2 212.7L269.2 213.5L270.3 214.2L271.4 214.9L272.4 215.7L273.5 216.4L274.6 217.2L275.6 217.9L276.7 218.6L277.8 219.4L278.8 220.1L279.9 220.9"/><path class="c" stroke="#20a3ec" d="M78.8 67.1L79.9 68.7L81.0 70.3L82.1 71.8L83.1 73.2L84.2 74.7L85.3 76.0L86.3 77.4L87.4 78.7L88.5 80.0L89.5 81.3L90.6 82.5L91.7 83.7L92.8 84.9L93.8 86.0L94.9 87.2L96.0 88.3L97.0 89.3L98.1 90.4L99.2 91.5L100.2 92.5L101.3 93.5L102.4 94.5L103.4 95.5L104.5 96.5L105.6 97.5L106.7 98.4L107.7 99.3L108.8 100.3L109.9 101.2L110.9 102.1L112.0 103.0L113.1 103.9L114.1 104.8L115.2 105.6L116.3 106.5L117.4 107.4L118.4 108.2L119.5 109.1L120.6 109.9L121.6 110.8L122.7 111.6L123.8 112.4L124.8 113.2L125.9 114.1L127.0 114.9L128.0 115.7L129.1 116.5L130.2 117.3L131.3 118.1L132.3 118.9L133.4 119.7L134.5 120.5L135.5 121.3L136.6 122.1L137.7 122.9L138.7 123.6L139.8 124.4L140.9 125.2L142.0 126.0L143.0 126.7L144.1 127.5L145.2 128.3L146.2 129.1L147.3 129.8L148.4 130.6L149.4 131.4L150.5 132.1L151.6 132.9L152.6 133.6L153.7 134.4L154.8 135.2L155.9 135.9L156.9 136.7L158.0 137.4L159.1 138.2L160.1 139.0L161.2 139.7L162.3 140.5L163.3 141.2L164.4 142.0L165.5 142.7L166.5 143.5L167.6 144.2L168.7 145.0L169.8 145.7L170.8 146.5L171.9 147.2L173.0 148.0L174.0 148.7L175.1 149.5L176.2 150.2L177.2 151.0L178.3 151.7L179.4 152.5L180.5 153.2L181.5 153.9L182.6 154.7L183.7 155.4L184.7 156.2L185.8 156.9L186.9 157.7L187.9 158.4L189.0 159.2L190.1 159.9L191.1 160.7L192.2 161.4L193.3 162.1L194.4 162.9L195.4 163.6L196.5 164.4L197.6 165.1L198.6 165.9L199.7 166.6L200.8 167.3L201.8 168.1L202.9 168.8L204.0 169.6L205.1 170.3L206.1 171.1L207.2 171.8L208.3 172.5L209.3 173.3L210.4 174.0L211.5 174.8L212.5 175.5L213.6 176.3L214.7 177.0L215.7 177.7L216.8 178.5L217.9 179.2L219.0 180.0L220.0 180.7L221.1 181.4L222.2 182.2L223.2 182.9L224.3 183.7L225.4 184.4L226.4 185.2L227.5 185.9L228.6 186.6L229.6 187.4L230.7 188.1L231.8 188.9L232.9 189.6L233.9 190.3L235.0 191.1L236.1 191.8L237.1 192.6L238.2 193.3L239.3 194.0L240.3 194.8L241.4 195.5L242.5 196.3L243.6 197.0L244.6 197.8L245.7 198.5L246.8 199.2L247.8 200.0L248.9 200.7L250.0 201.5L251.0 202.2L252.1 202.9L253.2 203.7L254.2 204.4L255.3 205.2L256.4 205.9L257.5 206.6L258.5 207.4L259.6 208.1L260.7 208.9L261.7 209.6L262.8 210.3L263.9 211.1L264.9 211.8L266.0 212.6L267.1 213.3L268.2 214.1L269.2 214.8L270.3 215.5L271.4 216.3L272.4 217.0L273.5 217.8L274.6 218.5L275.6 219.2L276.7 220.0L277.8 220.7"/><path class="c" stroke="#f37a1c" d="M78.8 71.7L79.9 73.0L81.0 74.4L82.1 75.7L83.1 77.0L84.2 78.3L85.3 79.5L86.3 80.7L87.4 81.9L88.5 83.1L89.5 84.2L90.6 85.4L91.7 86.5L92.8 87.5L93.8 88.6L94.9 89.6L96.0 90.7L97.0 91.7L98.1 92.7L99.2 93.7L100.2 94.6L101.3 95.6L102.4 96.5L103.4 97.5L104.5 98.4L105.6 99.3L106.7 100.2L107.7 101.1L108.8 102.0L109.9 102.9L110.9 103.8L112.0 104.7L113.1 105.5L114.1 106.4L115.2 107.2L116.3 108.1L117.4 108.9L118.4 109.8L119.5 110.6L120.6 111.4L121.6 112.2L122.7 113.0L123.8 113.9L124.8 114.7L125.9 115.5L127.0 116.3L128.0 117.1L129.1 117.9L130.2 118.7L131.3 119.5L132.3 120.2L133.4 121.0L134.5 121.8L135.5 122.6L136.6 123.4L137.7 124.2L138.7 124.9L139.8 125.7L140.9 126.5L142.0 127.2L143.0 128.0L144.1 128.8L145.2 129.5L146.2 130.3L147.3 131.1L148.4 131.8L149.4 132.6L150.5 133.4L151.6 134.1L152.6 134.9L153.7 135.6L154.8 136.4L155.9 137.2L156.9 137.9L158.0 138.7L159.1 139.4L160.1 140.2L161.2 140.9L162.3 141.7L163.3 142.4L164.4 143.2L165.5 143.9L166.5 144.7L167.6 145.4L168.7 146.2L169.8 146.9L170.8 147.7L171.9 148.4L173.0 149.2L174.0 149.9L175.1 150.7L176.2 151.4L177.2 152.2L178.3 152.9L179.4 153.7L180.5 154.4L181.5 155.1L182.6 155.9L183.7 156.6L184.7 157.4L185.8 158.1L186.9 158.9L187.9 159.6L189.0 160.4L190.1 161.1L191.1 161.8L192.2 162.6L193.3 163.3L194.4 164.1L195.4 164.8L196.5 165.6L197.6 166.3L198.6 167.0L199.7 167.8L200.8 168.5L201.8 169.3L202.9 170.0L204.0 170.8L205.1 171.5L206.1 172.2L207.2 173.0L208.3 173.7L209.3 174.5L210.4 175.2L211.5 176.0L212.5 176.7L213.6 177.4L214.7 178.2L215.7 178.9L216.8 179.7L217.9 180.4L219.0 181.1L220.0 181.9L221.1 182.6L222.2 183.4L223.2 184.1L224.3 184.9L225.4 185.6L226.4 186.3L227.5 187.1L228.6 187.8L229.6 188.6L230.7 189.3L231.8 190.0L232.9 190.8L233.9 191.5L235.0 192.3L236.1 193.0L237.1 193.7L238.2 194.5L239.3 195.2L240.3 196.0L241.4 196.7L242.5 197.5L243.6 198.2L244.6 198.9L245.7 199.7L246.8 200.4L247.8 201.2L248.9 201.9L250.0 202.6L251.0 203.4L252.1 204.1L253.2 204.9L254.2 205.6L255.3 206.3L256.4 207.1L257.5 207.8L258.5 208.6L259.6 209.3L260.7 210.1L261.7 210.8L262.8 211.5L263.9 212.3L264.9 213.0L266.0 213.8L267.1 214.5L268.2 215.2L269.2 216.0L270.3 216.7L271.4 217.5L272.4 218.2L273.5 218.9L274.6 219.7L275.6 220.4L276.7 221.2"/><path class="c" stroke="#f77465" d="M78.8 68.3L79.9 70.0L81.0 71.6L82.1 73.2L83.1 74.7L84.2 76.2L85.3 77.6L86.3 79.0L87.4 80.4L88.5 81.7L89.5 83.0L90.6 84.3L91.7 85.5L92.8 86.7L93.8 87.9L94.9 89.1L96.0 90.2L97.0 91.3L98.1 92.4L99.2 93.5L100.2 94.5L101.3 95.6L102.4 96.6L103.4 97.6L104.5 98.6L105.6 99.6L106.7 100.5L107.7 101.5L108.8 102.4L109.9 103.3L110.9 104.3L112.0 105.2L113.1 106.1L114.1 107.0L115.2 107.8L116.3 108.7L117.4 109.6L118.4 110.4L119.5 111.3L120.6 112.1L121.6 113.0L122.7 113.8L123.8 114.6L124.8 115.5L125.9 116.3L127.0 117.1L128.0 117.9L129.1 118.7L130.2 119.5L131.3 120.3L132.3 121.1L133.4 121.9L134.5 122.7L135.5 123.5L136.6 124.3L137.7 125.1L138.7 125.9L139.8 126.6L140.9 127.4L142.0 128.2L143.0 129.0L144.1 129.7L145.2 130.5L146.2 131.3L147.3 132.1L148.4 132.8L149.4 133.6L150.5 134.3L151.6 135.1L152.6 135.9L153.7 136.6L154.8 137.4L155.9 138.2L156.9 138.9L158.0 139.7L159.1 140.4L160.1 141.2L161.2 141.9L162.3 142.7L163.3 143.4L164.4 144.2L165.5 144.9L166.5 145.7L167.6 146.4L168.7 147.2L169.8 147.9L170.8 148.7L171.9 149.4L173.0 150.2L174.0 150.9L175.1 151.7L176.2 152.4L177.2 153.2L178.3 153.9L179.4 154.7L180.5 155.4L181.5 156.2L182.6 156.9L183.7 157.7L184.7 158.4L185.8 159.2L186.9 159.9L187.9 160.6L189.0 161.4L190.1 162.1L191.1 162.9L192.2 163.6L193.3 164.4L194.4 165.1L195.4 165.8L196.5 166.6L197.6 167.3L198.6 168.1L199.7 168.8L200.8 169.6L201.8 170.3L202.9 171.1L204.0 171.8L205.1 172.5L206.1 173.3L207.2 174.0L208.3 174.8L209.3 175.5L210.4 176.2L211.5 177.0L212.5 177.7L213.6 178.5L214.7 179.2L215.7 180.0L216.8 180.7L217.9 181.4L219.0 182.2L220.0 182.9L221.1 183.7L222.2 184.4L223.2 185.1L224.3 185.9L225.4 186.6L226.4 187.4L227.5 188.1L228.6 188.9L229.6 189.6L230.7 190.3L231.8 191.1L232.9 191.8L233.9 192.6L235.0 193.3L236.1 194.0L237.1 194.8L238.2 195.5L239.3 196.3L240.3 197.0L241.4 197.8L242.5 198.5L243.6 199.2L244.6 200.0L245.7 200.7L246.8 201.5L247.8 202.2L248.9 202.9L250.0 203.7L251.0 204.4L252.1 205.2L253.2 205.9L254.2 206.6L255.3 207.4L256.4 208.1L257.5 208.9L258.5 209.6L259.6 210.3L260.7 211.1L261.7 211.8L262.8 212.6L263.9 213.3L264.9 214.1L266.0 214.8L267.1 215.5L268.2 216.3L269.2 217.0L270.3 217.8L271.4 218.5L272.4 219.2L273.5 220.0L274.6 220.7"/><path class="c" stroke="#6b9bf4" d="M78.8 60.9L79.9 63.0L81.0 65.0L82.1 66.9L83.1 68.8L84.2 70.6L85.3 72.4L86.3 74.2L87.4 75.8L88.5 77.5L89.5 79.1L90.6 80.6L91.7 82.1L92.8 83.6L93.8 85.0L94.9 86.4L96.0 87.8L97.0 89.1L98.1 90.4L99.2 91.7L100.2 92.9L101.3 94.1L102.4 95.3L103.4 96.4L104.5 97.6L105.6 98.7L106.7 99.7L107.7 100.8L108.8 101.9L109.9 102.9L110.9 103.9L112.0 104.9L113.1 105.9L114.1 106.8L115.2 107.8L116.3 108.7L117.4 109.7L118.4 110.6L119.5 111.5L120.6 112.4L121.6 113.3L122.7 114.2L123.8 115.0L124.8 115.9L125.9 116.8L127.0 117.6L128.0 118.5L129.1 119.3L130.2 120.1L131.3 121.0L132.3 121.8L133.4 122.6L134.5 123.4L135.5 124.2L136.6 125.0L137.7 125.8L138.7 126.6L139.8 127.4L140.9 128.2L142.0 129.0L143.0 129.8L144.1 130.6L145.2 131.4L146.2 132.2L147.3 132.9L148.4 133.7L149.4 134.5L150.5 135.3L151.6 136.0L152.6 136.8L153.7 137.6L154.8 138.3L155.9 139.1L156.9 139.9L158.0 140.6L159.1 141.4L160.1 142.1L161.2 142.9L162.3 143.7L163.3 144.4L164.4 145.2L165.5 145.9L166.5 146.7L167.6 147.4L168.7 148.2L169.8 148.9L170.8 149.7L171.9 150.4L173.0 151.2L174.0 151.9L175.1 152.7L176.2 153.4L177.2 154.2L178.3 154.9L179.4 155.7L180.5 156.4L181.5 157.2L182.6 157.9L183.7 158.7L184.7 159.4L185.8 160.2L186.9 160.9L187.9 161.7L189.0 162.4L190.1 163.2L191.1 163.9L192.2 164.6L193.3 165.4L194.4 166.1L195.4 166.9L196.5 167.6L197.6 168.4L198.6 169.1L199.7 169.8L200.8 170.6L201.8 171.3L202.9 172.1L204.0 172.8L205.1 173.6L206.1 174.3L207.2 175.1L208.3 175.8L209.3 176.5L210.4 177.3L211.5 178.0L212.5 178.8L213.6 179.5L214.7 180.2L215.7 181.0L216.8 181.7L217.9 182.5L219.0 183.2L220.0 184.0L221.1 184.7L222.2 185.4L223.2 186.2L224.3 186.9L225.4 187.7L226.4 188.4L227.5 189.1L228.6 189.9L229.6 190.6L230.7 191.4L231.8 192.1L232.9 192.9L233.9 193.6L235.0 194.3L236.1 195.1L237.1 195.8L238.2 196.6L239.3 197.3L240.3 198.0L241.4 198.8L242.5 199.5L243.6 200.3L244.6 201.0L245.7 201.8L246.8 202.5L247.8 203.2L248.9 204.0L250.0 204.7L251.0 205.5L252.1 206.2L253.2 206.9L254.2 207.7L255.3 208.4L256.4 209.2L257.5 209.9L258.5 210.6L259.6 211.4L260.7 212.1L261.7 212.9L262.8 213.6L263.9 214.3L264.9 215.1L266.0 215.8L267.1 216.6L268.2 217.3L269.2 218.1L270.3 218.8L271.4 219.5L272.4 220.3L273.5 221.0"/><path class="c" stroke="#f76e89" d="M78.8 69.4L79.9 71.1L81.0 72.7L82.1 74.3L83.1 75.8L84.2 77.3L85.3 78.7L86.3 80.1L87.4 81.5L88.5 82.8L89.5 84.2L90.6 85.4L91.7 86.7L92.8 87.9L93.8 89.1L94.9 90.2L96.0 91.4L97.0 92.5L98.1 93.6L99.2 94.7L100.2 95.7L101.3 96.8L102.4 97.8L103.4 98.8L104.5 99.8L105.6 100.8L106.7 101.7L107.7 102.7L108.8 103.6L109.9 104.5L110.9 105.5L112.0 106.4L113.1 107.3L114.1 108.2L115.2 109.0L116.3 109.9L117.4 110.8L118.4 111.6L119.5 112.5L120.6 113.3L121.6 114.2L122.7 115.0L123.8 115.8L124.8 116.7L125.9 117.5L127.0 118.3L128.0 119.1L129.1 119.9L130.2 120.7L131.3 121.5L132.3 122.3L133.4 123.1L134.5 123.9L135.5 124.7L136.6 125.5L137.7 126.3L138.7 127.1L139.8 127.8L140.9 128.6L142.0 129.4L143.0 130.2L144.1 130.9L145.2 131.7L146.2 132.5L147.3 133.2L148.4 134.0L149.4 134.8L150.5 135.5L151.6 136.3L152.6 137.1L153.7 137.8L154.8 138.6L155.9 139.3L156.9 140.1L158.0 140.9L159.1 141.6L160.1 142.4L161.2 143.1L162.3 143.9L163.3 144.6L164.4 145.4L165.5 146.1L166.5 146.9L167.6 147.6L168.7 148.4L169.8 149.1L170.8 149.9L171.9 150.6L173.0 151.4L174.0 152.1L175.1 152.9L176.2 153.6L177.2 154.4L178.3 155.1L179.4 155.9L180.5 156.6L181.5 157.4L182.6 158.1L183.7 158.8L184.7 159.6L185.8 160.3L186.9 161.1L187.9 161.8L189.0 162.6L190.1 163.3L191.1 164.1L192.2 164.8L193.3 165.5L194.4 166.3L195.4 167.0L196.5 167.8L197.6 168.5L198.6 169.3L199.7 170.0L200.8 170.8L201.8 171.5L202.9 172.2L204.0 173.0L205.1 173.7L206.1 174.5L207.2 175.2L208.3 175.9L209.3 176.7L210.4 177.4L211.5 178.2L212.5 178.9L213.6 179.7L214.7 180.4L215.7 181.1L216.8 181.9L217.9 182.6L219.0 183.4L220.0 184.1L221.1 184.9L222.2 185.6L223.2 186.3L224.3 187.1L225.4 187.8L226.4 188.6L227.5 189.3L228.6 190.0L229.6 190.8L230.7 191.5L231.8 192.3L232.9 193.0L233.9 193.7L235.0 194.5L236.1 195.2L237.1 196.0L238.2 196.7L239.3 197.5L240.3 198.2L241.4 198.9L242.5 199.7L243.6 200.4L244.6 201.2L245.7 201.9L246.8 202.6L247.8 203.4L248.9 204.1L250.0 204.9L251.0 205.6L252.1 206.3L253.2 207.1L254.2 207.8L255.3 208.6L256.4 209.3L257.5 210.1L258.5 210.8L259.6 211.5L260.7 212.3L261.7 213.0L262.8 213.8L263.9 214.5L264.9 215.2L266.0 216.0L267.1 216.7L268.2 217.5L269.2 218.2L270.3 218.9L271.4 219.7L272.4 220.4L273.5 221.2"/><path class="c" stroke="#1eacae" d="M78.8 78.1L79.9 79.3L81.0 80.6L82.1 81.8L83.1 83.0L84.2 84.1L85.3 85.3L86.3 86.4L87.4 87.5L88.5 88.6L89.5 89.6L90.6 90.7L91.7 91.7L92.8 92.7L93.8 93.7L94.9 94.7L96.0 95.7L97.0 96.6L98.1 97.6L99.2 98.5L100.2 99.4L101.3 100.4L102.4 101.3L103.4 102.2L104.5 103.1L105.6 103.9L106.7 104.8L107.7 105.7L108.8 106.5L109.9 107.4L110.9 108.3L112.0 109.1L113.1 109.9L114.1 110.8L115.2 111.6L116.3 112.4L117.4 113.3L118.4 114.1L119.5 114.9L120.6 115.7L121.6 116.5L122.7 117.3L123.8 118.1L124.8 118.9L125.9 119.7L127.0 120.5L128.0 121.3L129.1 122.1L130.2 122.8L131.3 123.6L132.3 124.4L133.4 125.2L134.5 126.0L135.5 126.7L136.6 127.5L137.7 128.3L138.7 129.0L139.8 129.8L140.9 130.6L142.0 131.3L143.0 132.1L144.1 132.9L145.2 133.6L146.2 134.4L147.3 135.2L148.4 135.9L149.4 136.7L150.5 137.4L151.6 138.2L152.6 138.9L153.7 139.7L154.8 140.5L155.9 141.2L156.9 142.0L158.0 142.7L159.1 143.5L160.1 144.2L161.2 145.0L162.3 145.7L163.3 146.5L164.4 147.2L165.5 148.0L166.5 148.7L167.6 149.5L168.7 150.2L169.8 151.0L170.8 151.7L171.9 152.5L173.0 153.2L174.0 153.9L175.1 154.7L176.2 155.4L177.2 156.2L178.3 156.9L179.4 157.7L180.5 158.4L181.5 159.2L182.6 159.9L183.7 160.6L184.7 161.4L185.8 162.1L186.9 162.9L187.9 163.6L189.0 164.4L190.1 165.1L191.1 165.9L192.2 166.6L193.3 167.3L194.4 168.1L195.4 168.8L196.5 169.6L197.6 170.3L198.6 171.1L199.7 171.8L200.8 172.5L201.8 173.3L202.9 174.0L204.0 174.8L205.1 175.5L206.1 176.2L207.2 177.0L208.3 177.7L209.3 178.5L210.4 179.2L211.5 180.0L212.5 180.7L213.6 181.4L214.7 182.2L215.7 182.9L216.8 183.7L217.9 184.4L219.0 185.2L220.0 185.9L221.1 186.6L222.2 187.4L223.2 188.1L224.3 188.9L225.4 189.6L226.4 190.3L227.5 191.1L228.6 191.8L229.6 192.6L230.7 193.3L231.8 194.0L232.9 194.8L233.9 195.5L235.0 196.3L236.1 197.0L237.1 197.8L238.2 198.5L239.3 199.2L240.3 200.0L241.4 200.7L242.5 201.5L243.6 202.2L244.6 202.9L245.7 203.7L246.8 204.4L247.8 205.2L248.9 205.9L250.0 206.6L251.0 207.4L252.1 208.1L253.2 208.9L254.2 209.6L255.3 210.3L256.4 211.1L257.5 211.8L258.5 212.6L259.6 213.3L260.7 214.1L261.7 214.8L262.8 215.5L263.9 216.3L264.9 217.0L266.0 217.8L267.1 218.5L268.2 219.2L269.2 220.0L270.3 220.7"/><path class="c" stroke="#6b9bf4" d="M78.8 88.1L79.9 88.9L81.0 89.7L82.1 90.6L83.1 91.4L84.2 92.2L85.3 93.0L86.3 93.9L87.4 94.7L88.5 95.5L89.5 96.3L90.6 97.1L91.7 97.9L92.8 98.7L93.8 99.5L94.9 100.3L96.0 101.1L97.0 101.9L98.1 102.7L99.2 103.5L100.2 104.2L101.3 105.0L102.4 105.8L103.4 106.6L104.5 107.4L105.6 108.1L106.7 108.9L107.7 109.7L108.8 110.4L109.9 111.2L110.9 112.0L112.0 112.7L113.1 113.5L114.1 114.3L115.2 115.0L116.3 115.8L117.4 116.6L118.4 117.3L119.5 118.1L120.6 118.8L121.6 119.6L122.7 120.3L123.8 121.1L124.8 121.9L125.9 122.6L127.0 123.4L128.0 124.1L129.1 124.9L130.2 125.6L131.3 126.4L132.3 127.1L133.4 127.9L134.5 128.6L135.5 129.4L136.6 130.1L137.7 130.9L138.7 131.6L139.8 132.4L140.9 133.1L142.0 133.8L143.0 134.6L144.1 135.3L145.2 136.1L146.2 136.8L147.3 137.6L148.4 138.3L149.4 139.1L150.5 139.8L151.6 140.6L152.6 141.3L153.7 142.0L154.8 142.8L155.9 143.5L156.9 144.3L158.0 145.0L159.1 145.8L160.1 146.5L161.2 147.2L162.3 148.0L163.3 148.7L164.4 149.5L165.5 150.2L166.5 151.0L167.6 151.7L168.7 152.4L169.8 153.2L170.8 153.9L171.9 154.7L173.0 155.4L174.0 156.2L175.1 156.9L176.2 157.6L177.2 158.4L178.3 159.1L179.4 159.9L180.5 160.6L181.5 161.3L182.6 162.1L183.7 162.8L184.7 163.6L185.8 164.3L186.9 165.0L187.9 165.8L189.0 166.5L190.1 167.3L191.1 168.0L192.2 168.8L193.3 169.5L194.4 170.2L195.4 171.0L196.5 171.7L197.6 172.5L198.6 173.2L199.7 173.9L200.8 174.7L201.8 175.4L202.9 176.2L204.0 176.9L205.1 177.6L206.1 178.4L207.2 179.1L208.3 179.9L209.3 180.6L210.4 181.4L211.5 182.1L212.5 182.8L213.6 183.6L214.7 184.3L215.7 185.1L216.8 185.8L217.9 186.5L219.0 187.3L220.0 188.0L221.1 188.8L222.2 189.5L223.2 190.2L224.3 191.0L225.4 191.7L226.4 192.5L227.5 193.2L228.6 193.9L229.6 194.7L230.7 195.4L231.8 196.2L232.9 196.9L233.9 197.7L235.0 198.4L236.1 199.1L237.1 199.9L238.2 200.6L239.3 201.4L240.3 202.1L241.4 202.8L242.5 203.6L243.6 204.3L244.6 205.1L245.7 205.8L246.8 206.5L247.8 207.3L248.9 208.0L250.0 208.8L251.0 209.5L252.1 210.2L253.2 211.0L254.2 211.7L255.3 212.5L256.4 213.2L257.5 214.0L258.5 214.7L259.6 215.4L260.7 216.2L261.7 216.9L262.8 217.7L263.9 218.4L264.9 219.1L266.0 219.9L267.1 220.6L268.2 221.4"/><path class="c" stroke="#1fa7d5" d="M78.8 79.7L79.9 81.1L81.0 82.5L82.1 83.8L83.1 85.1L84.2 86.3L85.3 87.5L86.3 88.7L87.4 89.9L88.5 91.1L89.5 92.2L90.6 93.3L91.7 94.4L92.8 95.4L93.8 96.5L94.9 97.5L96.0 98.5L97.0 99.5L98.1 100.5L99.2 101.5L100.2 102.4L101.3 103.4L102.4 104.3L103.4 105.2L104.5 106.1L105.6 107.0L106.7 107.9L107.7 108.8L108.8 109.7L109.9 110.6L110.9 111.4L112.0 112.3L113.1 113.1L114.1 114.0L115.2 114.8L116.3 115.6L117.4 116.5L118.4 117.3L119.5 118.1L120.6 118.9L121.6 119.7L122.7 120.5L123.8 121.3L124.8 122.1L125.9 122.9L127.0 123.7L128.0 124.5L129.1 125.3L130.2 126.1L131.3 126.9L132.3 127.7L133.4 128.4L134.5 129.2L135.5 130.0L136.6 130.8L137.7 131.5L138.7 132.3L139.8 133.1L140.9 133.8L142.0 134.6L143.0 135.4L144.1 136.1L145.2 136.9L146.2 137.7L147.3 138.4L148.4 139.2L149.4 139.9L150.5 140.7L151.6 141.5L152.6 142.2L153.7 143.0L154.8 143.7L155.9 144.5L156.9 145.2L158.0 146.0L159.1 146.7L160.1 147.5L161.2 148.2L162.3 149.0L163.3 149.7L164.4 150.5L165.5 151.2L166.5 152.0L167.6 152.7L168.7 153.5L169.8 154.2L170.8 155.0L171.9 155.7L173.0 156.5L174.0 157.2L175.1 158.0L176.2 158.7L177.2 159.4L178.3 160.2L179.4 160.9L180.5 161.7L181.5 162.4L182.6 163.2L183.7 163.9L184.7 164.7L185.8 165.4L186.9 166.1L187.9 166.9L189.0 167.6L190.1 168.4L191.1 169.1L192.2 169.9L193.3 170.6L194.4 171.3L195.4 172.1L196.5 172.8L197.6 173.6L198.6 174.3L199.7 175.1L200.8 175.8L201.8 176.5L202.9 177.3L204.0 178.0L205.1 178.8L206.1 179.5L207.2 180.3L208.3 181.0L209.3 181.7L210.4 182.5L211.5 183.2L212.5 184.0L213.6 184.7L214.7 185.4L215.7 186.2L216.8 186.9L217.9 187.7L219.0 188.4L220.0 189.2L221.1 189.9L222.2 190.6L223.2 191.4L224.3 192.1L225.4 192.9L226.4 193.6L227.5 194.3L228.6 195.1L229.6 195.8L230.7 196.6L231.8 197.3L232.9 198.0L233.9 198.8L235.0 199.5L236.1 200.3L237.1 201.0L238.2 201.8L239.3 202.5L240.3 203.2L241.4 204.0L242.5 204.7L243.6 205.5L244.6 206.2L245.7 206.9L246.8 207.7L247.8 208.4L248.9 209.2L250.0 209.9L251.0 210.6L252.1 211.4L253.2 212.1L254.2 212.9L255.3 213.6L256.4 214.3L257.5 215.1L258.5 215.8L259.6 216.6L260.7 217.3L261.7 218.1L262.8 218.8L263.9 219.5L264.9 220.3L266.0 221.0"/><path class="c" stroke="#e863f4" d="M78.8 64.8L79.9 66.9L81.0 69.0L82.1 71.0L83.1 73.0L84.2 74.9L85.3 76.8L86.3 78.6L87.4 80.4L88.5 82.1L89.5 83.8L90.6 85.4L91.7 87.0L92.8 88.6L93.8 90.1L94.9 91.6L96.0 93.0L97.0 94.4L98.1 95.8L99.2 97.2L100.2 98.5L101.3 99.8L102.4 101.0L103.4 102.2L104.5 103.4L105.6 104.6L106.7 105.7L107.7 106.9L108.8 107.9L109.9 109.0L110.9 110.1L112.0 111.1L113.1 112.1L114.1 113.1L115.2 114.1L116.3 115.1L117.4 116.1L118.4 117.0L119.5 117.9L120.6 118.9L121.6 119.8L122.7 120.7L123.8 121.6L124.8 122.5L125.9 123.3L127.0 124.2L128.0 125.0L129.1 125.9L130.2 126.7L131.3 127.6L132.3 128.4L133.4 129.2L134.5 130.1L135.5 130.9L136.6 131.7L137.7 132.5L138.7 133.3L139.8 134.1L140.9 134.9L142.0 135.7L143.0 136.5L144.1 137.3L145.2 138.0L146.2 138.8L147.3 139.6L148.4 140.4L149.4 141.2L150.5 141.9L151.6 142.7L152.6 143.5L153.7 144.2L154.8 145.0L155.9 145.8L156.9 146.5L158.0 147.3L159.1 148.1L160.1 148.8L161.2 149.6L162.3 150.3L163.3 151.1L164.4 151.8L165.5 152.6L166.5 153.4L167.6 154.1L168.7 154.9L169.8 155.6L170.8 156.4L171.9 157.1L173.0 157.9L174.0 158.6L175.1 159.4L176.2 160.1L177.2 160.9L178.3 161.6L179.4 162.4L180.5 163.1L181.5 163.9L182.6 164.6L183.7 165.4L184.7 166.1L185.8 166.8L186.9 167.6L187.9 168.3L189.0 169.1L190.1 169.8L191.1 170.6L192.2 171.3L193.3 172.1L194.4 172.8L195.4 173.5L196.5 174.3L197.6 175.0L198.6 175.8L199.7 176.5L200.8 177.3L201.8 178.0L202.9 178.8L204.0 179.5L205.1 180.2L206.1 181.0L207.2 181.7L208.3 182.5L209.3 183.2L210.4 183.9L211.5 184.7L212.5 185.4L213.6 186.2L214.7 186.9L215.7 187.7L216.8 188.4L217.9 189.1L219.0 189.9L220.0 190.6L221.1 191.4L222.2 192.1L223.2 192.9L224.3 193.6L225.4 194.3L226.4 195.1L227.5 195.8L228.6 196.6L229.6 197.3L230.7 198.0L231.8 198.8L232.9 199.5L233.9 200.3L235.0 201.0L236.1 201.7L237.1 202.5L238.2 203.2L239.3 204.0L240.3 204.7L241.4 205.5L242.5 206.2L243.6 206.9L244.6 207.7L245.7 208.4L246.8 209.2L247.8 209.9L248.9 210.6L250.0 211.4L251.0 212.1L252.1 212.9L253.2 213.6L254.2 214.3L255.3 215.1L256.4 215.8L257.5 216.6L258.5 217.3L259.6 218.1L260.7 218.8L261.7 219.5L262.8 220.3L263.9 221.0"/><path class="c" stroke="#20a3ec" d="M78.8 83.0L79.9 84.3L81.0 85.6L82.1 86.9L83.1 88.1L84.2 89.3L85.3 90.5L86.3 91.6L87.4 92.8L88.5 93.9L89.5 95.0L90.6 96.1L91.7 97.1L92.8 98.1L93.8 99.2L94.9 100.2L96.0 101.2L97.0 102.1L98.1 103.1L99.2 104.0L100.2 105.0L101.3 105.9L102.4 106.8L103.4 107.7L104.5 108.6L105.6 109.5L106.7 110.4L107.7 111.3L108.8 112.1L109.9 113.0L110.9 113.8L112.0 114.7L113.1 115.5L114.1 116.4L115.2 117.2L116.3 118.0L117.4 118.8L118.4 119.6L119.5 120.5L120.6 121.3L121.6 122.1L122.7 122.9L123.8 123.7L124.8 124.5L125.9 125.3L127.0 126.0L128.0 126.8L129.1 127.6L130.2 128.4L131.3 129.2L132.3 130.0L133.4 130.7L134.5 131.5L135.5 132.3L136.6 133.0L137.7 133.8L138.7 134.6L139.8 135.4L140.9 136.1L142.0 136.9L143.0 137.6L144.1 138.4L145.2 139.2L146.2 139.9L147.3 140.7L148.4 141.4L149.4 142.2L150.5 142.9L151.6 143.7L152.6 144.5L153.7 145.2L154.8 146.0L155.9 146.7L156.9 147.5L158.0 148.2L159.1 149.0L160.1 149.7L161.2 150.5L162.3 151.2L163.3 152.0L164.4 152.7L165.5 153.5L166.5 154.2L167.6 155.0L168.7 155.7L169.8 156.5L170.8 157.2L171.9 157.9L173.0 158.7L174.0 159.4L175.1 160.2L176.2 160.9L177.2 161.7L178.3 162.4L179.4 163.2L180.5 163.9L181.5 164.7L182.6 165.4L183.7 166.1L184.7 166.9L185.8 167.6L186.9 168.4L187.9 169.1L189.0 169.9L190.1 170.6L191.1 171.3L192.2 172.1L193.3 172.8L194.4 173.6L195.4 174.3L196.5 175.1L197.6 175.8L198.6 176.5L199.7 177.3L200.8 178.0L201.8 178.8L202.9 179.5L204.0 180.3L205.1 181.0L206.1 181.7L207.2 182.5L208.3 183.2L209.3 184.0L210.4 184.7L211.5 185.4L212.5 186.2L213.6 186.9L214.7 187.7L215.7 188.4L216.8 189.2L217.9 189.9L219.0 190.6L220.0 191.4L221.1 192.1L222.2 192.9L223.2 193.6L224.3 194.3L225.4 195.1L226.4 195.8L227.5 196.6L228.6 197.3L229.6 198.0L230.7 198.8L231.8 199.5L232.9 200.3L233.9 201.0L235.0 201.8L236.1 202.5L237.1 203.2L238.2 204.0L239.3 204.7L240.3 205.5L241.4 206.2L242.5 206.9L243.6 207.7L244.6 208.4L245.7 209.2L246.8 209.9L247.8 210.6L248.9 211.4L250.0 212.1L251.0 212.9L252.1 213.6L253.2 214.3L254.2 215.1L255.3 215.8L256.4 216.6L257.5 217.3L258.5 218.1L259.6 218.8L260.7 219.5L261.7 220.3L262.8 221.0"/><path class="c" stroke="#6b9bf4" d="M78.8 85.6L79.9 86.8L81.0 88.0L82.1 89.2L83.1 90.4L84.2 91.5L85.3 92.6L86.3 93.7L87.4 94.8L88.5 95.8L89.5 96.9L90.6 97.9L91.7 98.9L92.8 99.9L93.8 100.8L94.9 101.8L96.0 102.8L97.0 103.7L98.1 104.6L99.2 105.5L100.2 106.4L101.3 107.3L102.4 108.2L103.4 109.1L104.5 110.0L105.6 110.9L106.7 111.7L107.7 112.6L108.8 113.4L109.9 114.3L110.9 115.1L112.0 115.9L113.1 116.8L114.1 117.6L115.2 118.4L116.3 119.2L117.4 120.0L118.4 120.8L119.5 121.6L120.6 122.4L121.6 123.2L122.7 124.0L123.8 124.8L124.8 125.6L125.9 126.4L127.0 127.2L128.0 128.0L129.1 128.7L130.2 129.5L131.3 130.3L132.3 131.1L133.4 131.8L134.5 132.6L135.5 133.4L136.6 134.1L137.7 134.9L138.7 135.7L139.8 136.4L140.9 137.2L142.0 138.0L143.0 138.7L144.1 139.5L145.2 140.2L146.2 141.0L147.3 141.7L148.4 142.5L149.4 143.3L150.5 144.0L151.6 144.8L152.6 145.5L153.7 146.3L154.8 147.0L155.9 147.8L156.9 148.5L158.0 149.3L159.1 150.0L160.1 150.8L161.2 151.5L162.3 152.3L163.3 153.0L164.4 153.8L165.5 154.5L166.5 155.3L167.6 156.0L168.7 156.8L169.8 157.5L170.8 158.2L171.9 159.0L173.0 159.7L174.0 160.5L175.1 161.2L176.2 162.0L177.2 162.7L178.3 163.5L179.4 164.2L180.5 164.9L181.5 165.7L182.6 166.4L183.7 167.2L184.7 167.9L185.8 168.7L186.9 169.4L187.9 170.2L189.0 170.9L190.1 171.6L191.1 172.4L192.2 173.1L193.3 173.9L194.4 174.6L195.4 175.4L196.5 176.1L197.6 176.8L198.6 177.6L199.7 178.3L200.8 179.1L201.8 179.8L202.9 180.5L204.0 181.3L205.1 182.0L206.1 182.8L207.2 183.5L208.3 184.3L209.3 185.0L210.4 185.7L211.5 186.5L212.5 187.2L213.6 188.0L214.7 188.7L215.7 189.4L216.8 190.2L217.9 190.9L219.0 191.7L220.0 192.4L221.1 193.2L222.2 193.9L223.2 194.6L224.3 195.4L225.4 196.1L226.4 196.9L227.5 197.6L228.6 198.3L229.6 199.1L230.7 199.8L231.8 200.6L232.9 201.3L233.9 202.0L235.0 202.8L236.1 203.5L237.1 204.3L238.2 205.0L239.3 205.8L240.3 206.5L241.4 207.2L242.5 208.0L243.6 208.7L244.6 209.5L245.7 210.2L246.8 210.9L247.8 211.7L248.9 212.4L250.0 213.2L251.0 213.9L252.1 214.6L253.2 215.4L254.2 216.1L255.3 216.9L256.4 217.6L257.5 218.4L258.5 219.1L259.6 219.8L260.7 220.6L261.7 221.3"/><path class="c" stroke="#f562cc" d="M78.8 73.8L79.9 75.7L81.0 77.5L82.1 79.3L83.1 81.0L84.2 82.7L85.3 84.3L86.3 85.9L87.4 87.5L88.5 89.0L89.5 90.5L90.6 91.9L91.7 93.3L92.8 94.7L93.8 96.0L94.9 97.4L96.0 98.6L97.0 99.9L98.1 101.1L99.2 102.3L100.2 103.4L101.3 104.6L102.4 105.7L103.4 106.8L104.5 107.9L105.6 108.9L106.7 110.0L107.7 111.0L108.8 112.0L109.9 113.0L110.9 113.9L112.0 114.9L113.1 115.9L114.1 116.8L115.2 117.7L116.3 118.6L117.4 119.5L118.4 120.4L119.5 121.3L120.6 122.2L121.6 123.0L122.7 123.9L123.8 124.7L124.8 125.6L125.9 126.4L127.0 127.2L128.0 128.1L129.1 128.9L130.2 129.7L131.3 130.5L132.3 131.3L133.4 132.1L134.5 132.9L135.5 133.7L136.6 134.5L137.7 135.3L138.7 136.1L139.8 136.9L140.9 137.6L142.0 138.4L143.0 139.2L144.1 140.0L145.2 140.7L146.2 141.5L147.3 142.3L148.4 143.1L149.4 143.8L150.5 144.6L151.6 145.4L152.6 146.1L153.7 146.9L154.8 147.6L155.9 148.4L156.9 149.2L158.0 149.9L159.1 150.7L160.1 151.4L161.2 152.2L162.3 152.9L163.3 153.7L164.4 154.4L165.5 155.2L166.5 155.9L167.6 156.7L168.7 157.4L169.8 158.2L170.8 158.9L171.9 159.7L173.0 160.4L174.0 161.2L175.1 161.9L176.2 162.7L177.2 163.4L178.3 164.2L179.4 164.9L180.5 165.7L181.5 166.4L182.6 167.2L183.7 167.9L184.7 168.6L185.8 169.4L186.9 170.1L187.9 170.9L189.0 171.6L190.1 172.4L191.1 173.1L192.2 173.8L193.3 174.6L194.4 175.3L195.4 176.1L196.5 176.8L197.6 177.6L198.6 178.3L199.7 179.1L200.8 179.8L201.8 180.5L202.9 181.3L204.0 182.0L205.1 182.8L206.1 183.5L207.2 184.2L208.3 185.0L209.3 185.7L210.4 186.5L211.5 187.2L212.5 188.0L213.6 188.7L214.7 189.4L215.7 190.2L216.8 190.9L217.9 191.7L219.0 192.4L220.0 193.1L221.1 193.9L222.2 194.6L223.2 195.4L224.3 196.1L225.4 196.9L226.4 197.6L227.5 198.3L228.6 199.1L229.6 199.8L230.7 200.6L231.8 201.3L232.9 202.0L233.9 202.8L235.0 203.5L236.1 204.3L237.1 205.0L238.2 205.8L239.3 206.5L240.3 207.2L241.4 208.0L242.5 208.7L243.6 209.5L244.6 210.2L245.7 210.9L246.8 211.7L247.8 212.4L248.9 213.2L250.0 213.9L251.0 214.6L252.1 215.4L253.2 216.1L254.2 216.9L255.3 217.6L256.4 218.3L257.5 219.1L258.5 219.8L259.6 220.6L260.7 221.3"/><path class="c" stroke="#f667b7" d="M78.8 71.7L79.9 73.6L81.0 75.6L82.1 77.4L83.1 79.3L84.2 81.1L85.3 82.8L86.3 84.5L87.4 86.2L88.5 87.8L89.5 89.4L90.6 90.9L91.7 92.4L92.8 93.9L93.8 95.3L94.9 96.7L96.0 98.1L97.0 99.4L98.1 100.7L99.2 102.0L100.2 103.2L101.3 104.4L102.4 105.6L103.4 106.7L104.5 107.9L105.6 109.0L106.7 110.1L107.7 111.1L108.8 112.2L109.9 113.2L110.9 114.2L112.0 115.2L113.1 116.2L114.1 117.2L115.2 118.1L116.3 119.1L117.4 120.0L118.4 120.9L119.5 121.8L120.6 122.7L121.6 123.6L122.7 124.5L123.8 125.4L124.8 126.2L125.9 127.1L127.0 127.9L128.0 128.8L129.1 129.6L130.2 130.4L131.3 131.2L132.3 132.1L133.4 132.9L134.5 133.7L135.5 134.5L136.6 135.3L137.7 136.1L138.7 136.9L139.8 137.7L140.9 138.5L142.0 139.2L143.0 140.0L144.1 140.8L145.2 141.6L146.2 142.3L147.3 143.1L148.4 143.9L149.4 144.7L150.5 145.4L151.6 146.2L152.6 147.0L153.7 147.7L154.8 148.5L155.9 149.3L156.9 150.0L158.0 150.8L159.1 151.5L160.1 152.3L161.2 153.0L162.3 153.8L163.3 154.5L164.4 155.3L165.5 156.1L166.5 156.8L167.6 157.6L168.7 158.3L169.8 159.1L170.8 159.8L171.9 160.6L173.0 161.3L174.0 162.1L175.1 162.8L176.2 163.6L177.2 164.3L178.3 165.0L179.4 165.8L180.5 166.5L181.5 167.3L182.6 168.0L183.7 168.8L184.7 169.5L185.8 170.3L186.9 171.0L187.9 171.8L189.0 172.5L190.1 173.2L191.1 174.0L192.2 174.7L193.3 175.5L194.4 176.2L195.4 177.0L196.5 177.7L197.6 178.5L198.6 179.2L199.7 179.9L200.8 180.7L201.8 181.4L202.9 182.2L204.0 182.9L205.1 183.7L206.1 184.4L207.2 185.1L208.3 185.9L209.3 186.6L210.4 187.4L211.5 188.1L212.5 188.8L213.6 189.6L214.7 190.3L215.7 191.1L216.8 191.8L217.9 192.6L219.0 193.3L220.0 194.0L221.1 194.8L222.2 195.5L223.2 196.3L224.3 197.0L225.4 197.7L226.4 198.5L227.5 199.2L228.6 200.0L229.6 200.7L230.7 201.5L231.8 202.2L232.9 202.9L233.9 203.7L235.0 204.4L236.1 205.2L237.1 205.9L238.2 206.6L239.3 207.4L240.3 208.1L241.4 208.9L242.5 209.6L243.6 210.3L244.6 211.1L245.7 211.8L246.8 212.6L247.8 213.3L248.9 214.1L250.0 214.8L251.0 215.5L252.1 216.3L253.2 217.0L254.2 217.8L255.3 218.5L256.4 219.2L257.5 220.0L258.5 220.7"/><path class="dash d2" d="M78.8 67.8L292.8 214.1"/></g>
<path d="M121.80 202.5v-3.2M121.80 49.7v3.2M164.55 202.5v-3.2M164.55 49.7v3.2M207.30 202.5v-3.2M207.30 49.7v3.2M250.05 202.5v-3.2M250.05 49.7v3.2M79.05 68.10h3.2M292.80 68.10h-3.2M79.05 98.66h3.2M292.80 98.66h-3.2M79.05 129.22h3.2M292.80 129.22h-3.2M79.05 159.78h3.2M292.80 159.78h-3.2M79.05 190.34h3.2M292.80 190.34h-3.2" class="tick"/>
<rect x="79.05" y="49.7" width="213.75" height="152.8" class="frame"/>
<text transform="matrix(0.4676 0 0 0.4561 74.22 220.44)" font-size="40" style="">0</text>
<text transform="matrix(0.4458 0 0 0.4561 108.22 220.44)" font-size="40" style="">200</text>
<text transform="matrix(0.4381 0 0 0.4561 151.42 220.44)" font-size="40" style="">400</text>
<text transform="matrix(0.4458 0 0 0.4561 193.72 220.44)" font-size="40" style="">600</text>
<text transform="matrix(0.4439 0 0 0.4561 236.58 220.44)" font-size="40" style="">800</text>
<text transform="matrix(0.4320 0 0 0.4561 274.64 220.44)" font-size="40" style="">1000</text>
<text transform="matrix(0.4571 0 0 0.4411 51.80 76.44)" font-size="40" style="">10</text>
<text transform="matrix(0.3000 0 0 0.3327 69.65 67.17)" font-size="40" style="">0</text>
<text transform="matrix(0.4629 0 0 0.4411 41.48 107.00)" font-size="40" style="">10</text>
<text transform="matrix(0.4105 0 0 0.3390 58.68 97.81)" font-size="40" style="">−1</text>
<text transform="matrix(0.4629 0 0 0.4411 41.48 137.56)" font-size="40" style="">10</text>
<text transform="matrix(0.4105 0 0 0.3358 58.68 128.37)" font-size="40" style="">−2</text>
<text transform="matrix(0.4629 0 0 0.4411 41.48 168.12)" font-size="40" style="">10</text>
<text transform="matrix(0.4026 0 0 0.3327 58.69 158.85)" font-size="40" style="">−3</text>
<text transform="matrix(0.4629 0 0 0.4411 41.48 198.68)" font-size="40" style="">10</text>
<text transform="matrix(0.3925 0 0 0.3390 58.72 189.49)" font-size="40" style="">−4</text>
<text transform="matrix(0.5529 0 0 0.5838 194.11 251.70)" font-size="40" style="font-style:italic;stroke:none;">k</text>
<g transform="rotate(-90)"><text transform="matrix(0.5043 0 0 0.5410 -189.55 28.80)" font-size="40" style="font-style:italic;stroke:none;">D</text><text transform="matrix(0.4141 0 0 0.4381 -174.62 32.10)" font-size="40" style="">KL</text><text transform="matrix(0.4341 0 0 0.5666 -149.16 28.68)" font-size="40" style="">(</text><text transform="matrix(0.5307 0 0 0.5204 -142.31 28.64)" font-size="40" style="font-style:italic;stroke:none;">d</text><text transform="matrix(0.4100 0 0 0.4912 -132.25 23.75)" font-size="40" style="">⋆</text><text transform="matrix(0.3333 0 0 0.6200 -120.60 28.98)" font-size="40" style="">,</text><text transform="matrix(0.5333 0 0 0.5204 -112.37 28.64)" font-size="40" style="font-style:italic;stroke:none;">d</text><text transform="matrix(0.3940 0 0 0.2637 -101.49 32.18)" font-size="40" style="font-style:italic;stroke:none;">θ</text><text transform="matrix(0.3382 0 0 0.2685 -93.07 34.80)" font-size="40" style="font-style:italic;stroke:none;">k</text><text transform="matrix(0.4780 0 0 0.5666 -83.50 28.68)" font-size="40" style="">)</text></g>
</g>
</svg></body></html>
